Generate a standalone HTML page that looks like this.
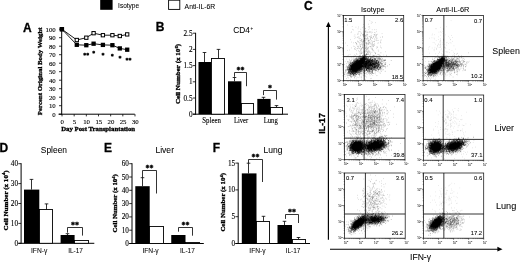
<!DOCTYPE html>
<html><head><meta charset="utf-8"><title>Figure</title>
<style>
html,body{margin:0;padding:0;background:#fff;}
svg{display:block;overflow:hidden}
#fig{filter:blur(0.4px)}
.s{font-family:'Liberation Sans', Arial, sans-serif;fill:#000;stroke:#000;stroke-width:.06px}
.t{font-family:'Liberation Serif', 'Times New Roman', serif;fill:#000;stroke:#000;stroke-width:.32px}
</style></head><body>
<svg width="520" height="262" viewBox="0 0 520 262">
<rect x="-10" y="-10" width="540" height="282" fill="#fff"/>
<g id="fig">
<rect x="100.20" y="-3.00" width="12.40" height="12.80" fill="#000"/>
<text class="s" x="118.1" y="8.3" font-size="6.7" text-anchor="start" textLength="21" lengthAdjust="spacingAndGlyphs">Isotype</text>
<rect x="168.60" y="0.20" width="11.20" height="9.20" fill="#fff" stroke="#000" stroke-width="0.9"/>
<text class="s" x="184.6" y="8.5" font-size="6.7" text-anchor="start" textLength="30.6" lengthAdjust="spacingAndGlyphs">Anti-IL-6R</text>
<text class="s" x="23.1" y="31.8" font-size="12" font-weight="bold" style="stroke-width:.3px" text-anchor="start">A</text>
<text class="s" x="155.7" y="31.4" font-size="12" font-weight="bold" style="stroke-width:.3px" text-anchor="start">B</text>
<text class="s" x="304" y="10.1" font-size="12" font-weight="bold" style="stroke-width:.3px" text-anchor="start">C</text>
<text class="s" x="-0.6" y="151.8" font-size="12" font-weight="bold" style="stroke-width:.3px" text-anchor="start">D</text>
<text class="s" x="103.9" y="152" font-size="12" font-weight="bold" style="stroke-width:.3px" text-anchor="start">E</text>
<text class="s" x="212.8" y="152" font-size="12" font-weight="bold" style="stroke-width:.3px" text-anchor="start">F</text>
<line x1="61.7" y1="28" x2="61.7" y2="114.7" stroke="#000" stroke-width="1"/>
<line x1="58.5" y1="114.2" x2="134.8" y2="114.2" stroke="#000" stroke-width="1"/>
<line x1="59.0" y1="114.2" x2="61.7" y2="114.2" stroke="#000" stroke-width="0.8"/>
<text class="t" x="55.7" y="116.8" font-size="6.8" style="stroke-width:.12px" text-anchor="end">0</text>
<line x1="59.0" y1="105.7" x2="61.7" y2="105.7" stroke="#000" stroke-width="0.8"/>
<text class="t" x="55.7" y="108.3" font-size="6.8" style="stroke-width:.12px" text-anchor="end">10</text>
<line x1="59.0" y1="97.2" x2="61.7" y2="97.2" stroke="#000" stroke-width="0.8"/>
<text class="t" x="55.7" y="99.8" font-size="6.8" style="stroke-width:.12px" text-anchor="end">20</text>
<line x1="59.0" y1="88.7" x2="61.7" y2="88.7" stroke="#000" stroke-width="0.8"/>
<text class="t" x="55.7" y="91.3" font-size="6.8" style="stroke-width:.12px" text-anchor="end">30</text>
<line x1="59.0" y1="80.2" x2="61.7" y2="80.2" stroke="#000" stroke-width="0.8"/>
<text class="t" x="55.7" y="82.8" font-size="6.8" style="stroke-width:.12px" text-anchor="end">40</text>
<line x1="59.0" y1="71.7" x2="61.7" y2="71.7" stroke="#000" stroke-width="0.8"/>
<text class="t" x="55.7" y="74.3" font-size="6.8" style="stroke-width:.12px" text-anchor="end">50</text>
<line x1="59.0" y1="63.2" x2="61.7" y2="63.2" stroke="#000" stroke-width="0.8"/>
<text class="t" x="55.7" y="65.8" font-size="6.8" style="stroke-width:.12px" text-anchor="end">60</text>
<line x1="59.0" y1="54.7" x2="61.7" y2="54.7" stroke="#000" stroke-width="0.8"/>
<text class="t" x="55.7" y="57.300000000000004" font-size="6.8" style="stroke-width:.12px" text-anchor="end">70</text>
<line x1="59.0" y1="46.2" x2="61.7" y2="46.2" stroke="#000" stroke-width="0.8"/>
<text class="t" x="55.7" y="48.800000000000004" font-size="6.8" style="stroke-width:.12px" text-anchor="end">80</text>
<line x1="59.0" y1="37.7" x2="61.7" y2="37.7" stroke="#000" stroke-width="0.8"/>
<text class="t" x="55.7" y="40.300000000000004" font-size="6.8" style="stroke-width:.12px" text-anchor="end">90</text>
<line x1="59.0" y1="29.200000000000003" x2="61.7" y2="29.200000000000003" stroke="#000" stroke-width="0.8"/>
<text class="t" x="55.7" y="31.800000000000004" font-size="6.8" style="stroke-width:.12px" text-anchor="end">100</text>
<line x1="62.0" y1="114.2" x2="62.0" y2="116.4" stroke="#000" stroke-width="0.8"/>
<text class="t" x="62.3" y="124.1" font-size="6.8" style="stroke-width:.12px" text-anchor="middle">0</text>
<line x1="74.16499999999999" y1="114.2" x2="74.16499999999999" y2="116.4" stroke="#000" stroke-width="0.8"/>
<text class="t" x="74.46499999999999" y="124.1" font-size="6.8" style="stroke-width:.12px" text-anchor="middle">5</text>
<line x1="86.33" y1="114.2" x2="86.33" y2="116.4" stroke="#000" stroke-width="0.8"/>
<text class="t" x="86.63" y="124.1" font-size="6.8" style="stroke-width:.12px" text-anchor="middle">10</text>
<line x1="98.495" y1="114.2" x2="98.495" y2="116.4" stroke="#000" stroke-width="0.8"/>
<text class="t" x="98.795" y="124.1" font-size="6.8" style="stroke-width:.12px" text-anchor="middle">15</text>
<line x1="110.66" y1="114.2" x2="110.66" y2="116.4" stroke="#000" stroke-width="0.8"/>
<text class="t" x="110.96" y="124.1" font-size="6.8" style="stroke-width:.12px" text-anchor="middle">20</text>
<line x1="122.82499999999999" y1="114.2" x2="122.82499999999999" y2="116.4" stroke="#000" stroke-width="0.8"/>
<text class="t" x="123.12499999999999" y="124.1" font-size="6.8" style="stroke-width:.12px" text-anchor="middle">25</text>
<line x1="134.99" y1="114.2" x2="134.99" y2="116.4" stroke="#000" stroke-width="0.8"/>
<text class="t" x="135.29000000000002" y="124.1" font-size="6.8" style="stroke-width:.12px" text-anchor="middle">30</text>
<text class="t" x="61.2" y="131.4" font-size="6.5" font-weight="bold" text-anchor="start" textLength="73.9" lengthAdjust="spacingAndGlyphs">Day Post Transplantation</text>
<text class="t" x="41.8" y="115.2" font-size="7" font-weight="bold" text-anchor="start" transform="rotate(-90 41.8 115.2)" textLength="87.7" lengthAdjust="spacingAndGlyphs">Percent Original Body Weight</text>
<polyline points="61.90,29.20 76.80,40.00 86.30,37.70 93.60,33.20 102.90,35.20 112.40,35.20 119.80,36.00 127.20,34.40" fill="none" stroke="#000" stroke-width="0.9"/>
<polyline points="61.90,29.20 76.80,44.80 86.30,45.20 93.60,43.70 102.90,44.90 112.40,45.20 119.80,48.40 127.20,49.70" fill="none" stroke="#000" stroke-width="0.9"/>
<rect x="60.25" y="27.55" width="3.30" height="3.30" fill="#fff" stroke="#000" stroke-width="1.0"/>
<rect x="75.15" y="38.35" width="3.30" height="3.30" fill="#fff" stroke="#000" stroke-width="1.0"/>
<rect x="84.65" y="36.05" width="3.30" height="3.30" fill="#fff" stroke="#000" stroke-width="1.0"/>
<rect x="91.95" y="31.55" width="3.30" height="3.30" fill="#fff" stroke="#000" stroke-width="1.0"/>
<rect x="101.25" y="33.55" width="3.30" height="3.30" fill="#fff" stroke="#000" stroke-width="1.0"/>
<rect x="110.75" y="33.55" width="3.30" height="3.30" fill="#fff" stroke="#000" stroke-width="1.0"/>
<rect x="118.15" y="34.35" width="3.30" height="3.30" fill="#fff" stroke="#000" stroke-width="1.0"/>
<rect x="125.55" y="32.75" width="3.30" height="3.30" fill="#fff" stroke="#000" stroke-width="1.0"/>
<rect x="59.75" y="27.05" width="4.30" height="4.30" fill="#000"/>
<rect x="74.65" y="42.65" width="4.30" height="4.30" fill="#000"/>
<rect x="84.15" y="43.05" width="4.30" height="4.30" fill="#000"/>
<rect x="91.45" y="41.55" width="4.30" height="4.30" fill="#000"/>
<rect x="100.75" y="42.75" width="4.30" height="4.30" fill="#000"/>
<rect x="110.25" y="43.05" width="4.30" height="4.30" fill="#000"/>
<rect x="117.65" y="46.25" width="4.30" height="4.30" fill="#000"/>
<rect x="125.05" y="47.55" width="4.30" height="4.30" fill="#000"/>
<text class="t" x="86.25" y="57.050000000000004" font-size="6" font-weight="bold" text-anchor="middle">**</text>
<text class="t" x="93.8" y="54.65" font-size="6" font-weight="bold" text-anchor="middle">*</text>
<text class="t" x="102.9" y="57.050000000000004" font-size="6" font-weight="bold" text-anchor="middle">*</text>
<text class="t" x="112.15" y="58.050000000000004" font-size="6" font-weight="bold" text-anchor="middle">*</text>
<text class="t" x="120" y="60.35" font-size="6" font-weight="bold" text-anchor="middle">*</text>
<text class="t" x="128.4" y="61.85" font-size="6" font-weight="bold" text-anchor="middle">**</text>
<line x1="195.6" y1="32.800000000000004" x2="195.6" y2="114.7" stroke="#000" stroke-width="1"/>
<line x1="192.79999999999998" y1="114.2" x2="288" y2="114.2" stroke="#000" stroke-width="1"/>
<line x1="192.79999999999998" y1="114.2" x2="195.6" y2="114.2" stroke="#000" stroke-width="0.8"/>
<text class="t" x="192.5" y="116.7" font-size="7.2" style="stroke-width:.12px" text-anchor="end">0</text>
<line x1="192.79999999999998" y1="98.0" x2="195.6" y2="98.0" stroke="#000" stroke-width="0.8"/>
<text class="t" x="192.5" y="100.5" font-size="7.2" style="stroke-width:.12px" text-anchor="end">0.5</text>
<line x1="192.79999999999998" y1="81.80000000000001" x2="195.6" y2="81.80000000000001" stroke="#000" stroke-width="0.8"/>
<text class="t" x="192.5" y="84.30000000000001" font-size="7.2" style="stroke-width:.12px" text-anchor="end">1</text>
<line x1="192.79999999999998" y1="65.6" x2="195.6" y2="65.6" stroke="#000" stroke-width="0.8"/>
<text class="t" x="192.5" y="68.1" font-size="7.2" style="stroke-width:.12px" text-anchor="end">1.5</text>
<line x1="192.79999999999998" y1="49.400000000000006" x2="195.6" y2="49.400000000000006" stroke="#000" stroke-width="0.8"/>
<text class="t" x="192.5" y="51.900000000000006" font-size="7.2" style="stroke-width:.12px" text-anchor="end">2</text>
<line x1="192.79999999999998" y1="33.2" x2="195.6" y2="33.2" stroke="#000" stroke-width="0.8"/>
<text class="t" x="192.5" y="35.7" font-size="7.2" style="stroke-width:.12px" text-anchor="end">2.5</text>
<line x1="204.5" y1="52.5" x2="204.5" y2="62" stroke="#000" stroke-width="0.8"/>
<line x1="202.7" y1="52.5" x2="206.3" y2="52.5" stroke="#000" stroke-width="0.8"/>
<rect x="198.50" y="62.00" width="12.50" height="52.20" fill="#000"/>
<line x1="218.5" y1="49.4" x2="218.5" y2="58.2" stroke="#000" stroke-width="0.8"/>
<line x1="216.7" y1="49.4" x2="220.3" y2="49.4" stroke="#000" stroke-width="0.8"/>
<rect x="211.50" y="58.50" width="13.00" height="55.70" fill="#fff" stroke="#000" stroke-width="0.9"/>
<line x1="234.5" y1="77.5" x2="234.5" y2="81.3" stroke="#000" stroke-width="0.8"/>
<line x1="232.7" y1="77.5" x2="236.3" y2="77.5" stroke="#000" stroke-width="0.8"/>
<rect x="228.00" y="81.30" width="13.40" height="32.90" fill="#000"/>
<rect x="241.50" y="103.50" width="12.00" height="10.70" fill="#fff" stroke="#000" stroke-width="0.9"/>
<line x1="263.5" y1="97.3" x2="263.5" y2="98.9" stroke="#000" stroke-width="0.8"/>
<line x1="261.7" y1="97.3" x2="265.3" y2="97.3" stroke="#000" stroke-width="0.8"/>
<rect x="257.30" y="98.90" width="13.30" height="15.30" fill="#000"/>
<line x1="276.5" y1="105.6" x2="276.5" y2="107.6" stroke="#000" stroke-width="0.8"/>
<line x1="274.7" y1="105.6" x2="278.3" y2="105.6" stroke="#000" stroke-width="0.8"/>
<rect x="270.50" y="107.50" width="12.00" height="6.70" fill="#fff" stroke="#000" stroke-width="0.9"/>
<text class="t" x="202.3" y="122.9" font-size="7.4" style="stroke-width:.12px" text-anchor="start" textLength="18.6" lengthAdjust="spacingAndGlyphs">Spleen</text>
<text class="t" x="234" y="122.9" font-size="7.4" style="stroke-width:.12px" text-anchor="start" textLength="14.2" lengthAdjust="spacingAndGlyphs">Liver</text>
<text class="t" x="263.8" y="122.9" font-size="7.4" style="stroke-width:.12px" text-anchor="start" textLength="13.9" lengthAdjust="spacingAndGlyphs">Lung</text>
<polyline points="234.5,76.8 234.5,72.5 246.5,72.5 246.5,86.2" fill="none" stroke="#000" stroke-width="0.8"/>
<text class="t" x="240.5" y="72.6" font-size="8" font-weight="bold" text-anchor="middle">**</text>
<polyline points="263.5,95.1 263.5,90.5 276.5,90.5 276.5,99.6" fill="none" stroke="#000" stroke-width="0.8"/>
<text class="t" x="270.0" y="90.6" font-size="8" font-weight="bold" text-anchor="middle">*</text>
<text class="t" x="180.3" y="104.1" font-size="7" font-weight="bold" text-anchor="start" transform="rotate(-90 180.3 104.1)" textLength="60.2" lengthAdjust="spacingAndGlyphs">Cell Number (x 10<tspan font-size="4.6" dy="-2.3">6</tspan><tspan dy="2.3">)</tspan></text>
<text class="s" x="233.2" y="33" font-size="8.3">CD4<tspan font-size="4.5" dy="-3.2" dx="0.6">+</tspan></text>
<line x1="21.1" y1="163.2" x2="21.1" y2="243.8" stroke="#000" stroke-width="1"/>
<line x1="18.3" y1="243.3" x2="94.3" y2="243.3" stroke="#000" stroke-width="1"/>
<line x1="18.3" y1="243.3" x2="21.1" y2="243.3" stroke="#000" stroke-width="0.8"/>
<text class="t" x="18.0" y="245.8" font-size="7.2" style="stroke-width:.12px" text-anchor="end">0</text>
<line x1="18.3" y1="223.4" x2="21.1" y2="223.4" stroke="#000" stroke-width="0.8"/>
<text class="t" x="18.0" y="225.9" font-size="7.2" style="stroke-width:.12px" text-anchor="end">10</text>
<line x1="18.3" y1="203.5" x2="21.1" y2="203.5" stroke="#000" stroke-width="0.8"/>
<text class="t" x="18.0" y="206.0" font-size="7.2" style="stroke-width:.12px" text-anchor="end">20</text>
<line x1="18.3" y1="183.6" x2="21.1" y2="183.6" stroke="#000" stroke-width="0.8"/>
<text class="t" x="18.0" y="186.1" font-size="7.2" style="stroke-width:.12px" text-anchor="end">30</text>
<line x1="18.3" y1="163.7" x2="21.1" y2="163.7" stroke="#000" stroke-width="0.8"/>
<text class="t" x="18.0" y="166.2" font-size="7.2" style="stroke-width:.12px" text-anchor="end">40</text>
<line x1="31.5" y1="179.4" x2="31.5" y2="189.6" stroke="#000" stroke-width="0.8"/>
<line x1="29.7" y1="179.4" x2="33.3" y2="179.4" stroke="#000" stroke-width="0.8"/>
<rect x="24.00" y="189.60" width="15.30" height="53.70" fill="#000"/>
<line x1="46.5" y1="203.9" x2="46.5" y2="209.6" stroke="#000" stroke-width="0.8"/>
<line x1="44.7" y1="203.9" x2="48.3" y2="203.9" stroke="#000" stroke-width="0.8"/>
<rect x="39.50" y="209.50" width="13.00" height="33.80" fill="#fff" stroke="#000" stroke-width="0.9"/>
<line x1="67.5" y1="233.7" x2="67.5" y2="235" stroke="#000" stroke-width="0.8"/>
<line x1="65.7" y1="233.7" x2="69.3" y2="233.7" stroke="#000" stroke-width="0.8"/>
<rect x="60.60" y="235.00" width="14.00" height="8.30" fill="#000"/>
<rect x="74.50" y="240.50" width="14.00" height="2.80" fill="#fff" stroke="#000" stroke-width="0.9"/>
<text class="s" x="31" y="252.5" font-size="6.4" text-anchor="start" textLength="16.3" lengthAdjust="spacingAndGlyphs">IFN-γ</text>
<text class="s" x="68.2" y="252.5" font-size="6.4" text-anchor="start" textLength="14.8" lengthAdjust="spacingAndGlyphs">IL-17</text>
<polyline points="67.5,232.7 67.5,227.5 82.5,227.5 82.5,235.6" fill="none" stroke="#000" stroke-width="0.8"/>
<text class="t" x="75.0" y="227.6" font-size="8" font-weight="bold" text-anchor="middle">**</text>
<text class="t" x="7.6" y="230.4" font-size="7" font-weight="bold" text-anchor="start" transform="rotate(-90 7.6 230.4)" textLength="60" lengthAdjust="spacingAndGlyphs">Cell Number (x 10<tspan font-size="4.6" dy="-2.3">4</tspan><tspan dy="2.3">)</tspan></text>
<text class="s" x="40.8" y="152.5" font-size="9" text-anchor="start" textLength="26.2" lengthAdjust="spacingAndGlyphs">Spleen</text>
<line x1="132" y1="163.2" x2="132" y2="244.0" stroke="#000" stroke-width="1"/>
<line x1="129.2" y1="243.5" x2="203.8" y2="243.5" stroke="#000" stroke-width="1"/>
<line x1="129.2" y1="243.5" x2="132" y2="243.5" stroke="#000" stroke-width="0.8"/>
<text class="t" x="128.9" y="246.0" font-size="7.2" style="stroke-width:.12px" text-anchor="end">0</text>
<line x1="129.2" y1="230.2" x2="132" y2="230.2" stroke="#000" stroke-width="0.8"/>
<text class="t" x="128.9" y="232.7" font-size="7.2" style="stroke-width:.12px" text-anchor="end">10</text>
<line x1="129.2" y1="216.9" x2="132" y2="216.9" stroke="#000" stroke-width="0.8"/>
<text class="t" x="128.9" y="219.4" font-size="7.2" style="stroke-width:.12px" text-anchor="end">20</text>
<line x1="129.2" y1="203.6" x2="132" y2="203.6" stroke="#000" stroke-width="0.8"/>
<text class="t" x="128.9" y="206.1" font-size="7.2" style="stroke-width:.12px" text-anchor="end">30</text>
<line x1="129.2" y1="190.29999999999998" x2="132" y2="190.29999999999998" stroke="#000" stroke-width="0.8"/>
<text class="t" x="128.9" y="192.79999999999998" font-size="7.2" style="stroke-width:.12px" text-anchor="end">40</text>
<line x1="129.2" y1="177.0" x2="132" y2="177.0" stroke="#000" stroke-width="0.8"/>
<text class="t" x="128.9" y="179.5" font-size="7.2" style="stroke-width:.12px" text-anchor="end">50</text>
<line x1="129.2" y1="163.7" x2="132" y2="163.7" stroke="#000" stroke-width="0.8"/>
<text class="t" x="128.9" y="166.2" font-size="7.2" style="stroke-width:.12px" text-anchor="end">60</text>
<line x1="142.5" y1="177.7" x2="142.5" y2="186.2" stroke="#000" stroke-width="0.8"/>
<line x1="140.7" y1="177.7" x2="144.3" y2="177.7" stroke="#000" stroke-width="0.8"/>
<rect x="135.30" y="186.20" width="14.40" height="57.30" fill="#000"/>
<rect x="149.50" y="226.50" width="14.00" height="17.00" fill="#fff" stroke="#000" stroke-width="0.9"/>
<rect x="171.25" y="235.00" width="14.25" height="8.50" fill="#000"/>
<rect x="185.50" y="242.50" width="14.00" height="1.00" fill="#fff" stroke="#000" stroke-width="0.9"/>
<text class="s" x="142.4" y="252.5" font-size="6.4" text-anchor="start" textLength="16.3" lengthAdjust="spacingAndGlyphs">IFN-γ</text>
<text class="s" x="180" y="252.5" font-size="6.4" text-anchor="start" textLength="14.8" lengthAdjust="spacingAndGlyphs">IL-17</text>
<polyline points="142.5,177.7 142.5,170.5 156.5,170.5 156.5,193.5" fill="none" stroke="#000" stroke-width="0.8"/>
<text class="t" x="149.5" y="170.6" font-size="8" font-weight="bold" text-anchor="middle">**</text>
<polyline points="178.5,231.7 178.5,227.5 192.5,227.5 192.5,235.7" fill="none" stroke="#000" stroke-width="0.8"/>
<text class="t" x="185.5" y="227.6" font-size="8" font-weight="bold" text-anchor="middle">**</text>
<text class="t" x="116.9" y="232.4" font-size="7" font-weight="bold" text-anchor="start" transform="rotate(-90 116.9 232.4)" textLength="58.2" lengthAdjust="spacingAndGlyphs">Cell Number (x 10<tspan font-size="4.6" dy="-2.3">4</tspan><tspan dy="2.3">)</tspan></text>
<text class="s" x="155.4" y="152.6" font-size="9" text-anchor="start" textLength="18.6" lengthAdjust="spacingAndGlyphs">Liver</text>
<line x1="238.2" y1="162.7" x2="238.2" y2="244.0" stroke="#000" stroke-width="1"/>
<line x1="235.39999999999998" y1="243.5" x2="310" y2="243.5" stroke="#000" stroke-width="1"/>
<line x1="235.39999999999998" y1="243.5" x2="238.2" y2="243.5" stroke="#000" stroke-width="0.8"/>
<text class="t" x="235.1" y="246.0" font-size="7.2" style="stroke-width:.12px" text-anchor="end">0</text>
<line x1="235.39999999999998" y1="216.7" x2="238.2" y2="216.7" stroke="#000" stroke-width="0.8"/>
<text class="t" x="235.1" y="219.2" font-size="7.2" style="stroke-width:.12px" text-anchor="end">5</text>
<line x1="235.39999999999998" y1="189.9" x2="238.2" y2="189.9" stroke="#000" stroke-width="0.8"/>
<text class="t" x="235.1" y="192.4" font-size="7.2" style="stroke-width:.12px" text-anchor="end">10</text>
<line x1="235.39999999999998" y1="163.1" x2="238.2" y2="163.1" stroke="#000" stroke-width="0.8"/>
<text class="t" x="235.1" y="165.6" font-size="7.2" style="stroke-width:.12px" text-anchor="end">15</text>
<line x1="248.5" y1="163.2" x2="248.5" y2="173.4" stroke="#000" stroke-width="0.8"/>
<line x1="246.7" y1="163.2" x2="250.3" y2="163.2" stroke="#000" stroke-width="0.8"/>
<rect x="241.80" y="173.40" width="14.70" height="70.10" fill="#000"/>
<line x1="263.5" y1="216.3" x2="263.5" y2="221.5" stroke="#000" stroke-width="0.8"/>
<line x1="261.7" y1="216.3" x2="265.3" y2="216.3" stroke="#000" stroke-width="0.8"/>
<rect x="256.50" y="221.50" width="13.00" height="22.00" fill="#fff" stroke="#000" stroke-width="0.9"/>
<line x1="284.5" y1="221.3" x2="284.5" y2="225" stroke="#000" stroke-width="0.8"/>
<line x1="282.7" y1="221.3" x2="286.3" y2="221.3" stroke="#000" stroke-width="0.8"/>
<rect x="277.50" y="225.00" width="14.50" height="18.50" fill="#000"/>
<line x1="298.5" y1="237.5" x2="298.5" y2="239" stroke="#000" stroke-width="0.8"/>
<line x1="296.7" y1="237.5" x2="300.3" y2="237.5" stroke="#000" stroke-width="0.8"/>
<rect x="292.50" y="239.50" width="13.00" height="4.00" fill="#fff" stroke="#000" stroke-width="0.9"/>
<text class="s" x="249.3" y="252.5" font-size="6.4" text-anchor="start" textLength="16.3" lengthAdjust="spacingAndGlyphs">IFN-γ</text>
<text class="s" x="285.6" y="252.5" font-size="6.4" text-anchor="start" textLength="14.8" lengthAdjust="spacingAndGlyphs">IL-17</text>
<polyline points="248.5,163 248.5,159.5 262.5,159.5 262.5,182" fill="none" stroke="#000" stroke-width="0.8"/>
<text class="t" x="255.5" y="159.6" font-size="8" font-weight="bold" text-anchor="middle">**</text>
<polyline points="285.5,218.9 285.5,214.5 298.5,214.5 298.5,223" fill="none" stroke="#000" stroke-width="0.8"/>
<text class="t" x="292.0" y="214.6" font-size="8" font-weight="bold" text-anchor="middle">**</text>
<text class="t" x="225.2" y="231.6" font-size="7" font-weight="bold" text-anchor="start" transform="rotate(-90 225.2 231.6)" textLength="58.6" lengthAdjust="spacingAndGlyphs">Cell Number (x 10<tspan font-size="4.6" dy="-2.3">4</tspan><tspan dy="2.3">)</tspan></text>
<text class="s" x="263.4" y="152.5" font-size="9" text-anchor="start" textLength="19" lengthAdjust="spacingAndGlyphs">Lung</text>
<text class="s" x="361" y="11.5" font-size="7.2" text-anchor="start" textLength="23.6" lengthAdjust="spacingAndGlyphs">Isotype</text>
<text class="s" x="436.3" y="11.5" font-size="7.2" text-anchor="start" textLength="33" lengthAdjust="spacingAndGlyphs">Anti-IL-6R</text>
<text class="s" x="492.3" y="54.2" font-size="8.8" text-anchor="start" textLength="27.6" lengthAdjust="spacingAndGlyphs">Spleen</text>
<text class="s" x="494.5" y="130.7" font-size="8.8" text-anchor="start" textLength="19.6" lengthAdjust="spacingAndGlyphs">Liver</text>
<text class="s" x="495.9" y="208.7" font-size="8.8" text-anchor="start" textLength="20.4" lengthAdjust="spacingAndGlyphs">Lung</text>
<text class="s" x="325.2" y="133.7" font-size="8.8" font-weight="bold" style="stroke-width:.3px" text-anchor="start" transform="rotate(-90 325.2 133.7)" textLength="20.6" lengthAdjust="spacingAndGlyphs">IL-17</text>
<text class="s" x="410.0" y="259.6" font-size="8.6" text-anchor="start">IFN-γ</text>
<line x1="328.4" y1="26" x2="328.4" y2="239.7" stroke="#000" stroke-width="1.15"/>
<polygon points="328.4,21.7 326,26.9 330.8,26.9" fill="#000"/>
<line x1="330" y1="249.2" x2="498" y2="249.2" stroke="#000" stroke-width="1.15"/>
<polygon points="502.5,249.2 497.4,246.8 497.4,251.6" fill="#000"/>
<rect x="343.5" y="15.4" width="60.20" height="65.30" fill="#fff" stroke="#111" stroke-width="0.75"/>
<path transform="scale(.1)" d="M3661 538h5m-26 6h5m15 0h5m1 1h5m-72 13h5m19-3h5m-1 0h5m5 1h5m-1-2h5m-3 1h5m3 3h5m-4 1h5m1-9h5m-77 18h5m2-7h5m-1 1h5m5 6h5m16 0h5m-2 0h5m0-2h5m-5 3h5m-4-3h5m-5 3h5m-2-2h5m-3-2h5m-2-2h5m-4 5h5m5-6h5m-95 17h5m7-9h5m10 9h5m3-1h5m2 1h5m-3-3h5m1-3h5m-2 4h5m-4-1h5m-5-3h5m0 0h5m-3-2h5m-5 2h5m-5 5h5m-3-6h5m-5 6h5m-4 1h5m-4-6h5m-3 5h5m-5-1h5m-4-3h5m-4-2h5m-5 2h5m-5 2h5m-4 1h5m-4 2h5m-5-6h5m-4-1h5m-2-2h5m-4 7h5m-4 0h5m-4-2h5m-3-2h5m-5 6h5m-1-2h5m-4-7h5m-3 0h5m-4 7h5m4 1h5m-113 7h5m0 1h5m18 1h5m5-2h5m-4-2h5m-1 1h5m-2-4h5m0 6h5m-4 0h5m-5-1h5m-5 2h5m-4 2h5m-4-4h5m-5-1h5m-4-1h5m-5 2h5m-3 2h5m-4-1h5m-1 2h5m-4 1h5m-4-1h5m-5-7h5m-4 7h5m-5-4h5m-4 2h5m-4 1h5m-4-3h5m-5 2h5m-5 3h5m-4-4h5m-5 3h5m0 0h5m-4-5h5m-3 4h5m-4 2h5m-3-2h5m-5-1h5m-4-4h5m-4-2h5m-4 2h5m-5 5h5m-5-1h5m-4-2h5m-4 4h5m-3-4h5m-4-3h5m-4 2h5m-5 4h5m-4-4h5m-4 1h5m-2 0h5m-2 2h5m0-6h5m-2 6h5m-4-6h5m-3 4h5m-5-4h5m0 8h5m-120 5h5m-1 3h5m3-3h5m-4-2h5m-2 6h5m-4-1h5m1-4h5m-5 6h5m-2-3h5m3 3h5m-4-5h5m1-3h5m-1 4h5m-5-3h5m-4 3h5m-5-2h5m-4 4h5m-4-2h5m-2-1h5m-5-1h5m-4 7h5m-3-1h5m-4-4h5m-3 0h5m-5 4h5m-4 1h5m-4-7h5m-5 6h5m-4-2h5m-3-1h5m-5 4h5m-4 0h5m-5-3h5m-4-6h5m-5 1h5m-4 1h5m-4 3h5m-4-5h5m-5 1h5m-5 3h5m-4 1h5m-5 3h5m-4-8h5m-4 3h5m-5 3h5m-4-1h5m-3-1h5m-4-3h5m-5 3h5m-4 0h5m-5 2h5m-5 2h5m-5-8h5m-5 1h5m-3 6h5m-5-1h5m-5-6h5m-5 1h5m-4 4h5m-5-3h5m-4 4h5m-4 0h5m-5-1h5m-3 3h5m-5-6h5m-5 3h5m-5-1h5m-4-4h5m-5 4h5m-3-2h5m-3 1h5m-5 2h5m-5 2h5m-4 1h5m-4-6h5m-5 3h5m-5 3h5m-3-1h5m-3-3h5m-5-2h5m-4 2h5m-4 0h5m-2 4h5m-5-6h5m-2 2h5m-4-1h5m4-3h5m1 4h5m-144 15h5m1-5h5m4 3h5m-4-7h5m-2 9h5m1-9h5m-4 9h5m-4-3h5m-2 3h5m-2-2h5m-5 2h5m-4-4h5m-5 3h5m-2 0h5m-4-5h5m-3 1h5m-1 1h5m-5-1h5m-4 1h5m-5 1h5m-4 3h5m-5-1h5m-4 0h5m-4 0h5m-5-6h5m0 5h5m-4 2h5m-5-1h5m-3-1h5m-3 1h5m-4 1h5m-4-4h5m-3-5h5m-4 9h5m-4-2h5m-5 2h5m-4-8h5m-4 6h5m-5-1h5m-4-1h5m-5 2h5m-4 0h5m-5 1h5m-4-2h5m-4 2h5m-3-6h5m-4 4h5m-5 3h5m-4-9h5m-3 5h5m-4-2h5m-4 3h5m-5 2h5m-5-8h5m-4 0h5m-4 4h5m-5 1h5m-4-1h5m-5 3h5m-4 2h5m-4-2h5m-5 2h5m-5-7h5m-3-1h5m-5 2h5m-5 2h5m-4 4h5m-5-6h5m-5 2h5m-4-2h5m-5 6h5m-5-7h5m-4 1h5m-5 4h5m-5-1h5m-4-4h5m-5 3h5m-4-3h5m-5 7h5m-5-1h5m-4 0h5m-5-6h5m-4 0h5m-3-2h5m-5 2h5m-5 2h5m-5 2h5m-2 0h5m-5-6h5m-4 0h5m-5 1h5m-4-1h5m-4 0h5m-5 2h5m-5-1h5m-4 4h5m-5-4h5m-2 7h5m-5-2h5m-4-5h5m-3 0h5m-5 5h5m-2-6h5m-3 5h5m-3-2h5m-4-2h5m-4-1h5m-4 4h5m-151 8h5m25 7h5m7-4h5m-4 3h5m-4-4h5m-2 3h5m-5-3h5m-3 4h5m-4 1h5m-5-1h5m-2-5h5m-4 5h5m-2-3h5m-5 3h5m-2-8h5m-5 2h5m-4-1h5m-3 7h5m-5-5h5m-3 1h5m-5 1h5m-4-1h5m-4 2h5m-4-5h5m-5 2h5m-4-2h5m-5 2h5m-4-2h5m-2 0h5m-4 6h5m-5-6h5m-1 2h5m-5 2h5m-5 3h5m-3-2h5m-4 2h5m-5-5h5m-4 0h5m-3 5h5m-4 0h5m-4-7h5m-5 2h5m-4 1h5m-5 1h5m-5 4h5m-4-8h5m-5 3h5m-5 4h5m-4 1h5m-3-8h5m-4 6h5m-5 2h5m-4-2h5m-5-7h5m-3 9h5m-4-2h5m-5-4h5m-4 5h5m-5-8h5m-4 2h5m-5 2h5m-5 5h5m-4-9h5m-4 5h5m-3-4h5m-5 5h5m-5 3h5m-4-8h5m-5 2h5m-4 3h5m-4-4h5m-5 4h5m-5 2h5m-4-3h5m-4 2h5m-5-7h5m-4 3h5m-4 0h5m-5 3h5m-4-2h5m-5-1h5m-4 1h5m-5 2h5m-5-1h5m-5 2h5m-3-1h5m-5-1h5m-5 3h5m-5-7h5m-5-1h5m-4 1h5m-4-1h5m-5 7h5m-4 1h5m-5-1h5m-5-7h5m-4 8h5m-5-8h5m-5 2h5m-4-2h5m-5 8h5m-4-7h5m-5 8h5m-5-1h5m-4-5h5m-5 3h5m-5-1h5m-5 2h5m-4-3h5m-5 1h5m-5 3h5m-4-5h5m-5-3h5m-4 0h5m-4 8h5m-4-7h5m-4 7h5m-5-6h5m-5-1h5m-5 2h5m-3 1h5m-4-4h5m-5 2h5m-2 2h5m-2 1h5m-3-5h5m-5 6h5m-3-6h5m-3 9h5m-4-7h5m0 4h5m7-3h5m2-2h5m-172 17h5m13-8h5m-5 5h5m-1 1h5m-2-3h5m-5 5h5m1-2h5m6-1h5m-5-1h5m-4 4h5m-3-1h5m-5-3h5m1 3h5m-4 0h5m-4-1h5m-2 0h5m-5-1h5m-5-3h5m-3-1h5m-4 3h5m-5 5h5m-3-3h5m-5-1h5m-4 3h5m-5 1h5m-3-9h5m-4 6h5m-4 1h5m-4 2h5m-4-1h5m-3-4h5m-5-1h5m-5 2h5m-5 2h5m-5 2h5m-4-8h5m-5 3h5m-3 3h5m-4-6h5m-4 3h5m-5 5h5m-5-8h5m-4 5h5m-5 1h5m-5 2h5m-4-6h5m-4 4h5m-4-3h5m-5-1h5m-4 4h5m-5-7h5m-4 4h5m-4-1h5m-5 4h5m-4 0h5m-5-4h5m-4 6h5m-4-4h5m-5 3h5m-4-2h5m-5-1h5m-4-5h5m-5 8h5m-4-1h5m-4 0h5m-4-1h5m-4-4h5m-5 2h5m-4-4h5m-5 2h5m-4 0h5m-5 3h5m-4 3h5m-5-4h5m-5-1h5m-5 2h5m-4 0h5m-5 2h5m-5-4h5m-4 3h5m-5 2h5m-4-1h5m-5-5h5m-4 3h5m-4-1h5m-4 5h5m-4-3h5m-5 1h5m-4-7h5m-5 4h5m-4 0h5m-5 2h5m-5-5h5m-4-1h5m-4 0h5m-5 6h5m-4-2h5m-5-4h5m-4 8h5m-5-1h5m-5-6h5m-4 5h5m-5-5h5m-4 8h5m-5-8h5m-4 5h5m-4 3h5m-4-3h5m-5-6h5m-4 3h5m-4-3h5m-3 0h5m-5 8h5m-5-1h5m-4-7h5m-4 8h5m-5-1h5m-4-1h5m-5 2h5m-4 0h5m-4-8h5m-3 2h5m-4-2h5m-5 3h5m-4 2h5m-5 3h5m-5-6h5m-1 1h5m-5-1h5m-4 5h5m-5-4h5m-5-1h5m-4 5h5m-2 1h5m-4-7h5m-5 7h5m-4-2h5m-3-4h5m-5-2h5m-4 2h5m-5 7h5m-2 0h5m1-5h5m-149 15h5m1-5h5m-5 4h5m5 1h5m-3-4h5m-4 2h5m0-2h5m-3 1h5m-4 0h5m-4-2h5m-5 3h5m-4 0h5m-4-4h5m-4-3h5m-5 1h5m-4 6h5m-4-7h5m-4 5h5m0 1h5m-5 2h5m-5-1h5m-4 0h5m-4-1h5m-2-1h5m-4-5h5m-5 6h5m-5 1h5m-3-2h5m-4 3h5m-1-8h5m-5 4h5m-4 2h5m-5 2h5m-5-5h5m-5-1h5m-3 1h5m-4 2h5m-5-3h5m-4 7h5m-5-8h5m-5 4h5m-4-1h5m-5 4h5m-5 1h5m-4-4h5m-5 3h5m-4-8h5m-5 4h5m-5 4h5m-4-8h5m-5 4h5m-5 4h5m-5-7h5m-4 3h5m-4 2h5m-4 2h5m-5-1h5m-4-4h5m-4 0h5m-5 2h5m-5 4h5m-4-3h5m-5 2h5m-4-4h5m-4 4h5m-4-1h5m-4-1h5m-5 3h5m-4-4h5m-4 2h5m-4 0h5m-4-1h5m-4-6h5m-5 8h5m-4-4h5m-4-3h5m-4 8h5m-5-6h5m-5 2h5m-3 0h5m-5-1h5m-5 5h5m-4 0h5m-5-8h5m-5 2h5m-5-1h5m-5 2h5m-5 3h5m-4-4h5m-5 2h5m-4 3h5m-4-4h5m-5 2h5m-5 1h5m-5-6h5m-5-1h5m-4 4h5m-4 5h5m-5-9h5m-4 1h5m-4 7h5m-5-8h5m-5 3h5m-4 5h5m-5-3h5m-4 2h5m-5 2h5m-4-2h5m-5-5h5m-4 6h5m-5 1h5m-4-9h5m-5 5h5m-4-5h5m-5 3h5m-5 4h5m-4 2h5m-4-4h5m-5-1h5m-5 5h5m-4-7h5m-5 4h5m-4-5h5m-3 1h5m-5 3h5m-5 1h5m-4 2h5m-5-1h5m-5-6h5m-4 6h5m-5 2h5m-5-8h5m-4 3h5m-5 1h5m-4 0h5m-4 4h5m-5-8h5m-5 7h5m-4 1h5m-5-8h5m-4 6h5m-4-3h5m-3 4h5m-4-7h5m-5-1h5m-4 9h5m-5-1h5m-5-5h5m-5 1h5m-4-1h5m-5-3h5m-4 3h5m-5 1h5m-2 2h5m-5-6h5m-5 5h5m-4-1h5m-5-4h5m-4 1h5m-4-1h5m-4 7h5m-3 1h5m-4-4h5m-2 1h5m-4-1h5m-3 1h5m-1 3h5m0-3h5m4-1h5m-4-3h5m-3 7h5m-3 1h5m10-9h5m-188 16h5m-4-1h5m1 1h5m13 0h5m-4 3h5m-5-2h5m-2-1h5m-4 0h5m-4 1h5m-5 2h5m-5-8h5m0 3h5m-4 1h5m-2 3h5m-5-1h5m-4 2h5m-4-9h5m-5 3h5m-2 3h5m-4-6h5m-5 5h5m-5-1h5m-5 5h5m-3 0h5m-4-3h5m-4 0h5m-4-2h5m-3-1h5m-5-1h5m-4 2h5m-5 4h5m-5-1h5m-4 0h5m-5 1h5m-4 1h5m-5-9h5m-5 5h5m-5-1h5m-4 5h5m-5-6h5m-5-1h5m-4-1h5m-5 6h5m-4-5h5m-5 3h5m-5-4h5m-4 8h5m-5-1h5m-4-3h5m-3 2h5m-5-7h5m-5 9h5m-4-2h5m-5-6h5m-4 0h5m-5 2h5m-5 1h5m-5-4h5m-4 9h5m-5-6h5m-5 1h5m-4 4h5m-5-1h5m-3 0h5m-5-6h5m-5 1h5m-4 3h5m-5-1h5m-5 5h5m-4-3h5m-4 2h5m-5-6h5m-4-2h5m-5 3h5m-5 3h5m-4 3h5m-5-6h5m-5-1h5m-5 4h5m-5 2h5m-4-8h5m-5 4h5m-5 2h5m-5 1h5m-5 2h5m-4-9h5m-5 3h5m-5 2h5m-5-1h5m-5 3h5m-5-1h5m-5 2h5m-4-1h5m-5-1h5m-5 3h5m-4-7h5m-5 6h5m-3-1h5m-5-4h5m-4 2h5m-5 2h5m-5-1h5m-5 3h5m-5-9h5m-5 2h5m-5-1h5m-4 3h5m-3 2h5m-5 3h5m-4-1h5m-5-6h5m-5 1h5m-5 1h5m-4 0h5m-5 2h5m-5 2h5m-4-1h5m-5-7h5m-4 8h5m-5-8h5m-5 1h5m-5 2h5m-5-1h5m-5 5h5m-5-1h5m-4 1h5m-5 1h5m-5-7h5m-4 4h5m-5 1h5m-4-6h5m-5 2h5m-5 3h5m-5 2h5m-4-4h5m-5-1h5m-5 6h5m-5-1h5m-4-5h5m-4 0h5m-5 3h5m-4 1h5m-4-5h5m-5 2h5m-5 2h5m-5 4h5m-5-1h5m-4-8h5m-4 4h5m-5 5h5m-4-7h5m-5 3h5m-4-1h5m-5 4h5m-5-5h5m-5-1h5m-3 2h5m-5 4h5m-5-8h5m-4 5h5m-5 1h5m-5 2h5m-4-8h5m-5 1h5m-5 3h5m-5 2h5m-4 2h5m-5-2h5m-4 0h5m-5 3h5m-4-9h5m-5 5h5m-5 2h5m-4-7h5m-4 5h5m-5-1h5m-5 2h5m-5 3h5m-3-6h5m-5 2h5m-4-2h5m-5 6h5m-4-2h5m-5 2h5m-4-9h5m-4 3h5m-5 6h5m-4-9h5m-5 1h5m-3 5h5m-5 3h5m-4-1h5m-5-6h5m-4 7h5m-5-3h5m-4-4h5m-3-1h5m-5 3h5m-5 5h5m-5-1h5m-4-3h5m-5 1h5m-3-4h5m-1 5h5m-5-7h5m-5 2h5m-1 4h5m-4 0h5m-5-1h5m-3-1h5m-4-1h5m-4-1h5m-4 0h5m-5 1h5m-3 2h5m2-1h5m-2-1h5m-4 0h5m-5-3h5m0 9h5m-4-5h5m-3 0h5m4-2h5m-182 17h5m1-6h5m-1 6h5m0 0h5m-3-4h5m-3-3h5m-4 6h5m-5 1h5m-2-8h5m-5 3h5m1 0h5m-4 4h5m-4-4h5m-2-3h5m-5 8h5m-2-1h5m-4-1h5m-5 2h5m-4-1h5m-4-3h5m-5-1h5m-4 0h5m-5 3h5m-5-7h5m-3 8h5m-5-4h5m-3-1h5m-3 1h5m-5 3h5m-5-1h5m-5 2h5m-4-5h5m-4-3h5m-3 5h5m-5 3h5m-4-3h5m-5 3h5m-4-5h5m-5 3h5m-4-1h5m-5 2h5m-5 2h5m-4 0h5m-5-1h5m-5-4h5m-4 2h5m-5 3h5m-5-8h5m-5 1h5m-4 0h5m-5 1h5m-3-1h5m-5 5h5m-3-5h5m-4 6h5m-4-3h5m-5-1h5m-5 3h5m-4-7h5m-5 2h5m-5 1h5m-5 2h5m-4-3h5m-5 2h5m-5 2h5m-5 2h5m-4-3h5m-5-1h5m-5 2h5m-5 3h5m-5-8h5m-4 4h5m-4-1h5m-5-3h5m-4 4h5m-5-1h5m-4-1h5m-5 6h5m-5-7h5m-4 1h5m-4 0h5m-5 2h5m-5-5h5m-4 9h5m-5-7h5m-5 2h5m-5 3h5m-4-3h5m-5 3h5m-5 2h5m-5-7h5m-4 4h5m-5 3h5m-5-7h5m-5 3h5m-5-1h5m-4 4h5m-5-7h5m-5 3h5m-4 3h5m-5 2h5m-5-1h5m-5-5h5m-4 2h5m-5-1h5m-5 3h5m-5 2h5m-3-5h5m-5 2h5m-4-4h5m-4 2h5m-5 2h5m-4-6h5m-5 7h5m-5-1h5m-4-2h5m-5 2h5m-5 2h5m-4-5h5m-5 2h5m-5 3h5m-5-8h5m-5 1h5m-4 7h5m-5-6h5m-4 5h5m-5-1h5m-5-6h5m-5 3h5m-5-1h5m-5 3h5m-4 3h5m-5-8h5m-5 1h5m-4 5h5m-5-1h5m-4-1h5m-5 1h5m-4 0h5m-5 2h5m-5-1h5m-5 3h5m-5-6h5m-4 3h5m-5 3h5m-5-1h5m-5-7h5m-4 7h5m-5-6h5m-5 3h5m-4 2h5m-5-1h5m-5 3h5m-3-1h5m-5-8h5m-5 3h5m-5 3h5m-5-1h5m-4-4h5m-5 4h5m-5 1h5m-5 2h5m-4-3h5m-4 2h5m-5 2h5m-5-9h5m-5 2h5m-4-2h5m-5 1h5m-5 2h5m-5 3h5m-5 1h5m-5 2h5m-4-2h5m-5 2h5m-5-9h5m-5 2h5m-5-1h5m-4 6h5m-5-1h5m-4-5h5m-5 2h5m-5 6h5m-5-1h5m-5-8h5m-4 6h5m-5 3h5m-4-8h5m-5 3h5m-5 2h5m-5 1h5m-5 1h5m-5-8h5m-4 7h5m-5 2h5m-5-1h5m-5-7h5m-4 8h5m-5-8h5m-4 4h5m-4-5h5m-5 2h5m-5 1h5m-5 3h5m-4-1h5m-5-2h5m-4 1h5m-5 5h5m-4-1h5m-4-5h5m-5 3h5m-4-4h5m-4 6h5m-5-6h5m-4 5h5m-5 2h5m-4-8h5m-5 4h5m-4 1h5m-4-2h5m-5 5h5m-5-9h5m-4 4h5m-5 5h5m-5-1h5m-4-4h5m-5-2h5m-4 0h5m-5 7h5m-4 0h5m-5-7h5m-4 4h5m-5 3h5m-4-9h5m-4 3h5m1 2h5m-5-3h5m-3-1h5m-5 2h5m-2 3h5m-5 2h5m-4-5h5m-5 5h5m-3 1h5m-4-3h5m-3-6h5m-3 8h5m0-2h5m-5 3h5m-2-8h5m-1 1h5m-150 15h5m0 0h5m0-5h5m-4 3h5m-3-5h5m-5 1h5m-4 4h5m-4-5h5m-5 2h5m-5 2h5m-4-1h5m-5 4h5m-2-6h5m-4 1h5m-5 7h5m-2 0h5m-4-1h5m0-5h5m-5 2h5m-4 1h5m-4-6h5m-5 2h5m-4 2h5m-4 3h5m-5 2h5m-4-2h5m-4-1h5m-5 3h5m-4 0h5m-4-4h5m-5 3h5m-5-7h5m-4 6h5m-5 2h5m-5-1h5m-4-5h5m-5 4h5m-5 1h5m-4-5h5m-4-2h5m-5 2h5m-5 6h5m-5-1h5m-5-6h5m-4 3h5m-5 2h5m-5-5h5m-4 1h5m-5 3h5m-5-1h5m-4 1h5m-5 3h5m-5-2h5m-4 0h5m-5-7h5m-4 3h5m-5 5h5m-5-7h5m-5-1h5m-5 2h5m-5 2h5m-4-4h5m-5 5h5m-4 2h5m-5-7h5m-5 4h5m-4-2h5m-5-1h5m-5 3h5m-5 1h5m-4-5h5m-5 2h5m-5 1h5m-5 5h5m-4-6h5m-5 4h5m-5-6h5m-4 0h5m-4 1h5m-5 2h5m-5 4h5m-5 1h5m-4 1h5m-5-9h5m-5 2h5m-4 3h5m-5 3h5m-5 1h5m-4-4h5m-5 2h5m-5-6h5m-5 3h5m-4-3h5m-5 3h5m-4-1h5m-5 5h5m-4-5h5m-5 4h5m-5-3h5m-4 0h5m-5-4h5m-5 2h5m-4 6h5m-4 1h5m-5-1h5m-5-7h5m-4 7h5m-5-4h5m-5-1h5m-5 3h5m-4 2h5m-5-8h5m-5 6h5m-5-1h5m-4-5h5m-5 2h5m-4-1h5m-5 4h5m-5 4h5m-4-2h5m-4-5h5m-5-1h5m-5 3h5m-5-1h5m-5 6h5m-5-1h5m-4-4h5m-5 1h5m-5 4h5m-4 0h5m-5-1h5m-5-8h5m-4 3h5m-5 6h5m-4-8h5m-5-1h5m-5 6h5m-5 1h5m-4 0h5m-5 1h5m-5-6h5m-5 2h5m-4-3h5m-5 2h5m-5 4h5m-5 1h5m-5-6h5m-4 5h5m-5-1h5m-5 3h5m-5-9h5m-5 2h5m-5-1h5m-5 2h5m-4 0h5m-5 5h5m-5-1h5m-5-6h5m-5 1h5m-5 2h5m-4 2h5m-5 3h5m-4 0h5m-5-7h5m-5-1h5m-5 5h5m-4-4h5m-5 4h5m-4-2h5m-5-1h5m-5 3h5m-4 1h5m-5-2h5m-5 3h5m-4-8h5m-5 3h5m-5 2h5m-5 2h5m-5 2h5m-4-7h5m-5 2h5m-4 4h5m-4-8h5m-5 2h5m-5 5h5m-4-5h5m-5 2h5m-5-1h5m-5 5h5m-5-1h5m-5 2h5m-4-6h5m-5 5h5m-4-6h5m-5 7h5m-4-3h5m-5-2h5m-4 3h5m-5 2h5m-5-1h5m-5-7h5m-5-1h5m-4 3h5m-5 2h5m-5 3h5m-4 0h5m-5-6h5m-5 2h5m-4-3h5m-5-1h5m-5 3h5m-5-1h5m-4 1h5m-5 2h5m-4-4h5m-5-1h5m-4 5h5m-4 4h5m-5-7h5m-4-2h5m-4 7h5m-4-6h5m-5 3h5m-5 2h5m-5 3h5m-4-3h5m-4-3h5m-5 2h5m-3-1h5m-4-2h5m-5 2h5m-5 1h5m-5 4h5m0-4h5m-5 4h5m-5-9h5m-4 6h5m-4 2h5m-3-4h5m-5 1h5m-4 3h5m-5-7h5m-4 1h5m-4 6h5m-5-6h5m-5 4h5m-3-5h5m-5 5h5m-5 1h5m-4-7h5m-4 4h5m-5 4h5m-4-6h5m-3 3h5m-2-3h5m-5 4h5m-3-4h5m-4 5h5m-3-6h5m0 8h5m-4-4h5m-172 5h5m1 4h5m-4-4h5m4 0h5m-3 2h5m-5 6h5m-2-1h5m-2-6h5m-3 4h5m-4 3h5m-4-7h5m-4 6h5m-2 2h5m-3-7h5m-3 7h5m-4-7h5m-2 0h5m-4-1h5m-4-1h5m-4 7h5m-3-5h5m-5-1h5m-5 6h5m-4-5h5m-5 3h5m-5 3h5m-4-4h5m-5-4h5m-4 4h5m-5-1h5m-5 5h5m-5-7h5m-5-1h5m-2 5h5m-4-5h5m-4 1h5m-4 7h5m-4 0h5m-3-8h5m-4 1h5m-5 3h5m-5 1h5m-4 1h5m-5 1h5m-5 2h5m-4-8h5m-5 2h5m-5 3h5m-5-1h5m-4 2h5m-4-7h5m-5 2h5m-5 5h5m-5 2h5m-4-4h5m-4-2h5m-5 4h5m-5-6h5m-4 6h5m-4-3h5m-4-2h5m-5 4h5m-5 2h5m-5-1h5m-5 2h5m-5-6h5m-4 0h5m-5 5h5m-5-1h5m-4 1h5m-5-6h5m-4 4h5m-5 2h5m-5-1h5m-5-7h5m-4 7h5m-5 2h5m-5-7h5m-5 2h5m-4 0h5m-3 4h5m-5-8h5m-5 2h5m-4 0h5m-4-1h5m-5 3h5m-5 1h5m-3-1h5m-5 2h5m-5 1h5m-4-5h5m-5 4h5m-5 2h5m-4-4h5m-4-4h5m-5 2h5m-5 3h5m-5-4h5m-4 0h5m-5 5h5m-5-1h5m-5 4h5m-3-1h5m-5-1h5m-5 2h5m-4-1h5m-5-8h5m-5 2h5m-4 7h5m-4-3h5m-5 2h5m-5-5h5m-5-1h5m-4-2h5m-5 3h5m-4 2h5m-5 3h5m-4-6h5m-5 3h5m-5 2h5m-4 0h5m-5-1h5m-5-1h5m-4 3h5m-4 1h5m-5-7h5m-4 7h5m-5-8h5m-4 1h5m-5 1h5m-5 3h5m-5 3h5m-4-9h5m-5 3h5m-5 3h5m-4-2h5m-5 2h5m-5 2h5m-5 1h5m-4-7h5m-5 6h5m-4-1h5m-5-5h5m-4 0h5m-5-2h5m-4 0h5m-4 1h5m-5 2h5m-5 1h5m-4 2h5m-5 3h5m-5-8h5m-4 0h5m-5 3h5m-5 2h5m-4 2h5m-5-7h5m-5 2h5m-4 1h5m-5 5h5m-4-2h5m-5-5h5m-5 4h5m-5 2h5m-4-7h5m-5 2h5m-4-3h5m-5 2h5m-5 4h5m-4 1h5m-5-4h5m-5 3h5m-5-1h5m-5 3h5m-4-4h5m-5 1h5m-4 3h5m-4-1h5m-5-4h5m-5-1h5m-4 7h5m-4-8h5m-5-1h5m-5 3h5m-5-1h5m-5 6h5m-4-7h5m-5 1h5m-4 6h5m-5-1h5m-5 2h5m-4-1h5m-5 1h5m-5-8h5m-5 2h5m-5 1h5m-4 2h5m-5-1h5m-4-5h5m-4 9h5m-4-5h5m-5 4h5m-5-8h5m-4 9h5m-5-8h5m-5 1h5m-3 6h5m-5-7h5m-4 2h5m-4 5h5m-5-1h5m-5-7h5m-3 4h5m-5 4h5m-4-7h5m-4-1h5m-5 4h5m-4 1h5m-5 2h5m-5 2h5m-4-5h5m-3 3h5m-5-6h5m-4 4h5m-4-5h5m-4 7h5m-5-3h5m-4 1h5m-5 1h5m-4-6h5m-5 4h5m-5 2h5m-1-5h5m-4 3h5m-4-4h5m-4 2h5m-5 2h5m-1 0h5m-4-3h5m3 5h5m-2-2h5m-3-3h5m-150 15h5m-1-1h5m-5 2h5m-4-5h5m-4 1h5m-3 6h5m-4-4h5m-2 4h5m-3-6h5m-4 2h5m-3 0h5m-4-5h5m-4 5h5m-1 4h5m-4 0h5m-5-8h5m-3 3h5m-4 3h5m-5-5h5m-4 6h5m-4-8h5m1 0h5m-5 2h5m-4 2h5m-4 1h5m-3-5h5m-5 6h5m-4-2h5m-4-4h5m-5 5h5m-4-1h5m-5 5h5m-5-8h5m-5-1h5m-4 9h5m-5-7h5m-5 4h5m-4-1h5m-5-5h5m-4 0h5m-5 4h5m-5 3h5m-4 2h5m-5-6h5m-5 3h5m-4 2h5m-4-2h5m-4 0h5m-5-6h5m-4 2h5m-5 2h5m-3-3h5m-5 3h5m-4-3h5m-5-1h5m-4 2h5m-5 6h5m-5-1h5m-4-1h5m-5-4h5m-5 3h5m-5-1h5m-4 5h5m-5-8h5m-5 1h5m-4-2h5m-5 8h5m-4-2h5m-5-5h5m-5-1h5m-4 4h5m-5-3h5m-4 0h5m-5 2h5m-4-1h5m-5-2h5m-4 0h5m-5 3h5m-5 1h5m-5 4h5m-5 1h5m-5-8h5m-4 5h5m-5 3h5m-5-8h5m-5 2h5m-5 1h5m-4 0h5m-5 3h5m-5 1h5m-5-8h5m-4 5h5m-5-5h5m-4 5h5m-4 1h5m-5 1h5m-5-6h5m-5 4h5m-4 2h5m-5-7h5m-5 3h5m-4 3h5m-5 3h5m-4-8h5m-5 5h5m-5 2h5m-4-4h5m-4-1h5m-5-1h5m-5 2h5m-5 3h5m-4-7h5m-5 6h5m-4-6h5m-5 1h5m-5 5h5m-4-6h5m-5 3h5m-5-1h5m-5 3h5m-4-2h5m-5 5h5m-4-4h5m-5-3h5m-4 4h5m-5 4h5m-4-3h5m-5-5h5m-5 2h5m-5-1h5m-4 0h5m-5 3h5m-5 3h5m-4-3h5m-5 3h5m-5-6h5m-4 7h5m-5-8h5m-5-1h5m-4 7h5m-5-6h5m-5 2h5m-4-3h5m-5 5h5m-5 3h5m-4-2h5m-5-3h5m-4 1h5m-5 2h5m-5-6h5m-4 6h5m-4-1h5m-4-3h5m-4 0h5m-5 2h5m-5 2h5m-5 2h5m-4-5h5m-5 1h5m-5-4h5m-4 0h5m-5 3h5m-4-2h5m-5 3h5m-4 3h5m-5 1h5m-5-7h5m-4 6h5m-3 1h5m-4-8h5m-4 6h5m-5-6h5m-5 5h5m-4-1h5m-3 2h5m-4-5h5m-5 3h5m-4-4h5m-5 1h5m-4 0h5m-1 0h5m-5 5h5m-5 3h5m-4-4h5m-5 4h5m-3-5h5m-2 1h5m-5-1h5m1-2h5m-3 5h5m-4-3h5m-2 1h5m-5 1h5m-3-3h5m-2 5h5m-3 0h5m2-7h5m3 2h5m-171 8h5m-1 3h5m-2-3h5m0 3h5m-5 4h5m2-3h5m-4 0h5m-4-1h5m-5 5h5m-4-4h5m-5-1h5m-5 2h5m2 3h5m-5-6h5m-3 5h5m-4 0h5m-4 0h5m-5-1h5m-4-2h5m-4-1h5m-4 4h5m-5-8h5m-2 2h5m-5 3h5m-4-3h5m-5 5h5m-3-6h5m-4 0h5m-4 8h5m-4-3h5m-5-6h5m-2 6h5m-4 2h5m-5-6h5m-4 3h5m-4-5h5m-5 7h5m-3-5h5m-5-1h5m-5 4h5m-4-2h5m-5 1h5m-5 4h5m-4 1h5m-5-8h5m-5 5h5m-4-5h5m-5 2h5m-5 4h5m-4-4h5m-4-3h5m-5 1h5m-5 4h5m-5 1h5m-4-6h5m-4 2h5m-5 5h5m-5 1h5m-5-8h5m-3 8h5m-3-1h5m-5-7h5m-3 1h5m-5 2h5m-5 4h5m-4-3h5m-4-4h5m-5 7h5m-4-3h5m-3-3h5m-5 2h5m-5 5h5m-4-8h5m-2 2h5m-4 5h5m-5 1h5m-4-3h5m-4-2h5m-4 2h5m-5 1h5m-4-5h5m-5 4h5m-4-2h5m-5-2h5m-4 0h5m-5 6h5m-5-1h5m-4 2h5m-5-6h5m-5 2h5m-4 4h5m-5 1h5m-5-7h5m-5-1h5m-4-1h5m-5 2h5m-5 4h5m-4 3h5m-5-7h5m-5 3h5m-5 2h5m-3-5h5m-4-2h5m-4 2h5m-5 1h5m-5 1h5m-5 4h5m-4-4h5m-5 3h5m-5 1h5m-3-1h5m-4-3h5m-5-3h5m-5 2h5m-4 1h5m-5-2h5m-4 7h5m-4-2h5m-3-7h5m-5 2h5m-5-1h5m-4-1h5m-4 0h5m-5 5h5m-5 1h5m-1 3h5m-4-2h5m-3 2h5m-1-7h5m-4 7h5m-5-4h5m-3-3h5m-5 2h5m-4 4h5m-5-3h5m-4 1h5m-4-2h5m-3-3h5m-4-1h5m-4 4h5m-5 3h5m-5-1h5m2-1h5m-2 2h5m-3-7h5m-5 4h5m-3 2h5m-4-6h5m-5 3h5m1-1h5m-4 5h5m-4 0h5m-4-4h5m0 0h5m-2 0h5m-177 12h5m4 3h5m10-8h5m-1 8h5m-1 0h5m3-3h5m-3-3h5m-3 5h5m1-7h5m-5 6h5m-5 2h5m-2-5h5m-4 1h5m-4-2h5m-4-1h5m-3-1h5m-1 0h5m-5 2h5m-2 2h5m-4-4h5m-5 1h5m-4 0h5m-4-1h5m-5 7h5m-4-3h5m-4 3h5m-5-1h5m-2-4h5m-4 5h5m-4 0h5m-4-5h5m-5-1h5m-4 3h5m-4-3h5m-4 6h5m-5-5h5m-4-1h5m-4 8h5m-4-8h5m-3 5h5m-4 3h5m-5-9h5m-5 1h5m-5 4h5m-4-5h5m-5 1h5m-5 3h5m-5 2h5m-4-4h5m-5 5h5m-4-4h5m-4-1h5m-5 3h5m-5-1h5m-3-2h5m-5 2h5m-4 0h5m-4 0h5m-5-4h5m-4 5h5m-5 3h5m-5-7h5m-1 4h5m-5-1h5m-4 4h5m-5-8h5m-5 4h5m-5-1h5m-4-1h5m-5 1h5m-4 1h5m-4 2h5m-5 2h5m-3-7h5m-4 6h5m-3-5h5m-3-2h5m-5 2h5m-2 4h5m-5-2h5m-3 2h5m-4-5h5m-4 5h5m-5-6h5m-4 0h5m-5 3h5m-4 3h5m-2-2h5m-4-3h5m-5 4h5m3-5h5m-4 1h5m-4 3h5m-2 3h5m-1 0h5m-2-3h5m-4 5h5m-2-8h5m-2-1h5m-2 0h5m-3 6h5m4 3h5m-137 6h5m-3 3h5m-4-6h5m-3 7h5m1-2h5m-4-5h5m-3 7h5m-3-2h5m-2-2h5m-4-4h5m-5 2h5m-3 2h5m-1-2h5m-4 0h5m-5 4h5m-4-3h5m-5 3h5m-4-2h5m-1 4h5m-3-9h5m-3 1h5m-3 0h5m-5 4h5m-3 3h5m-4-3h5m-5-5h5m-4 4h5m-5-2h5m-2-1h5m-4 6h5m-3-4h5m-4-3h5m-3 6h5m-4-6h5m-4 9h5m-4-9h5m-5 2h5m-5 5h5m-4-1h5m-4 3h5m-3-3h5m-4-6h5m-4 0h5m-3 1h5m-3-1h5m-4 3h5m-5 2h5m-5 2h5m-4-1h5m-3-5h5m-4 8h5m-5-7h5m-3-2h5m-5 9h5m-4-6h5m-4 1h5m-3 2h5m-5-1h5m-5 3h5m-5-7h5m-3 1h5m-4-2h5m-1 5h5m-5 4h5m-3-2h5m-4-6h5m-5 6h5m0-2h5m1-1h5m-3 3h5m9-3h5m0-4h5m-136 18h5m4-6h5m0-2h5m-5 5h5m3-2h5m-1 1h5m-1-1h5m-2 2h5m-4-5h5m1 0h5m-2 7h5m-3 2h5m-5-7h5m-4 4h5m-4 1h5m-5-4h5m-4 5h5m-3-1h5m-2 2h5m-4-6h5m-4-1h5m-4 1h5m-2-1h5m-4 0h5m-5 3h5m-5 2h5m-4-7h5m-3 8h5m-3-8h5m-2 9h5m-4-6h5m0-1h5m-2 5h5m-5-7h5m-4 8h5m-4-8h5m-4 2h5m-1 3h5m-4 4h5m-4-8h5m1 2h5m-2-1h5m-3-1h5m-1 6h5m2-4h5m-107 11h5m0 5h5m-3-6h5m-2 0h5m-4-3h5m0 7h5m-3-5h5m0 5h5m-3-3h5m-3 1h5m8-2h5m-3-3h5m-5 5h5m-5-1h5m-1 1h5m-4-1h5m-3-3h5m-3-1h5m-3 6h5m2 0h5m-3-2h5m0-2h5m-1 3h5m-4 1h5m-2-2h5m11 1h5m15-4h5m-151 11h5m1 0h5m16 7h5m26-3h5m-2-4h5m2 7h5m2-4h5m-3-4h5m-1 0h5m-1-1h5m0 5h5m-3-2h5m-3-1h5m-4 1h5m-3 5h5m14-7h5m-4 3h5m-2-2h5m-4 4h5m12-3h5m-108 11h5m4-1h5m8 0h5m31 5h5m-26 5h5m23-3h5m-37 12h5" stroke="#000" stroke-width="5" stroke-opacity="0.95" fill="none"/>
<path transform="scale(.1)" d="M3599 547h5m66-2h5m-130 19h5m88 2h5m-77 12h5m15-3h5m2-4h5m6 2h5m13 2h5m14 2h5m-85 7h5m8 2h5m-2-4h5m-1 2h5m-4 3h5m18 0h5m2-6h5m0 6h5m2 1h5m21 0h5m-166 5h5m33-3h5m-3 6h5m9-3h5m-2 4h5m7-1h5m-3 1h5m7-4h5m-2 0h5m-2 6h5m-4-3h5m-2 0h5m9-6h5m0 8h5m-2-7h5m-1 5h5m-3 1h5m2 0h5m3-4h5m13-2h5m7 4h5m-169 7h5m12 3h5m22-2h5m3 2h5m-3-4h5m-3 8h5m1 0h5m10-6h5m-4 5h5m2 1h5m2-2h5m-4-3h5m1 4h5m0-7h5m12 1h5m1 4h5m-2 2h5m2-3h5m1 4h5m2-9h5m-4 4h5m12 5h5m-189 10h5m4 0h5m26-9h5m12 2h5m-1 5h5m-5-5h5m-4 2h5m-1-2h5m-4 4h5m4 2h5m-4-8h5m-4 7h5m1-1h5m1-1h5m5-2h5m-4-3h5m4 9h5m2-2h5m-1 1h5m-4-6h5m-4-1h5m2 5h5m2-1h5m-5 4h5m-3-8h5m-4 8h5m2-1h5m-3-3h5m-3 4h5m2-3h5m-4 1h5m4-6h5m-4 5h5m0-6h5m-4 4h5m64-4h5m-236 10h5m-1 9h5m0-7h5m2 7h5m0 0h5m1-1h5m-3-3h5m1 2h5m-4-4h5m-1 0h5m0-3h5m-3 4h5m-4-1h5m-2 5h5m-5-2h5m-1-4h5m-3 4h5m-4-4h5m-3 6h5m-5-6h5m-5 7h5m2-9h5m-5 1h5m-3 5h5m-3 2h5m-3-8h5m-4 3h5m-1-1h5m3 4h5m-4-1h5m-2 3h5m-4-2h5m-2-4h5m2 4h5m-5-3h5m-4 0h5m-4 1h5m6-3h5m-4 4h5m10 0h5m-4 1h5m4 3h5m-4-2h5m-1 2h5m5-7h5m17 0h5m-209 15h5m19-1h5m1 2h5m6-4h5m-4 2h5m-3-5h5m-4 7h5m-2-2h5m-2-4h5m5-2h5m-1 4h5m10-2h5m-4 4h5m-4-5h5m-2 5h5m-5-5h5m-4 8h5m-3-1h5m-2-1h5m-4 1h5m-4-2h5m-2 3h5m-3-4h5m-4-5h5m-3 8h5m-4 0h5m-5-7h5m-1 0h5m-4 5h5m-1 0h5m-4 2h5m-4 0h5m-4-3h5m-5-5h5m-5 4h5m-3 5h5m-5-3h5m-3-5h5m-3 6h5m-1 2h5m-5-2h5m-4-4h5m-4-2h5m-3 5h5m-2-6h5m-5 4h5m-5 4h5m-3-5h5m-4 2h5m-5-1h5m-2 4h5m-3-3h5m-2 0h5m-5 4h5m-3-5h5m-5-1h5m-1 6h5m11-8h5m-1 3h5m-5 3h5m-4-7h5m-2 2h5m-3 0h5m5-2h5m18 6h5m-2 1h5m-195 10h5m7-5h5m0-2h5m8 0h5m-1 4h5m-3 4h5m-4-6h5m-1 2h5m-3 3h5m-3-5h5m-4 1h5m-4 2h5m0 2h5m-2 1h5m-3 1h5m-4-1h5m-2 1h5m-3 0h5m-5-8h5m-3-1h5m-2 5h5m-5-5h5m-1 8h5m-2-7h5m-4 0h5m-5 7h5m-4-3h5m0 3h5m-4-3h5m-5-2h5m-3 2h5m-4-5h5m-5 8h5m-3-4h5m-5-4h5m-2 1h5m-4 8h5m1 0h5m-3-4h5m-3 4h5m-5-2h5m-4-7h5m-5 3h5m-4 0h5m-5-2h5m-3 7h5m-5-1h5m-5-2h5m-4 3h5m-4-4h5m-3 4h5m-2 0h5m-4-6h5m-5-2h5m-3 5h5m-4 1h5m-5-1h5m-4-3h5m-4 6h5m-5-1h5m-3-3h5m-4-1h5m-3-1h5m-4-2h5m-4 2h5m-3 4h5m-4-1h5m-4-4h5m-4 4h5m0 4h5m0-8h5m-1 6h5m3-4h5m-2 4h5m1-4h5m3 3h5m7 3h5m24-8h5m-215 16h5m-1-1h5m-2 1h5m4 1h5m-4 1h5m-4-3h5m-3-5h5m-5 4h5m-5-2h5m-1-3h5m-4 7h5m-2-2h5m-3-4h5m-3-1h5m-3 6h5m-4-4h5m-2 7h5m-4-8h5m-5 2h5m0-3h5m-4 0h5m-3 1h5m-5 7h5m0-4h5m1 4h5m-4-8h5m-3 1h5m-5-1h5m-2 7h5m-4-1h5m-5-1h5m-3 2h5m-4-2h5m-1-5h5m-5 9h5m-3-7h5m-4-1h5m-5 1h5m-4 7h5m-3-7h5m-5-2h5m-4 6h5m-2 2h5m-5-3h5m-4-4h5m-5 3h5m-1 1h5m-4-1h5m-5 4h5m-5-5h5m-1 0h5m-5-3h5m-3 3h5m-5-1h5m-2 1h5m-5-1h5m-1 6h5m-5-1h5m-4 0h5m-4-4h5m-3 3h5m-5 2h5m-3-3h5m-3-3h5m0 5h5m-5-5h5m4-1h5m0 4h5m-4 4h5m-1-8h5m-2-1h5m-3 3h5m2 5h5m-4-2h5m-2 3h5m-3-4h5m-5 4h5m4-8h5m-1 6h5m2-2h5m6-5h5m3 6h5m-204 12h5m1-5h5m11 0h5m-3 2h5m-5-5h5m-3 6h5m-2 0h5m0-2h5m-2 4h5m-4-7h5m-5 3h5m3-3h5m-4-1h5m-4 4h5m-4-3h5m-2 6h5m-5-7h5m-4 0h5m0 2h5m-5 7h5m-4 0h5m-5-1h5m-3-1h5m-5-7h5m-4 1h5m-3 7h5m-4-3h5m-5 3h5m-3 1h5m-5-5h5m-4 0h5m-4 1h5m-4-5h5m-4 8h5m-1 1h5m-4-9h5m-2 9h5m0 0h5m-3 0h5m-4 0h5m-3 0h5m-1-6h5m-5 1h5m-2-3h5m-4 0h5m-3-1h5m-2 5h5m-4 1h5m-4-5h5m-4 1h5m-3 3h5m-2 4h5m-3-2h5m-5-2h5m0-3h5m-5 7h5m-5-5h5m-5 4h5m-5-5h5m-1-3h5m-5 7h5m-2-4h5m-5-1h5m-2 6h5m-4-5h5m-4-1h5m-5 2h5m-4 5h5m-2 0h5m-4-7h5m-3 7h5m-3-6h5m-3 3h5m2 0h5m-5-1h5m-3 3h5m-5-5h5m-2 2h5m2 0h5m-3 0h5m-3 3h5m-2 0h5m1 1h5m-4-4h5m-5-2h5m4 3h5m30-3h5m-212 8h5m15 0h5m-5 7h5m-2-4h5m-1 5h5m-3-2h5m-1-1h5m-2 3h5m-3-3h5m-4-2h5m-4-3h5m-5 8h5m-3-6h5m-3 4h5m-4-3h5m-5 4h5m-4 0h5m-4-8h5m-5 8h5m-3 0h5m-4-8h5m-2 3h5m-5 2h5m-5 3h5m-3-8h5m-4 1h5m-5 7h5m-4-8h5m4 6h5m-1-6h5m-5 8h5m-2 1h5m-4 0h5m-5-5h5m-5-3h5m-4 3h5m-4 0h5m-4 5h5m-4-5h5m-3 2h5m-5-5h5m-4 4h5m-5-2h5m-4 6h5m-4-6h5m-2 0h5m-3 5h5m-2 0h5m-4 1h5m-3-9h5m-4 1h5m-2 6h5m-4-2h5m-5 3h5m-2-3h5m-4-5h5m-4 9h5m-4-1h5m-4 0h5m-4-8h5m-4 5h5m-3 1h5m-3 3h5m-4-9h5m-4 1h5m0 6h5m2 2h5m-4-4h5m-5 3h5m2-3h5m22-1h5m0 0h5m-5 1h5m-185 6h5m1 3h5m-4-3h5m0-1h5m8 6h5m1-6h5m-2 9h5m-3-5h5m-4-4h5m-1 0h5m-4 5h5m-2 1h5m-4 1h5m-5-1h5m-4 1h5m-4-3h5m-5-1h5m-3-2h5m-4 3h5m-4 4h5m-3-1h5m-5 1h5m-4-2h5m-4-6h5m-5 9h5m-1-6h5m-3 6h5m-3-4h5m-5-3h5m-4 5h5m-4-5h5m-4 5h5m-5-4h5m-4 0h5m-5-1h5m-1 6h5m1 0h5m-5-5h5m-3 6h5m0 0h5m-5-1h5m-1-1h5m-5 2h5m-4-2h5m-5-7h5m-4 2h5m-3 6h5m-2-5h5m-5-3h5m-4 4h5m-3 3h5m-5-6h5m-4 1h5m-5-2h5m-1 5h5m-1-5h5m-4 9h5m-4-4h5m-5-4h5m13 1h5m-3 5h5m3-2h5m-5 3h5m2-2h5m2 3h5m-2-8h5m6 7h5m-4-5h5m0 2h5m-193 10h5m6-2h5m-5 3h5m7-5h5m-4 4h5m-2-5h5m-2 2h5m-4 6h5m-3-1h5m-4-1h5m5-4h5m-4 0h5m-3 7h5m-5-2h5m0-3h5m1 5h5m-4-8h5m-5 7h5m-3-2h5m-4-2h5m-3 3h5m-4-4h5m-4 6h5m-5-5h5m-4 4h5m-3 0h5m-4-7h5m-5 8h5m-4-4h5m-4-5h5m-5 7h5m-3 0h5m-2-6h5m-4 5h5m0-6h5m-5 9h5m-4-4h5m-3 0h5m-5 2h5m-2-4h5m0-2h5m-5 1h5m-2-1h5m-3 3h5m-3 2h5m-4-2h5m-1-3h5m-3-1h5m-5 4h5m-5 4h5m-1-1h5m-3 0h5m-2-1h5m-3-4h5m-2-2h5m-3 2h5m-4 0h5m-3-1h5m-2 4h5m-4-4h5m2 2h5m-4-1h5m2 2h5m-4-4h5m0 7h5m-3-5h5m0 6h5m-4-3h5m-3-1h5m-3-2h5m27 5h5m-177 4h5m-4 2h5m1 3h5m2-3h5m-2 1h5m-2-4h5m3 1h5m-1-1h5m-4 0h5m-2 3h5m5-2h5m-5 2h5m-4-2h5m-5 8h5m-4 0h5m-2-3h5m-5 1h5m-4-1h5m-3-1h5m-5 4h5m-3-4h5m-4 1h5m5-3h5m-2-3h5m-5 2h5m-5-1h5m-4 5h5m-4 3h5m-3-4h5m-4-2h5m-1 0h5m-3 5h5m-4-6h5m-4-2h5m-4 8h5m-3-3h5m-4 3h5m-5-5h5m-1 6h5m-3-5h5m-3-4h5m-5 7h5m-1 1h5m-4-8h5m-4 6h5m0 0h5m-4-2h5m-4 1h5m-4 3h5m-3-3h5m-5 1h5m-4-4h5m-4 1h5m-5 3h5m2-3h5m-3 6h5m-3-2h5m3-2h5m0 0h5m-3 4h5m-2-8h5m-1 5h5m17 2h5m6-5h5m-208 11h5m28 2h5m-1 0h5m-5-5h5m-2 7h5m-4-5h5m-1 6h5m-3-8h5m2 1h5m-2 7h5m-1-5h5m-3-1h5m-3 2h5m-5-4h5m0 6h5m2 2h5m-1 0h5m-4-7h5m-3 2h5m-5 2h5m-4-4h5m0 5h5m-3-6h5m-5 4h5m-4-3h5m-5-2h5m-3 3h5m-1-3h5m-1 0h5m-4 8h5m1-5h5m-2 6h5m-4-5h5m-4 3h5m-5-3h5m7 2h5m2-2h5m6-4h5m-3 7h5m-2-3h5m-4 0h5m-5 1h5m0 3h5m-1-3h5m-2 1h5m1-4h5m15 2h5m-199 8h5m-5 4h5m28-5h5m4 3h5m-2 5h5m7-6h5m-1 5h5m1-3h5m7-1h5m4 5h5m-3-9h5m-3 2h5m-1 0h5m1 1h5m0 6h5m-4-1h5m-1-7h5m-5 4h5m-5-5h5m-4 1h5m-3 6h5m-3-1h5m-3-6h5m-3 9h5m-4-2h5m-4 1h5m-4-1h5m3-2h5m-1 2h5m-4-5h5m-3 3h5m-2-5h5m-1 4h5m-4 1h5m-3 0h5m3-2h5m18-1h5m-167 16h5m25-3h5m-4-3h5m-3-1h5m-2 7h5m-4 1h5m-4-5h5m-5 3h5m-1-5h5m-4 1h5m7 2h5m2 1h5m4 2h5m-5-3h5m-1-2h5m-3 4h5m-4-6h5m-1 6h5m-4 2h5m-5-5h5m0-3h5m18 8h5m8-1h5m-3-2h5m11 0h5m-5-1h5m-104 7h5m-2 3h5m12 2h5m-5-5h5m-1 3h5m-2-4h5m4 2h5m-1-2h5m3 4h5m-4-1h5m25 2h5m-4-1h5m-4-1h5m-105 6h5m-3 6h5m-3-6h5m0 6h5m-5-6h5m29 0h5m-4 3h5m-3 4h5m-4-4h5m1-2h5m0 7h5m-2-2h5m38-1h5m18-5h5m-174 13h5m47 4h5m-4-3h5m-1-4h5m15 0h5m26 0h5m-5 3h5m36-1h5m-131 9h5m7 8h5m21-9h5m28 9h5m-2-6h5m18-1h5m-109 14h5" stroke="#000" stroke-width="5" stroke-opacity="0.6" fill="none"/>
<path transform="scale(.1)" d="M3673 529h5m129-1h5m-59 5h5m-100 11h5m121 3h5m-54 8h5m18 3h5m28-7h5m3 8h5m58-6h5m-206 16h5m31-4h5m18 2h5m8-6h5m21 4h5m49 3h5m-230 9h5m49 1h5m7-4h5m0-3h5m4 5h5m-2-5h5m2 3h5m-2 4h5m-1-4h5m-3-3h5m8 6h5m0 0h5m3-1h5m1 1h5m-2-3h5m8 2h5m-2 3h5m20-5h5m13 4h5m9-5h5m-183 8h5m27 7h5m-2-3h5m-3 2h5m-4 2h5m-3-1h5m-4-7h5m-4 1h5m2 7h5m-1-2h5m-5-2h5m3-1h5m-5 2h5m-2 0h5m3 0h5m2 2h5m0 1h5m-3-4h5m-4 2h5m-1-6h5m-3 0h5m2 3h5m14-1h5m-2 2h5m-5 4h5m-4-4h5m2-4h5m-3 4h5m-4 4h5m-3-2h5m3-3h5m7-4h5m-1 1h5m-5 8h5m1-8h5m-3 6h5m0-1h5m-4-5h5m-3 8h5m1-1h5m-3-4h5m18 2h5m-227 12h5m5-2h5m8 2h5m6-4h5m2-3h5m6 2h5m-3 5h5m-1-7h5m-4 8h5m-4-3h5m-4 2h5m-4 0h5m-1-1h5m-4 2h5m-3-1h5m-3-8h5m-1 1h5m-4 1h5m-5 1h5m-1 5h5m-4 1h5m-4-3h5m-5 3h5m0-4h5m-4 4h5m-5-4h5m-4 4h5m-3-3h5m1-3h5m-5 3h5m-5 2h5m-3-6h5m-4-2h5m-5 1h5m2 5h5m-5 3h5m6-4h5m-4 2h5m-4 0h5m-4-4h5m-4-1h5m-5 2h5m-4 0h5m3 0h5m-1 1h5m-2-5h5m-3 9h5m0-3h5m-5-1h5m-2 2h5m0-6h5m-5 5h5m-3 0h5m10 2h5m10-4h5m-2 4h5m-4-5h5m7-2h5m0 3h5m0-2h5m4 7h5m-215 2h5m5 3h5m-1-2h5m1 1h5m-4 5h5m5-2h5m-4-4h5m-4 1h5m-4 4h5m-3 2h5m0-8h5m2 0h5m-4 6h5m-3 1h5m-3-7h5m-4 5h5m-3-6h5m-4 5h5m-4-5h5m-5 3h5m-4 6h5m-5-7h5m-4-2h5m-5 1h5m-1 5h5m-5-4h5m-4 4h5m-5-6h5m-4 7h5m-4-1h5m-5-6h5m-5 2h5m-4 0h5m-4 6h5m-5-1h5m-5-7h5m-2 1h5m-3 7h5m-4-1h5m-5-1h5m-4 3h5m-1-7h5m-5 1h5m-2 5h5m-4-3h5m-4 1h5m-5-4h5m-4 7h5m-4-7h5m-2 2h5m-4 0h5m-4 5h5m-4-9h5m-5 1h5m-4 1h5m-3-2h5m-5 5h5m-3 2h5m-5-6h5m-4 4h5m-5 4h5m-4-1h5m-5 1h5m-4-5h5m-4 4h5m-5-8h5m-4 7h5m-4-5h5m-4 2h5m-5 1h5m-4-5h5m-5 4h5m-2 1h5m-4 1h5m-2-6h5m-5 3h5m-4-1h5m-3 1h5m-5 6h5m-4-1h5m-4-2h5m-4 1h5m-3 1h5m-3 1h5m1 0h5m-3-4h5m-2 3h5m-5-7h5m-4-1h5m-5 5h5m-2 2h5m-4-1h5m-1-6h5m-2 8h5m-4 0h5m-2-4h5m-5 1h5m-4 0h5m-5 3h5m-1-7h5m-3 4h5m-4-3h5m-3 3h5m-1 4h5m-3-4h5m2-3h5m2 6h5m8-8h5m6 6h5m-4-5h5m8 4h5m0-5h5m0 3h5m-4 6h5m-3-8h5m-1 4h5m-3-4h5m1-1h5m-4 3h5m49 2h5m-327 11h5m29-6h5m0 9h5m0-1h5m-4-5h5m0 2h5m-3 1h5m-3 2h5m-3-4h5m-2 2h5m-5-6h5m-4 9h5m-4-2h5m-3-5h5m-5 1h5m-2 3h5m-5-1h5m-3 1h5m-4-4h5m-5 4h5m-2-2h5m-5 1h5m-4 2h5m-5 2h5m-3-5h5m-4 2h5m-5 2h5m-4-7h5m-4 7h5m-5-7h5m-5 3h5m-4 2h5m-5 2h5m-5-1h5m-4-1h5m-4-4h5m-3 1h5m-5-1h5m-4 1h5m-5 6h5m-3-6h5m0 4h5m-4 1h5m-5-5h5m-4 4h5m-5-6h5m-5 3h5m-4 5h5m-5-7h5m-3 4h5m-4-2h5m-4-3h5m-3 5h5m-4 1h5m-4-5h5m-4-2h5m-5 8h5m-4 0h5m-4-6h5m-5 2h5m-4-2h5m-5 2h5m-5 2h5m-4-2h5m-4 0h5m-4 0h5m-5 5h5m-4-9h5m-5 5h5m-4-3h5m-3 0h5m-2 1h5m-4 2h5m-3 1h5m-5-5h5m-4 8h5m-4-7h5m-4 0h5m-3 1h5m-3 2h5m-3 1h5m-4-3h5m-2 0h5m-5 1h5m-5 4h5m-4-5h5m-4 6h5m-3-7h5m-4 4h5m-4 1h5m-4-1h5m-5-6h5m-3 6h5m-5-5h5m-2 1h5m-3 5h5m-3-7h5m-2 5h5m-3-2h5m-5 2h5m-2 0h5m-4-1h5m3 5h5m-2-3h5m-3-4h5m-4 3h5m-4 2h5m-5 2h5m-2-3h5m-5-3h5m-3-3h5m-4 2h5m-4 2h5m1-2h5m-4-1h5m-1 3h5m-2-1h5m-2 0h5m-5 2h5m2-2h5m2-2h5m8 7h5m2-2h5m0 1h5m-259 8h5m-4-2h5m5-3h5m2 9h5m34-9h5m-5 7h5m1-7h5m-3 6h5m-1 2h5m1-4h5m-3-1h5m-4 4h5m-4-5h5m-2 1h5m-4 4h5m-4-7h5m-5 9h5m-3 0h5m-5-9h5m-4 3h5m-4 3h5m-5 3h5m-4-3h5m-5-5h5m-4 1h5m-4 6h5m-3-1h5m-5-3h5m-4 5h5m-4-5h5m-5 2h5m-5-5h5m-4-1h5m-5 4h5m-4-2h5m-4 2h5m-4-3h5m-1 7h5m-4 1h5m-4-2h5m-5-6h5m-4-1h5m-5 1h5m-4 7h5m-5-1h5m-5-4h5m-4 1h5m-5-4h5m-5 1h5m-4 6h5m-4-4h5m-4 6h5m-4-1h5m-5-3h5m-3-5h5m-5 7h5m-4-6h5m-5-1h5m-5 2h5m-3 7h5m-5-6h5m-5 3h5m-3-4h5m-5 3h5m-5-2h5m-4-3h5m-4 3h5m-4 1h5m-5 3h5m-5 1h5m-4-5h5m-5 6h5m-3 0h5m-3-7h5m-3 5h5m-4-6h5m-4 1h5m-5-2h5m-3 0h5m-4 9h5m-5-4h5m-3 0h5m-5 1h5m-4-1h5m-3-4h5m-4 0h5m-5 7h5m-2-5h5m-5 1h5m-3 1h5m-5-1h5m-4-4h5m-5 5h5m-5 2h5m-4-1h5m-3 2h5m-1-3h5m-3-5h5m-3 0h5m0 7h5m-3-5h5m-4 5h5m-4-3h5m0 2h5m-2 2h5m-3-8h5m-4 4h5m-5 5h5m-5-8h5m-5 2h5m-2-1h5m-3-1h5m-5 3h5m-4-3h5m-4 1h5m-5-1h5m-5 8h5m-4-1h5m-4 0h5m-1 0h5m-4-2h5m-5 2h5m-2-1h5m-5 1h5m-5-6h5m-4 6h5m-3-3h5m-4 0h5m-4 0h5m-3-2h5m-1 4h5m-2-3h5m-1 0h5m-5 1h5m-4 0h5m-5-4h5m-5 2h5m-3-1h5m-4 2h5m-4-4h5m-1 4h5m2 2h5m-1-4h5m-4 0h5m1 2h5m23-4h5m16 8h5m-283 10h5m4 1h5m8-6h5m7 0h5m-3 5h5m-4-4h5m0 1h5m-4-4h5m3 0h5m-4 7h5m-1 1h5m0-4h5m-4 0h5m-5 3h5m-1-1h5m-1-7h5m-5 3h5m-5 3h5m-3 1h5m-2-3h5m-4-2h5m-4 0h5m-5 7h5m-4-2h5m-5-2h5m-4 3h5m-5-7h5m-4 3h5m-5 2h5m-5 2h5m-4-2h5m-4 3h5m-5-1h5m-5-8h5m-4 7h5m-2 1h5m-5-1h5m-3 2h5m-5-2h5m-4-6h5m-4 2h5m-5 3h5m-4-1h5m-5-5h5m-4 2h5m-5 6h5m-4-8h5m-4 1h5m-3 1h5m-3 2h5m-5-1h5m-4 6h5m-2-1h5m-5-6h5m-5-1h5m-4 2h5m-3-1h5m-5-2h5m-4 5h5m-4-1h5m-4 5h5m-4-7h5m-4 3h5m-3 0h5m0 4h5m-4-9h5m-4 3h5m-5 4h5m-4 2h5m-4-7h5m-5-1h5m-5 8h5m-4-8h5m-4 6h5m-5 2h5m-4-8h5m-5 4h5m-5 4h5m-4-5h5m-5-1h5m-4 1h5m-5 2h5m-4-5h5m-5 5h5m-3-5h5m-1 8h5m-3-4h5m-4 0h5m-5 2h5m-3-7h5m-5 7h5m-4-6h5m-3-1h5m-5 7h5m-3-5h5m-4-2h5m-5 4h5m-5 5h5m-5-8h5m-4 2h5m-5 5h5m-3 1h5m-4-6h5m-5 3h5m-5 2h5m-4-7h5m-4 5h5m-5-4h5m-5 3h5m-4 2h5m-5-6h5m-4 3h5m-4 3h5m-5 2h5m-5-6h5m-2 0h5m-3-1h5m-4 1h5m-5 4h5m-4-2h5m-2-4h5m-5 3h5m-4-2h5m-3 3h5m-4 4h5m-4-5h5m-4-3h5m-3 5h5m-5 2h5m-4-6h5m-5 5h5m-1-1h5m-4 0h5m-4-1h5m-5-3h5m-1 7h5m-4-2h5m-4-6h5m-4 3h5m-4-1h5m-4 5h5m-4-3h5m-4 1h5m-4 0h5m-5 2h5m-4-8h5m-5 5h5m-5 2h5m-4 2h5m-5-1h5m-1-5h5m-2 3h5m-2-4h5m-5 6h5m-2-3h5m-1-1h5m-4-1h5m-3 6h5m-2-8h5m2 1h5m-5 6h5m-4-6h5m7 5h5m-1-3h5m-5 3h5m-5 1h5m17-7h5m8 0h5m-292 17h5m12-5h5m1-1h5m-2 6h5m-5-8h5m2 2h5m-3 3h5m-2-1h5m6-3h5m11 0h5m1 5h5m-4 0h5m-2-5h5m-3 5h5m-3 3h5m-4-1h5m-5-4h5m-4-3h5m-2 8h5m-5-1h5m-3-7h5m-4 1h5m-4-2h5m-4 1h5m-3 0h5m-5 3h5m-4 5h5m-4-7h5m-4 0h5m-5 2h5m-4 5h5m-5-7h5m-5 4h5m-4-1h5m-5 2h5m-4-6h5m-4 0h5m-3 8h5m-4-2h5m-5 2h5m-5-1h5m-5-8h5m-2 5h5m-5-5h5m-4 4h5m-5 3h5m-3-5h5m-5-2h5m-4 7h5m-1-5h5m-4-2h5m-5 1h5m-4 1h5m-4 6h5m-5-4h5m-2-1h5m-5 4h5m-5 2h5m-4-4h5m-2 0h5m-5-5h5m-5 4h5m-2-4h5m-3 1h5m-5 3h5m-4 2h5m-5-6h5m-4 9h5m-4-8h5m-4 3h5m-5-1h5m-4-1h5m-4 6h5m-4-8h5m-4 4h5m-5 2h5m-5-1h5m-4-4h5m-4 6h5m-5 2h5m-3-1h5m-4-1h5m-4 2h5m-5-5h5m-4-1h5m-4 3h5m-5 2h5m-4 1h5m-4-3h5m-5 2h5m-4-8h5m-5 6h5m-4-2h5m-4-3h5m-4 8h5m-5-7h5m-5 2h5m1-4h5m-2 6h5m-5 2h5m-5-1h5m-5-7h5m-5 4h5m-1 5h5m-5-9h5m-5 6h5m-1-4h5m-5 4h5m-4-1h5m-4-1h5m-5 5h5m-4-5h5m-5-1h5m-4 0h5m-5 2h5m-4-4h5m-4 6h5m-5 2h5m-4-5h5m-4 2h5m-5-1h5m-5 3h5m-4-1h5m-4-6h5m-4 7h5m-5-7h5m-4 5h5m-5-1h5m-5-1h5m-4-4h5m-5 3h5m-2 2h5m-2-1h5m-3 4h5m-3-4h5m-5-2h5m-4 0h5m-5 4h5m-3-5h5m3-1h5m-5 4h5m2 3h5m-4-1h5m-5-6h5m-4 7h5m-4-6h5m-1 1h5m-4 2h5m-4-1h5m-4 3h5m-5 1h5m-4-6h5m-3 7h5m0 0h5m-4 1h5m-5-4h5m-2-3h5m11 2h5m2-4h5m-2 0h5m22 5h5m-3-1h5m-3 0h5m34 2h5m-288 12h5m-2-2h5m-2-6h5m-5 4h5m-2 2h5m-2 3h5m-3-1h5m-4-3h5m-4 3h5m4-7h5m-4 5h5m-5 3h5m-2-7h5m-4 4h5m2 2h5m-5-8h5m-4 0h5m-4 3h5m-4 5h5m-4-6h5m-5 3h5m-5 3h5m-3-1h5m-4 2h5m-5-9h5m-4 4h5m-4-1h5m-5-3h5m-4 3h5m-5 3h5m-4-4h5m-2 3h5m-5-3h5m-4 0h5m-2-1h5m-5-1h5m-4 3h5m-5 3h5m-3-3h5m-5 2h5m-5 3h5m-4-7h5m-5 6h5m-2-5h5m-4 7h5m-5-8h5m-4 6h5m-4-7h5m-4 6h5m-4-6h5m-5 4h5m-5-1h5m-3-1h5m-4 6h5m-5-7h5m-5-1h5m-4 3h5m-5 4h5m-4 1h5m-4 1h5m-4-8h5m-5 5h5m-3-5h5m-3 0h5m-4 5h5m-5-1h5m-4 2h5m-5 1h5m-4 0h5m-4 1h5m-4-8h5m-4 5h5m-5-1h5m-4-2h5m-4 0h5m-4 0h5m-4 0h5m-5 1h5m-4-3h5m-5 7h5m-3-7h5m-4 3h5m-5-1h5m-5-3h5m-4 1h5m-4 6h5m-5-6h5m-4 4h5m-4-5h5m-4 3h5m-4 1h5m-4-4h5m-4 6h5m-5-5h5m-4 5h5m-5-4h5m-4 2h5m-3-2h5m-5 3h5m-4-5h5m-5 3h5m-3-2h5m-5-1h5m-4 9h5m-5-8h5m-4 6h5m-5-7h5m-4 0h5m-5 3h5m-5-1h5m-5-1h5m-4 0h5m-4 5h5m-3 0h5m-4 1h5m-4-5h5m-4-2h5m-4 4h5m-4 5h5m-4-9h5m-1 2h5m-4 3h5m-2 1h5m-5 1h5m-2-6h5m-3 6h5m-5-4h5m0 6h5m-4 0h5m-4-8h5m-5 3h5m-3 1h5m-4-4h5m-5 8h5m-1-7h5m-3-2h5m-1 7h5m-4-5h5m-5 3h5m-5 3h5m-4-7h5m-4 8h5m-3-4h5m-5 4h5m-3-3h5m-4-3h5m-4 6h5m-4 0h5m-3-1h5m-3-5h5m-4 6h5m-2-1h5m-4-3h5m-4-3h5m-4 2h5m-5 4h5m-3-8h5m-2 3h5m-5 4h5m-3-3h5m0-4h5m-3 1h5m-2-1h5m-4 7h5m12-4h5m0-1h5m-3 5h5m3 2h5m0-2h5m5-7h5m-276 19h5m9-1h5m26-7h5m-4 6h5m-1 2h5m-4 0h5m-5-7h5m-2 0h5m-4 1h5m2 1h5m-4 3h5m-5-6h5m-5 1h5m0 2h5m-4-3h5m-5 5h5m-2-6h5m-4 2h5m-5 4h5m-4-3h5m-4-3h5m-3 5h5m-5 2h5m-5-4h5m-4-1h5m-5 3h5m-5 3h5m-5-1h5m-5-6h5m-4 6h5m-5-6h5m-4 5h5m-5-3h5m-4 4h5m-5-3h5m-5 1h5m-4-5h5m-5 2h5m-3-2h5m-5 6h5m-2 0h5m-4 0h5m-3-5h5m-5 4h5m-4-1h5m-4-1h5m-5 6h5m-5-9h5m-3 7h5m-4 0h5m-3-1h5m-5 2h5m-5 1h5m-3-6h5m-4 5h5m-4-3h5m-3 1h5m-3-2h5m-4 1h5m-4 2h5m-5-7h5m-4 8h5m-5-7h5m-4 2h5m-4 0h5m-4 4h5m-4-7h5m-4 7h5m-5 2h5m-5-7h5m-3-1h5m-4-1h5m-3 0h5m-5 6h5m-2 1h5m-4-7h5m-3 2h5m-2-2h5m-4 3h5m-5 3h5m-5 2h5m-5-7h5m-4 0h5m-1 5h5m-5-4h5m-4 3h5m-4-2h5m2 5h5m-2-1h5m-4-6h5m-3-1h5m-5 5h5m-4 3h5m-4-4h5m-4 5h5m-5-9h5m-5 1h5m-5 4h5m-4 0h5m-4-2h5m-4 4h5m-2-1h5m-1 2h5m-3-8h5m-4 8h5m-5-8h5m-5 6h5m-4 3h5m-1 0h5m-5-4h5m-2-4h5m-5 3h5m-4-3h5m-5 2h5m-5 2h5m0-4h5m-5 3h5m-5 4h5m-5-6h5m-4 1h5m-4 1h5m-3 5h5m-4 0h5m-4-8h5m-4 8h5m0-4h5m-5 4h5m-4-6h5m-2 4h5m-1 1h5m-3-6h5m-3 2h5m-3 0h5m-4 2h5m-2-1h5m-4 3h5m-3-7h5m-5 6h5m-4-6h5m6 5h5m-3-3h5m-4-2h5m2 0h5m-5 3h5m2 5h5m-4-6h5m1 1h5m5-4h5m0 7h5m4-2h5m5-1h5m10-4h5m-298 16h5m-2-5h5m15 6h5m3-4h5m1-1h5m5 4h5m-3-6h5m-1 4h5m-2 1h5m-5-3h5m-2-1h5m4 6h5m-2-5h5m-2 7h5m-5-8h5m-2 5h5m-5-5h5m-5 2h5m-4 3h5m-4-6h5m-4 5h5m-4-1h5m-4 4h5m-5-7h5m-1 1h5m-3 4h5m-5-3h5m-5-1h5m-4 5h5m-5-6h5m-4 5h5m-1 3h5m-2-7h5m-4 6h5m-5-2h5m-5 3h5m-3 0h5m-4 0h5m-3-5h5m-3 2h5m-5 2h5m-4 0h5m-4-7h5m-4 0h5m-4 6h5m-4-2h5m-4 2h5m-4-4h5m-4-2h5m-2 2h5m-5 3h5m-4-1h5m0 0h5m-4-2h5m-2 2h5m-1 1h5m-1-3h5m-4-3h5m-4 1h5m-5 6h5m-3-2h5m-4-2h5m-5 1h5m-2-4h5m-3 9h5m-3-8h5m-3 0h5m-4 1h5m-4 0h5m-5 4h5m-3-4h5m-5-2h5m-1 7h5m-4-2h5m-5 1h5m-4-5h5m-1 0h5m-4 2h5m-4-2h5m-5 6h5m-4-5h5m-5 1h5m-4 4h5m-5 2h5m-3-1h5m-4-7h5m-4 2h5m-5 3h5m-5 2h5m-4 0h5m-3-2h5m-5-5h5m-2 4h5m-3-1h5m-2 0h5m-2-2h5m1 3h5m-4-4h5m-4 3h5m-4 0h5m-4-1h5m-3 3h5m-4 1h5m-1-5h5m-2-2h5m0 2h5m-3 7h5m-3-8h5m-4 0h5m-3 4h5m-3 3h5m-3-6h5m-3 2h5m-4 4h5m-4-3h5m-4 0h5m-3-4h5m9 7h5m26 0h5m-249 6h5m8-1h5m1 1h5m4 1h5m2 4h5m-3-9h5m1 3h5m-4 2h5m-3-1h5m-4-4h5m-4 0h5m0 3h5m-2 0h5m-4 1h5m-3-1h5m-3-3h5m-5 1h5m-4 6h5m-4-6h5m-4 5h5m-5-2h5m-4-1h5m-5 4h5m-4-3h5m-4 2h5m-4-2h5m-5-1h5m-4-3h5m-4 7h5m-4-6h5m-5 2h5m-2 2h5m-5-3h5m-4 0h5m-5 2h5m-4 4h5m-4-6h5m-4 0h5m-4 5h5m-4-7h5m-2 9h5m-5-5h5m-3 0h5m-3-4h5m-5 2h5m-2 2h5m-4 4h5m-4-8h5m-3 5h5m-4 3h5m-5-7h5m-4 8h5m-3-5h5m-4-4h5m-2 3h5m-4 5h5m-4-3h5m-5 3h5m-4-7h5m-5 8h5m-4-4h5m-3 4h5m-1-7h5m-3 2h5m-4 5h5m-5-2h5m-1-1h5m1-3h5m-4 2h5m-5-5h5m-5 1h5m6 0h5m-4-1h5m-4 0h5m-4 9h5m-4 0h5m-4-6h5m-3 5h5m-3-5h5m3 1h5m-4-1h5m-5 5h5m0-1h5m-3 1h5m-3-8h5m-4 5h5m-4-5h5m-4 8h5m-2-1h5m2 0h5m5-2h5m3-2h5m-4 5h5m0-6h5m-237 17h5m9-7h5m-2-1h5m8 0h5m23 8h5m-2-7h5m4-1h5m-3 8h5m7-4h5m-4-5h5m-5 6h5m-4-6h5m-2 4h5m-5 3h5m-4-3h5m-5 3h5m-2-4h5m-2 5h5m2-7h5m-4 3h5m-3-4h5m-4 8h5m-5-4h5m0 5h5m-1-9h5m-4 9h5m-3-3h5m-4-4h5m-5-1h5m-4 1h5m0 5h5m-5-5h5m-4 0h5m-3 3h5m-2-2h5m-4 2h5m-2 2h5m-5-6h5m-2 3h5m-5-4h5m-4 3h5m-5 3h5m-5-5h5m-1 3h5m-4-4h5m1 2h5m-4 1h5m-1 0h5m-4 2h5m-5-5h5m0 5h5m-3 4h5m-4-1h5m-2-5h5m-1-3h5m-4 7h5m1 0h5m1-3h5m10 3h5m1-2h5m-5 3h5m-4-3h5m-3-2h5m-1-1h5m-3-1h5m1-1h5m-1 3h5m11-2h5m6 8h5m-202 6h5m4-1h5m-3-2h5m1 1h5m4-1h5m-1-2h5m-2 0h5m-4 5h5m-3-5h5m-5 6h5m3-3h5m-4 6h5m-3-1h5m2-3h5m-2 1h5m-4 1h5m-1-2h5m-5-4h5m2 3h5m12 5h5m-3 0h5m-2-4h5m-5 2h5m-1-6h5m-3-1h5m4 6h5m8-3h5m-1 2h5m-2-5h5m-2 7h5m-3-2h5m16 2h5m-215 7h5m8 1h5m7-1h5m31 5h5m4-5h5m-3 5h5m-2-8h5m0 7h5m13-4h5m-2-2h5m0 5h5m-5-5h5m5 3h5m-5 2h5m-4-2h5m-1-3h5m7 4h5m-4-4h5m-2 3h5m2-5h5m-3 9h5m-3-3h5m-2-5h5m-5 2h5m48 1h5m31-2h5m32 1h5m-258 9h5m15 7h5m15-5h5m-3 3h5m21 0h5m8 0h5m-3-6h5m6 2h5m-3-3h5m6 8h5m8-1h5m-2 0h5m-4-2h5m-1 4h5m20-9h5m-180 12h5m20-1h5m38 7h5m-5-5h5m38-1h5m6 3h5m4 1h5m-1-6h5m8 5h5m4 0h5m63-3h5m-92 11h5m-72 15h5m117-2h5m-123 5h5" stroke="#000" stroke-width="5" stroke-opacity="0.8" fill="none"/>
<path transform="scale(.1)" d="M3696 205h5m8 14h5m6 4h5m29 3h5m-50 8h5m-79 11h5m40-3h5m-215 8h5m44 15h5m110 4h5m44 0h5m6-3h5m-142 6h5m18-2h5m35 6h5m-47 12h5m71-4h5m-4 3h5m36-7h5m-180 14h5m9 5h5m66-6h5m75 3h5m28 1h5m19-1h5m11 1h5m-116 6h5m5 6h5m-149 9h5m66-1h5m3-2h5m7 3h5m24-6h5m2 5h5m4-2h5m-2 0h5m36 2h5m8-2h5m51 1h5m-260 10h5m121 3h5m13-3h5m8-4h5m0 5h5m-4-7h5m12 6h5m-5-5h5m12 2h5m4 6h5m6-6h5m10 2h5m4 4h5m-175 2h5m24 0h5m0 2h5m19-2h5m3 1h5m168 4h5m-276 12h5m20-6h5m1 0h5m39 4h5m3 2h5m-2-3h5m-4 4h5m-4-8h5m1 0h5m-4 8h5m12-1h5m2-6h5m-2 3h5m0 0h5m59 0h5m-3 3h5m3-3h5m8 0h5m5-2h5m-175 15h5m-1-8h5m15 0h5m0 2h5m-4 3h5m11-2h5m1 0h5m-4 2h5m0 0h5m5 0h5m39-1h5m22-2h5m7 6h5m4-2h5m-3-6h5m-229 12h5m41 7h5m43-1h5m-5-5h5m-1 4h5m-3-5h5m6 6h5m4-3h5m24 2h5m-2-1h5m7-5h5m6 6h5m16-2h5m-4-1h5m9-1h5m8 6h5m57-4h5m-280 7h5m14 3h5m2-4h5m8 0h5m44 0h5m9-1h5m13 1h5m-1 3h5m25 4h5m-4-7h5m-1 4h5m-3-1h5m15 1h5m18 0h5m45-2h5m12 1h5m-280 10h5m37 1h5m-4 3h5m10-3h5m33 0h5m-4 0h5m-2-2h5m-1 2h5m1-3h5m0 3h5m6 1h5m-4 0h5m7 1h5m12 2h5m11-8h5m-3 4h5m21 0h5m10-4h5m3 1h5m-271 14h5m101 2h5m1-1h5m-3 2h5m-4-7h5m15 2h5m3-4h5m-5 1h5m-1 8h5m3-8h5m-2 7h5m3 1h5m28-7h5m-4-1h5m38 4h5m11-4h5m-192 18h5m17-5h5m0 2h5m1 0h5m18 0h5m2 2h5m-1-4h5m2 1h5m25-2h5m-3 0h5m-3 3h5m1-5h5m-5 3h5m15 2h5m43-4h5m0 4h5m10-3h5m-4 2h5m19-3h5m8-2h5m-247 17h5m5-1h5m22 1h5m-4-7h5m7 3h5m2 1h5m-2-2h5m-2-1h5m2-1h5m4 2h5m21 2h5m0-3h5m28-1h5m0 3h5m5 2h5m2-1h5m-3 3h5m-2-6h5m54 8h5m-295 2h5m18 7h5m12-1h5m-5-2h5m25-3h5m8 5h5m-1-5h5m16-2h5m1 4h5m2 5h5m14-6h5m1 3h5m-1-1h5m1 4h5m9-4h5m0-5h5m1 2h5m-5 4h5m2-5h5m14 5h5m56 2h5m17-5h5m-353 7h5m104 1h5m-4 5h5m-4 2h5m21 1h5m23-3h5m24-5h5m4 4h5m-3-1h5m-3 4h5m0 1h5m3-4h5m2 3h5m-3-3h5m2-4h5m3 7h5m1 0h5m6 0h5m-1-8h5m0 2h5m13 4h5m29-4h5m26-2h5m-246 12h5m34 5h5m-3-4h5m1-2h5m5 6h5m-1-6h5m5 1h5m5 4h5m10-5h5m5 8h5m3-6h5m1-1h5m22 7h5m4-3h5m0-3h5m0 2h5m-264 11h5m90-5h5m24 1h5m22 0h5m10 0h5m-3 1h5m10 1h5m2-2h5m55 5h5m3-4h5m6-3h5m-4 2h5m-218 10h5m9 4h5m24-1h5m0 0h5m-1-3h5m14 5h5m-4-7h5m-4 5h5m13-5h5m0 8h5m13-8h5m0 2h5m9 7h5m-2-3h5m21-2h5m4 2h5m0 0h5m-4-3h5m6-1h5m4-1h5m0 1h5m-5 4h5m30 1h5m33-7h5m-295 19h5m32-5h5m24 2h5m12-6h5m18 6h5m-3 2h5m-3-1h5m5-3h5m14-2h5m-1 3h5m3 3h5m-2-4h5m10-2h5m-5 3h5m80-4h5m1 3h5m26 0h5m-269 14h5m-3 1h5m9-1h5m7-5h5m-3 4h5m10-1h5m3-1h5m10 2h5m-5-5h5m-4 6h5m17-5h5m16 1h5m-3 1h5m-5-5h5m-3 6h5m8 1h5m-3-2h5m5-2h5m19-3h5m-1 1h5m9 1h5m30 0h5m45-2h5m-260 14h5m41-4h5m-3 8h5m5-4h5m45-1h5m-3 4h5m-2-4h5m4-2h5m36-1h5m-5 4h5m1-2h5m-2 4h5m-257 8h5m14-4h5m63 7h5m16-1h5m17 3h5m-4 0h5m23-8h5m8 7h5m-4-7h5m-4-1h5m9 8h5m0-7h5m7 2h5m4 6h5m31-2h5m0-2h5m44-5h5m-196 13h5m3 4h5m14-6h5m14 5h5m5-1h5m-4-2h5m-1 2h5m4-3h5m2 2h5m2 4h5m-2-5h5m4-1h5m-2 3h5m45-3h5m43 0h5m65 5h5m-259 11h5m11-6h5m-4 5h5m11-4h5m3 5h5m-4-8h5m9 7h5m8 0h5m10-4h5m-2 3h5m-2-6h5m3 0h5m13 4h5m20 0h5m4 5h5m-191 7h5m21-5h5m10 3h5m-2-1h5m-4 2h5m-3-4h5m11 3h5m10-4h5m-3 8h5m31-3h5m15-3h5m44 6h5m-257 6h5m42 4h5m17-3h5m58 4h5m11-2h5m-2 0h5m11-7h5m7 2h5m-4 3h5m-1 0h5m4 4h5m9-9h5m-4 9h5m60-3h5m-294 5h5m67 5h5m29 3h5m59-8h5m3 6h5m25 1h5m32-7h5m8 8h5m-4-5h5m90-3h5m-370 10h5m59 1h5m60 4h5m23-3h5m10-2h5m3 2h5m13 2h5m32-3h5m14-1h5m15 4h5m4 0h5m10 1h5m33 3h5m-299 10h5m112-2h5m9 0h5m15-7h5m13 5h5m19-4h5m-179 9h5m10 5h5m30 0h5m13 1h5m2-2h5m74 5h5m-225 2h5m44 6h5m46-6h5m56 4h5m17-3h5m12 3h5m-3-2h5m-109 7h5m13 0h5m53 1h5m-4 5h5m-2 0h5m-4 1h5m3 0h5m31-7h5m-3 1h5m-1-1h5m69 0h5m-325 17h5m21-3h5m88 4h5m9-8h5m-1 6h5m42-1h5m-2 4h5m5-7h5m-1-2h5m3 6h5m5-2h5m2-1h5m6 6h5m3-3h5m27 1h5m3-3h5m-262 15h5m19-1h5m-3-7h5m49 1h5m14 5h5m20 2h5m25-3h5m10 3h5m6-1h5m-3-2h5m58 1h5m50-3h5m-222 10h5m26-3h5m32-1h5m29 2h5m25 3h5m4-5h5m20 2h5m0 3h5m-3-4h5m-295 13h5m49 0h5m4 4h5m26-2h5m28-3h5m-3 3h5m1-3h5m57-3h5m12 3h5m22 3h5m16-6h5m-3 9h5m11-5h5m39 0h5m6-1h5m-319 14h5m71 2h5m28-5h5m-1-4h5m17 3h5m0 5h5m37-6h5m33 5h5m-1-6h5m-1-1h5m14 9h5m30 0h5m-4-8h5m22 8h5m-312 5h5m47 0h5m18 5h5m2-5h5m0 3h5m-2-5h5m0 1h5m20 6h5m25-6h5m2-3h5m5 3h5m4-2h5m36 2h5m15 6h5m-3-8h5m33 8h5m-5-8h5m-293 11h5m50 5h5m0 0h5m43-1h5m0 0h5m10 2h5m-3-7h5m19-1h5m25 4h5m-2-3h5m4 1h5m-2 1h5m1 5h5m-1 0h5m4-8h5m9 7h5m3-2h5m69-2h5m-246 16h5m11-7h5m17 6h5m24-5h5m-4 6h5m20 0h5m0-2h5m43-5h5m14 0h5m10 0h5m101 5h5m-295 7h5m11-1h5m2-3h5m18 7h5m18 1h5m-2-8h5m-5 4h5m-4 0h5m6 0h5m8 3h5m-3-2h5m3-4h5m-4 0h5m8 5h5m8 3h5m-2-2h5m-4-6h5m18 3h5m38-3h5m58 2h5m34 1h5m-359 8h5m73 7h5m13-6h5m0 3h5m10-6h5m13 7h5m-3-5h5m2-1h5m3 1h5m4 5h5m9-5h5m6 0h5m-4 0h5m28 6h5m101 1h5m-269 6h5m-3 0h5m48-2h5m12 0h5m10 4h5m3-7h5m3 2h5m51 0h5m-219 13h5m7 0h5m75 1h5m5 1h5m-4 2h5m-4-2h5m124 0h5m67-5h5m-323 8h5m44 7h5m15-2h5m54-4h5m5 8h5m14-2h5m4-5h5m4 1h5m4 2h5m0 2h5m74-4h5m8 6h5m-208 3h5m33 2h5m6-2h5m38 0h5m23 3h5m21-2h5m-196 7h5m123 8h5m-5-7h5m62 7h5m23-3h5m-212 5h5m90 6h5m-32 10h5m16 1h5m0 1h5m42-8h5m-106 19h5m141-3h5m0-2h5m-212 9h5m102 4h5m36-3h5" stroke="#000" stroke-width="5" stroke-opacity="0.48" fill="none"/>
<line x1="364.2" y1="15.4" x2="364.2" y2="80.7" stroke="#000" stroke-width="0.8"/>
<line x1="343.5" y1="56.6" x2="403.7" y2="56.6" stroke="#000" stroke-width="0.8"/>
<line x1="343.50" y1="80.7" x2="343.50" y2="82.3" stroke="#000" stroke-width="0.5"/>
<line x1="341.9" y1="80.70" x2="343.5" y2="80.70" stroke="#000" stroke-width="0.5"/>
<text class="s" x="342.7" y="86.0" font-size="2.8" fill-opacity="0.75">10<tspan dy="-1.2" font-size="2.2">0</tspan></text>
<text class="s" x="337.2" y="81.9" font-size="2.8" fill-opacity="0.75">10<tspan dy="-1.2" font-size="2.2">0</tspan></text>
<line x1="348.03" y1="80.7" x2="348.03" y2="81.60000000000001" stroke="#000" stroke-width="0.35"/>
<line x1="342.6" y1="75.79" x2="343.5" y2="75.79" stroke="#000" stroke-width="0.35"/>
<line x1="350.68" y1="80.7" x2="350.68" y2="81.60000000000001" stroke="#000" stroke-width="0.35"/>
<line x1="342.6" y1="72.91" x2="343.5" y2="72.91" stroke="#000" stroke-width="0.35"/>
<line x1="352.56" y1="80.7" x2="352.56" y2="81.60000000000001" stroke="#000" stroke-width="0.35"/>
<line x1="342.6" y1="70.87" x2="343.5" y2="70.87" stroke="#000" stroke-width="0.35"/>
<line x1="354.02" y1="80.7" x2="354.02" y2="81.60000000000001" stroke="#000" stroke-width="0.35"/>
<line x1="342.6" y1="69.29" x2="343.5" y2="69.29" stroke="#000" stroke-width="0.35"/>
<line x1="355.21" y1="80.7" x2="355.21" y2="81.60000000000001" stroke="#000" stroke-width="0.35"/>
<line x1="342.6" y1="68.00" x2="343.5" y2="68.00" stroke="#000" stroke-width="0.35"/>
<line x1="356.22" y1="80.7" x2="356.22" y2="81.60000000000001" stroke="#000" stroke-width="0.35"/>
<line x1="342.6" y1="66.90" x2="343.5" y2="66.90" stroke="#000" stroke-width="0.35"/>
<line x1="357.09" y1="80.7" x2="357.09" y2="81.60000000000001" stroke="#000" stroke-width="0.35"/>
<line x1="342.6" y1="65.96" x2="343.5" y2="65.96" stroke="#000" stroke-width="0.35"/>
<line x1="357.86" y1="80.7" x2="357.86" y2="81.60000000000001" stroke="#000" stroke-width="0.35"/>
<line x1="342.6" y1="65.12" x2="343.5" y2="65.12" stroke="#000" stroke-width="0.35"/>
<line x1="358.55" y1="80.7" x2="358.55" y2="82.3" stroke="#000" stroke-width="0.5"/>
<line x1="341.9" y1="64.38" x2="343.5" y2="64.38" stroke="#000" stroke-width="0.5"/>
<text class="s" x="357.8" y="86.0" font-size="2.8" fill-opacity="0.75">10<tspan dy="-1.2" font-size="2.2">1</tspan></text>
<text class="s" x="337.2" y="65.6" font-size="2.8" fill-opacity="0.75">10<tspan dy="-1.2" font-size="2.2">1</tspan></text>
<line x1="363.08" y1="80.7" x2="363.08" y2="81.60000000000001" stroke="#000" stroke-width="0.35"/>
<line x1="342.6" y1="59.46" x2="343.5" y2="59.46" stroke="#000" stroke-width="0.35"/>
<line x1="365.73" y1="80.7" x2="365.73" y2="81.60000000000001" stroke="#000" stroke-width="0.35"/>
<line x1="342.6" y1="56.59" x2="343.5" y2="56.59" stroke="#000" stroke-width="0.35"/>
<line x1="367.61" y1="80.7" x2="367.61" y2="81.60000000000001" stroke="#000" stroke-width="0.35"/>
<line x1="342.6" y1="54.55" x2="343.5" y2="54.55" stroke="#000" stroke-width="0.35"/>
<line x1="369.07" y1="80.7" x2="369.07" y2="81.60000000000001" stroke="#000" stroke-width="0.35"/>
<line x1="342.6" y1="52.96" x2="343.5" y2="52.96" stroke="#000" stroke-width="0.35"/>
<line x1="370.26" y1="80.7" x2="370.26" y2="81.60000000000001" stroke="#000" stroke-width="0.35"/>
<line x1="342.6" y1="51.67" x2="343.5" y2="51.67" stroke="#000" stroke-width="0.35"/>
<line x1="371.27" y1="80.7" x2="371.27" y2="81.60000000000001" stroke="#000" stroke-width="0.35"/>
<line x1="342.6" y1="50.58" x2="343.5" y2="50.58" stroke="#000" stroke-width="0.35"/>
<line x1="372.14" y1="80.7" x2="372.14" y2="81.60000000000001" stroke="#000" stroke-width="0.35"/>
<line x1="342.6" y1="49.63" x2="343.5" y2="49.63" stroke="#000" stroke-width="0.35"/>
<line x1="372.91" y1="80.7" x2="372.91" y2="81.60000000000001" stroke="#000" stroke-width="0.35"/>
<line x1="342.6" y1="48.80" x2="343.5" y2="48.80" stroke="#000" stroke-width="0.35"/>
<line x1="373.60" y1="80.7" x2="373.60" y2="82.3" stroke="#000" stroke-width="0.5"/>
<line x1="341.9" y1="48.05" x2="343.5" y2="48.05" stroke="#000" stroke-width="0.5"/>
<text class="s" x="372.8" y="86.0" font-size="2.8" fill-opacity="0.75">10<tspan dy="-1.2" font-size="2.2">2</tspan></text>
<text class="s" x="337.2" y="49.3" font-size="2.8" fill-opacity="0.75">10<tspan dy="-1.2" font-size="2.2">2</tspan></text>
<line x1="378.13" y1="80.7" x2="378.13" y2="81.60000000000001" stroke="#000" stroke-width="0.35"/>
<line x1="342.6" y1="43.14" x2="343.5" y2="43.14" stroke="#000" stroke-width="0.35"/>
<line x1="380.78" y1="80.7" x2="380.78" y2="81.60000000000001" stroke="#000" stroke-width="0.35"/>
<line x1="342.6" y1="40.26" x2="343.5" y2="40.26" stroke="#000" stroke-width="0.35"/>
<line x1="382.66" y1="80.7" x2="382.66" y2="81.60000000000001" stroke="#000" stroke-width="0.35"/>
<line x1="342.6" y1="38.22" x2="343.5" y2="38.22" stroke="#000" stroke-width="0.35"/>
<line x1="384.12" y1="80.7" x2="384.12" y2="81.60000000000001" stroke="#000" stroke-width="0.35"/>
<line x1="342.6" y1="36.64" x2="343.5" y2="36.64" stroke="#000" stroke-width="0.35"/>
<line x1="385.31" y1="80.7" x2="385.31" y2="81.60000000000001" stroke="#000" stroke-width="0.35"/>
<line x1="342.6" y1="35.35" x2="343.5" y2="35.35" stroke="#000" stroke-width="0.35"/>
<line x1="386.32" y1="80.7" x2="386.32" y2="81.60000000000001" stroke="#000" stroke-width="0.35"/>
<line x1="342.6" y1="34.25" x2="343.5" y2="34.25" stroke="#000" stroke-width="0.35"/>
<line x1="387.19" y1="80.7" x2="387.19" y2="81.60000000000001" stroke="#000" stroke-width="0.35"/>
<line x1="342.6" y1="33.31" x2="343.5" y2="33.31" stroke="#000" stroke-width="0.35"/>
<line x1="387.96" y1="80.7" x2="387.96" y2="81.60000000000001" stroke="#000" stroke-width="0.35"/>
<line x1="342.6" y1="32.47" x2="343.5" y2="32.47" stroke="#000" stroke-width="0.35"/>
<line x1="388.65" y1="80.7" x2="388.65" y2="82.3" stroke="#000" stroke-width="0.5"/>
<line x1="341.9" y1="31.73" x2="343.5" y2="31.73" stroke="#000" stroke-width="0.5"/>
<text class="s" x="387.8" y="86.0" font-size="2.8" fill-opacity="0.75">10<tspan dy="-1.2" font-size="2.2">3</tspan></text>
<text class="s" x="337.2" y="32.9" font-size="2.8" fill-opacity="0.75">10<tspan dy="-1.2" font-size="2.2">3</tspan></text>
<line x1="393.18" y1="80.7" x2="393.18" y2="81.60000000000001" stroke="#000" stroke-width="0.35"/>
<line x1="342.6" y1="26.81" x2="343.5" y2="26.81" stroke="#000" stroke-width="0.35"/>
<line x1="395.83" y1="80.7" x2="395.83" y2="81.60000000000001" stroke="#000" stroke-width="0.35"/>
<line x1="342.6" y1="23.94" x2="343.5" y2="23.94" stroke="#000" stroke-width="0.35"/>
<line x1="397.71" y1="80.7" x2="397.71" y2="81.60000000000001" stroke="#000" stroke-width="0.35"/>
<line x1="342.6" y1="21.90" x2="343.5" y2="21.90" stroke="#000" stroke-width="0.35"/>
<line x1="399.17" y1="80.7" x2="399.17" y2="81.60000000000001" stroke="#000" stroke-width="0.35"/>
<line x1="342.6" y1="20.31" x2="343.5" y2="20.31" stroke="#000" stroke-width="0.35"/>
<line x1="400.36" y1="80.7" x2="400.36" y2="81.60000000000001" stroke="#000" stroke-width="0.35"/>
<line x1="342.6" y1="19.02" x2="343.5" y2="19.02" stroke="#000" stroke-width="0.35"/>
<line x1="401.37" y1="80.7" x2="401.37" y2="81.60000000000001" stroke="#000" stroke-width="0.35"/>
<line x1="342.6" y1="17.93" x2="343.5" y2="17.93" stroke="#000" stroke-width="0.35"/>
<line x1="402.24" y1="80.7" x2="402.24" y2="81.60000000000001" stroke="#000" stroke-width="0.35"/>
<line x1="342.6" y1="16.98" x2="343.5" y2="16.98" stroke="#000" stroke-width="0.35"/>
<line x1="403.01" y1="80.7" x2="403.01" y2="81.60000000000001" stroke="#000" stroke-width="0.35"/>
<line x1="342.6" y1="16.15" x2="343.5" y2="16.15" stroke="#000" stroke-width="0.35"/>
<line x1="403.70" y1="80.7" x2="403.70" y2="82.3" stroke="#000" stroke-width="0.5"/>
<line x1="341.9" y1="15.40" x2="343.5" y2="15.40" stroke="#000" stroke-width="0.5"/>
<text class="s" x="402.9" y="86.0" font-size="2.8" fill-opacity="0.75">10<tspan dy="-1.2" font-size="2.2">4</tspan></text>
<text class="s" x="337.2" y="16.6" font-size="2.8" fill-opacity="0.75">10<tspan dy="-1.2" font-size="2.2">4</tspan></text>
<text class="s" x="344.2" y="21.5" font-size="5.9" text-anchor="start">1.5</text>
<text class="s" x="403.2" y="21.7" font-size="5.9" text-anchor="end">2.6</text>
<text class="s" x="403.1" y="78.8" font-size="5.9" text-anchor="end">18.5</text>
<rect x="423.1" y="15.4" width="60.40" height="65.30" fill="#fff" stroke="#111" stroke-width="0.75"/>
<path transform="scale(.1)" d="M4434 551h5m18 6h5m-47 6h5m-1-3h5m1 3h5m-2 5h5m0-1h5m-4 2h5m-5-1h5m-1-2h5m-2-5h5m-5 4h5m4 4h5m-98 5h5m18-2h5m-4 6h5m4-2h5m-1 0h5m2-4h5m-5-1h5m2 3h5m-1 0h5m-3 2h5m-3-1h5m0 4h5m-5-1h5m-5-8h5m-3 4h5m-4-2h5m-5 6h5m-5-8h5m-4 8h5m-5-1h5m-1-2h5m-1-4h5m-3 1h5m2 7h5m-4 0h5m8-7h5m1 5h5m-2-5h5m-97 16h5m-4-8h5m13 2h5m-4-2h5m-3 1h5m1 6h5m-4-2h5m-2-3h5m-4 5h5m-5 2h5m-2-4h5m-4-5h5m-4 7h5m-5-7h5m-4 8h5m-5-1h5m-5-4h5m-4 0h5m-5 1h5m-2-3h5m-5 3h5m-4 0h5m-5 4h5m-5-1h5m-5 2h5m-4-3h5m-4 1h5m-3-3h5m-4 4h5m-5 1h5m-5-9h5m-4 2h5m-4 2h5m-5 2h5m-4 1h5m-4-6h5m-4 6h5m-4 2h5m-4-5h5m-3-2h5m-5 1h5m-4 5h5m-2-3h5m-3-2h5m-5 5h5m-4-4h5m-5 1h5m-4 1h5m-5 1h5m-1 0h5m-4 2h5m-3-7h5m-4 2h5m-82 13h5m-1-2h5m-5-2h5m-4 3h5m-1-2h5m-2 4h5m-5-3h5m-4 0h5m-4 4h5m0-3h5m-2-2h5m-5-1h5m-4 2h5m-5 1h5m-2 3h5m-4-1h5m-4-4h5m-3 2h5m-5-1h5m-4 4h5m-3-2h5m-3 2h5m-3-3h5m-5 2h5m-4-4h5m-5 2h5m-5 2h5m-5-1h5m-5-4h5m-4 1h5m-5 3h5m-4-2h5m-4 3h5m-4-1h5m-5-7h5m-3 5h5m-4-4h5m-5 4h5m-5 1h5m-4 2h5m-5-6h5m-5 5h5m-4-4h5m-5-1h5m-5 4h5m-3-6h5m-5 9h5m-4 0h5m-5-9h5m-4 4h5m-5-3h5m-5-1h5m-4 2h5m-4 0h5m-5 4h5m-4-1h5m-5-3h5m-4 3h5m-5-1h5m-5 2h5m-5-6h5m-4 2h5m-4 6h5m-5 1h5m-4-6h5m-5 1h5m-5 3h5m-4-5h5m-4 7h5m-5-8h5m-5 3h5m-5 3h5m-4 2h5m-5-4h5m-5 3h5m-5-1h5m-4-4h5m-4 1h5m-5 5h5m-1 0h5m-3-1h5m-5-1h5m-4-4h5m-5-1h5m-4 6h5m-5-5h5m-4 6h5m-1-3h5m-4 3h5m12-2h5m-127 8h5m-4 3h5m9-1h5m-3-3h5m2 0h5m-2-2h5m-1 2h5m-5 4h5m-2-4h5m-2 5h5m-3-4h5m-4-5h5m-5 9h5m-4 0h5m-3-8h5m-4 3h5m-4 2h5m-4-4h5m-2 2h5m-5-1h5m-4-3h5m-5 9h5m-3 0h5m-4-6h5m-5 5h5m-3-4h5m-4-3h5m-4 5h5m-4-4h5m-5 7h5m-3-6h5m-5 3h5m-5 2h5m-4 1h5m-5-9h5m-2 8h5m-5-7h5m-5 2h5m-4 1h5m-5-4h5m-4 2h5m-4-2h5m-4 9h5m-5-4h5m-5 2h5m-4 1h5m-5-7h5m-4 0h5m-4-1h5m-5 1h5m-4 0h5m-5 4h5m-5 1h5m-5 1h5m-4 1h5m-5-6h5m-5 1h5m-5 2h5m-4-3h5m-4 2h5m-5 2h5m-5-6h5m-4 1h5m-4 0h5m-5 2h5m-5 2h5m-5 1h5m-5 2h5m-5-8h5m-5 2h5m-4 2h5m-5 2h5m-5 2h5m-4-8h5m-5 3h5m-4 6h5m-5-8h5m-3 4h5m-5 4h5m-5-1h5m-5-6h5m-3-2h5m-5 1h5m-5 2h5m-4-3h5m-5 4h5m-2 2h5m-5 3h5m-5-5h5m-3 5h5m-5-1h5m-5-4h5m-3 0h5m-4 3h5m-2 2h5m-4-2h5m-5-6h5m-2 3h5m-3 0h5m-3-2h5m-5-1h5m-5 6h5m-1-5h5m-4 3h5m5-5h5m2 2h5m-160 12h5m11 5h5m-2-2h5m-3-2h5m-1-3h5m0 4h5m-3-3h5m-3-3h5m-5 9h5m1-8h5m-1 8h5m-3-3h5m-5-3h5m-4 6h5m1-2h5m-5 2h5m-4-7h5m-4 2h5m-4 0h5m-3-4h5m-1 3h5m-5 2h5m-4 3h5m-4-2h5m-3-1h5m-4 2h5m-4-3h5m-4 4h5m-4 0h5m-4-4h5m-5 3h5m-5-5h5m-4 2h5m-4-4h5m-4 6h5m-4 3h5m-3-8h5m-5 4h5m-5 4h5m-3-9h5m-5 1h5m-4-1h5m-5 9h5m-5-7h5m-4 1h5m-3-3h5m-5 4h5m-4-3h5m-4 0h5m-5 2h5m-5 6h5m-4-9h5m-5 2h5m-5 2h5m-4-1h5m-4 4h5m-4-1h5m-5 3h5m-3-7h5m-5-1h5m-5 6h5m-4 0h5m-5-5h5m-4 3h5m-5-1h5m-4 3h5m-5 2h5m-5-7h5m-4 4h5m-5 3h5m-5-9h5m-5 2h5m-5-1h5m-4 8h5m-5-7h5m-5 1h5m-4 1h5m-5 3h5m-4 0h5m-4-4h5m-3-2h5m-5 2h5m-5 3h5m-5 2h5m-3 0h5m-5-8h5m-5 3h5m-5 2h5m-5 2h5m-4-6h5m-4 4h5m-5 2h5m-5 1h5m-5-8h5m-3 2h5m-5 2h5m-4 5h5m-5-9h5m-4 5h5m-5-4h5m-5 2h5m-4 6h5m-4-3h5m-4 1h5m-4-7h5m-5 4h5m-5 2h5m-4-2h5m-4-1h5m-4 0h5m-4-2h5m-5 2h5m-4 0h5m-5 2h5m-5 1h5m-2-3h5m-5 6h5m1-4h5m-4 3h5m-2-7h5m6 5h5m4 2h5m-147 9h5m3 2h5m6 0h5m-2-2h5m-4-4h5m-1 4h5m0-4h5m-5 4h5m-4 0h5m-5-3h5m-3 5h5m-4-1h5m-5-7h5m-5 2h5m-4 0h5m-4 0h5m-4 1h5m-4-3h5m-4 0h5m-5 5h5m-4 0h5m-4-1h5m-5 3h5m-2-3h5m-5 1h5m-5 3h5m-4-3h5m-5 1h5m-4 2h5m-4-2h5m-5 1h5m-4 0h5m-5-6h5m-4 1h5m-5-3h5m-2 0h5m-5 2h5m-3 0h5m-4 2h5m-5-1h5m-5 5h5m-4 0h5m-5-5h5m-3 5h5m-4 0h5m-5-1h5m-4-2h5m-5 3h5m-3-8h5m-2 5h5m-5 2h5m-5-1h5m-4-6h5m-4 8h5m-5-5h5m-5 3h5m-4 3h5m-5-8h5m-5 1h5m-4 4h5m-5 2h5m-3-3h5m-4-4h5m-5 5h5m-4 2h5m-5-1h5m-4-2h5m-5 3h5m-5-8h5m-4 1h5m-5-1h5m-5 3h5m-4 0h5m-5 3h5m-5 1h5m-4-3h5m-5-1h5m-5 3h5m-4-1h5m-3-1h5m-5-4h5m-4 8h5m-4-1h5m-5-7h5m-5 2h5m-5-1h5m-4 8h5m-4-4h5m-5 1h5m-4 0h5m-5-4h5m-4 0h5m-5 1h5m-5 4h5m-4-2h5m-5 2h5m-5 2h5m-2-8h5m-5-1h5m-4 4h5m-5 1h5m-4 1h5m-5 1h5m-4-4h5m-5-1h5m-4-1h5m-2 3h5m-4-4h5m-1 7h5m-4-6h5m-3 4h5m-4-4h5m-5 5h5m-5 1h5m-4 0h5m-3-4h5m-4-2h5m17-1h5m-160 19h5m15-8h5m0 1h5m-5 2h5m0-1h5m-4 5h5m-4-3h5m-3-1h5m-5-2h5m-4 7h5m-4-2h5m-4 1h5m-5 1h5m-1-5h5m-4-3h5m-5 7h5m-4 1h5m-5-2h5m-4 2h5m-5-3h5m-4-6h5m-4 2h5m-5 2h5m-4-1h5m-5 6h5m-4-9h5m-5 2h5m-5 2h5m-5 1h5m-4 2h5m-5-6h5m-4 2h5m-5 2h5m-5 2h5m-4-1h5m-3-3h5m-3 6h5m-5-6h5m-5 3h5m-3-5h5m-5 3h5m-5-1h5m-4 6h5m-5-5h5m-3 3h5m-5-5h5m-4 2h5m-4 5h5m-4-9h5m-5 6h5m-5 3h5m-4-4h5m-5-4h5m-2 7h5m-4-6h5m-4-1h5m-5 1h5m-4 3h5m-5 4h5m-5-8h5m-4 8h5m-5-1h5m-5-3h5m-4 0h5m-4 4h5m-5-8h5m-5-1h5m-4 7h5m-5 2h5m-5-3h5m-5 2h5m-4-4h5m-4-1h5m-5 4h5m-4 1h5m-5-8h5m-5 5h5m-4-1h5m-5 1h5m-5 4h5m-5-8h5m-4-1h5m-5 3h5m-5 5h5m-5-1h5m-5 2h5m-4-6h5m-5 3h5m-5 1h5m-5 2h5m-4-6h5m-5-1h5m-5 4h5m-5 3h5m-4-8h5m-5 5h5m-5 3h5m-4 0h5m-5-7h5m-4 5h5m-5-7h5m-4 7h5m-5-7h5m-5 2h5m-4 4h5m-5 1h5m-5-6h5m-5-1h5m-4 7h5m-5 2h5m-5-8h5m-5 3h5m-5-1h5m-4 4h5m-4-3h5m-4 3h5m-4 1h5m-5-1h5m-5-4h5m-4 5h5m-4-1h5m-5 2h5m-4-9h5m-5 2h5m-5 2h5m-4 0h5m-5 3h5m-4-5h5m-5 2h5m-5 2h5m-4-4h5m-4 5h5m-4-3h5m-5-1h5m-5 4h5m-5-6h5m-4 1h5m-4 3h5m-4-1h5m-5 2h5m-5-6h5m-3 3h5m-3 4h5m-5-7h5m-4 7h5m-5-4h5m-4 1h5m-3-3h5m-5 1h5m-4-2h5m-5 2h5m-5 4h5m-5-1h5m-4-5h5m-5 7h5m-4-2h5m-5 4h5m-4-5h5m-5 4h5m-4-4h5m-5-4h5m-4 9h5m-4-8h5m-4 3h5m-5-3h5m-4 2h5m-5-1h5m-4 3h5m-3 1h5m-4-5h5m-4-1h5m-4 7h5m-4-4h5m-5 1h5m-3-1h5m-5-1h5m-3 1h5m-3 5h5m-3 1h5m47-4h5m-200 8h5m10 2h5m-5 3h5m-1-1h5m-4 1h5m-3-8h5m-5 2h5m-2 0h5m-4 6h5m-4-4h5m-4 0h5m-4 5h5m-3-1h5m-5-6h5m-3 3h5m-2 1h5m-5 2h5m-4-8h5m-4 3h5m-5 4h5m-5-6h5m-3 1h5m-4 0h5m-4 0h5m-4 2h5m-5 4h5m-3-7h5m-5 2h5m-4-2h5m-4 8h5m-5-5h5m-4 3h5m-5-4h5m-4 6h5m-5-5h5m-5 1h5m-4-2h5m-5-1h5m-4 2h5m-4-4h5m-5 3h5m-4 0h5m-4 1h5m-4-3h5m-5 4h5m-3-1h5m-4 1h5m-5 4h5m-4-3h5m-5-1h5m-5-5h5m-5 4h5m-4 2h5m-5-1h5m-5-2h5m-4-3h5m-4 7h5m-5 2h5m-5-9h5m-5 5h5m-4 1h5m-4-2h5m-4 0h5m-5 3h5m-5-1h5m-5-3h5m-5 2h5m-4 4h5m-5-8h5m-5 6h5m-4 2h5m-5-1h5m-4-8h5m-5 6h5m-5 1h5m-4-1h5m-4-3h5m-5 1h5m-5-3h5m-4 3h5m-5 2h5m-5 1h5m-4-6h5m-5 6h5m-4-7h5m-5 3h5m-4 2h5m-5 1h5m-4 2h5m-5-1h5m-5-6h5m-5 2h5m-4 6h5m-5-9h5m-5 3h5m-4-3h5m-4 9h5m-5-8h5m-5-1h5m-5 2h5m-4 4h5m-5-5h5m-4 6h5m-5 2h5m-4 0h5m-5-4h5m-4-2h5m-4 6h5m-5-4h5m-5-1h5m-5 4h5m-4-3h5m-5 2h5m-4-6h5m-5-1h5m-5 3h5m-5 2h5m-5 3h5m-4-8h5m-5 9h5m-5-1h5m-4-6h5m-5 3h5m-5 1h5m-5 1h5m-5-6h5m-4 7h5m-4-4h5m-5 2h5m-5-5h5m-5-1h5m-4 1h5m-3 3h5m-5 4h5m-5-8h5m-5 3h5m-5-1h5m-4 0h5m-5 3h5m-5 2h5m-5-7h5m-5 3h5m-4-2h5m-4 6h5m-5-5h5m-4 7h5m-5-8h5m-5-1h5m-4 3h5m-4 4h5m-5 2h5m-5-9h5m-5 2h5m-3-2h5m-5 4h5m-4-1h5m-5 3h5m-5-1h5m-5 4h5m-4 0h5m-5-4h5m-4 4h5m-4-7h5m-5 2h5m-5 3h5m-4-4h5m-5-3h5m-4 4h5m-5 3h5m-4-6h5m-5 7h5m-4-8h5m-2 9h5m-4-9h5m-4 0h5m-4 9h5m-4-9h5m-5 2h5m-4-2h5m-3 9h5m-4-7h5m-4 7h5m-3-9h5m-3 2h5m-2-1h5m-4 8h5m-4-9h5m-1 0h5m-4 1h5m-4 3h5m-5 2h5m-3 2h5m-1-3h5m-200 12h5m48-5h5m-4 5h5m-1-5h5m4 2h5m-4 4h5m-4-7h5m-3 6h5m-2 2h5m-4-6h5m-5 2h5m-5 1h5m-4 1h5m-1-7h5m-4 4h5m-4 5h5m-4-7h5m-3 7h5m-2-7h5m-5 4h5m-5 2h5m-4-8h5m-4 7h5m-4 0h5m-4-2h5m-3 1h5m-5-6h5m-5 9h5m-5-6h5m-4 1h5m-5-3h5m-4 5h5m-5 1h5m-5 2h5m-5-9h5m-5 5h5m-4-5h5m-4 3h5m-3 3h5m-4-3h5m-5 3h5m-4 0h5m-5 2h5m-5-6h5m-4 7h5m-4-9h5m-5 1h5m-5 3h5m-5 2h5m-4-2h5m-5 3h5m-4 1h5m-4-4h5m-4-1h5m-5-1h5m-5 6h5m-5-1h5m-5-6h5m-4 5h5m-5-6h5m-5 9h5m-4-1h5m-4-4h5m-5 3h5m-5-5h5m-5-1h5m-4 2h5m-5-1h5m-4 5h5m-4-3h5m-5 5h5m-4-9h5m-5 4h5m-4 3h5m-5-1h5m-5 2h5m-5-8h5m-5 9h5m-5-7h5m-4-1h5m-5 2h5m-4 6h5m-5-3h5m-5 2h5m-4 1h5m-5-1h5m-5-3h5m-4-5h5m-5 1h5m-5 1h5m-5 2h5m-4 5h5m-5-5h5m-4 0h5m-5 2h5m-5 2h5m-5-1h5m-4-7h5m-5 1h5m-5 4h5m-4-3h5m-5 7h5m-4-2h5m-4 0h5m-5-1h5m-5 2h5m-4-5h5m-5 2h5m-5 2h5m-4-3h5m-5 4h5m-4-8h5m-5 4h5m-4 4h5m-4-8h5m-5 9h5m-4-8h5m-5 2h5m-4 1h5m-5-4h5m-4 3h5m-5 4h5m-5-1h5m-3-5h5m-5-1h5m-4 0h5m-5 2h5m-5 2h5m-4 1h5m-5 1h5m-5 2h5m-5 1h5m-4-7h5m-5 2h5m-5 4h5m-4-8h5m-5 1h5m-5 3h5m-5 1h5m-5 4h5m-5-1h5m-4-5h5m-5 4h5m-5-6h5m-4 2h5m-5 1h5m-5 4h5m-4-7h5m-5-1h5m-5 5h5m-4 0h5m-5 1h5m-5 3h5m-5-9h5m-4 1h5m-5 4h5m-5 4h5m-5-1h5m-3-2h5m-5-6h5m-5 3h5m-4-3h5m-5 2h5m-5 2h5m-5 3h5m-4 2h5m-5-1h5m-4 1h5m-5-4h5m-5 1h5m-5 2h5m-4-5h5m-5-1h5m-4 7h5m-5-5h5m-4-4h5m-5 6h5m-4-5h5m-5 6h5m-4-5h5m-5 3h5m-5 3h5m-4-6h5m-5 3h5m-5 3h5m-4-1h5m-5-7h5m-3 7h5m-4-7h5m-4 4h5m-5 2h5m-4-4h5m-5 1h5m-4-1h5m-4 2h5m-5 4h5m-5-6h5m-3-2h5m-3 0h5m-5 1h5m-5 2h5m-5 2h5m-4 3h5m-4-8h5m-5 1h5m-4 8h5m-4-3h5m-4 3h5m-4-4h5m-5-1h5m-5 4h5m-4-2h5m0-2h5m-1 3h5m2-5h5m1 6h5m14-8h5m-3 1h5m-189 12h5m4 3h5m0-1h5m-4-4h5m-1 5h5m2-6h5m-3 6h5m-5 3h5m-1 0h5m-4-7h5m-2 2h5m-3 2h5m-4-2h5m-5 5h5m-4-5h5m-4 3h5m-5 2h5m-3-9h5m-5 2h5m-4 7h5m-4-4h5m-4 1h5m-5 3h5m-4-9h5m-4 5h5m-5-1h5m-4-3h5m-5 3h5m-2 2h5m-4 2h5m-4 1h5m-4-3h5m-4-1h5m-5 4h5m-5-1h5m-4-4h5m-4-1h5m-5-2h5m-4-1h5m-4 5h5m-5-1h5m-5 2h5m-5 2h5m-5-7h5m-4 3h5m-4 5h5m-5-5h5m-4 3h5m-5 1h5m-5-3h5m-4-3h5m-5 3h5m-4 1h5m-5 2h5m-4-1h5m-4 2h5m-5-6h5m-5-1h5m-5 3h5m-5 1h5m-4 0h5m-5 2h5m-5-3h5m-4 2h5m-5-1h5m-5 2h5m-4 1h5m-5-1h5m-4-4h5m-5 2h5m-5-3h5m-4-1h5m-5 3h5m-5 1h5m-4-4h5m-4 3h5m-5-1h5m-5 3h5m-5-1h5m-4-2h5m-5 5h5m-5-9h5m-4 0h5m-5 2h5m-3 6h5m-5-8h5m-5 9h5m-5-4h5m-5 1h5m-4-4h5m-5 1h5m-4 4h5m-5 2h5m-3-3h5m-5 2h5m-5-4h5m-5 1h5m-4-3h5m-5 5h5m-5 1h5m-5-8h5m-4 3h5m-4 4h5m-5-6h5m-5 2h5m-5 2h5m-4-1h5m-5 3h5m-5 2h5m-4-9h5m-5 4h5m-4 2h5m-5-4h5m-4 0h5m-5 4h5m-5-1h5m-5 2h5m-3 0h5m-5 2h5m-5-9h5m-5 2h5m-5-1h5m-4 4h5m-5-5h5m-4 6h5m-5-6h5m-4 4h5m-5-2h5m-4 4h5m-5 3h5m-5-8h5m-4 6h5m-5 1h5m-5-6h5m-5 2h5m-4-2h5m-5 4h5m-4-6h5m-5 2h5m-4-2h5m-5 4h5m-5-1h5m-4-3h5m-3 2h5m-5 2h5m-5 1h5m-4-4h5m-5 6h5m-5 2h5m-4-4h5m-5 1h5m-5 3h5m-5-9h5m-4 3h5m-5 2h5m-5-1h5m-4-2h5m-5-1h5m-5 4h5m-4-2h5m-5 3h5m-5 3h5m-5-1h5m-5-8h5m-5 1h5m-4 4h5m-5 3h5m-4-2h5m-5-4h5m-5 1h5m-3-2h5m-5 3h5m-5 2h5m-5 1h5m-5 2h5m-5-9h5m-4 9h5m-5-1h5m-5-6h5m-5-1h5m-4 1h5m-5-1h5m-4 7h5m-5-1h5m-4 2h5m-5-1h5m-5-8h5m-5 3h5m-5 3h5m-3-1h5m-5 2h5m-4-3h5m-4-2h5m-5-1h5m-4 5h5m-4 1h5m-1 0h5m-3 2h5m-5-9h5m-4 8h5m-3-2h5m-4-4h5m-5 4h5m-4-5h5m-3 8h5m-2-7h5m-3-2h5m-2 9h5m-5-6h5m6-2h5m-3-1h5m0 0h5m-3 0h5m-192 17h5m5-3h5m18-3h5m-4 7h5m10-2h5m-5-6h5m-4 5h5m-4-5h5m-2 2h5m-3 0h5m-5-1h5m-4 4h5m-1 3h5m-4-3h5m-5 1h5m-4-1h5m-3-1h5m-5 2h5m-4-1h5m-4 4h5m-5-9h5m-4 3h5m-4 5h5m-4 0h5m-5-1h5m-4 0h5m-4-2h5m-4-5h5m-5 1h5m-5 4h5m-4 4h5m-5-3h5m-4-1h5m-5 2h5m-5 1h5m-4-4h5m-5 1h5m-4 3h5m-5-6h5m-4 3h5m-5 4h5m-4-8h5m-4 3h5m-5 4h5m-5-8h5m-4 2h5m-5 1h5m-5 4h5m-5 2h5m-5-1h5m-4-3h5m-5 1h5m-5-5h5m-5 3h5m-4 5h5m-5-1h5m-5-6h5m-4 7h5m-5-4h5m-5-1h5m-5 2h5m-4-1h5m-5 3h5m-4-1h5m-4-1h5m-5-3h5m-4 4h5m-5-1h5m-5-2h5m-5-1h5m-4 4h5m-5 2h5m-3-7h5m-5 1h5m-5 3h5m-4-4h5m-5 2h5m-5 1h5m-4-5h5m-5 3h5m-5 2h5m-4-3h5m-5-1h5m-5-1h5m-4 2h5m-5 5h5m-4 2h5m-5-6h5m-4 2h5m-5 2h5m-5-6h5m-4 1h5m-5 2h5m-5 5h5m-4-2h5m-5 2h5m-5-1h5m-5-8h5m-5 3h5m-4 3h5m-4-6h5m-5 2h5m-5 1h5m-4 2h5m-5-3h5m-5 2h5m-4 4h5m-5-5h5m-5 3h5m-4 0h5m-5-2h5m-5-1h5m-5 4h5m-4-4h5m-4 6h5m-5-8h5m-5 2h5m-5 4h5m-4 1h5m-5-7h5m-5-1h5m-5 6h5m-5 1h5m-4-4h5m-5 2h5m-4 0h5m-5 2h5m-5-1h5m-5 3h5m-4-6h5m-5 3h5m-5-1h5m-5 3h5m-4-5h5m-5 3h5m-5 1h5m-4-7h5m-5 7h5m-5 2h5m-4-4h5m-5 1h5m-5 3h5m-5-9h5m-5 1h5m-4-1h5m-5 6h5m-5 3h5m-5-8h5m-4-1h5m-5 2h5m-5 4h5m-4 0h5m-5 1h5m-5 1h5m-5-4h5m-4-1h5m-5 5h5m-4-3h5m-5 4h5m-5-9h5m-4 5h5m-5 4h5m-4-6h5m-5 4h5m-4 2h5m-5-7h5m-5 2h5m-5 2h5m-4-3h5m-4-2h5m-5 1h5m-4 5h5m-5-7h5m-5 3h5m-5 3h5m-5-1h5m-5 3h5m-4 1h5m-4-8h5m-5-1h5m-5 2h5m-4 5h5m-5-6h5m-5-1h5m-4 5h5m-5 3h5m-5 1h5m-4-2h5m-5-3h5m-4-1h5m-5 4h5m-4-1h5m-5 1h5m-5 2h5m-4-3h5m-5-5h5m-5 3h5m-4-1h5m-5 5h5m-4-7h5m-5 4h5m-5 2h5m-4-4h5m-5 3h5m-5-1h5m-4 0h5m-5 3h5m-5-1h5m-5-6h5m-4 6h5m-5-5h5m-5 4h5m-4-4h5m-4-1h5m-4 1h5m-5 3h5m-3-2h5m-4 3h5m-4-2h5m-5 1h5m-4 2h5m-4-4h5m-5 2h5m-5-5h5m-4 5h5m-4-5h5m-5 3h5m-2 1h5m-4 1h5m-5-3h5m-3 1h5m-4 5h5m-5-6h5m-4 2h5m-4 4h5m7-8h5m-2 1h5m1-1h5m9 7h5m-192 8h5m30-5h5m-4 8h5m-3 0h5m-1-5h5m-4 5h5m-5-1h5m-4-3h5m-4-2h5m-5-1h5m-4 3h5m-2-1h5m-3-2h5m-4 1h5m-5 2h5m-3-2h5m-4 3h5m-1-3h5m-5 3h5m-4 3h5m-5-8h5m-4 0h5m-5 3h5m-4 6h5m-5-8h5m-4 6h5m-5-5h5m-3 2h5m-4 4h5m-4-2h5m-5-6h5m-4 6h5m-5-1h5m-5 2h5m-4-3h5m-5 1h5m-4-3h5m-5 1h5m-5 3h5m-5-6h5m-4 4h5m-5 4h5m-4-3h5m-5 2h5m-4-1h5m-5-1h5m-5 2h5m-5-7h5m-4 4h5m-5 4h5m-5 1h5m-4-1h5m-4-6h5m-5 4h5m-5 2h5m-5-1h5m-5 2h5m-5-8h5m-5-1h5m-5 3h5m-4 4h5m-5 2h5m-5-9h5m-5 2h5m-5 2h5m-4 1h5m-5-5h5m-5 4h5m-4 4h5m-5-4h5m-5 3h5m-3-2h5m-5-4h5m-5-1h5m-5 4h5m-4 4h5m-4-8h5m-5 2h5m-5 3h5m-5 2h5m-4-4h5m-5 3h5m-5-1h5m-5 2h5m-5 2h5m-4-6h5m-4 4h5m-5-6h5m-5-1h5m-5 2h5m-4 1h5m-5 3h5m-5 3h5m-5-1h5m-5-8h5m-4 1h5m-5-1h5m-5 2h5m-4 4h5m-5-1h5m-5 4h5m-5-8h5m-5-1h5m-4 4h5m-5 2h5m-5 2h5m-5-1h5m-5 2h5m-4-1h5m-5-8h5m-5 2h5m-5 4h5m-4-2h5m-5 2h5m-5-1h5m-4-3h5m-4 7h5m-5-6h5m-4 2h5m-5 4h5m-5-9h5m-5 2h5m-4 4h5m-4 2h5m-5-1h5m-5-6h5m-5 3h5m-4-3h5m-5 6h5m-4-5h5m-5 1h5m-4 0h5m-5 5h5m-4-8h5m-5 2h5m-4 7h5m-5-6h5m-5-1h5m-5 3h5m-4-3h5m-5 2h5m-5 2h5m-5-1h5m-5 3h5m-5 1h5m-5-8h5m-4-1h5m-5 4h5m-5-1h5m-5 3h5m-4-5h5m-5 1h5m-4 3h5m-5-4h5m-4 4h5m-5 3h5m-5-1h5m-4-1h5m-5-6h5m-5 2h5m-5 2h5m-4-1h5m-5-1h5m-4 6h5m-5-6h5m-5 2h5m-4 5h5m-4-1h5m-5-7h5m-4 8h5m-4-2h5m-4 0h5m-4 2h5m-5-7h5m-5 4h5m-5 2h5m-3 1h5m-5-1h5m-4-1h5m-5-6h5m-4 3h5m-5-3h5m-4-1h5m-5 1h5m-3-1h5m-5 5h5m-4-5h5m-5 2h5m-4-1h5m-4 4h5m-4-5h5m-4 1h5m-5 2h5m-4-3h5m-5 2h5m-5 2h5m-4 0h5m-4 3h5m-5-2h5m-4 4h5m-5-5h5m-4 5h5m-4-7h5m-5 3h5m-3-3h5m-4 4h5m-5-5h5m-3 3h5m-5 4h5m-3-6h5m-4 0h5m-5 4h5m-4-1h5m-3-1h5m-4 3h5m-4-7h5m-5 5h5m1-4h5m0 5h5m-5-5h5m13 2h5m-168 13h5m7 3h5m-2 0h5m-2 0h5m-3-3h5m-3-5h5m-2-1h5m-1 7h5m-4-5h5m-3 3h5m-5 2h5m-4 0h5m-5-4h5m-2 1h5m-4 3h5m-4-7h5m-3 7h5m-5 2h5m-3-9h5m-5 5h5m-5 3h5m-5-1h5m-4-2h5m-5 4h5m-4-5h5m-5 2h5m-5-5h5m-5 2h5m-4 4h5m-4-4h5m-4 2h5m-5 3h5m-4 0h5m-5-8h5m-4 2h5m-5 2h5m-4 3h5m-5-3h5m-4 5h5m-4-3h5m-4-5h5m-5 4h5m-5 2h5m-4 2h5m-5-5h5m-5 3h5m-4-7h5m-5 7h5m-5 2h5m-4-9h5m-5 5h5m-4-1h5m-5 1h5m-5 2h5m-4-2h5m-5 4h5m-4-5h5m-4-3h5m-5 2h5m-4 2h5m-5 1h5m-5 1h5m-4-7h5m-4 6h5m-5 2h5m-5-1h5m-5-7h5m-5 9h5m-4-1h5m-5-5h5m-4 6h5m-5-7h5m-2 1h5m-5-1h5m-4 0h5m-4 7h5m-5-9h5m-5 3h5m-5-1h5m-5 6h5m-4-7h5m-5 4h5m-4 0h5m-5 2h5m-4-7h5m-5 6h5m-4-4h5m-4 2h5m-5 3h5m-5-7h5m-4 4h5m-5-4h5m-4 5h5m-5 1h5m-5 3h5m-4-1h5m-5-8h5m-5 4h5m-4 1h5m-5-4h5m-5 2h5m-4-1h5m-5 3h5m-5-1h5m-5 2h5m-5 3h5m-2-1h5m-5-8h5m-5 6h5m-4-6h5m-5 4h5m-4 1h5m-4-3h5m-5 3h5m-4 2h5m-5-6h5m-5-1h5m-5 3h5m-4-2h5m-5 1h5m-4 7h5m-5-6h5m-5 3h5m-4 3h5m-5-8h5m-5-1h5m-4 4h5m-5-3h5m-4 1h5m-5-1h5m-5 7h5m-4-3h5m-5 3h5m-4-6h5m-5 5h5m-5-7h5m-4 6h5m-5 1h5m-5-4h5m-4 0h5m-5-1h5m-5 5h5m-4 2h5m-4-3h5m-5 2h5m-5-7h5m-5-1h5m-4 6h5m-5-4h5m-5 3h5m-4-2h5m-4 2h5m-5-1h5m-4-3h5m-4 8h5m-4-2h5m-4-4h5m-5-3h5m-4 5h5m-4-3h5m-4 5h5m-5-7h5m-4 0h5m-5 3h5m-4 4h5m-4 1h5m-5-7h5m-2-1h5m-3 7h5m-4 1h5m-5 1h5m-3-8h5m-4-1h5m-3 6h5m-2 0h5m-3 3h5m-4-9h5m-4 2h5m-3 4h5m-5-6h5m-1 0h5m-1 1h5m-138 18h5m-2-8h5m-2 2h5m2 0h5m-5 2h5m-4-1h5m-5 1h5m-4 4h5m-2-5h5m-3 0h5m-3 1h5m-4-4h5m-4 3h5m-4 4h5m-4 0h5m-4-6h5m-3 2h5m-4 1h5m-5 4h5m-3-6h5m-5-1h5m-5-2h5m-4 4h5m-5 5h5m-4-8h5m-5 2h5m-4 2h5m-5-1h5m-5 3h5m-5 2h5m-4-2h5m-4-1h5m-5-5h5m-4 3h5m-5 3h5m-5 2h5m-4 0h5m-4-4h5m-5-2h5m-4 2h5m-5 1h5m-4-6h5m-4 3h5m-4 5h5m-4 0h5m-4-8h5m-5 5h5m-5 2h5m-4 2h5m-5-9h5m-5 3h5m-5 4h5m-4 2h5m-5-1h5m-5-7h5m-5 3h5m-4-1h5m-5-1h5m-5 4h5m-4 3h5m-5-6h5m-5-1h5m-5 5h5m-4-3h5m-2 0h5m-5 5h5m-4-7h5m-5 2h5m-5-3h5m-3 3h5m-5 4h5m-5-7h5m-4 8h5m-5-6h5m-4 5h5m-5-8h5m-5 3h5m-5-1h5m-5 5h5m-4-6h5m-4-1h5m-5 4h5m-5 3h5m-4 1h5m-5-3h5m-5-1h5m-4 1h5m-5 3h5m-4-6h5m-4 0h5m-4-1h5m-5 8h5m-4-9h5m-5 6h5m-3-4h5m-5 6h5m-4-3h5m-5-3h5m-4 4h5m-5-4h5m-4-2h5m-5 2h5m-4 7h5m-5-9h5m-5 1h5m-4 7h5m-5-4h5m-4 0h5m-4-2h5m-5 5h5m-3-7h5m-4 3h5m-5-1h5m-5 3h5m-4 3h5m-3-6h5m-5-1h5m-5 3h5m-5 5h5m-5-1h5m-4-7h5m-5 2h5m-5 4h5m-5 2h5m-4-7h5m-5 4h5m-5-3h5m-4 1h5m-5 3h5m-5-6h5m-3 6h5m-2-1h5m-5-6h5m-2 2h5m-5 1h5m-4-2h5m-4-1h5m-1 3h5m-3 5h5m0-3h5m-2-5h5m-5 4h5m2-3h5m-3 3h5m-5-3h5m10 4h5m1-1h5m0-1h5m2 5h5m2-1h5m-165 5h5m-4 7h5m-2-3h5m1 1h5m-2 1h5m-4 0h5m1-7h5m-3 3h5m-3-3h5m-3 0h5m-1 2h5m-4-2h5m-5 4h5m-4-5h5m-5 9h5m-1-2h5m-4 0h5m-5-7h5m-4 4h5m-3 5h5m-4-1h5m-5-8h5m-5 4h5m-4 5h5m-5-6h5m-4-3h5m-4 4h5m-5 5h5m-4-1h5m-5-7h5m-5 2h5m-4-2h5m-4 5h5m-3-5h5m-4 6h5m-4-6h5m-4 0h5m-5 2h5m-5 2h5m-4 2h5m-5-4h5m-4 0h5m-5 3h5m-3 1h5m-5-7h5m-4 7h5m-5-6h5m-2 7h5m-5-8h5m-5 2h5m-5-1h5m-4 1h5m-5-1h5m-4 3h5m-3 2h5m-5 3h5m-2 0h5m-5-7h5m-3 0h5m-5 2h5m-3 3h5m-5-7h5m-4 9h5m-5-7h5m-4 5h5m-5-3h5m-2 1h5m-5-3h5m-4-1h5m-3 8h5m-4-1h5m-5-4h5m-4 4h5m-4-4h5m-5 4h5m-3-8h5m-3 7h5m-5-4h5m0-1h5m-5 4h5m-4 0h5m-3-2h5m-4 0h5m-5 2h5m-5-1h5m0-4h5m0 0h5m-3 6h5m0-4h5m-2-2h5m21 7h5m-171 7h5m16 2h5m12-7h5m-5 8h5m-4-2h5m-2 3h5m-2-9h5m-4 5h5m-3-1h5m-4 2h5m-5-3h5m-4-3h5m-5 6h5m-3 1h5m-3-2h5m-3 3h5m-5-6h5m-3 4h5m-4-1h5m-4-1h5m-3 1h5m-5 1h5m-4 3h5m-4 0h5m-5-8h5m-3 4h5m-3 2h5m-5-3h5m-2-2h5m-2-1h5m-4-1h5m-5 4h5m-5 2h5m-5 2h5m-1-5h5m-3-1h5m-5 2h5m-5 2h5m-2-3h5m-2-2h5m-5 4h5m-4-4h5m-5 5h5m2-5h5m-4 3h5m-5-4h5m-4 6h5m-4-6h5m-4 5h5m-4-4h5m-5 3h5m-4 2h5m-5-1h5m-1-5h5m-4 6h5m-4 1h5m-5-7h5m-4 9h5m2-3h5m-4 2h5m0-1h5m1-4h5m-4 3h5m27-4h5m-160 11h5m-1 2h5m24-1h5m-4-3h5m-4 2h5m-5-3h5m-1 1h5m-1 4h5m-3-2h5m-4 3h5m-2-6h5m-1 2h5m-2 7h5m-5-7h5m0 7h5m-1-5h5m2-3h5m-5 2h5m-1 1h5m-4 3h5m-4-6h5m-2 3h5m-4-4h5m-4 4h5m-2-4h5m-1 5h5m-5 3h5m-3 1h5m2-1h5m-2-8h5m-2 4h5m-3 3h5m-3-6h5m-123 17h5m25-5h5m5 1h5m-1 0h5m-3-3h5m-3 0h5m-4 3h5m-5 4h5m5-3h5m-3-2h5m4-1h5m-5 6h5m8-6h5m-4 0h5m-4-2h5m1 3h5m10-1h5m-96 13h5m15-5h5m13 0h5m0 8h5m-2 0h5m-3-7h5m3-1h5m0 1h5m6 2h5m12 5h5m2-4h5m-117 6h5m21 6h5m10 1h5m-4-4h5m46-1h5" stroke="#000" stroke-width="5" stroke-opacity="0.95" fill="none"/>
<path transform="scale(.1)" d="M4376 555h5m-35 16h5m101 4h5m-136 14h5m18-4h5m71 4h5m2-4h5m0 2h5m-112 8h5m47 0h5m-3-1h5m4 4h5m6-7h5m-3 0h5m46 8h5m-128 8h5m10-5h5m-2 1h5m54 5h5m4-5h5m-3-1h5m0-2h5m-147 14h5m45 3h5m6 2h5m-4-1h5m7-4h5m7 5h5m-1-4h5m3 4h5m-4 0h5m-3-3h5m-1-2h5m-5 3h5m-3 2h5m0 0h5m-1-1h5m40-4h5m-4 5h5m-131 1h5m1 0h5m20 7h5m-2-6h5m-3 0h5m-1 6h5m-3 0h5m-1 2h5m-3-7h5m-4 1h5m-5-1h5m12 6h5m5-8h5m-4 7h5m-3 1h5m-1-5h5m5 0h5m1 5h5m1 1h5m-4-2h5m-1 2h5m2-2h5m13-3h5m8 1h5m-184 8h5m29-1h5m2-1h5m-5 3h5m-1 2h5m-4-4h5m-4-2h5m-3 4h5m5 5h5m0-4h5m6-1h5m-2-2h5m0 0h5m-2-1h5m-4 7h5m-4-4h5m0 3h5m-2-6h5m-4 4h5m-5 3h5m-4-6h5m0-1h5m-5-1h5m4 4h5m-4-2h5m-2 6h5m-5-6h5m-2 6h5m2-2h5m-4 2h5m1 0h5m-1-2h5m8-5h5m22 6h5m-185 10h5m2-7h5m-3 0h5m-4 3h5m7 5h5m1-8h5m-2 4h5m-3 3h5m-5 2h5m-3-5h5m-1 3h5m1-4h5m0 2h5m-4 2h5m-3-4h5m2 1h5m-3 5h5m-3-8h5m-4 4h5m-3 3h5m-2 0h5m-4-2h5m-4-2h5m-2 0h5m-4 1h5m-1-5h5m-3 1h5m-5 7h5m-3-1h5m-3-5h5m-4-1h5m-5 2h5m-4 3h5m-4-2h5m-4 1h5m2 2h5m-5-5h5m-1 1h5m-3 4h5m-3-5h5m0 2h5m-5-1h5m-4-2h5m-3 2h5m-4 0h5m1 2h5m-4-1h5m-3 3h5m-2-5h5m-4 3h5m0-5h5m-4 8h5m-5-6h5m6-1h5m-3 7h5m-4-2h5m6-6h5m-3 9h5m-172 5h5m14 0h5m-3 4h5m1-1h5m-2 0h5m-4 2h5m0 0h5m-4-2h5m-3 2h5m-5-3h5m-2 3h5m-3-8h5m-3 6h5m-2 1h5m3-2h5m-5-2h5m-2 0h5m-5-1h5m-5-1h5m-4 1h5m-5-3h5m-4 7h5m-4-2h5m-4 2h5m-3-4h5m-5-1h5m-4 6h5m0-3h5m3 3h5m-5-2h5m-5-1h5m-3 2h5m-4-2h5m-2 2h5m-3-3h5m-4 4h5m-4 0h5m-5 1h5m-4-2h5m-3-1h5m-4 3h5m-3-1h5m-5-1h5m-4-7h5m-5 7h5m-4-1h5m-5-1h5m-5-5h5m-3 2h5m-4 5h5m-5-5h5m-4 3h5m-4-5h5m1 2h5m-2 4h5m-4 3h5m-5-6h5m-4-2h5m-3 3h5m-2 5h5m0-1h5m-3-6h5m-4 6h5m-3-3h5m-1-5h5m-3 9h5m0-9h5m-3 3h5m-5 6h5m23-1h5m-182 5h5m6-1h5m4-1h5m-5 7h5m-1-7h5m-5 4h5m4-1h5m-1-2h5m-3 6h5m-4-5h5m-5 6h5m-2-5h5m-4 1h5m-3 1h5m-3 1h5m0 2h5m-3-3h5m-2-1h5m0-1h5m-5-2h5m1 5h5m-4-3h5m-3 5h5m-3 0h5m-5-6h5m-4 2h5m-4-3h5m-5 4h5m-5-2h5m-3 3h5m-5 2h5m-1-8h5m-4 2h5m-1 4h5m-2-4h5m-4 6h5m-2-1h5m0-6h5m-4 1h5m-5-2h5m-4 5h5m-5-5h5m-4-1h5m-3 3h5m-4 0h5m5 5h5m-4-2h5m-5 2h5m-2-4h5m0-1h5m1-1h5m0 6h5m-2 0h5m2-2h5m-2-2h5m2 0h5m14 2h5m-195 5h5m10-1h5m4 8h5m8-6h5m-1-2h5m-5 9h5m5-1h5m-3-7h5m6 0h5m-2 6h5m-2 0h5m2-2h5m-3 3h5m-1-3h5m-5-1h5m-4-4h5m-4 5h5m-4 3h5m-5-1h5m-5-3h5m-4 5h5m-3-6h5m-4 4h5m0-2h5m-2-1h5m-5 1h5m-5-5h5m2 8h5m-3-5h5m-5-2h5m-2 0h5m-4 2h5m-5 3h5m-1 0h5m-3-6h5m-4 5h5m-4 2h5m-5-1h5m-4-2h5m1 1h5m-5-2h5m-4-3h5m-3 9h5m-4-3h5m-5-1h5m-3-1h5m-4-4h5m-2 9h5m-4 0h5m-3-4h5m-1 1h5m-3 2h5m-5-2h5m5-5h5m-3 6h5m6 2h5m-3-2h5m14-6h5m-1 6h5m-212 5h5m8-2h5m-4 0h5m1 7h5m12 1h5m5-3h5m-4 4h5m-2-2h5m3-5h5m-3 0h5m-2 5h5m2-1h5m-4-1h5m-4-3h5m-4-2h5m-4 4h5m0 0h5m-4 1h5m-2 0h5m-4 0h5m0-4h5m-4 8h5m-5-7h5m-4 3h5m-5-5h5m-5 8h5m-4-7h5m-5-1h5m-4 0h5m-4 8h5m-4-2h5m-4 1h5m-4-5h5m-2 2h5m-2 5h5m-3-9h5m-3 9h5m0-6h5m-3 5h5m-5-5h5m-4 1h5m-3 2h5m-3-6h5m-3 7h5m-5-5h5m-2-1h5m-5 2h5m-4 2h5m-5-1h5m-4-1h5m-4-3h5m-4 7h5m-3-1h5m-2-6h5m-5 5h5m-3-3h5m3 4h5m0 0h5m-4 2h5m-2-4h5m-3 3h5m-4-6h5m-4 1h5m-4-2h5m1 3h5m4 6h5m2-9h5m-2 9h5m39-2h5m-207 7h5m-4 3h5m1-6h5m-4 2h5m8 4h5m-4-5h5m-1-1h5m-2 6h5m-4 1h5m-5-1h5m-3-3h5m1 5h5m-4-3h5m-4-3h5m0 4h5m-4 2h5m-4-4h5m-5-2h5m-2 1h5m-5-1h5m-2 4h5m-5-6h5m-4 0h5m-5 7h5m-2-5h5m-4 1h5m-4 0h5m-4 1h5m-4-3h5m-3 5h5m-4-5h5m-4-2h5m-4 4h5m-4 0h5m-4-2h5m-4 7h5m-3-8h5m-4 4h5m-3-3h5m-4 0h5m-4 7h5m-5-6h5m-4 1h5m-5-2h5m-2-2h5m-5 6h5m-4-2h5m-4 5h5m-5-4h5m-4 3h5m-5-2h5m-3 1h5m-3-6h5m-4 1h5m-4-1h5m-4 7h5m0-2h5m1 0h5m-3 3h5m-3-4h5m-5-1h5m-5-1h5m-4 4h5m-4-3h5m-4-1h5m-1 1h5m0 5h5m-2-4h5m1-5h5m-4 7h5m1-7h5m1 0h5m-3 0h5m-5 9h5m2 0h5m0-1h5m-160 8h5m8-5h5m-3 0h5m-4 8h5m2-9h5m-3 2h5m-2 5h5m-2-1h5m-5-6h5m-3 5h5m0-4h5m-3 3h5m-4-4h5m-3 6h5m-3 0h5m-3-5h5m-2 5h5m-4-5h5m-4 6h5m-2-6h5m1 4h5m-1 4h5m-2-9h5m-4 8h5m-4-8h5m-5 3h5m-4 0h5m-3 0h5m-3 6h5m-3-9h5m-2 2h5m-4 2h5m-4 2h5m-5-5h5m-4 8h5m-3 0h5m-3-6h5m-5 3h5m-3-3h5m-4 3h5m1-6h5m-5 9h5m-1 0h5m-2-2h5m-3 0h5m-4-4h5m-2 4h5m-5-7h5m-1 1h5m-4 0h5m-3 0h5m-5 2h5m-1 2h5m-3-1h5m-3-2h5m-4 1h5m13 2h5m-154 8h5m19 4h5m3-1h5m-3 0h5m4-3h5m0 0h5m-5 3h5m-3 3h5m-4-3h5m3 3h5m-4-9h5m-3 6h5m-3-3h5m-5-3h5m6 3h5m-5-1h5m-2-2h5m0 9h5m-4-6h5m-3-1h5m-3 6h5m-5-1h5m5-6h5m-5 1h5m-3 5h5m-5-5h5m-2 5h5m-2 2h5m-5-5h5m-3 2h5m-5-4h5m-1 1h5m0 0h5m-4 6h5m-4 0h5m0-8h5m-4 5h5m2-2h5m0-4h5m2 5h5m22-4h5m-167 18h5m3-5h5m-3-2h5m15 4h5m-5-2h5m-2 1h5m3-2h5m-3 3h5m-5-1h5m-5 2h5m3-6h5m2 6h5m-4-1h5m-4-5h5m-4-1h5m-4 7h5m-2-7h5m-1 0h5m-4 2h5m-2-2h5m0 5h5m2 2h5m3-7h5m-4 8h5m-5-1h5m-5-6h5m19 3h5m-5-3h5m12 4h5m-150 5h5m-3 5h5m8-3h5m3 6h5m-2-6h5m5 0h5m3 1h5m-1-2h5m1 2h5m-4-2h5m5 1h5m5 3h5m-4 2h5m-1-7h5m-1 1h5m-5 4h5m1-1h5m-3-3h5m-3 8h5m-4-9h5m-2 7h5m3-3h5m-4 0h5m-4-3h5m-5 4h5m6-2h5m-4 6h5m-1-9h5m-4 9h5m15-2h5m-5-6h5m-136 11h5m0 5h5m7 1h5m7 0h5m12-1h5m-3-7h5m25 6h5m7 3h5m-5-1h5m61-8h5m-155 10h5m1 3h5m-4 4h5m2-5h5m6 1h5m6-1h5m-3-1h5m-2 3h5m11-4h5m-3 4h5m-4 5h5m-2-7h5m33 1h5m36-1h5m-121 10h5m22 1h5m5-2h5m17 2h5m-53 9h5m13 7h5m-59 1h5m17 4h5m-33 7h5m30 3h5m39-1h5" stroke="#000" stroke-width="5" stroke-opacity="0.6" fill="none"/>
<path transform="scale(.1)" d="M4685 528h5m-147 8h5m25-2h5m-15 8h5m-24 11h5m31 4h5m25 1h5m-206 7h5m60-1h5m-4 3h5m-4-6h5m42 8h5m14-2h5m0-2h5m34-3h5m-2 3h5m38 2h5m-213 7h5m10 4h5m-2-4h5m-3-1h5m12 2h5m13 3h5m0-6h5m20 2h5m30 1h5m-1 1h5m8-2h5m25-2h5m0 6h5m-4 1h5m8-2h5m-1 0h5m-1-6h5m-204 18h5m2-5h5m5 5h5m10-3h5m7-1h5m-1-4h5m-4 6h5m19-2h5m17-2h5m-2 2h5m-1 4h5m6-5h5m0 0h5m18 5h5m5-2h5m-4-1h5m-1-5h5m-3-1h5m1 7h5m45-1h5m-218 9h5m9 2h5m-3 1h5m11 1h5m-4-1h5m-2-8h5m2 2h5m0 6h5m-2 0h5m-4-3h5m-1-2h5m0-3h5m-2 0h5m3 2h5m7 0h5m-3 3h5m-5 4h5m3-6h5m1 4h5m-4-4h5m-5 4h5m2-7h5m-3 2h5m1 7h5m-5-7h5m5-1h5m3 5h5m5-4h5m-4 0h5m6 5h5m-2-7h5m10 9h5m25-9h5m14 3h5m-250 16h5m14-3h5m-1-2h5m17-1h5m-1-3h5m0 4h5m-4-2h5m-4 5h5m-2-2h5m-5-3h5m-3 1h5m-3 2h5m-4 2h5m-3 1h5m-5-5h5m-5 6h5m-4-9h5m-4 1h5m0 6h5m1-6h5m2 8h5m-2-4h5m-5-1h5m-1 0h5m-4 0h5m-5 2h5m-4 2h5m-3-3h5m-4 0h5m-1 1h5m2-2h5m0-1h5m-4-3h5m-4 7h5m-2 2h5m-4-9h5m-2 3h5m-4 1h5m-5 2h5m2-2h5m6-4h5m1 5h5m1 1h5m-3 1h5m-2-2h5m4 0h5m1 3h5m4-8h5m3 6h5m0-4h5m18 3h5m4 4h5m-264 5h5m26 0h5m7-1h5m6 6h5m-3-9h5m1 8h5m6 0h5m-3-3h5m-2-2h5m0 4h5m-3 2h5m-2-5h5m-2-2h5m-4 1h5m-5 2h5m-3 2h5m-2 2h5m-3-7h5m-3 5h5m4 2h5m-4-4h5m-4 3h5m-4-6h5m-4 6h5m-5-7h5m0 2h5m-3 1h5m-4-3h5m1 1h5m-2 7h5m-4-4h5m-4-3h5m-1 7h5m-4 0h5m-2-3h5m-4 2h5m-5-2h5m-4 1h5m-2 1h5m-2-3h5m5-3h5m-3 4h5m-1 2h5m-1-2h5m-2-1h5m-4-3h5m-3 6h5m-5-5h5m3-3h5m-4 9h5m-5-6h5m-4 3h5m-4-6h5m-3 8h5m-3-3h5m-4 4h5m-5-1h5m-4-6h5m-5 1h5m-3 1h5m1 3h5m-2-2h5m-5 2h5m-1-1h5m0 2h5m-5-2h5m3-1h5m-3 1h5m-5 3h5m-1-2h5m1-1h5m3-2h5m20-4h5m-2 1h5m-4 8h5m-5-9h5m-1 7h5m1-1h5m18 2h5m-313 7h5m26 0h5m7-2h5m-3 5h5m-4 0h5m7-1h5m-3-3h5m-3-4h5m11 6h5m0 2h5m-5-2h5m1-5h5m-4 0h5m-1 4h5m-4 4h5m-5-1h5m-4-3h5m-4-4h5m-4 6h5m-5-2h5m-5 3h5m-1-2h5m-4 0h5m-5-5h5m-5 7h5m-3-4h5m-4-4h5m-4 9h5m-4-2h5m-4-2h5m-5-2h5m-2 5h5m-5-5h5m-3-2h5m-5 4h5m-2 0h5m-4 0h5m-4 0h5m-5-5h5m-4 3h5m-3 5h5m-2-3h5m-3 0h5m-2-2h5m-3-3h5m-1 9h5m8 0h5m-5-5h5m-4 4h5m-4 0h5m-4-4h5m-5 3h5m-3 0h5m-2-7h5m-5 4h5m-1-3h5m-4-1h5m-3 4h5m-2-1h5m-4-3h5m-4 5h5m-5 4h5m-1-5h5m-3 4h5m-4-3h5m-4-3h5m-2 1h5m3 6h5m3-5h5m0-3h5m-4 6h5m-4-2h5m-5 3h5m-3-7h5m-4 4h5m-2-5h5m11 5h5m5-2h5m-2 1h5m1 0h5m15 3h5m4-1h5m25-3h5m13-2h5m-303 12h5m6 3h5m6 3h5m1-4h5m-4 4h5m4-7h5m-3 5h5m1-5h5m0 7h5m-3-3h5m0-1h5m-3 4h5m-4-2h5m-4 1h5m-3-8h5m-2 9h5m-2-6h5m-5-3h5m-4 8h5m-5-1h5m-5-2h5m-3-2h5m-4 5h5m-3-7h5m-3 1h5m-5 4h5m-3 2h5m-4-1h5m-5 2h5m-4 0h5m-3-9h5m-2 5h5m-2 1h5m-3 0h5m-2-5h5m-4 3h5m-5-2h5m-4 7h5m-4 0h5m-3-1h5m-4 1h5m-5-1h5m-4-2h5m-5 3h5m-4-8h5m-3 4h5m-5-1h5m-3 4h5m1-4h5m-5 4h5m-4-4h5m-5-3h5m-4 0h5m-1 4h5m-4 0h5m-4-2h5m-4 6h5m-4 0h5m-3-6h5m-4 1h5m-1-3h5m-4 2h5m-3 1h5m1-3h5m-4 2h5m-5-1h5m-4 1h5m-4-3h5m-5 8h5m-3 0h5m-5-6h5m-2-2h5m-4 8h5m-4-7h5m-1 7h5m-5-6h5m0 6h5m-3-5h5m-4 3h5m0 1h5m-2 0h5m-4-6h5m-4 6h5m-5-6h5m-3 3h5m-5 3h5m-5-5h5m5 2h5m-3 4h5m-3-3h5m-2 4h5m11-9h5m5 6h5m-2 3h5m2-1h5m1-2h5m-2 2h5m44-7h5m-327 11h5m62 6h5m-4-6h5m1 0h5m4 7h5m-1-2h5m-4-5h5m-4 3h5m-5-5h5m-3 2h5m1 0h5m-1 6h5m-4-8h5m1 4h5m-3 0h5m-5-1h5m-4 6h5m-5-1h5m-4-4h5m-4-3h5m-3-1h5m-4 3h5m-3 0h5m-4 5h5m-3-3h5m-5 3h5m-4-4h5m-5 2h5m-4-3h5m-4-1h5m-4 5h5m-5-5h5m-3 5h5m-5-2h5m-3 4h5m-3-5h5m-3 2h5m-3 3h5m-5-6h5m-4 0h5m-5 4h5m-5 2h5m-4-2h5m-1 1h5m-5-3h5m-3-5h5m-4 8h5m-5-5h5m-5-1h5m-3-2h5m-5 7h5m-2 1h5m-4-5h5m-5-2h5m-4 2h5m-4 0h5m-5 4h5m-4-2h5m-3 2h5m-4 0h5m-3 0h5m-4-7h5m-5 3h5m-4-3h5m-3 9h5m-4-1h5m-4-2h5m-3-2h5m-3-3h5m-3 5h5m-1-2h5m-4-3h5m-5 7h5m-3-4h5m-3 1h5m-4 3h5m-5-7h5m-5 4h5m-3 0h5m-5-1h5m-3-2h5m-4-1h5m-4-1h5m-5 3h5m-4 0h5m-4-3h5m-1 1h5m-5-1h5m-4 7h5m-5-5h5m-4-2h5m-4 3h5m-4 4h5m-5-3h5m-4 4h5m-5-6h5m-4 1h5m-2-3h5m-4 0h5m-3 7h5m-4-5h5m-4 3h5m-3 2h5m-4-6h5m-5 8h5m-2-9h5m-4 6h5m-1 3h5m-3-6h5m-4 4h5m-5-2h5m-2-4h5m-2 5h5m-4-5h5m-4 8h5m0-9h5m-3 3h5m-4 0h5m-3 3h5m-3 1h5m-4-2h5m-4 4h5m7-6h5m-3 3h5m-2-6h5m0 3h5m-2-2h5m6-1h5m-4 6h5m0 3h5m12-9h5m-4 8h5m2-4h5m0-4h5m-274 10h5m13 6h5m-3-5h5m-3 1h5m4 3h5m7 3h5m-5-5h5m0 5h5m-5-3h5m2 1h5m-5-3h5m-5 4h5m-3 2h5m0-5h5m-5-1h5m-3 1h5m-4-3h5m-1 6h5m-4-6h5m-2 4h5m-5-2h5m-5 3h5m-4-2h5m-3 0h5m-5-1h5m-4 4h5m-5-7h5m-4 9h5m-4-3h5m-4 1h5m-5-6h5m-4 6h5m-4 1h5m-4-7h5m-3 3h5m-3 4h5m-3 1h5m-5-4h5m-3 1h5m-5 2h5m-4-6h5m-4-2h5m-3 5h5m-5-2h5m-5 3h5m-4-4h5m-5 4h5m-3-6h5m-3 1h5m-4 5h5m-4 0h5m2 2h5m-3-3h5m-4 0h5m-5 2h5m-2-2h5m0 4h5m-5-7h5m-2 0h5m-4-2h5m-3 8h5m-4-1h5m-5-6h5m-1 5h5m-5-1h5m-3-2h5m-3-1h5m-4 0h5m0-1h5m-3 7h5m-1 1h5m-5-5h5m-4 1h5m-2-4h5m0 8h5m-2-5h5m2 5h5m-5-6h5m-3 4h5m-5-1h5m-3 0h5m-5-2h5m-2-4h5m-4 5h5m-5-4h5m-3-1h5m-2 0h5m-4 6h5m-4 3h5m-5-5h5m-4 1h5m-4 1h5m0 0h5m4 0h5m-5-2h5m1-2h5m-3 0h5m-4 0h5m7 6h5m-3-8h5m-5 3h5m2-2h5m6 6h5m-2-5h5m26 6h5m-338 4h5m50 7h5m-1-3h5m2-5h5m1 7h5m0-4h5m-4 2h5m-3-1h5m-3-2h5m2-3h5m-5 6h5m-3 3h5m0-6h5m-3-1h5m-1 4h5m-3-3h5m-3-3h5m-2 2h5m-4 4h5m-4-4h5m0 6h5m-3-1h5m-3-2h5m-3-5h5m-4 7h5m0-2h5m-4 1h5m-2-4h5m-4 2h5m-4-4h5m-5 9h5m-3-9h5m-5 9h5m-4-9h5m-5 7h5m-5-1h5m-3 1h5m-2 2h5m-4-5h5m-2 1h5m-5-5h5m-4 2h5m-4 7h5m-5-6h5m-4-3h5m-3 8h5m-5-5h5m-4 0h5m-2-3h5m-4 5h5m-3-3h5m-5-2h5m-4 5h5m-5-2h5m-5 3h5m-3-4h5m-3 7h5m1-7h5m-5 3h5m-5 3h5m0-4h5m-4-3h5m-3-1h5m-3 6h5m-5-2h5m-4 5h5m-4 0h5m-4-9h5m-2 6h5m-5-2h5m-4 0h5m-4 1h5m-3 3h5m-5-6h5m-1 0h5m-4 1h5m-2 4h5m-2-4h5m-5-2h5m-4 5h5m-5-6h5m2 2h5m-2-1h5m-1 1h5m-5 6h5m-2-6h5m-1 5h5m3-7h5m1 7h5m2-4h5m-4-3h5m-5 7h5m-4-6h5m-4 7h5m-4-1h5m0-7h5m-4 1h5m-4 7h5m-4-7h5m-2 1h5m-1 3h5m3 1h5m5-4h5m15 1h5m-4 6h5m15-4h5m-1 1h5m-287 11h5m15-3h5m2 5h5m11-4h5m-4-2h5m4 6h5m-2-8h5m2 2h5m-4-3h5m1 0h5m-1 3h5m-3 5h5m-4-7h5m-5 2h5m-1-1h5m-2 5h5m3-1h5m-3-3h5m0 3h5m-5 3h5m-4-5h5m0-3h5m-3 4h5m-3 1h5m-2-4h5m-1 1h5m2-2h5m-3 0h5m-2 7h5m-4-7h5m-1 1h5m-5 4h5m-4-5h5m0 1h5m-2 6h5m-5-6h5m-4 0h5m-4 3h5m3 4h5m-4-4h5m-1 3h5m-3-1h5m-5-1h5m-5-1h5m-1 2h5m-4-6h5m9 3h5m4-2h5m1 3h5m-5-3h5m-4 7h5m-2 0h5m0-1h5m2-6h5m-197 16h5m-5-5h5m24 2h5m-3 3h5m-3-5h5m-4-1h5m-4 7h5m-3-7h5m10 4h5m-5-3h5m2-3h5m-4 6h5m3-1h5m5-1h5m-5-1h5m-4-2h5m-5 2h5m-2 2h5m-2 0h5m-4 1h5m0-5h5m0 6h5m-2-6h5m-2 4h5m-5-1h5m-4-1h5m-4-3h5m-5 9h5m-4-5h5m-4-4h5m-4 3h5m-4-2h5m-4-1h5m-1 1h5m-5 4h5m-2-5h5m5 0h5m-3 5h5m1 2h5m-4-4h5m-5-3h5m-3 3h5m-4 5h5m-4-7h5m-3-1h5m-5 4h5m-1 5h5m-4-5h5m-5-2h5m-3 5h5m-4-4h5m-1 5h5m6-7h5m-5 3h5m-1 1h5m-3 3h5m-5-8h5m14 0h5m-3 5h5m31-4h5m9 1h5m-3 6h5m-220 11h5m2-5h5m1 2h5m-4 0h5m-2-1h5m5 2h5m-4-7h5m4 7h5m-4-1h5m-2-5h5m6 8h5m1-8h5m-3 2h5m-5 4h5m-2-5h5m-2 5h5m-1-1h5m-5-3h5m2 2h5m-1 4h5m-5-6h5m-3-3h5m0 2h5m-1-2h5m1 2h5m-1 0h5m1-2h5m-4 7h5m-1-2h5m-3-2h5m2 6h5m-3-2h5m-2 1h5m18 1h5m5-4h5m12 4h5m-2-8h5m34 5h5m9 0h5m-278 7h5m20-2h5m7 0h5m-4 0h5m4 2h5m-1 2h5m-4-5h5m8 0h5m11 5h5m3 2h5m-1-2h5m-1-1h5m-3-1h5m-2 4h5m-2-2h5m-5 2h5m1-7h5m-1 0h5m-3 6h5m-3-2h5m-3 2h5m2-4h5m-1-1h5m-4-1h5m-3 8h5m5 1h5m-3-6h5m-4 2h5m1-1h5m5-2h5m20-1h5m6-1h5m44 7h5m16-4h5m-5 2h5m-272 7h5m2-1h5m-2 4h5m28 4h5m11-5h5m20-3h5m-2 5h5m-5-6h5m-1 2h5m5-2h5m-4 0h5m10 9h5m2-9h5m33 1h5m16 8h5m5-5h5m-3 0h5m-169 8h5m20 2h5m-5 3h5m1 0h5m18-1h5m5 0h5m58-6h5m-3 7h5m-3 1h5m0-7h5m21 8h5m-209 9h5m30-3h5m29 3h5m9-5h5m54 1h5m-119 7h5m50 4h5m31-4h5m6 7h5m-5-7h5m58 4h5m5 3h5m-110 2h5m55 20h5" stroke="#000" stroke-width="5" stroke-opacity="0.6" fill="none"/>
<path transform="scale(.1)" d="M4508 206h5m-52 61h5m-62 7h5m-55 13h5m3 0h5m62 0h5m-3 7h5m-2-3h5m-34 25h5m16-2h5m-44 7h5m16 4h5m15 11h5m-108 4h5m10 7h5m106 2h5m-138 2h5m79 1h5m106 3h5m-133 13h5m40-7h5m45 3h5m-168 14h5m174 1h5m22-4h5m-235 7h5m40-1h5m59 5h5m22 2h5m-92 2h5m36 5h5m13 4h5m27-5h5m-2 4h5m63 0h5m-4-3h5m-151 11h5m37 1h5m28-5h5m-4-2h5m-41 10h5m0 8h5m112-4h5m-198 11h5m8 3h5m47-8h5m2 9h5m14-6h5m36 5h5m3-4h5m25 2h5m-123 12h5m17 1h5m78-4h5m18-4h5m-158 11h5m23 4h5m13 0h5m17-4h5m18 4h5m-78 9h5m-2-3h5m14-2h5m2 1h5m58 1h5m67 6h5m-246 8h5m71 0h5m28 1h5m-3-7h5m28 9h5m-158 4h5m55 0h5m26 0h5m9 1h5m8 1h5m34 0h5m3 1h5m-138 4h5m37 2h5m-5 6h5m48 1h5m37-4h5m-177 7h5m48 7h5m1-8h5m14 4h5m40 4h5m77-4h5m58-4h5m-218 17h5m173-3h5m-131 13h5m30-6h5m26 4h5m5 1h5m-81 7h5m71-1h5m5-3h5m12 6h5m34-4h5m-243 10h5m52 6h5m28-2h5m26-1h5m-2 12h5m4-2h5m89 9h5m3-4h5m-261 22h5m43-1h5m40 5h5m46-6h5m26 3h5m-2 0h5m-205 12h5m99-5h5m95 8h5m-131 10h5m45-4h5m10-2h5m51 2h5m12 3h5m-138 5h5m121-1h5m-1 5h5m6 0h5m79-2h5m-310 12h5m30 0h5m10-2h5m9 2h5m81 0h5m2-5h5m19 4h5m13-3h5m9 5h5m87 1h5m75-3h5m48-3h5m-381 12h5m44 3h5m5-4h5m84 6h5m25-4h5m8 3h5m19-1h5m36-3h5m-277 9h5m32 1h5m7 1h5m52 3h5m21-8h5m18 6h5m11 3h5m15-2h5m-214 9h5m35 1h5m35 0h5m-2 0h5m28-3h5m46-3h5m13 3h5m48 3h5m63-5h5m-306 9h5m3 2h5m17 4h5m2-4h5m8 0h5m64 2h5m19-1h5m22-4h5m13 0h5m32 5h5m49-2h5m-319 15h5m140-8h5m8 7h5m106-4h5m3 1h5m14-1h5m-3-3h5m59 4h5m-277 6h5m33 1h5m27 2h5m12 0h5m51-3h5m0 1h5m15 6h5m39 0h5m17-4h5m70-1h5m-387 17h5m44-5h5m22-2h5m33 4h5m70-6h5m29 8h5m34-3h5m65-5h5m-277 12h5m-1-1h5m49 3h5m6-4h5m71 2h5m66 4h5m39 3h5m-301 7h5m6 3h5m8-2h5m70-4h5m-2-3h5m-3 3h5m40-1h5m46 1h5m12 4h5m-3-6h5m43 6h5m-239 9h5m8-6h5m26 0h5m94 5h5m-4-4h5m-2 1h5m33 6h5m79-8h5m-258 17h5m9-7h5m11 2h5m0 3h5m9 2h5m22 1h5m34 0h5m29 0h5m-190 2h5m47 2h5m0 6h5m55-6h5m-68 12h5m1-1h5m21 3h5m4 2h5m-3-6h5m14 3h5m286-3h5m-422 13h5m52 1h5m91 1h5m58-3h5m-171 11h5m30-1h5m54-1h5m11-1h5m32-1h5m-207 13h5m53 5h5m-46 5h5m141-3h5" stroke="#000" stroke-width="5" stroke-opacity="0.3" fill="none"/>
<line x1="443.85" y1="15.4" x2="443.85" y2="80.7" stroke="#000" stroke-width="0.8"/>
<line x1="423.1" y1="56.6" x2="483.5" y2="56.6" stroke="#000" stroke-width="0.8"/>
<line x1="423.10" y1="80.7" x2="423.10" y2="82.3" stroke="#000" stroke-width="0.5"/>
<line x1="421.5" y1="80.70" x2="423.1" y2="80.70" stroke="#000" stroke-width="0.5"/>
<text class="s" x="422.3" y="86.0" font-size="2.8" fill-opacity="0.75">10<tspan dy="-1.2" font-size="2.2">0</tspan></text>
<text class="s" x="416.8" y="81.9" font-size="2.8" fill-opacity="0.75">10<tspan dy="-1.2" font-size="2.2">0</tspan></text>
<line x1="427.65" y1="80.7" x2="427.65" y2="81.60000000000001" stroke="#000" stroke-width="0.35"/>
<line x1="422.20000000000005" y1="75.79" x2="423.1" y2="75.79" stroke="#000" stroke-width="0.35"/>
<line x1="430.30" y1="80.7" x2="430.30" y2="81.60000000000001" stroke="#000" stroke-width="0.35"/>
<line x1="422.20000000000005" y1="72.91" x2="423.1" y2="72.91" stroke="#000" stroke-width="0.35"/>
<line x1="432.19" y1="80.7" x2="432.19" y2="81.60000000000001" stroke="#000" stroke-width="0.35"/>
<line x1="422.20000000000005" y1="70.87" x2="423.1" y2="70.87" stroke="#000" stroke-width="0.35"/>
<line x1="433.65" y1="80.7" x2="433.65" y2="81.60000000000001" stroke="#000" stroke-width="0.35"/>
<line x1="422.20000000000005" y1="69.29" x2="423.1" y2="69.29" stroke="#000" stroke-width="0.35"/>
<line x1="434.85" y1="80.7" x2="434.85" y2="81.60000000000001" stroke="#000" stroke-width="0.35"/>
<line x1="422.20000000000005" y1="68.00" x2="423.1" y2="68.00" stroke="#000" stroke-width="0.35"/>
<line x1="435.86" y1="80.7" x2="435.86" y2="81.60000000000001" stroke="#000" stroke-width="0.35"/>
<line x1="422.20000000000005" y1="66.90" x2="423.1" y2="66.90" stroke="#000" stroke-width="0.35"/>
<line x1="436.74" y1="80.7" x2="436.74" y2="81.60000000000001" stroke="#000" stroke-width="0.35"/>
<line x1="422.20000000000005" y1="65.96" x2="423.1" y2="65.96" stroke="#000" stroke-width="0.35"/>
<line x1="437.51" y1="80.7" x2="437.51" y2="81.60000000000001" stroke="#000" stroke-width="0.35"/>
<line x1="422.20000000000005" y1="65.12" x2="423.1" y2="65.12" stroke="#000" stroke-width="0.35"/>
<line x1="438.20" y1="80.7" x2="438.20" y2="82.3" stroke="#000" stroke-width="0.5"/>
<line x1="421.5" y1="64.38" x2="423.1" y2="64.38" stroke="#000" stroke-width="0.5"/>
<text class="s" x="437.4" y="86.0" font-size="2.8" fill-opacity="0.75">10<tspan dy="-1.2" font-size="2.2">1</tspan></text>
<text class="s" x="416.8" y="65.6" font-size="2.8" fill-opacity="0.75">10<tspan dy="-1.2" font-size="2.2">1</tspan></text>
<line x1="442.75" y1="80.7" x2="442.75" y2="81.60000000000001" stroke="#000" stroke-width="0.35"/>
<line x1="422.20000000000005" y1="59.46" x2="423.1" y2="59.46" stroke="#000" stroke-width="0.35"/>
<line x1="445.40" y1="80.7" x2="445.40" y2="81.60000000000001" stroke="#000" stroke-width="0.35"/>
<line x1="422.20000000000005" y1="56.59" x2="423.1" y2="56.59" stroke="#000" stroke-width="0.35"/>
<line x1="447.29" y1="80.7" x2="447.29" y2="81.60000000000001" stroke="#000" stroke-width="0.35"/>
<line x1="422.20000000000005" y1="54.55" x2="423.1" y2="54.55" stroke="#000" stroke-width="0.35"/>
<line x1="448.75" y1="80.7" x2="448.75" y2="81.60000000000001" stroke="#000" stroke-width="0.35"/>
<line x1="422.20000000000005" y1="52.96" x2="423.1" y2="52.96" stroke="#000" stroke-width="0.35"/>
<line x1="449.95" y1="80.7" x2="449.95" y2="81.60000000000001" stroke="#000" stroke-width="0.35"/>
<line x1="422.20000000000005" y1="51.67" x2="423.1" y2="51.67" stroke="#000" stroke-width="0.35"/>
<line x1="450.96" y1="80.7" x2="450.96" y2="81.60000000000001" stroke="#000" stroke-width="0.35"/>
<line x1="422.20000000000005" y1="50.58" x2="423.1" y2="50.58" stroke="#000" stroke-width="0.35"/>
<line x1="451.84" y1="80.7" x2="451.84" y2="81.60000000000001" stroke="#000" stroke-width="0.35"/>
<line x1="422.20000000000005" y1="49.63" x2="423.1" y2="49.63" stroke="#000" stroke-width="0.35"/>
<line x1="452.61" y1="80.7" x2="452.61" y2="81.60000000000001" stroke="#000" stroke-width="0.35"/>
<line x1="422.20000000000005" y1="48.80" x2="423.1" y2="48.80" stroke="#000" stroke-width="0.35"/>
<line x1="453.30" y1="80.7" x2="453.30" y2="82.3" stroke="#000" stroke-width="0.5"/>
<line x1="421.5" y1="48.05" x2="423.1" y2="48.05" stroke="#000" stroke-width="0.5"/>
<text class="s" x="452.5" y="86.0" font-size="2.8" fill-opacity="0.75">10<tspan dy="-1.2" font-size="2.2">2</tspan></text>
<text class="s" x="416.8" y="49.3" font-size="2.8" fill-opacity="0.75">10<tspan dy="-1.2" font-size="2.2">2</tspan></text>
<line x1="457.85" y1="80.7" x2="457.85" y2="81.60000000000001" stroke="#000" stroke-width="0.35"/>
<line x1="422.20000000000005" y1="43.14" x2="423.1" y2="43.14" stroke="#000" stroke-width="0.35"/>
<line x1="460.50" y1="80.7" x2="460.50" y2="81.60000000000001" stroke="#000" stroke-width="0.35"/>
<line x1="422.20000000000005" y1="40.26" x2="423.1" y2="40.26" stroke="#000" stroke-width="0.35"/>
<line x1="462.39" y1="80.7" x2="462.39" y2="81.60000000000001" stroke="#000" stroke-width="0.35"/>
<line x1="422.20000000000005" y1="38.22" x2="423.1" y2="38.22" stroke="#000" stroke-width="0.35"/>
<line x1="463.85" y1="80.7" x2="463.85" y2="81.60000000000001" stroke="#000" stroke-width="0.35"/>
<line x1="422.20000000000005" y1="36.64" x2="423.1" y2="36.64" stroke="#000" stroke-width="0.35"/>
<line x1="465.05" y1="80.7" x2="465.05" y2="81.60000000000001" stroke="#000" stroke-width="0.35"/>
<line x1="422.20000000000005" y1="35.35" x2="423.1" y2="35.35" stroke="#000" stroke-width="0.35"/>
<line x1="466.06" y1="80.7" x2="466.06" y2="81.60000000000001" stroke="#000" stroke-width="0.35"/>
<line x1="422.20000000000005" y1="34.25" x2="423.1" y2="34.25" stroke="#000" stroke-width="0.35"/>
<line x1="466.94" y1="80.7" x2="466.94" y2="81.60000000000001" stroke="#000" stroke-width="0.35"/>
<line x1="422.20000000000005" y1="33.31" x2="423.1" y2="33.31" stroke="#000" stroke-width="0.35"/>
<line x1="467.71" y1="80.7" x2="467.71" y2="81.60000000000001" stroke="#000" stroke-width="0.35"/>
<line x1="422.20000000000005" y1="32.47" x2="423.1" y2="32.47" stroke="#000" stroke-width="0.35"/>
<line x1="468.40" y1="80.7" x2="468.40" y2="82.3" stroke="#000" stroke-width="0.5"/>
<line x1="421.5" y1="31.73" x2="423.1" y2="31.73" stroke="#000" stroke-width="0.5"/>
<text class="s" x="467.6" y="86.0" font-size="2.8" fill-opacity="0.75">10<tspan dy="-1.2" font-size="2.2">3</tspan></text>
<text class="s" x="416.8" y="32.9" font-size="2.8" fill-opacity="0.75">10<tspan dy="-1.2" font-size="2.2">3</tspan></text>
<line x1="472.95" y1="80.7" x2="472.95" y2="81.60000000000001" stroke="#000" stroke-width="0.35"/>
<line x1="422.20000000000005" y1="26.81" x2="423.1" y2="26.81" stroke="#000" stroke-width="0.35"/>
<line x1="475.60" y1="80.7" x2="475.60" y2="81.60000000000001" stroke="#000" stroke-width="0.35"/>
<line x1="422.20000000000005" y1="23.94" x2="423.1" y2="23.94" stroke="#000" stroke-width="0.35"/>
<line x1="477.49" y1="80.7" x2="477.49" y2="81.60000000000001" stroke="#000" stroke-width="0.35"/>
<line x1="422.20000000000005" y1="21.90" x2="423.1" y2="21.90" stroke="#000" stroke-width="0.35"/>
<line x1="478.95" y1="80.7" x2="478.95" y2="81.60000000000001" stroke="#000" stroke-width="0.35"/>
<line x1="422.20000000000005" y1="20.31" x2="423.1" y2="20.31" stroke="#000" stroke-width="0.35"/>
<line x1="480.15" y1="80.7" x2="480.15" y2="81.60000000000001" stroke="#000" stroke-width="0.35"/>
<line x1="422.20000000000005" y1="19.02" x2="423.1" y2="19.02" stroke="#000" stroke-width="0.35"/>
<line x1="481.16" y1="80.7" x2="481.16" y2="81.60000000000001" stroke="#000" stroke-width="0.35"/>
<line x1="422.20000000000005" y1="17.93" x2="423.1" y2="17.93" stroke="#000" stroke-width="0.35"/>
<line x1="482.04" y1="80.7" x2="482.04" y2="81.60000000000001" stroke="#000" stroke-width="0.35"/>
<line x1="422.20000000000005" y1="16.98" x2="423.1" y2="16.98" stroke="#000" stroke-width="0.35"/>
<line x1="482.81" y1="80.7" x2="482.81" y2="81.60000000000001" stroke="#000" stroke-width="0.35"/>
<line x1="422.20000000000005" y1="16.15" x2="423.1" y2="16.15" stroke="#000" stroke-width="0.35"/>
<line x1="483.50" y1="80.7" x2="483.50" y2="82.3" stroke="#000" stroke-width="0.5"/>
<line x1="421.5" y1="15.40" x2="423.1" y2="15.40" stroke="#000" stroke-width="0.5"/>
<text class="s" x="482.7" y="86.0" font-size="2.8" fill-opacity="0.75">10<tspan dy="-1.2" font-size="2.2">4</tspan></text>
<text class="s" x="416.8" y="16.6" font-size="2.8" fill-opacity="0.75">10<tspan dy="-1.2" font-size="2.2">4</tspan></text>
<text class="s" x="424.7" y="22" font-size="5.9" text-anchor="start">0.7</text>
<text class="s" x="482.1" y="22.5" font-size="5.9" text-anchor="end">0.7</text>
<text class="s" x="482.5" y="77.8" font-size="5.9" text-anchor="end">10.2</text>
<rect x="344.6" y="94.6" width="60.40" height="65.10" fill="#fff" stroke="#111" stroke-width="0.75"/>
<path transform="scale(.1)" d="M3840 1354h5m21 1h5m-308 14h5m230-6h5m9 3h5m5-4h5m-3 7h5m20-8h5m-294 17h5m9-4h5m65 4h5m69-3h5m9 3h5m5-3h5m40 0h5m-3-4h5m-2 8h5m-1-7h5m-3 3h5m-2-2h5m6-2h5m9 1h5m-1 6h5m31 1h5m-370 10h5m45 0h5m17-4h5m-3 4h5m3-7h5m21 1h5m-3 2h5m63 2h5m37-3h5m0 3h5m6-4h5m11 0h5m-1 2h5m10-1h5m-3 2h5m-4-3h5m-3 6h5m0-2h5m-5 1h5m6-1h5m6-3h5m0 5h5m-1-2h5m-5 1h5m10-1h5m-1-5h5m2 7h5m-4-6h5m1 5h5m8 0h5m-4-4h5m-3 4h5m-331 6h5m16 4h5m3-4h5m22 4h5m15 1h5m9-8h5m3 5h5m34 3h5m31-2h5m0-2h5m10-4h5m1 3h5m-3 2h5m1-2h5m0-3h5m-4 0h5m-1 2h5m-5 6h5m-3-7h5m-2-1h5m-3 7h5m-1-7h5m-5 4h5m-3-4h5m-4 7h5m-1-6h5m-3 1h5m-2-2h5m-4 8h5m-3-6h5m1 5h5m-4-1h5m-3-7h5m-2 7h5m-4-7h5m-3 8h5m-4-8h5m-3 9h5m-2 0h5m-2-8h5m-3 5h5m-2 3h5m-3-5h5m0 2h5m-4-4h5m-4 1h5m-2-1h5m7-2h5m-5 8h5m-2-3h5m-5 4h5m11-6h5m-5 2h5m14 2h5m16 2h5m-402 10h5m0-1h5m13-4h5m-3-3h5m-3 8h5m-5-1h5m-3-2h5m-4 3h5m3-6h5m-2 2h5m-2-4h5m1 5h5m-4-3h5m1 6h5m-4 0h5m-4-6h5m-2 1h5m-4 3h5m-1-1h5m-5 2h5m-3-7h5m5 3h5m-3-3h5m-4 0h5m-4 7h5m0-6h5m-2 4h5m-3-6h5m3 8h5m-4-1h5m-4-6h5m-2 4h5m-5-4h5m-1-1h5m-4 3h5m2-3h5m2 8h5m-1-7h5m8 7h5m2-4h5m15 4h5m27 0h5m6 1h5m-2 0h5m-4-4h5m-3 1h5m-4 1h5m-4-5h5m-4-2h5m-2 6h5m-3-4h5m-5-1h5m-1 8h5m1-3h5m-4-1h5m-5 2h5m-3-5h5m-4 2h5m2 4h5m-2 1h5m-4-5h5m-4 4h5m-4-3h5m-5 3h5m-4 0h5m0-1h5m-4 0h5m-4-4h5m-4 0h5m-4 4h5m4-2h5m-3 2h5m-2-4h5m-4 2h5m-4 1h5m-5 2h5m-5-1h5m-5-7h5m-4 4h5m-5 3h5m-3-1h5m-5 3h5m-4-3h5m-5-1h5m-4-5h5m-5 5h5m-5 2h5m-4-2h5m-4 1h5m-3-4h5m-5-1h5m-4 5h5m-4-4h5m-5 2h5m-2 2h5m-4 0h5m-2 3h5m0-6h5m-4 1h5m-4-3h5m-3 3h5m-5 4h5m-3 0h5m-2-3h5m-3 4h5m-5-6h5m-4 3h5m-4-5h5m-5 7h5m-4-8h5m-4 9h5m-4-2h5m-2 0h5m-4 0h5m-1 2h5m3-3h5m-4 2h5m-5 1h5m-1-8h5m-3 7h5m-5-8h5m-4 6h5m-3-3h5m-4 4h5m-4 1h5m-3 1h5m0 0h5m-4-2h5m27-1h5m-3 1h5m-4-1h5m12 0h5m-408 7h5m0 6h5m2 0h5m1-8h5m-2 5h5m2 3h5m-4-4h5m-4-3h5m-3 3h5m-4 0h5m-3-4h5m-5 2h5m-5-3h5m-4 1h5m-3 5h5m-4-3h5m2 0h5m0 4h5m-3 2h5m-3-1h5m-3-3h5m-5 1h5m-5 2h5m-2 1h5m-3-8h5m-3 5h5m-5 3h5m-5-7h5m-5 1h5m-4-1h5m-5 5h5m-3 1h5m-2-8h5m-4 9h5m1-4h5m-5-1h5m-5 3h5m-3 2h5m-5-3h5m-1 0h5m-4-3h5m-3 1h5m-5 5h5m-4-5h5m-3-2h5m-4 3h5m-5 2h5m-4-6h5m-4-1h5m-4 2h5m-4 4h5m-4-4h5m-5 6h5m1-3h5m-4 2h5m-5 2h5m-4-6h5m-3 1h5m-4 4h5m-4 0h5m-3-8h5m-4 2h5m-4 7h5m-4-2h5m-4 2h5m-3-2h5m-2 2h5m-3-6h5m-4-3h5m-2 0h5m-3 6h5m-4-6h5m-4 8h5m2-6h5m2 4h5m-1-4h5m-3 5h5m-4-6h5m-4 8h5m7-7h5m7-1h5m-4 1h5m6 1h5m3 2h5m-3-4h5m3 3h5m-4-1h5m-2 2h5m-4 3h5m-3-8h5m-4 7h5m-5 2h5m-5-3h5m-3-2h5m-5-1h5m-1 6h5m-3-3h5m-3-3h5m-3 3h5m-5-6h5m2 3h5m-2 2h5m-1 4h5m-2-3h5m-4-6h5m-2 9h5m-5-6h5m-5 4h5m-4-5h5m-5 2h5m-3-3h5m-5 7h5m-3-3h5m-5-1h5m-4 3h5m-4-2h5m-5 4h5m-2-7h5m-5 2h5m-2 5h5m-4 0h5m-4-2h5m-3-3h5m-5 2h5m-1-3h5m-3-1h5m-5 6h5m-4-1h5m-4-5h5m-5 3h5m-5 3h5m-5-1h5m-4-5h5m-5 7h5m-1-6h5m-4-2h5m-4 5h5m-5-4h5m-2 6h5m-4 0h5m-5-1h5m-4 2h5m-4-5h5m-4 4h5m-4-3h5m-5 3h5m-5 1h5m-4-9h5m0 7h5m-4-6h5m-5 2h5m-3 0h5m-4 3h5m-4 3h5m-5-8h5m-3 1h5m-4 0h5m-5 7h5m-5-8h5m-3 6h5m-5 1h5m-3-4h5m-4-2h5m-5 1h5m-2 5h5m-5-4h5m-2 2h5m-5 2h5m-5 1h5m-5-6h5m-5-1h5m-4 2h5m-5 3h5m-3-6h5m-4 5h5m-4-1h5m-3-3h5m-4 6h5m-5-7h5m-3 2h5m-4 5h5m-4 1h5m0-1h5m-4 0h5m-4 0h5m-5-6h5m-4 3h5m-3-1h5m-5 4h5m-2-6h5m-5 3h5m-5 3h5m1-8h5m1 6h5m-2-4h5m-3 0h5m1 5h5m40-4h5m-453 13h5m11-3h5m2-3h5m15 4h5m7-4h5m-2 6h5m-2 0h5m-4 1h5m-4-4h5m4 1h5m-5 3h5m-4-6h5m-5 3h5m-4 3h5m-4 0h5m-2-3h5m-4 5h5m-4-7h5m-1 0h5m-3 5h5m-5-7h5m-4 5h5m-4-2h5m-5 4h5m-4 2h5m-4-8h5m-4 4h5m-4-5h5m-4 9h5m-4-4h5m-5-1h5m-5 3h5m-4 1h5m-3-6h5m-5 7h5m-5-1h5m-3-5h5m-4 1h5m-5-1h5m-4 6h5m-5-1h5m-4-5h5m-5 2h5m-5 2h5m-5-6h5m-4 1h5m-5 1h5m-3 5h5m-5-5h5m-4 0h5m-4 1h5m-4 5h5m-4-3h5m-4-1h5m-5-1h5m-5 5h5m-5-1h5m-3 1h5m-4-8h5m-5 2h5m-4 4h5m-2 0h5m-5 2h5m-5-8h5m-4 4h5m-4 4h5m-5-5h5m-4 1h5m-5 3h5m-4-2h5m-5-1h5m-3 2h5m-5-1h5m-4-5h5m-4 5h5m-5-1h5m-4-5h5m-4 1h5m-4 4h5m-4-3h5m-5 4h5m-4-6h5m-5 2h5m-4 6h5m-4-6h5m-5 7h5m-4-4h5m-4 1h5m-5 2h5m-4-5h5m-4-1h5m-4-2h5m-4 7h5m-4 1h5m-4-2h5m-5-6h5m-4 5h5m-4 2h5m-4-4h5m-4-1h5m-4 4h5m-4 0h5m-4-5h5m-4 6h5m-4 1h5m-5 1h5m-4-1h5m-5-7h5m-4 5h5m-2 0h5m-5 3h5m-4-4h5m-2-4h5m-4 4h5m0 4h5m-3-4h5m-4 1h5m-5-2h5m-3 5h5m-3-3h5m-4 0h5m-1-4h5m-4 6h5m3-4h5m0-2h5m-5 6h5m-1 0h5m10-1h5m-3-4h5m-2 5h5m-5-6h5m-3 7h5m-4-4h5m-3 4h5m1-1h5m0 0h5m-3-4h5m-5 3h5m-5-1h5m-2-5h5m-5 7h5m-4-8h5m-3 8h5m-5-3h5m-4 4h5m-5-6h5m-4 3h5m-5 1h5m-1-7h5m-3 8h5m-5-1h5m-3-4h5m-3-3h5m-3 6h5m-4-2h5m-4 1h5m-3-5h5m1 3h5m-4 6h5m-5-4h5m-5 3h5m-4-2h5m-5-5h5m-4 3h5m-5 4h5m-4-3h5m-3 2h5m0-1h5m-3 0h5m-2 0h5m-4-5h5m-4 6h5m-4-7h5m-4 8h5m-5-1h5m-5 2h5m-3-7h5m-5 6h5m-4 0h5m-5-8h5m-4 9h5m-4-5h5m-3-1h5m-4-3h5m-4 8h5m-4 0h5m-4 1h5m-4 0h5m-5-8h5m-4 2h5m-5-3h5m-5 9h5m-4 0h5m-5-7h5m-5 4h5m-5 2h5m-5-8h5m-4 3h5m-4-1h5m-5 2h5m-5-4h5m-4 0h5m-4 4h5m-5-4h5m-4 7h5m-5 1h5m-5 1h5m-5-7h5m-4 4h5m-5 2h5m-5-7h5m-4 5h5m-4 3h5m-5-4h5m-3 0h5m-4-5h5m-5 2h5m-4 1h5m-5 1h5m-5 3h5m-4-5h5m-4 3h5m-5-1h5m-4-2h5m-4 7h5m-4-4h5m-5 3h5m-5-7h5m-5 2h5m-4 5h5m-4-4h5m-4 2h5m-5 2h5m-4-4h5m-5 2h5m-5 3h5m-4-8h5m-5 4h5m-5-1h5m-4-4h5m-3 8h5m-5 1h5m-5-7h5m-5 3h5m-4-5h5m-5 1h5m-4 0h5m-5 4h5m-4 1h5m-5-3h5m-5 2h5m-4-2h5m-5 5h5m-4-7h5m-4 4h5m-5 3h5m-4-7h5m-5 2h5m-5-3h5m-4 2h5m-5 1h5m-4 2h5m-5 2h5m-4 2h5m-5-7h5m-4 6h5m-4-2h5m-5 3h5m-5-6h5m-4 3h5m-5 2h5m-4-3h5m-3 2h5m-4-6h5m-4 0h5m-4 4h5m-3 0h5m-5 4h5m-4-8h5m-5 4h5m-1-1h5m-5-4h5m-4 1h5m-4 6h5m-4-1h5m-3 3h5m-5-4h5m-4-1h5m-5 5h5m-4-9h5m-3 1h5m-3 2h5m-4 1h5m-1 0h5m-5 2h5m-5-5h5m-4 6h5m-3 1h5m-2 1h5m-4-7h5m-4-1h5m-4 2h5m-4-3h5m-5 1h5m-5 3h5m-5 3h5m-4 2h5m-4 0h5m-3-5h5m-1 3h5m-4 0h5m-3 2h5m-5-7h5m-3 6h5m-5-8h5m0 4h5m-5 1h5m-3-4h5m-2 5h5m-4-2h5m-4-2h5m-5 4h5m-4-5h5m-3 8h5m1-6h5m-1 0h5m11 1h5m-3-2h5m-1 1h5m17-3h5m6 0h5m-447 18h5m6 0h5m-5-4h5m3 2h5m3-3h5m-4 2h5m1 1h5m-4-5h5m-4 5h5m-4 1h5m-2-1h5m-5 3h5m-2-9h5m-2 9h5m-2 0h5m-5-8h5m-4 8h5m-3-4h5m-4-4h5m-5 6h5m-2-7h5m-4 4h5m-4 3h5m-4 1h5m-4-8h5m-4 6h5m-5 1h5m-4 1h5m-5-2h5m-4 3h5m-5-9h5m-4 6h5m-4-3h5m-4-2h5m-5 2h5m-4-1h5m-5 3h5m-4-2h5m-5 3h5m-5 1h5m-4-3h5m-4-3h5m-5 8h5m-4-5h5m-5-1h5m-5 6h5m-4-7h5m-5 2h5m-5 2h5m-5-6h5m-2 2h5m-4 6h5m-4-3h5m-5-5h5m-4 6h5m-5-1h5m-5 4h5m-5-1h5m-4 1h5m-5-9h5m-5 4h5m-4 2h5m-5-1h5m-5 2h5m-5 2h5m-5-7h5m-4 6h5m-4 0h5m-5-7h5m-4 3h5m-5 4h5m-4-7h5m-5 7h5m-4 0h5m-4 1h5m-5-9h5m-4 2h5m-5 2h5m-4 0h5m-5 3h5m-5 2h5m-5-1h5m-4-3h5m-5-4h5m-4 6h5m-5-5h5m-5 1h5m-4 6h5m-5-6h5m-4 0h5m-5-1h5m-5 6h5m-5-1h5m-4-2h5m-4 0h5m-5-5h5m-5 2h5m-3 7h5m-5-9h5m-5 4h5m-4 4h5m-5 1h5m-3-2h5m-5 1h5m-4-7h5m-5 7h5m-4-8h5m-5 2h5m-4 1h5m-4 4h5m-5 2h5m-4-4h5m-5 3h5m-4-6h5m-5 5h5m-5 2h5m-4-4h5m-4 4h5m-5-8h5m-3 4h5m-5-4h5m-4 4h5m-5 3h5m-5-4h5m-4 5h5m-4-1h5m-4-1h5m-5 2h5m-3-9h5m-5 2h5m-5 1h5m-4 5h5m-4-2h5m-4 3h5m-5-5h5m-4 2h5m-5-6h5m-4 0h5m-5 4h5m-5 2h5m-5 1h5m-4-3h5m-5-4h5m-4 0h5m-5 6h5m-4-6h5m-5 2h5m-5 5h5m-5 2h5m-4-3h5m-5-5h5m-4 2h5m-5 3h5m-5 1h5m-5 2h5m-5-8h5m-3 5h5m-5 2h5m-4 0h5m-4-8h5m-4 1h5m-4 0h5m-4 2h5m-4-2h5m-5 2h5m-4 4h5m-4-1h5m-5 1h5m-3 0h5m-4-3h5m-5-4h5m-4 6h5m-5 1h5m-4-4h5m-5 2h5m-4 4h5m-4-4h5m-5 4h5m-3-1h5m-5-8h5m-5 3h5m-2 6h5m-4-9h5m-4 1h5m-4 7h5m-4-8h5m2 1h5m-3 5h5m-3 1h5m-3-1h5m-5-1h5m0 2h5m-2-5h5m-3-2h5m0 1h5m-2 7h5m-2-6h5m-5-1h5m-3 1h5m1 6h5m-1-3h5m-1 0h5m0-1h5m-4-4h5m-4 3h5m-4 6h5m-4-9h5m-2 1h5m1 1h5m-5-2h5m-4 3h5m-3 1h5m-4 2h5m-5 1h5m-4-3h5m-4 0h5m-3 4h5m-5-6h5m-2 7h5m-4-5h5m-3 5h5m-3-2h5m-5-1h5m-4-1h5m-5 1h5m-3 1h5m-4-3h5m-5 2h5m-4 1h5m-5-1h5m-4 2h5m-4-4h5m-3 0h5m-3 3h5m-5 1h5m-5-5h5m-4 1h5m-5 2h5m-4-2h5m-4 2h5m-4-4h5m-5 2h5m-5-1h5m-4-2h5m-5-1h5m-1 2h5m-5 3h5m-4 1h5m-4-2h5m-5 3h5m-5-4h5m-4 0h5m-5 6h5m-5-1h5m-5-7h5m-4 3h5m-5 2h5m-5-5h5m-4 6h5m-5-7h5m-5 2h5m-4 6h5m-5-6h5m-4 6h5m-5-1h5m-4-7h5m-5 9h5m-4-9h5m-5 2h5m-4 6h5m-5-8h5m-4 2h5m-4 4h5m-4-2h5m-5 5h5m-4-8h5m-5 5h5m-5 2h5m-4-4h5m-5-2h5m-4 0h5m-4 2h5m-5 3h5m-5-1h5m-4 0h5m-5 3h5m-5-1h5m-4-5h5m-5 4h5m-5 2h5m-5-1h5m-5-6h5m-4 7h5m-5-5h5m-4-3h5m-3 8h5m-5-6h5m-5 1h5m-4 5h5m-5-1h5m-5-4h5m-4-2h5m-5-1h5m-5 4h5m-4 3h5m-5-7h5m-5 4h5m-5 2h5m-4-5h5m-4 1h5m-5 6h5m-5-1h5m-5-8h5m-4 8h5m-5-8h5m-5 6h5m-4-3h5m-5 1h5m-4 4h5m-4 1h5m-5-8h5m-5 2h5m-4 2h5m-3 2h5m-5-1h5m-5-5h5m-4 2h5m-5 2h5m-5 1h5m-5-2h5m-4-3h5m-4 7h5m-5-6h5m-4-2h5m-4 6h5m-5-6h5m-4 8h5m-5-3h5m-2-3h5m-5 2h5m-5 3h5m-5 1h5m-5-8h5m-4 2h5m-4-2h5m-4 2h5m-5 3h5m-4-5h5m-4 3h5m-5 6h5m-5-9h5m-4 3h5m-5 6h5m-5-1h5m-4-3h5m-5 1h5m-5-3h5m-4-2h5m-5 3h5m-4-1h5m-4 2h5m-4-3h5m-4 7h5m-5-5h5m-3-2h5m-4 7h5m-5-2h5m-4-3h5m-5 3h5m-5 2h5m-2-5h5m-4-2h5m-4 3h5m-3-1h5m-5 5h5m-4-3h5m-4 2h5m-4-4h5m-4 2h5m-5-2h5m-4-1h5m-3 4h5m-4-2h5m-3 0h5m-4-4h5m-5 5h5m-4 2h5m-3-6h5m-5 4h5m-3 0h5m-5 3h5m-4-7h5m-4 5h5m-4-1h5m-5 3h5m-5-5h5m-4 5h5m-4-5h5m-5-4h5m-4 1h5m-5 6h5m-4-1h5m-4-5h5m-1 3h5m-5 1h5m-5 3h5m-2-3h5m-5 3h5m-4-5h5m-5-2h5m-4 2h5m-5 1h5m-4 5h5m-4 0h5m-5-8h5m-3 1h5m1 0h5m-5 4h5m-2 0h5m-2-2h5m-4-4h5m-4 4h5m4-2h5m6 6h5m2-8h5m-2 7h5m-4-3h5m-5 5h5m-4-8h5m-412 16h5m-5 2h5m-3-8h5m19 7h5m-4-4h5m-4 4h5m-4-2h5m-1 3h5m-5-1h5m-2-4h5m-5 5h5m-4-5h5m-4 2h5m-5 2h5m-3-3h5m-1 4h5m-4-2h5m-5-6h5m-4 3h5m-4 2h5m-5 3h5m-3-2h5m-3-5h5m-5 5h5m-3-7h5m-5 3h5m-4-3h5m-5 2h5m-4 7h5m-4-9h5m-5 4h5m-2-4h5m-4 5h5m-5-3h5m-4 6h5m-5-7h5m-5 2h5m-4 2h5m-5-1h5m-5-1h5m-4 6h5m-5-6h5m-5-1h5m-5 2h5m-3 4h5m-5-1h5m-3 1h5m-3 1h5m-4 0h5m-4 0h5m-4-4h5m-5 4h5m-4-4h5m-5-5h5m-4 2h5m-5 4h5m-4 2h5m-5-1h5m-4-2h5m-5-4h5m-5 1h5m-5 4h5m-4-4h5m-5 3h5m-5-1h5m-5 4h5m-5-7h5m-4 6h5m-5-4h5m-5 2h5m-3-5h5m-4 8h5m-5-5h5m-5 3h5m-4-3h5m-4 1h5m-5 4h5m-5 1h5m-4-8h5m-5 3h5m-5 1h5m-4-5h5m-5 6h5m-5 1h5m-4-4h5m-5 6h5m-4-8h5m-5 2h5m-5 4h5m-4-7h5m-4 1h5m-5 2h5m-5 3h5m-5-6h5m-4 4h5m-5 1h5m-5 3h5m-4-6h5m-5 2h5m-5 5h5m-4-2h5m-5-1h5m-4 3h5m-4-4h5m-5 4h5m-4-2h5m-5-6h5m-5 1h5m-4 4h5m-5 2h5m-5-1h5m-5 2h5m-5-9h5m-5 3h5m-5-1h5m-5 2h5m-4 1h5m-5 2h5m-4 1h5m-4-5h5m-5 2h5m-4 4h5m-5-7h5m-5 5h5m-4 2h5m-5-8h5m-5 5h5m-5-1h5m-4 0h5m-4-2h5m-5 4h5m-4-3h5m-5 2h5m-5 1h5m-5 2h5m-4-3h5m-4 3h5m-5-1h5m-4-3h5m-5 2h5m-5-6h5m-5 2h5m-4-3h5m-5 8h5m-4-1h5m-5-7h5m-4 5h5m-5 1h5m-5-6h5m-4 5h5m-5 3h5m-5-8h5m-5 4h5m-4 5h5m-4-1h5m-5-8h5m-4 5h5m-5 1h5m-4-5h5m-5 2h5m-4-1h5m-5 3h5m-5 3h5m-5 1h5m-4-6h5m-4 1h5m-5-1h5m-4 3h5m-5 1h5m-4-4h5m-4 1h5m-5 2h5m-4-4h5m-4 1h5m-4 2h5m-5-1h5m-5 5h5m-4-6h5m-5 5h5m-4-3h5m-5 3h5m-5-8h5m-4 3h5m-5 1h5m-5 3h5m-5 2h5m-4-1h5m-4-1h5m-5-6h5m-5 4h5m-5-1h5m-3 5h5m-5-2h5m-4 0h5m-5 2h5m-4-2h5m-4-5h5m-3 0h5m-4 0h5m-5 6h5m-4-8h5m-5 5h5m-4 0h5m-5 3h5m-4-2h5m-5-3h5m-4 2h5m-5 1h5m-2-1h5m-3 4h5m-4-8h5m-5 2h5m-4 6h5m-4 0h5m-4-9h5m-3 7h5m-4-5h5m-5-1h5m-1 0h5m-2 5h5m-4 0h5m-5-2h5m-1 2h5m-4 3h5m-5-5h5m-3 5h5m-1-8h5m-4 6h5m-5 2h5m-4-1h5m0 0h5m-5-3h5m-3 1h5m-5-6h5m-3 1h5m-5 5h5m-5 2h5m-3-2h5m-5 3h5m-4-8h5m-4-1h5m0 7h5m-2 0h5m-5-1h5m-4 3h5m-4 0h5m-5-6h5m-2 4h5m-2-1h5m-2 1h5m-2-6h5m-5 4h5m-2-3h5m-4 1h5m-4 2h5m-5 2h5m-4-2h5m-3-3h5m-5 1h5m-3-1h5m-5 2h5m-5 5h5m-5-1h5m-3 0h5m-4-7h5m-3-1h5m-4 4h5m-4 1h5m-5-4h5m-4 2h5m-4 3h5m-3 1h5m-3-7h5m-5 7h5m-5-1h5m-3-6h5m-5 7h5m-4-5h5m-4-2h5m-5 2h5m-5-1h5m-5 6h5m-5 2h5m-4 0h5m-4-6h5m-5 2h5m-5 1h5m-3-1h5m-5 3h5m-5-6h5m-4 3h5m-4 2h5m-5 1h5m-3-7h5m-5 5h5m-5-2h5m-4 2h5m-5-5h5m-5 3h5m-5-1h5m-3 5h5m-5-6h5m-4 6h5m-5-5h5m-4 1h5m-5-1h5m-5 5h5m-4-4h5m-3-2h5m-5-1h5m-5 3h5m-5 3h5m-4 0h5m-4-1h5m-5 3h5m-4 0h5m-3-9h5m-4 2h5m-5-1h5m-4 4h5m-5-4h5m-4 4h5m-5-3h5m-5 2h5m-4 5h5m-5-5h5m-5 1h5m-4 4h5m-4-1h5m-5-4h5m-4-4h5m-5 7h5m-4-2h5m-4-5h5m-5 4h5m-4-2h5m-4 7h5m-4-7h5m-5 1h5m-5 5h5m-5 1h5m-4-4h5m-5 1h5m-4-1h5m-5 2h5m-5 2h5m-5-9h5m-4 6h5m-4-2h5m-5 3h5m-5 2h5m-5-1h5m-5-8h5m-5 2h5m-3 3h5m-5 1h5m-4-2h5m-4 4h5m-5-8h5m-4 1h5m-5 2h5m-4 5h5m-4-3h5m-4-5h5m-4 0h5m-5 7h5m-5 2h5m-4-8h5m-4 2h5m-5 4h5m-5-1h5m-5 3h5m-5-1h5m-5-8h5m-4 1h5m-5 3h5m-4 0h5m-5 2h5m-4-5h5m-5 4h5m-5-5h5m-4 3h5m-5 4h5m-5 2h5m-4-7h5m-4 1h5m-5 3h5m-5 1h5m-5 2h5m-4-1h5m-4-4h5m-4 3h5m-5-5h5m-5 2h5m-4 4h5m-5-8h5m-5 2h5m-5 4h5m-4 0h5m-5-4h5m-4 1h5m-5 2h5m-5 2h5m-4 2h5m-5-6h5m-4 5h5m-4-8h5m-5 4h5m-5 1h5m-4 4h5m-5-8h5m-5 2h5m-4 2h5m-4 3h5m-5-1h5m-4-3h5m-4-2h5m-5 2h5m-5 1h5m-5 2h5m-5 2h5m-5-8h5m-4 7h5m-4-5h5m-5 2h5m-4 3h5m-5-7h5m-4 6h5m-5-6h5m-4 8h5m-4-1h5m-5-8h5m-5 5h5m-4-4h5m-5 5h5m-4 2h5m-5-1h5m-4-1h5m-5-1h5m-4-3h5m-3 7h5m-4-1h5m-3 1h5m-5-8h5m-5 5h5m-5-1h5m-3-1h5m-5 2h5m-3-4h5m-5 5h5m-4-5h5m-5 5h5m-4-1h5m-5 1h5m-5-7h5m-5 3h5m-4 5h5m-5-7h5m-5 1h5m-3 4h5m-3 3h5m-5-2h5m-4 1h5m-3 1h5m-5-1h5m-4-5h5m-5 3h5m-5 3h5m-4-5h5m-4-3h5m-4 4h5m-5-4h5m-3 8h5m-4-7h5m-5-1h5m-4 2h5m-4 3h5m-4 3h5m-5-1h5m-5-8h5m-5 4h5m-4 2h5m-5-5h5m-3 8h5m-4-8h5m-4 8h5m-3-9h5m-5 5h5m-3 0h5m-4-3h5m-5 7h5m-4-4h5m-5 2h5m-4-2h5m-5-4h5m-4-1h5m-4 5h5m-4 0h5m-5-5h5m-2 9h5m-4-6h5m-4-2h5m-5 2h5m-4-1h5m-4 2h5m-4-2h5m-4-2h5m-2 7h5m-4 1h5m5-2h5m-5 2h5m-4-6h5m-1-2h5m-4 6h5m-5 2h5m-2-5h5m0-3h5m1 4h5m3-1h5m-423 16h5m-3 0h5m9-4h5m7 0h5m-4-3h5m-4-2h5m-2 9h5m-4-5h5m-4-1h5m-2 5h5m-5-3h5m-2-4h5m-5 2h5m-4-3h5m-5 1h5m-4-1h5m-4 9h5m-2-7h5m-4-1h5m-4 1h5m-4 5h5m-5 2h5m-5-7h5m-3 1h5m-4 4h5m-4-2h5m-4 3h5m-5-4h5m-5 2h5m-4 2h5m-4-1h5m-5-7h5m-3 2h5m-5 5h5m-4-7h5m-5 7h5m-4-5h5m-4 1h5m-5 1h5m-4-1h5m-5-3h5m-2 9h5m-5-8h5m-4 3h5m-5 2h5m-5 3h5m-4 0h5m-4-9h5m-5 9h5m-5-8h5m-5 1h5m-4 3h5m-4-5h5m-3 1h5m-5 5h5m-4-6h5m-4 3h5m-5 3h5m-4 2h5m-5 1h5m-4-7h5m-5 5h5m-3-4h5m-5-1h5m-5 3h5m-4 1h5m-5 1h5m-4 1h5m-5-1h5m-5-4h5m-4 0h5m-5-1h5m-4-2h5m-5 3h5m-4-1h5m-5-2h5m-5 1h5m-4 4h5m-5-4h5m-5 5h5m-4 1h5m-5 1h5m-5-6h5m-5 1h5m-4 5h5m-5-1h5m-5-6h5m-4 7h5m-5-1h5m-5-5h5m-4 4h5m-5 3h5m-5-4h5m-5 2h5m-4-2h5m-5 2h5m-3-6h5m-5-1h5m-5 3h5m-5 2h5m-5 4h5m-4-8h5m-5 2h5m-5 1h5m-4-3h5m-5 2h5m-5 1h5m-5 4h5m-5-8h5m-4 3h5m-5 2h5m-5-1h5m-4-1h5m-5 3h5m-5 2h5m-5-8h5m-4 5h5m-5 3h5m-5 1h5m-4-4h5m-4-4h5m-5 4h5m-4-5h5m-4 7h5m-5 2h5m-5-8h5m-5 1h5m-5 4h5m-4 1h5m-4-3h5m-5 2h5m-5 3h5m-5-9h5m-4 1h5m-5 1h5m-4 7h5m-5-8h5m-5 2h5m-5 2h5m-4-5h5m-5 2h5m-5 3h5m-5 1h5m-4-1h5m-5 2h5m-4 1h5m-5-7h5m-5 2h5m-5 2h5m-5 2h5m-4 2h5m-5-4h5m-5 3h5m-4-8h5m-4 8h5m-4-7h5m-5 2h5m-5 4h5m-4-5h5m-5 3h5m-5 1h5m-5 1h5m-5-6h5m-5 2h5m-4-1h5m-5 4h5m-5 3h5m-4-5h5m-5 5h5m-5-1h5m-4-2h5m-4-3h5m-5 1h5m-5 5h5m-4-9h5m-5 5h5m-3 4h5m-5-7h5m-5 3h5m-4-2h5m-5-1h5m-4 6h5m-5-6h5m-5 1h5m-4-1h5m-5-1h5m-5 8h5m-4 0h5m-5-7h5m-4 1h5m-5 3h5m-4-5h5m-5 1h5m-5 5h5m-5-7h5m-4 5h5m-5 2h5m-5 2h5m-5-9h5m-4 2h5m-5-1h5m-4 1h5m-5 5h5m-5-1h5m-4-6h5m-5 3h5m-4 6h5m-5-8h5m-4 3h5m-5 5h5m-5-8h5m-4 1h5m-5-1h5m-4 4h5m-4 4h5m-4-6h5m-5 4h5m-5-3h5m-4-3h5m-5 5h5m-4 2h5m-5-8h5m-5 5h5m-4 1h5m-4 2h5m-5-7h5m-5 3h5m-4 2h5m-5 1h5m-4-3h5m-5 4h5m-3-3h5m-5-1h5m-5 3h5m-4-3h5m-5 1h5m-3-1h5m-5-4h5m-5 2h5m-4-2h5m-5 1h5m-5 3h5m-5-1h5m-3-3h5m-4 5h5m-5-1h5m-4 2h5m0-4h5m-4 7h5m-4-9h5m-5 4h5m-4-1h5m-4 3h5m-5 3h5m-5-1h5m-4-4h5m-4 2h5m-4-2h5m-2 0h5m-4 2h5m-4 3h5m-3-8h5m-4 4h5m-5 1h5m-1-2h5m-4-4h5m-5 1h5m1 5h5m-4-2h5m-3-1h5m-3 4h5m-3 1h5m1-5h5m-5 5h5m-4-3h5m-5 3h5m-2-8h5m-4 8h5m-5-4h5m-4 0h5m-4 1h5m-2-2h5m-3 2h5m-5 2h5m-5 2h5m-2-3h5m-4 0h5m-4 2h5m-3-5h5m-5 3h5m-5 1h5m-5-3h5m-4-1h5m-4 3h5m-4 3h5m-5-5h5m-5 1h5m-3-3h5m-3 4h5m-4 0h5m-4-5h5m-4 2h5m-3 2h5m-5 1h5m-4-2h5m-4-1h5m-5 3h5m-5 2h5m-5-7h5m-4 3h5m-5 5h5m-4-7h5m-4 1h5m-4 6h5m-5-8h5m-5-1h5m-4 9h5m-5-4h5m-4 4h5m-5-1h5m-4-2h5m-4-5h5m-5 1h5m-5 2h5m-2 3h5m-3-6h5m-2 7h5m-4 1h5m-4-3h5m-5-1h5m-5 2h5m-5 1h5m-5-7h5m-5-1h5m-4 9h5m-5-1h5m-3 1h5m-4 0h5m-5-9h5m-5 4h5m-4 4h5m-5-7h5m-5-1h5m-5 3h5m-4-2h5m-5 3h5m-5-1h5m-4 5h5m-5 1h5m-3-6h5m-4-3h5m-5 2h5m-4-1h5m-5 2h5m-4-3h5m-5 2h5m-5 2h5m-5 1h5m-5 4h5m-3-1h5m-4-3h5m-5-3h5m-4-1h5m-5 1h5m-4 3h5m-4-1h5m-5-1h5m-5 4h5m-5-6h5m-4 3h5m-5 1h5m-5 3h5m-5 1h5m-4 0h5m-5-3h5m-4-5h5m-5-1h5m-4 5h5m-5-4h5m-5 3h5m-4 3h5m-5-3h5m-5 2h5m-5-1h5m-4 0h5m-5 2h5m-5-1h5m-3-6h5m-5 4h5m-5 1h5m-5 2h5m-5 2h5m-4-7h5m-5 6h5m-4-8h5m-4 3h5m-4 6h5m-4-9h5m-5 3h5m-5-1h5m-5 6h5m-5-1h5m-5 2h5m-4-7h5m-4 4h5m-5-1h5m-5-4h5m-5-1h5m-4 7h5m-5 2h5m-5-6h5m-5 3h5m-4 2h5m-4 0h5m-4 0h5m-5-5h5m-5 3h5m-4-5h5m-5 1h5m-5 2h5m-4-3h5m-5 4h5m-4-5h5m-4 8h5m-5-8h5m-5 4h5m-4-2h5m-5 1h5m-5 5h5m-4-7h5m-5 4h5m-4-4h5m-4 2h5m-5-1h5m-4 2h5m-5 4h5m-5-7h5m-5 1h5m-4 0h5m-5 4h5m-4-3h5m-5 2h5m-4-1h5m-5 1h5m-5 3h5m-5-1h5m-5-4h5m-4 3h5m-5-1h5m-5-4h5m-4 1h5m-5 1h5m-5 3h5m-4 1h5m-4-5h5m-5 1h5m-4-1h5m-5 2h5m-5 2h5m-4-6h5m-4 0h5m-5 6h5m-4-6h5m-5 6h5m-4-2h5m-5 2h5m-4 3h5m-5-7h5m-5 5h5m-4-3h5m-5 4h5m-5-1h5m-4-4h5m-5-1h5m-5 3h5m-3-3h5m-5 1h5m-5 3h5m-5 2h5m-4-3h5m-4 0h5m-5-5h5m-4 8h5m-4-8h5m-4 2h5m-4 2h5m-5 5h5m-4-8h5m-5-1h5m-5 6h5m-4-2h5m-4-3h5m-5 1h5m-5 1h5m-4 4h5m-5-7h5m-5 3h5m-5 1h5m-4 2h5m-4-6h5m-5 8h5m-4-5h5m-5 1h5m-4 3h5m-3-1h5m-5 2h5m-5-7h5m-5 2h5m-4-1h5m-5-1h5m-5-1h5m-4 9h5m-5-7h5m-5 4h5m-5 2h5m-4-2h5m-5 2h5m-5-1h5m-5-6h5m-4 2h5m-5-1h5m-4 6h5m-5 1h5m-4-7h5m-5 3h5m-5 1h5m-4 1h5m-5-1h5m-5-5h5m-3 6h5m-3-5h5m-3-1h5m-5 2h5m-5 3h5m-4-6h5m-5 3h5m-5 5h5m-4-8h5m-5 6h5m-4-1h5m-3-5h5m-5 9h5m-4-8h5m-4 5h5m-3-6h5m-3 8h5m-5-8h5m-5 3h5m-5 1h5m-3-2h5m-5 4h5m-5-1h5m-4-3h5m-4 4h5m-5 2h5m-4-8h5m-3 1h5m-5 7h5m-3-7h5m-4 2h5m-4 6h5m-5-5h5m-5 2h5m-2-4h5m-4 3h5m-4 2h5m-5 1h5m-1 0h5m-4-5h5m-5-1h5m-2 2h5m-5 4h5m-4-3h5m-3-3h5m0 4h5m-2-3h5m-1-2h5m-5 4h5m0 0h5m-3-3h5m-4 6h5m1-8h5m6 1h5m7 7h5m12-8h5m-3 7h5m-437 5h5m-3 1h5m-4 2h5m-4 3h5m1 1h5m-1 0h5m-5-1h5m-1-2h5m-3 1h5m2-6h5m-5 1h5m-2-1h5m-4 4h5m-5 2h5m-4 0h5m-4 1h5m-4-3h5m-3 1h5m-4-2h5m-3 3h5m-5-1h5m-4 3h5m-3-9h5m-4 6h5m-4-6h5m-5 5h5m-5 2h5m-5-1h5m-4-6h5m-5 1h5m-5 8h5m-4-7h5m-4 1h5m-5-3h5m-4 5h5m-4 4h5m-5-7h5m-3 3h5m-5 4h5m-4-2h5m-5 2h5m-4-2h5m-5-5h5m-5-1h5m-4 6h5m-5 2h5m-5-1h5m-5-8h5m-4 9h5m-5-5h5m-4 3h5m-5-7h5m-5 2h5m-5 1h5m-4 1h5m-5-1h5m-4-3h5m-5 1h5m-5 2h5m-5 2h5m-4 3h5m-5-8h5m-5 3h5m-5 4h5m-5-1h5m-4-4h5m-5 2h5m-5 3h5m-5-1h5m-4-6h5m-5 2h5m-5 5h5m-4-3h5m-5 4h5m-4-7h5m-5-1h5m-4 2h5m-5-1h5m-5 3h5m-5 3h5m-5-1h5m-4-5h5m-5 4h5m-5 1h5m-4-3h5m-5 1h5m-5 4h5m-5-8h5m-4 8h5m-4-6h5m-5 4h5m-4-2h5m-5 4h5m-4-2h5m-5 3h5m-4-2h5m-5-1h5m-5 3h5m-5-9h5m-5 2h5m-4 0h5m-5 2h5m-4 4h5m-5-6h5m-4 3h5m-5-1h5m-5 3h5m-4-6h5m-5 3h5m-5 3h5m-5-1h5m-5 3h5m-4-9h5m-5 5h5m-5-1h5m-4-4h5m-5 3h5m-5 2h5m-5 2h5m-4 2h5m-5-1h5m-5-8h5m-5 1h5m-4 0h5m-5 3h5m-5 4h5m-5-8h5m-5 2h5m-4 0h5m-5 1h5m-5 2h5m-5 1h5m-4 3h5m-5-9h5m-5 2h5m-5-1h5m-4 1h5m-5 1h5m-5 2h5m-5 2h5m-5-1h5m-4-4h5m-5 4h5m-4-1h5m-5 2h5m-5 1h5m-5-7h5m-4 2h5m-5 3h5m-5-1h5m-5 2h5m-5 2h5m-5-9h5m-4 6h5m-5 3h5m-5-6h5m-5 2h5m-4-5h5m-5 4h5m-4 4h5m-5-3h5m-5 2h5m-5-1h5m-4 0h5m-5 3h5m-5-1h5m-5-8h5m-5 3h5m-4-3h5m-5 3h5m-4 0h5m-5 2h5m-5-1h5m-4 2h5m-5-3h5m-4 4h5m-5-7h5m-4 1h5m-5 2h5m-4 6h5m-5-5h5m-4-3h5m-5 2h5m-5 2h5m-5 2h5m-5 2h5m-5-9h5m-4 0h5m-5 4h5m-5 1h5m-5 1h5m-5 2h5m-4-4h5m-5 1h5m-5 2h5m-5-1h5m-5-4h5m-4 0h5m-5 1h5m-5 2h5m-5 4h5m-4-2h5m-5-4h5m-4 2h5m-5-1h5m-5 5h5m-5-1h5m-4-4h5m-5 2h5m-4-1h5m-5 2h5m-5-7h5m-5 1h5m-4 3h5m-4 3h5m-4 0h5m-5-7h5m-4 2h5m-5-1h5m-5 3h5m-5 2h5m-5 3h5m-4-6h5m-4 6h5m-5-1h5m-5-6h5m-4 2h5m-5 2h5m-4-3h5m-4 4h5m-5-1h5m-4-2h5m-5 1h5m-5 1h5m-5 3h5m-5-9h5m-4 4h5m-5 4h5m-5 1h5m-4-8h5m-5 3h5m-4-4h5m-5 1h5m-5 6h5m-4-2h5m-5 4h5m-5-9h5m-5 2h5m-4 5h5m-5-5h5m-5-1h5m-4 6h5m-5 2h5m-5-9h5m-4 6h5m-5-2h5m-4 5h5m-4 0h5m-5-1h5m-5-6h5m-5-1h5m-5 6h5m-1-6h5m-5 8h5m-4 0h5m-5-4h5m-4-1h5m-4 3h5m-5-1h5m-5 3h5m-4-6h5m-5 4h5m-4-6h5m-5 5h5m-5 1h5m-5 2h5m-5-9h5m-4 2h5m-5 1h5m-4 4h5m-5 1h5m-5-8h5m-5 2h5m-4 4h5m-5-5h5m-4 3h5m-5-1h5m-5 5h5m-4 0h5m-4 0h5m-5-6h5m-5-1h5m-4 7h5m-5-8h5m-4 0h5m-5 7h5m-3 1h5m-5-7h5m-3 3h5m-5 1h5m-4 4h5m-5-3h5m-4-6h5m-3 1h5m-4 1h5m1 4h5m-4-6h5m-3 8h5m-5-6h5m-5 5h5m-3-4h5m-5 5h5m-2-2h5m-3-1h5m-2 2h5m-5-3h5m-4-1h5m-5 2h5m-4-3h5m-3 4h5m-4 0h5m-5-1h5m0-2h5m-4 0h5m-4-3h5m-5 7h5m-4-4h5m-3-3h5m-5 2h5m1 0h5m-4 7h5m-5-9h5m-4 9h5m-3-1h5m-4-5h5m-5 3h5m-4-1h5m-4-5h5m-5 1h5m-4-1h5m-4 7h5m-5 2h5m-2-3h5m-5-4h5m-4 1h5m-5 2h5m-5 2h5m-3 1h5m-5 1h5m-5-9h5m-4 9h5m-5-5h5m-4 3h5m-5-6h5m-4 6h5m-4-7h5m-5 2h5m-5 3h5m-4-3h5m-5 4h5m-4-6h5m-5 6h5m-5-5h5m-4-1h5m-5 5h5m-3-5h5m-5 7h5m-4-4h5m-3 5h5m-3-2h5m-5-1h5m-4-3h5m-5 2h5m-5 1h5m-4 0h5m-5 3h5m-5-8h5m-5 2h5m-4 7h5m-5-9h5m-4 1h5m-5-1h5m-4 6h5m-4 3h5m-4-9h5m-5 8h5m-4-3h5m-5 2h5m-5-7h5m-3 9h5m-5-6h5m-5 2h5m-5 1h5m-5 2h5m-3-7h5m-5 1h5m-4 1h5m-5 4h5m-4-4h5m-5-1h5m-5 5h5m-4-6h5m-5 4h5m-4 4h5m-5-8h5m-5-1h5m-5 2h5m-4 6h5m-5-7h5m-5 1h5m-3 4h5m-5-5h5m-3-1h5m-5 5h5m-5 3h5m-4-1h5m-4 0h5m-5-1h5m-4 1h5m-5-6h5m-5 4h5m-5-1h5m-4 1h5m-5-4h5m-4-1h5m-1 3h5m-5 6h5m-4-8h5m-5 2h5m-5-1h5m-5 6h5m-4-2h5m-5 3h5m-5-8h5m-5 2h5m-3 5h5m-4-4h5m-4 0h5m-5 4h5m-5-1h5m-5 2h5m-4-7h5m-4 5h5m-5 2h5m-5-7h5m-4 4h5m-5-6h5m-4 1h5m-5-1h5m-4 9h5m-5-8h5m-4 4h5m-4-5h5m-5 3h5m-5 6h5m-4-6h5m-5 2h5m-5 3h5m-4-1h5m-3 2h5m-5-9h5m-4 2h5m-5 5h5m-5-1h5m-5 2h5m-4-7h5m-5 4h5m-4-4h5m-3 2h5m-4-3h5m-4 7h5m-5-2h5m-4 2h5m-5-6h5m-4 6h5m-5-6h5m-5 4h5m-4-2h5m-5-1h5m-5 3h5m-4 1h5m-5 3h5m-5-8h5m-4 2h5m-5 2h5m-5 2h5m-4 2h5m-5-7h5m-5 1h5m-4-2h5m-5 4h5m-5 3h5m-4-7h5m-5 1h5m-4 4h5m-4 1h5m-5 2h5m-5-8h5m-5-1h5m-4 3h5m-5 2h5m-5 2h5m-5-1h5m-5 2h5m-5-8h5m-4 6h5m-5 2h5m-5 1h5m-5-6h5m-4 2h5m-5-1h5m-4 3h5m-5-6h5m-4 3h5m-5 4h5m-3-1h5m-5-4h5m-5 2h5m-4 3h5m-5-4h5m-1-1h5m-5-1h5m-4 1h5m-5-1h5m-5 6h5m-5 1h5m-4-8h5m-5 1h5m-3 5h5m-5-1h5m-4-4h5m-5 5h5m-5 1h5m-4-4h5m-5 2h5m-5 1h5m-5-6h5m-5 2h5m-4-2h5m-3 2h5m-4 1h5m-4-2h5m-5 2h5m-3 0h5m-5 3h5m-4-7h5m-5 2h5m-5 5h5m-4-5h5m-4 2h5m-4 3h5m-4-6h5m-5 2h5m-4 3h5m-3-5h5m-3 0h5m-4 2h5m-5 1h5m-5 3h5m-5 1h5m-4-3h5m-5-1h5m-4 1h5m-5-5h5m-4 7h5m-5-5h5m-4 2h5m-4-2h5m-5 2h5m-4-4h5m-4 0h5m-4 1h5m-5-1h5m-4 3h5m-4 0h5m-5-1h5m-5 2h5m-4-2h5m-3-1h5m-2 4h5m-5-5h5m-4 7h5m-4-7h5m-3 1h5m-5 3h5m-3 0h5m-4-2h5m-5 1h5m-5 1h5m-4 2h5m-5-4h5m-2 2h5m-4-2h5m7 0h5m-5 2h5m-5 1h5m-4 0h5m-3 3h5m-4-5h5m-4 1h5m-4 4h5m-4-7h5m0 3h5m-3-3h5m3 7h5m0 0h5m-3-1h5m3-3h5m3 4h5m-411 10h5m-1 1h5m14 0h5m-4-8h5m-4 4h5m-4-3h5m-4-1h5m-2 0h5m-5 6h5m-3-3h5m-4-1h5m-5 6h5m-4-6h5m-5 3h5m-4-5h5m-5 2h5m-4 6h5m0 0h5m-5-7h5m-5-1h5m-4 4h5m-5 1h5m-5-5h5m-4-1h5m-5 4h5m-5-1h5m-4 1h5m-5 1h5m-2 0h5m-4-5h5m-5 5h5m-5 1h5m-5 2h5m-4-6h5m-3 5h5m-4-4h5m-5 3h5m-4-5h5m-5 8h5m-4-7h5m-5 2h5m-4 3h5m-5-7h5m-4 3h5m-5 4h5m-5 1h5m-5-7h5m-4 1h5m-5 1h5m-5 2h5m-4-3h5m-5 2h5m-5-1h5m-4-3h5m-5 3h5m-5 1h5m-5 5h5m-4 0h5m-4-4h5m-5-1h5m-4-2h5m-5 2h5m-5 1h5m-5 4h5m-4-9h5m-5 2h5m-5 3h5m-5 2h5m-4-6h5m-4 1h5m-5-1h5m-5 5h5m-4-2h5m-5-1h5m-4-2h5m-5 4h5m-4-4h5m-5 1h5m-5 4h5m-5-1h5m-5 3h5m-4-5h5m-5 2h5m-5 2h5m-5-7h5m-4 1h5m-4 8h5m-5-5h5m-5-1h5m-4 4h5m-5 1h5m-4-8h5m-5 5h5m-4 3h5m-5-7h5m-5 5h5m-4 3h5m-5-9h5m-5 4h5m-4-3h5m-5 2h5m-5 2h5m-4 2h5m-5 2h5m-5-6h5m-4-1h5m-5 2h5m-5 3h5m-5-1h5m-4 2h5m-5-8h5m-5 4h5m-4 4h5m-5-6h5m-5 4h5m-4-2h5m-5-1h5m-4 4h5m-4-3h5m-5-2h5m-4 0h5m-4 2h5m-5 3h5m-5 1h5m-5-7h5m-4 7h5m-5-6h5m-4 3h5m-5 2h5m-5-6h5m-5-1h5m-4 8h5m-4 0h5m-5-7h5m-5-1h5m-4 9h5m-5-9h5m-5 2h5m-5 2h5m-4 3h5m-5 2h5m-5-5h5m-5 2h5m-4-4h5m-5-1h5m-5 2h5m-4 1h5m-5-1h5m-4 5h5m-5-7h5m-5 1h5m-4 2h5m-4 2h5m-5 1h5m-4-3h5m-5-4h5m-4 6h5m-5 2h5m-4-7h5m-5 1h5m-5 2h5m-4-3h5m-5 5h5m-5-1h5m-5 2h5m-5 2h5m-5-9h5m-4 5h5m-5 4h5m-5-9h5m-4 7h5m-5-7h5m-4 4h5m-4 4h5m-5-8h5m-5 2h5m-4 3h5m-5-2h5m-4 1h5m-5 3h5m-4 2h5m-5-7h5m-4 4h5m-5-5h5m-5 2h5m-4-3h5m-5 2h5m-5-1h5m-5 3h5m-5-1h5m-5 2h5m-5 1h5m-4 3h5m-4-7h5m-5 2h5m-5-1h5m-5 3h5m-5 3h5m-4-9h5m-5 4h5m-4-4h5m-5 5h5m-4-4h5m-5 1h5m-5 2h5m-5 5h5m-3-5h5m-5-1h5m-4 2h5m-5 2h5m-4 2h5m-5-5h5m-4-2h5m-5 7h5m-4-5h5m-5 1h5m-5-4h5m-4 2h5m-4-3h5m-4 8h5m-5-3h5m-4-2h5m-4 5h5m-5 1h5m-5-9h5m-5 4h5m-4 1h5m-4 3h5m-5-1h5m-5-4h5m-4-1h5m-5 2h5m-5 2h5m-4 2h5m-4-4h5m-5-1h5m-5 6h5m-4-2h5m-4 2h5m-5-1h5m-4-5h5m-5 3h5m-5-1h5m-5 2h5m-5-7h5m-4 0h5m-5 2h5m-5-1h5m-4 0h5m-4 2h5m-4 1h5m-5 2h5m-4 0h5m-5-2h5m-5-1h5m-4 0h5m-5-3h5m-3 3h5m-4 1h5m-4 3h5m-4-2h5m-4-5h5m-5 2h5m-4 1h5m-5 1h5m-5 4h5m-3 1h5m-5-8h5m-5 7h5m-3-1h5m-4-2h5m-3 1h5m-5-1h5m-3 1h5m-4-5h5m-5 3h5m-4 1h5m-5-5h5m-2 9h5m-5-5h5m-4-1h5m-3 0h5m-4-3h5m-3 0h5m-4 2h5m-2 2h5m-2 4h5m-5-7h5m-3 4h5m-1 4h5m-5-8h5m-4 7h5m-5-1h5m-4-6h5m-5 3h5m-4-1h5m-4 5h5m-4-3h5m0 3h5m-2-6h5m-5 4h5m-4 3h5m-2 0h5m-4-5h5m-5 2h5m-4-1h5m-3-2h5m-3 6h5m-4-4h5m-5 3h5m-4-8h5m-4 9h5m-4-7h5m-4 6h5m-4-2h5m-4-1h5m-5 3h5m-4-7h5m-5 1h5m-4 2h5m-4 3h5m-5-5h5m-5 6h5m-3-8h5m-5 3h5m-4 6h5m-4-3h5m-4-2h5m-5 3h5m-5 2h5m-4-3h5m-4-3h5m-5 5h5m-4-1h5m-4-3h5m-3 2h5m-5-3h5m-4-2h5m-4-1h5m-5 6h5m-4-3h5m-5-1h5m-4 3h5m-4 2h5m-4 2h5m-5-8h5m-5 6h5m-2-4h5m-5 4h5m-4-4h5m-5 6h5m-3-7h5m-5-2h5m-4 6h5m-5-4h5m-4 4h5m-5 3h5m-4 0h5m-5-6h5m-3-2h5m-5 1h5m-4 6h5m-4-8h5m-4 5h5m-4 1h5m-4-2h5m-4 0h5m-3-3h5m-5 5h5m-4 3h5m-5-8h5m-4 2h5m-4 3h5m-5 1h5m-5-7h5m-4 5h5m-5 1h5m-5-4h5m-4 1h5m-3-1h5m-5 2h5m-5 3h5m-5-4h5m-4 6h5m-4 0h5m-5-6h5m-4 5h5m-4-7h5m-5 4h5m-5 1h5m-3 3h5m-5-5h5m-3 2h5m-4-4h5m-5-2h5m-4 0h5m-5 1h5m-4 5h5m-5-4h5m-4 4h5m-5 3h5m-4-5h5m-5 3h5m-4-1h5m-3 3h5m-5-7h5m-4-1h5m-5-1h5m-4 7h5m-5-5h5m-4 5h5m-5 1h5m-5-5h5m-4 1h5m-3-3h5m-5 4h5m-5 3h5m-4-5h5m-5 1h5m-5 2h5m-3-1h5m-5 1h5m-5-6h5m-4 2h5m-4 1h5m-5 6h5m-4-1h5m-4 1h5m-4-5h5m-5-1h5m-4 5h5m-4-8h5m-4 8h5m-4 0h5m-5-8h5m-5 9h5m-5-4h5m-4 0h5m-4-5h5m-5 4h5m-4 5h5m-4-3h5m-5-3h5m-4 5h5m-3-7h5m-5 1h5m-5 5h5m-4-6h5m-5-1h5m-3 3h5m-4 3h5m-5-6h5m-4 7h5m-5 1h5m-3-8h5m-4 4h5m-5 5h5m-4-6h5m-5 2h5m-5-4h5m-4 3h5m-3 4h5m-5-7h5m-4 7h5m-4-4h5m-4-2h5m-5-1h5m-5 6h5m-4 1h5m-5-4h5m-5-1h5m-4-1h5m-5 5h5m-5-1h5m-4 1h5m-5 2h5m-5-1h5m-4 1h5m-5-7h5m-4 5h5m-4-3h5m-4 3h5m-5 1h5m-3-6h5m-5-1h5m-4 7h5m-5-6h5m-4 2h5m-4 1h5m-5 1h5m-4-4h5m-5 2h5m-3 2h5m-5-2h5m-4 2h5m-4-4h5m-2 4h5m-4 3h5m-2-7h5m1 0h5m-5-1h5m-5 4h5m-4-5h5m-4 3h5m-5 5h5m4-4h5m-4-4h5m-3 5h5m-5 1h5m-3 1h5m-3-2h5m-4-4h5m2 3h5m-4 3h5m-4 0h5m-4 1h5m3-4h5m-388 12h5m14-2h5m-4-4h5m-5 1h5m-3 6h5m-1-7h5m-2 0h5m-3 5h5m-4-5h5m-4 2h5m-5 7h5m-3-1h5m-5-7h5m-4 6h5m-2 2h5m-4-2h5m-3-7h5m-3 6h5m-5 3h5m-4-3h5m-4 3h5m-3-5h5m-5 3h5m-4-6h5m-5 1h5m-5 3h5m-4 1h5m-3-3h5m-4 3h5m-4-3h5m-4-1h5m-4-1h5m-5 5h5m-5-1h5m-4 0h5m-5-4h5m-4 8h5m-5-7h5m-4 0h5m-5 1h5m-4 4h5m-5-7h5m-5 2h5m-5 1h5m-4 4h5m-5-5h5m-3-2h5m-5 2h5m-5 1h5m-4 4h5m-5 2h5m-4 0h5m-5-8h5m-5 1h5m-5 2h5m-4 3h5m-4-5h5m-4-1h5m-5-1h5m-5 6h5m-5 1h5m-5 2h5m-4-6h5m-4 1h5m-5 2h5m-4 0h5m-5-1h5m-5 2h5m-5-7h5m-5 1h5m-4 1h5m-4 6h5m-4-8h5m-4 4h5m-5 2h5m-4 1h5m-5-7h5m-5 1h5m-5 3h5m-4 5h5m-5-8h5m-4 3h5m-5 1h5m-5 3h5m-4-4h5m-5 4h5m-4 0h5m-5-1h5m-5-5h5m-5 2h5m-4 4h5m-5-6h5m-5 1h5m-4 5h5m-5-6h5m-4-2h5m-5 2h5m-5 3h5m-4-2h5m-5 5h5m-4-6h5m-4 7h5m-4-8h5m-5 3h5m-5 1h5m-5 2h5m-4-4h5m-5 6h5m-4-4h5m-5 2h5m-4-2h5m-5 3h5m-5-5h5m-5 1h5m-4 0h5m-5-4h5m-4 2h5m-5 2h5m-5 3h5m-5-7h5m-4 0h5m-5 2h5m-5 2h5m-5 2h5m-4 0h5m-5 3h5m-5-6h5m-4 3h5m-5-1h5m-4 4h5m-5-6h5m-5 1h5m-4-3h5m-5-1h5m-5 4h5m-5 2h5m-5 1h5m-4-3h5m-5 1h5m-5 3h5m-4-4h5m-4-2h5m-5 1h5m-5 3h5m-5 3h5m-4-8h5m-5 1h5m-5 2h5m-5 1h5m-5 2h5m-4-3h5m-5-1h5m-5 5h5m-3-7h5m-5 1h5m-5 3h5m-4 0h5m-5-4h5m-4 2h5m-5 3h5m-5 3h5m-4-4h5m-5 2h5m-4-5h5m-5 2h5m-5 2h5m-5 3h5m-4-2h5m-5-4h5m-5 2h5m-4-1h5m-4-1h5m-4-3h5m-5 3h5m-4 6h5m-5-8h5m-4 0h5m-5 3h5m-4 4h5m-5-7h5m-5 1h5m-5 3h5m-4-4h5m-5 1h5m-5 4h5m-4-6h5m-4 9h5m-4-9h5m-5 5h5m-4-4h5m-4 6h5m-4-5h5m-5 2h5m-4 1h5m-5 2h5m-5 1h5m-5-4h5m-4 4h5m-4-3h5m-4 4h5m-5-8h5m-4 7h5m-5-8h5m-4 9h5m-5-5h5m-3 5h5m-4-6h5m-5-1h5m-4 6h5m-5-7h5m-5 1h5m-5 2h5m-5 3h5m-5-1h5m-4 3h5m-4-6h5m-3 4h5m-5 2h5m-4-4h5m-5-1h5m-5-4h5m-4 4h5m-4 3h5m-5 2h5m-4-4h5m-4-4h5m-4 4h5m-5 2h5m-4-7h5m-5 3h5m-1 4h5m-4 2h5m-4-1h5m-4-4h5m-4 1h5m-5 3h5m-4-4h5m-3 0h5m-5 4h5m-4-2h5m-3-4h5m-5 4h5m-4-6h5m-5 9h5m-4-1h5m-5-1h5m-4 1h5m-5-1h5m-1-7h5m-3 5h5m2 0h5m-5 2h5m-4-5h5m0-2h5m-3 9h5m-5-2h5m-2-7h5m-4 1h5m-3 1h5m-5 4h5m-5-3h5m-3 2h5m-4 4h5m-3-7h5m-2 6h5m-4-6h5m-1 2h5m-3 4h5m-4-8h5m-5 3h5m-4 2h5m-5 1h5m-3-1h5m-4 2h5m-5-6h5m-4 2h5m-5 3h5m-5-4h5m-4 4h5m-5 1h5m-3-7h5m-4 7h5m-4 2h5m-4-4h5m-4 1h5m-5-5h5m-4 4h5m-5 2h5m-4-3h5m-4 1h5m-4 1h5m-4-3h5m-4 0h5m-4-3h5m-2 6h5m-4-4h5m-4 3h5m-4-2h5m-4 5h5m-2-5h5m-5 6h5m-4-7h5m-4 6h5m-4-5h5m-4-3h5m-5 3h5m-5 2h5m-5 2h5m-4 0h5m-5-5h5m-4 1h5m-3 3h5m-4-6h5m-4 2h5m-4 2h5m-5 2h5m-3-4h5m-4 5h5m-4-3h5m-5 2h5m-5 2h5m-4-1h5m-5-1h5m-4 0h5m-4 1h5m-4 0h5m-5-7h5m-3 6h5m-3 3h5m-4-9h5m-5 1h5m-4 0h5m-4 6h5m-4 1h5m-4 1h5m-5-8h5m-4 3h5m-5 1h5m-4-2h5m-4-2h5m-3 7h5m-5-7h5m-3 2h5m-3 3h5m-5-6h5m-4 3h5m-5-2h5m-4 3h5m-5 3h5m-4-4h5m-4 4h5m-5 1h5m-5-3h5m-4-2h5m-5 6h5m-5-1h5m-4-3h5m-4 2h5m-5-1h5m-5-5h5m-5 2h5m-4-3h5m-5 5h5m-5 2h5m-4-6h5m-4 4h5m-4 3h5m-3-2h5m-3-2h5m-5 3h5m-3-6h5m-5 2h5m-4 0h5m-2 0h5m-4 4h5m-5 1h5m-5-7h5m-3 7h5m-4-7h5m-5 6h5m-4 1h5m-4-8h5m-3 9h5m-4-7h5m-5 7h5m-4-1h5m-5-7h5m-5 8h5m-4-5h5m-5-4h5m-4 7h5m-4-7h5m-3 9h5m-3-6h5m-3-1h5m-4 3h5m-4-3h5m-2 1h5m-4-2h5m-5 7h5m-5-6h5m-3-1h5m-5 5h5m-2-6h5m-4 0h5m-3 5h5m-3 3h5m-5-5h5m-3 5h5m-4-5h5m-5 3h5m-3-1h5m-3 3h5m-4 1h5m-5-8h5m-3 7h5m-3-8h5m-4 3h5m-3 3h5m-5-6h5m-2 2h5m-4 0h5m-4 2h5m4 5h5m-3-9h5m-3 7h5m-5-3h5m4 3h5m9 1h5m16-8h5m-407 16h5m0 3h5m17-3h5m-1-4h5m-3 7h5m-2-8h5m-4 2h5m-4-2h5m-4 3h5m-1 0h5m-4 3h5m0 2h5m-5-6h5m-5-1h5m-4 0h5m-5 7h5m-2-3h5m-5 3h5m-4-9h5m-5 6h5m-5 2h5m-4-7h5m-2-1h5m-4 9h5m-4-4h5m-4 2h5m-5-6h5m-3 3h5m-5 2h5m-4-3h5m-5 6h5m-4 0h5m-5-3h5m-4 1h5m-5-3h5m-4 3h5m-4-6h5m-5 4h5m-4 1h5m-4-4h5m-4-1h5m-3 2h5m-5 1h5m-5 3h5m-4-4h5m-4 2h5m-5 2h5m-4-1h5m-5-1h5m-3-5h5m-5 6h5m-5 2h5m-4 1h5m-5-9h5m-5 6h5m-4-5h5m-5-1h5m-5 4h5m-4-4h5m-5 2h5m-5 2h5m-5 1h5m-5 2h5m-3-5h5m-4-1h5m-5-1h5m-5 3h5m-5 3h5m-5 3h5m-4-8h5m-5 1h5m-4 1h5m-5 3h5m-4-5h5m-5 6h5m-5 1h5m-4 0h5m-5 1h5m-5-6h5m-4 1h5m-5 2h5m-5-3h5m-4 3h5m-5-1h5m-4-4h5m-4 4h5m-5-1h5m-5-3h5m-4 7h5m-5-7h5m-5 2h5m-5 2h5m-4-5h5m-5 5h5m-4 4h5m-5-9h5m-5 4h5m-4-2h5m-4 2h5m-4 4h5m-4-4h5m-4-3h5m-5 4h5m-5 3h5m-5-1h5m-4-5h5m-5 2h5m-4 2h5m-5-3h5m-5-1h5m-4 5h5m-5-7h5m-4 1h5m-5 4h5m-5-1h5m-4 2h5m-5-4h5m-4 0h5m-5 2h5m-4 2h5m-4 2h5m-5 1h5m-4-8h5m-5 3h5m-4 5h5m-5-7h5m-4 0h5m-4 5h5m-4-5h5m-5 3h5m-4-5h5m-5 3h5m-5-1h5m-5 5h5m-4-3h5m-4 2h5m-4 1h5m-4 0h5m-5 1h5m-4-7h5m-5 1h5m-5 2h5m-5 3h5m-4-5h5m-5-1h5m-4 2h5m-4-3h5m-4 7h5m-5-4h5m-3 2h5m-5-1h5m-4 5h5m-5-8h5m-5 2h5m-4-1h5m-3 6h5m-5-3h5m-3-5h5m-5 6h5m-5 2h5m-4-4h5m-4 5h5m-4-4h5m-4 2h5m-5 2h5m-4-9h5m-3 0h5m-5 1h5m-2 4h5m-4 0h5m-3 3h5m-4 0h5m-5 1h5m-4-4h5m-4 0h5m-5-1h5m-5-4h5m-5 9h5m-3-9h5m0 1h5m-1 6h5m-5-5h5m-5-1h5m-4 7h5m-5-1h5m0-6h5m-5-1h5m-2 3h5m-5 1h5m-3-4h5m0 3h5m1 6h5m1-8h5m-2 1h5m-2-1h5m-3 7h5m-5-7h5m-4 8h5m-4-3h5m-1-6h5m-1 2h5m-3 7h5m-2-9h5m-4 4h5m-3-3h5m-5 6h5m-1-6h5m-5 2h5m-4 1h5m-3 3h5m-4 1h5m-4-6h5m-2 1h5m-5 3h5m-5 1h5m-4-3h5m-4-4h5m-2 6h5m-2-3h5m-4-1h5m-5-1h5m-5 3h5m-4 4h5m-4 1h5m-4-9h5m-4 0h5m-4 3h5m-4 0h5m-5 5h5m-3-8h5m-4 8h5m-5-4h5m-4 5h5m-5-8h5m-5 4h5m-4 4h5m-3-3h5m-4-4h5m-3 4h5m0-6h5m-1 1h5m-4 6h5m-4-4h5m-3 2h5m-4 1h5m-5 1h5m-4-7h5m-5 5h5m-4 2h5m-3-4h5m-4 3h5m-4-3h5m-4 3h5m-5 2h5m-4-6h5m-4 2h5m-5 2h5m-2-3h5m-4-3h5m-5 2h5m-3-1h5m-4 4h5m-4 2h5m-4-4h5m-4 2h5m-5 2h5m-4 0h5m-3-6h5m-5 7h5m-4 1h5m-2-2h5m-3-7h5m-3 1h5m-5 1h5m-5 4h5m-4 2h5m-4-7h5m-1 6h5m-3-6h5m-3 6h5m-3 1h5m-4-6h5m-2 3h5m-5 3h5m-5-6h5m-3 2h5m-5 2h5m-4 2h5m-3 1h5m-3-7h5m-3 2h5m-3-2h5m0-2h5m-3 6h5m-5-1h5m3 4h5m3-3h5m-4-4h5m-5 3h5m-4-2h5m-3-1h5m-5 5h5m1-2h5m-4 3h5m-5-5h5m-4 0h5m5 1h5m41-2h5m-390 15h5m-2-2h5m-5 2h5m-3-3h5m-3-1h5m-1-2h5m-4 3h5m-2 0h5m-4-1h5m-3 5h5m-2-3h5m-3 1h5m0 3h5m-4-6h5m-3 1h5m-3 1h5m-5 2h5m-5-4h5m2 3h5m-4-3h5m-5 6h5m-3-7h5m-5-2h5m-5 1h5m-4 4h5m-5 2h5m-5 2h5m-4-3h5m-5-5h5m-4 6h5m-5-5h5m-4-1h5m-5 1h5m-4 0h5m-3 2h5m-5 4h5m-4-3h5m-4-5h5m-5 1h5m-5 4h5m-3-5h5m-4 7h5m-3-5h5m-5-2h5m-4 4h5m-4-3h5m-5 5h5m-4 1h5m-5-1h5m-4-3h5m-5 2h5m-4 3h5m-5-7h5m-4-1h5m-5 1h5m-4 5h5m-5-6h5m-5 2h5m-5-1h5m-4 8h5m-5-9h5m-5 2h5m-5 3h5m-4-2h5m-3 1h5m-4 5h5m-5-5h5m-4 4h5m-5-8h5m-4 3h5m-5-1h5m-5 2h5m-5-3h5m-4 2h5m-4-1h5m-5-1h5m-5 5h5m-3-4h5m-5-1h5m-4 3h5m-5 1h5m-4-2h5m-5 6h5m-5-9h5m-4 0h5m-4 4h5m-5 4h5m-5-3h5m-4 3h5m-5-6h5m-4 3h5m-4-3h5m-4 7h5m-5-5h5m-4-2h5m-4 5h5m-4-6h5m-5 2h5m-5 1h5m-4 3h5m-2-4h5m-5 2h5m-4-2h5m-5 1h5m-4-2h5m-5 2h5m-5-4h5m-3 3h5m-5-3h5m-3 0h5m-4 9h5m-5-4h5m-3 3h5m-5-7h5m-2-1h5m-5 4h5m-2-2h5m-4 1h5m-4 3h5m-4-3h5m-4 5h5m-4-7h5m-3-1h5m-2 0h5m-4 1h5m-5 3h5m-4 4h5m-3 0h5m-4 1h5m-5-4h5m-5 2h5m-4-7h5m-3 1h5m3 4h5m-3-4h5m8 5h5m-3-6h5m-2 2h5m-3 5h5m1-7h5m2 4h5m-2 5h5m-1-1h5m-4-6h5m4 6h5m-5-6h5m-4 7h5m-5-9h5m-2 8h5m0-2h5m-5-5h5m-4 0h5m-4-1h5m-5 5h5m-2 1h5m-2 2h5m-5-7h5m-5 1h5m-3 0h5m-1-2h5m0 4h5m-4-4h5m-4 6h5m-3 2h5m-5-5h5m-3-2h5m-5-1h5m-2 1h5m-4 4h5m-3 0h5m-4 2h5m-4-7h5m-3 5h5m-3-1h5m4 1h5m-5 4h5m-1-7h5m-3 5h5m-5-4h5m-5 1h5m-3 2h5m-5-1h5m-4-2h5m-4-1h5m1 1h5m-5 3h5m-4-3h5m-3-2h5m-5 4h5m-3-4h5m-2-1h5m-4 6h5m-4-4h5m-4 3h5m-2-5h5m7 3h5m-3 2h5m1 3h5m0-7h5m-2 0h5m-4 1h5m-3 5h5m-4 2h5m-1-2h5m-3-3h5m-5-4h5m-3 8h5m2-7h5m-327 10h5m21 1h5m-2 0h5m-4-2h5m-4 2h5m-4-1h5m-5-1h5m-4 6h5m-2-6h5m0 1h5m-5 5h5m-5 2h5m-4-3h5m-3-1h5m-3-2h5m-5 6h5m-4-7h5m6 8h5m-4-6h5m-4-1h5m-5 3h5m-3 4h5m-4-9h5m-5 8h5m-4-8h5m-5 1h5m-4 5h5m-2-5h5m-5 4h5m-5 4h5m-4 0h5m-5-1h5m1-2h5m-3-5h5m-3 1h5m-4-1h5m-3 0h5m-5 7h5m-4-4h5m-5 2h5m-5 2h5m-5-6h5m-5-1h5m-4 2h5m-3-2h5m-4 0h5m-4 5h5m-5-1h5m-4-5h5m-3 2h5m-3-1h5m-5 5h5m-2-6h5m-4 7h5m-3-6h5m-2 0h5m-5 4h5m-4-4h5m-4 2h5m-3-3h5m-5 2h5m-3-2h5m-4 0h5m-4 9h5m-3-4h5m-3-5h5m-3 7h5m-2-2h5m-5-5h5m-4 8h5m-3-6h5m-4 0h5m-2 1h5m-5 4h5m-1-3h5m-5 1h5m0-1h5m-3 0h5m0 0h5m-2 0h5m-5 4h5m-2-5h5m-2-3h5m3 5h5m4-5h5m3 0h5m3 4h5m-3 2h5m-4 1h5m0-2h5m-5 2h5m-3 1h5m-1-3h5m-2-5h5m-2 3h5m0 0h5m-5 2h5m2-5h5m-3 2h5m-4 3h5m-3-4h5m-5 4h5m-2 1h5m2 1h5m-3-2h5m-1-1h5m-4-4h5m-5 3h5m-3-2h5m2 2h5m-3 0h5m1 3h5m-3-1h5m10-2h5m10-3h5m6 4h5m19 2h5m-325 12h5m23-2h5m-5-5h5m-4 6h5m-1-4h5m-4 4h5m4-7h5m0 6h5m-1-6h5m-2 3h5m3-1h5m-4 4h5m-4-1h5m-3-2h5m-5 2h5m2-3h5m1 1h5m-5 6h5m-4-6h5m0 2h5m-4-4h5m-5 1h5m-1-2h5m-4 0h5m-5 3h5m-5 2h5m-3-5h5m-5 4h5m-5 4h5m-4 0h5m-5-7h5m-2-1h5m-5 3h5m-4 1h5m-3 1h5m-5-5h5m-3 6h5m-4 3h5m-2-6h5m-2-1h5m0 4h5m-4-2h5m-3-3h5m1 6h5m0-6h5m-4 0h5m4 5h5m-1-4h5m-4-2h5m18 8h5m22-1h5m-2-2h5m-2-4h5m6 6h5m3-5h5m-4 4h5m6-3h5m10 6h5m8-7h5m26 0h5m-1 2h5m-303 11h5m24-4h5m-1 3h5m-1-1h5m-4 0h5m-2-2h5m-3-1h5m-4 1h5m-1 2h5m-4 1h5m-3 1h5m-2-3h5m7-1h5m3 8h5m-3-4h5m-2 2h5m-2-3h5m-3 0h5m-3-4h5m-5 3h5m0 1h5m-1-3h5m0 0h5m-4 5h5m-5-3h5m-1-3h5m-5 4h5m9-3h5m-1 6h5m34-5h5m-3-2h5m11 7h5m9-6h5m3 1h5m1 6h5m16-8h5m4 8h5m-2-4h5m-277 12h5m36-4h5m-1 6h5m12-1h5m14 2h5m40-4h5m-2-4h5m24 2h5m-5 2h5m3 1h5m19-4h5m12-1h5m12 4h5m21 0h5m13 5h5m-155 12h5" stroke="#000" stroke-width="5" stroke-opacity="0.95" fill="none"/>
<path transform="scale(.1)" d="M3523 1317h5m103 14h5m-122 13h5m72 1h5m-138 34h5m124-4h5m10-2h5m192 5h5m33-8h5m69 5h5m-430 5h5m81 3h5m12 6h5m9 0h5m32-9h5m22 9h5m78 0h5m140-6h5m-382 7h5m45 3h5m28-2h5m7 1h5m23-1h5m33 1h5m16 5h5m127 0h5m-333 9h5m31-3h5m5-1h5m67 6h5m26-8h5m5 4h5m-2 1h5m5 3h5m16-1h5m56-7h5m6 3h5m-1-2h5m5 8h5m18-6h5m22-2h5m-377 13h5m25 3h5m38-6h5m17 6h5m36-1h5m3-1h5m-1-4h5m-5 8h5m21-7h5m11 5h5m6-3h5m-4 5h5m-3-9h5m0 4h5m-2 0h5m3-2h5m-1 1h5m10 6h5m11-7h5m10 5h5m64-2h5m86 1h5m-435 9h5m18-5h5m20 9h5m22-4h5m32-4h5m0 7h5m2-5h5m2 3h5m0-4h5m-5 4h5m30-1h5m-5 4h5m-3-8h5m17 5h5m0-4h5m-1 0h5m6-2h5m3 3h5m0-3h5m-1 9h5m10-1h5m2-3h5m9-3h5m2 0h5m0 7h5m3-2h5m8 0h5m2 1h5m13 1h5m3-8h5m3 5h5m2 1h5m82 0h5m-400 12h5m4-4h5m-3-4h5m-4 3h5m44-1h5m0-3h5m3 5h5m-4-2h5m8 1h5m-2-1h5m-2 4h5m2-3h5m-3-3h5m-4 2h5m0 0h5m-3 5h5m12 0h5m1-8h5m16 9h5m1-4h5m-3 3h5m-2-8h5m18 8h5m-4-6h5m-4 6h5m-4-7h5m0 0h5m-3 0h5m5 1h5m3 7h5m20 0h5m-3-7h5m-1 2h5m4 2h5m10 2h5m1-5h5m-1 0h5m27 2h5m2-4h5m61 5h5m-1-5h5m107 4h5m-498 14h5m-4-2h5m-3-3h5m2 1h5m16-1h5m2 3h5m-3 0h5m-2-6h5m0 8h5m17-7h5m4 0h5m7-2h5m0 8h5m7-5h5m-3 3h5m-4-3h5m0-2h5m-5-1h5m-2 7h5m-1 1h5m-4-8h5m4 9h5m0-2h5m-4-3h5m-1-1h5m1-3h5m0 0h5m-3 2h5m5 2h5m1 1h5m4-4h5m-3 0h5m-3 2h5m-4 5h5m18 1h5m15-3h5m-3-3h5m1-3h5m5 6h5m-3-1h5m-3 3h5m8 0h5m-2-7h5m15 3h5m17-4h5m-325 11h5m14 8h5m-2-4h5m33 4h5m0-5h5m7 3h5m-4 2h5m24-6h5m-3 5h5m-2-7h5m0 2h5m4 4h5m2 2h5m-2-9h5m-3 3h5m-2 4h5m-4-5h5m-1 6h5m-3-2h5m-4 0h5m-2-4h5m0 2h5m-4-2h5m-1 6h5m-2-3h5m-5-5h5m-4 6h5m0 2h5m-3-7h5m-3 4h5m7-2h5m-4 6h5m-2-1h5m-4 0h5m-4-7h5m-5 8h5m-4-5h5m0 1h5m-4 0h5m-5 4h5m-5-1h5m-1 1h5m-4-8h5m0-1h5m-3 4h5m-3 3h5m-5-1h5m-2-5h5m-1-1h5m-5 8h5m-2-8h5m-2 9h5m-5-3h5m6-6h5m6 4h5m1 1h5m13 4h5m-4-7h5m-5 6h5m1-4h5m5-4h5m4 9h5m4-5h5m16 1h5m15-3h5m-1 0h5m-1 7h5m-412 3h5m11 7h5m3-1h5m1-3h5m-3-1h5m13-3h5m-3 1h5m21 6h5m5-5h5m-3-1h5m-2 7h5m-4-9h5m-1 3h5m-3 2h5m-4 4h5m-4-6h5m-4-2h5m-1 5h5m2 0h5m-2-5h5m-3 6h5m-1 1h5m-3-5h5m-2 2h5m-4 0h5m0 2h5m0-2h5m-5-1h5m-4-1h5m36 2h5m6-3h5m-5 4h5m-4-5h5m-3 2h5m-1 5h5m3-8h5m-1 1h5m-1 5h5m1 1h5m-5-5h5m-3 2h5m-2-4h5m1 7h5m-3-6h5m-4 1h5m-2 6h5m6-8h5m1 4h5m-4-2h5m3 7h5m-3-4h5m-3-4h5m17 5h5m-2-6h5m-2 9h5m6-7h5m-3 1h5m0 6h5m-4-3h5m4-1h5m-2 1h5m-1 3h5m2-5h5m9 3h5m3-7h5m14 5h5m2-5h5m5 3h5m-2 6h5m25-9h5m-400 12h5m8 7h5m-2-8h5m14 2h5m4 2h5m-3 1h5m-3 1h5m-4-5h5m6 7h5m21 0h5m-2-1h5m-3-3h5m0 3h5m-3-4h5m1-4h5m-3 3h5m-4 6h5m8-1h5m2 0h5m-3-7h5m-3 6h5m7-6h5m4 3h5m-2 1h5m10 1h5m0-3h5m-2-3h5m2 1h5m-2 8h5m-3-2h5m-3-7h5m-2 3h5m2 5h5m-1-2h5m-2 3h5m-4-8h5m-1-1h5m4 8h5m-3-4h5m-4-3h5m7 2h5m1 1h5m1 1h5m-1 0h5m-5-5h5m8 9h5m-3-8h5m6-1h5m4 4h5m12 1h5m6-4h5m-3 5h5m-5-2h5m8 5h5m17-5h5m19-1h5m-402 7h5m44 1h5m2 4h5m14 0h5m-4-2h5m-2 0h5m12 3h5m0 1h5m-1 0h5m-2-5h5m3 7h5m-2-4h5m8-1h5m2 2h5m-5-1h5m-2-3h5m-1 0h5m-1 4h5m16-6h5m-5 9h5m-2-7h5m0 7h5m-3-1h5m1-5h5m-2-1h5m2 1h5m2-3h5m5 3h5m2 2h5m-4-3h5m-2 3h5m1 4h5m4-6h5m-5 3h5m3-2h5m5 1h5m-3-3h5m-4-2h5m1 7h5m1 0h5m-5-7h5m0 3h5m2 6h5m-4-5h5m-2-1h5m9 5h5m-5-6h5m8-2h5m0 3h5m54-1h5m1 1h5m24-2h5m-426 18h5m5-9h5m18 3h5m-5 5h5m7-7h5m19 8h5m-3-4h5m6 3h5m-4 0h5m6-2h5m4-5h5m4 1h5m5 2h5m4 0h5m0 0h5m-4 1h5m-4-1h5m3 4h5m5-1h5m-2 2h5m4-8h5m-3 3h5m3 5h5m0-1h5m-2-4h5m-4-1h5m-5 3h5m9-5h5m2 1h5m-4 0h5m2 5h5m-4-5h5m-2 5h5m-1-6h5m2 2h5m11 0h5m-4-2h5m-2 4h5m-5 4h5m-2-8h5m-5-1h5m-5 9h5m0-3h5m-1 3h5m0-9h5m1 1h5m-5 8h5m-3-6h5m-2 2h5m2-2h5m3 4h5m-3 2h5m7-4h5m-2 3h5m-2 0h5m12-1h5m0-5h5m-1 3h5m-4-2h5m10 0h5m47-1h5m8 7h5m24-2h5m-438 8h5m12-3h5m-5 3h5m-2-4h5m-4 1h5m0-1h5m0 4h5m9-2h5m13 1h5m12-1h5m3-3h5m1 2h5m2 4h5m-5-6h5m14 8h5m-1-6h5m-2 3h5m-5-1h5m2-3h5m4 7h5m8-1h5m-2-6h5m-2 6h5m-4-7h5m-1 6h5m-4 2h5m2-8h5m-2 9h5m-4-2h5m0-4h5m-2 6h5m0-9h5m1 3h5m-1 2h5m-4-5h5m3 6h5m-5 3h5m-4-4h5m-1 1h5m-3-6h5m-2 0h5m-4 4h5m-5 4h5m-1-7h5m-3 5h5m1 3h5m-5-7h5m-1 2h5m8-1h5m23 1h5m5 5h5m-4-5h5m4-4h5m13 0h5m-3 1h5m3 8h5m-2 0h5m78 0h5m-2-8h5m14 4h5m66 3h5m-536 6h5m47-4h5m0 4h5m9 2h5m-1 1h5m17-6h5m10 4h5m7-4h5m9 4h5m-1-4h5m-4 1h5m2 0h5m4 7h5m15-4h5m0 4h5m-4-2h5m-5-5h5m-1 5h5m7-7h5m0 0h5m-2 3h5m0 1h5m0 4h5m9 0h5m7-5h5m-3-3h5m16 4h5m4-4h5m3 8h5m6-4h5m3 5h5m-2-4h5m-4 1h5m44 0h5m18-2h5m-4 5h5m-4-8h5m5-1h5m5 9h5m7-6h5m-388 12h5m23-2h5m-4 5h5m-5-7h5m22 1h5m10 5h5m7-7h5m21 5h5m3 3h5m5 1h5m-3-9h5m1 8h5m-4-5h5m-4 5h5m-3-5h5m-4 2h5m0-2h5m5 1h5m-2 0h5m-1-1h5m-5 2h5m2-3h5m-3 1h5m1 0h5m2 1h5m1-4h5m4 5h5m-4-3h5m19 1h5m-4-3h5m0 6h5m20-1h5m3-2h5m-1 2h5m24 1h5m53-5h5m-2 6h5m5 2h5m93-7h5m-486 11h5m28-3h5m79 7h5m-4-7h5m-1 0h5m2 7h5m3-2h5m-1 3h5m4-4h5m-3 3h5m0-7h5m12 3h5m11 3h5m-4 3h5m2-1h5m2 1h5m-3 0h5m3-7h5m3 1h5m-3 4h5m5-6h5m10 0h5m-3 1h5m3 2h5m-4 1h5m15-3h5m14 4h5m-5 2h5m9 0h5m0-4h5m-4-2h5m5-2h5m36 3h5m16 4h5m-368 10h5m17-5h5m26 7h5m5-3h5m7-6h5m38 4h5m19-3h5m-3 7h5m2-8h5m-3 3h5m10-2h5m13 1h5m8 1h5m18-2h5m7 5h5m-4-1h5m20 3h5m-2-4h5m-5-2h5m12 3h5m8-5h5m7 5h5m-314 10h5m-3-3h5m80 6h5m37-7h5m10 1h5m34 7h5m-5-6h5m6-2h5m55 8h5m-1-4h5m23-1h5m18-1h5m57 4h5m47-3h5m-458 7h5m43-1h5m24 2h5m34 2h5m36-1h5m71 3h5m5-6h5m5 9h5m-165 7h5m3 3h5m146-2h5m71 0h5m19 2h5m-280 1h5m11 3h5m90-2h5m12 3h5m28 4h5m61-4h5" stroke="#000" stroke-width="5" stroke-opacity="0.5" fill="none"/>
<path transform="scale(.1)" d="M3660 962h5m86 13h5m-72 22h5m-3 1h5m3-7h5m125 7h5m-104 11h5m152-4h5m-200 20h5m14 0h5m-3-3h5m6 2h5m21-3h5m-88 14h5m28-3h5m50 1h5m3 6h5m7 0h5m-132 6h5m1-1h5m-4-3h5m-2 2h5m19 3h5m20-6h5m4 3h5m23 0h5m-1 3h5m3 1h5m63-7h5m39 0h5m-253 10h5m1 4h5m38 0h5m10 2h5m24 2h5m26-3h5m-1 2h5m0-5h5m1 0h5m0 5h5m17 1h5m-1-7h5m-234 13h5m95 4h5m23-8h5m2 8h5m2-8h5m2 9h5m3-2h5m4-1h5m5 2h5m-5-6h5m7 5h5m11-4h5m-4 6h5m20-4h5m42 3h5m1-4h5m97 5h5m-317 4h5m-3-2h5m5 2h5m9 6h5m22-8h5m4 5h5m-3-1h5m1-4h5m8 4h5m8-4h5m16 1h5m8 3h5m10 2h5m20 0h5m0-1h5m20 0h5m-5-1h5m21 2h5m-3-1h5m-304 7h5m66 3h5m7-5h5m34-1h5m11 9h5m7-4h5m1-3h5m4 3h5m9 2h5m-2 2h5m1-3h5m12-5h5m1 7h5m13-3h5m0 0h5m1 3h5m4-8h5m-194 16h5m-1 3h5m5-3h5m21-6h5m6 4h5m-3 0h5m1 4h5m12 1h5m12-3h5m14-5h5m5-1h5m-5 8h5m19-4h5m16 2h5m4 0h5m-5-1h5m-4 4h5m-3-5h5m17 0h5m16 2h5m16-6h5m-254 13h5m32 6h5m-2-2h5m-3 2h5m9-1h5m-2-7h5m2 8h5m6-9h5m7 7h5m-3 2h5m4-1h5m-2-7h5m1 2h5m6 0h5m-4-3h5m11 5h5m1 1h5m-5-2h5m8 3h5m-4-1h5m14-6h5m-4 8h5m0-2h5m-2 1h5m-4 2h5m-3 0h5m2-7h5m-2-2h5m0 5h5m8-4h5m35 3h5m-1 3h5m24-2h5m-257 8h5m25-2h5m9 7h5m1 0h5m3-8h5m3 1h5m6 0h5m-5 6h5m-4-7h5m1 3h5m-5-1h5m2 4h5m-4 3h5m-4-8h5m-4 7h5m0 0h5m-4-8h5m-3 8h5m-3-4h5m-3-4h5m-3 8h5m3 1h5m-3-4h5m-2-1h5m-4 5h5m20-5h5m-5 4h5m16-6h5m45-2h5m-290 11h5m41 3h5m1 1h5m-3 4h5m5-6h5m6 3h5m8-6h5m0 5h5m-1 0h5m-3-2h5m2-1h5m-2 5h5m-5-6h5m4 6h5m3-4h5m-2-2h5m0 4h5m0-4h5m1 7h5m-2-8h5m3 4h5m-3-2h5m-5 4h5m-4 2h5m-5-6h5m-4 3h5m5 3h5m-1-1h5m6-7h5m0 4h5m10-1h5m2-1h5m2 6h5m-3-2h5m16-3h5m-5 4h5m9-4h5m2 2h5m33-3h5m-293 10h5m22 2h5m9 1h5m-3 2h5m1 0h5m-2 0h5m0-4h5m-3-2h5m-1 4h5m-5-3h5m6-2h5m-5 7h5m2-2h5m-5-1h5m3 3h5m-5-1h5m3 1h5m0-7h5m-3 2h5m-4 5h5m3-6h5m-5 4h5m9-1h5m-1-3h5m-4 0h5m-5 4h5m0 3h5m7 0h5m-2-8h5m-4 9h5m5-9h5m1 9h5m3-1h5m4 0h5m3-5h5m-4-3h5m-1 0h5m-1 7h5m-5-7h5m-2 9h5m20-3h5m14 2h5m15 0h5m3-6h5m-273 15h5m-2-5h5m17 3h5m24 3h5m-1-1h5m13 0h5m0 2h5m0 0h5m-3-1h5m-2 1h5m7-3h5m5 1h5m-2 0h5m7 1h5m-4-4h5m14-2h5m-3-1h5m2 5h5m6 1h5m-2-1h5m2-6h5m-5 8h5m-2-5h5m0 2h5m-5-4h5m8-1h5m11 0h5m47 0h5m54 0h5m-294 17h5m8-6h5m20 6h5m-2-6h5m-5 5h5m-3 2h5m-3-3h5m1-1h5m2 4h5m-4-6h5m2 2h5m-4-4h5m-3 8h5m-4-3h5m0-2h5m-3 0h5m-1-1h5m-2 1h5m3 0h5m0 2h5m-2-5h5m-1 6h5m7-2h5m-2 5h5m3-3h5m-4 2h5m-1-5h5m11 3h5m-5 3h5m0-2h5m4-6h5m2 0h5m11 3h5m-266 11h5m18 0h5m28 3h5m6-2h5m-2-4h5m-4 7h5m8-1h5m-4-4h5m-4 0h5m-2 1h5m2-1h5m-4 1h5m-3 3h5m-4-8h5m-3 1h5m-5 4h5m6 2h5m2-5h5m4 4h5m-1 2h5m-4-7h5m-2 8h5m-3-1h5m-2-4h5m-2 5h5m8-8h5m-5 3h5m-3 4h5m-3 0h5m-4 0h5m0 1h5m-4-5h5m-4 1h5m-3 4h5m-5-6h5m1-2h5m-3 3h5m-3-2h5m-3 3h5m-4 2h5m-2-3h5m0-4h5m-3 3h5m0 6h5m2 0h5m-1-8h5m1 8h5m-2-7h5m-1 5h5m-4-4h5m-2 6h5m-3 0h5m1-8h5m-1 5h5m8-6h5m30 3h5m-308 11h5m24-4h5m18 3h5m10-2h5m-4-1h5m15 3h5m4 4h5m-1-3h5m-1-2h5m-5 4h5m3-5h5m-1 2h5m3 1h5m-3 3h5m-1-6h5m-3 8h5m-5-1h5m-3-8h5m-5 5h5m-4 2h5m0-3h5m-1 2h5m-3 1h5m-4-4h5m-5 2h5m-5-5h5m-1 7h5m1-3h5m-2 5h5m-4-2h5m-1-4h5m-3 1h5m-3-3h5m0 8h5m0 0h5m3-1h5m-4-1h5m-2 1h5m-5-1h5m-1-5h5m-5 4h5m6-5h5m-2 1h5m-4 3h5m1-1h5m-3 3h5m-1 0h5m-4 2h5m-1-1h5m-3-5h5m0 3h5m-4-1h5m3 1h5m-4-1h5m-4-5h5m83 9h5m42-6h5m-333 8h5m36-1h5m-2 9h5m1-9h5m6 5h5m5-1h5m-1 5h5m-1-8h5m3 8h5m1-2h5m-2-1h5m-2 3h5m-5-1h5m-3-3h5m0-3h5m0-2h5m0 6h5m-2 0h5m9 2h5m-3-4h5m1 2h5m-5-2h5m-3 5h5m4-9h5m-1 5h5m-4 2h5m-2-5h5m1 1h5m-5 2h5m-2-3h5m-4 4h5m13-1h5m-3 4h5m-2-8h5m-5 7h5m0-8h5m6 1h5m-3 2h5m16 6h5m-4-5h5m7 3h5m-287 6h5m7 1h5m56 2h5m5-3h5m-4 3h5m-5-6h5m5 6h5m-1-1h5m2 0h5m-3-5h5m-4 3h5m4-1h5m-4 5h5m-2-7h5m1 5h5m5-3h5m2-2h5m-5 9h5m-4 0h5m-5-7h5m-1 3h5m-2-2h5m-2 1h5m-3 4h5m-3-8h5m-3 7h5m5-4h5m1 6h5m-1-2h5m4 1h5m-3-1h5m-1-6h5m1 5h5m-3-3h5m8-3h5m-3 7h5m2-1h5m-5 3h5m0-3h5m3 2h5m-4-7h5m-1 7h5m8-5h5m1 4h5m-2 1h5m23-7h5m5 8h5m-315 7h5m58-2h5m8 5h5m-1-6h5m13 3h5m-4 3h5m-1-1h5m-3 0h5m1-8h5m4 1h5m-3 1h5m-3 3h5m-5-4h5m0 4h5m2 2h5m-3-2h5m9-3h5m-2-1h5m-2 7h5m0 1h5m3-1h5m-3-1h5m-4-3h5m-1-1h5m-1-1h5m-3 3h5m-3-4h5m4 3h5m1-1h5m-2 2h5m4-2h5m-4-1h5m0 7h5m-4-9h5m-5 2h5m2 6h5m-1-8h5m-4 4h5m-2-4h5m4 9h5m10-1h5m39-4h5m-308 9h5m53-1h5m-4 6h5m13-6h5m8 0h5m5 4h5m-5 1h5m-3-2h5m-1 1h5m-5 1h5m-2-7h5m-2 7h5m-3 2h5m-4-5h5m-3 1h5m-5 3h5m1-3h5m4 1h5m-2-1h5m-4-3h5m-3 4h5m-5-3h5m0 0h5m-2-3h5m-4 2h5m-4 1h5m-5 2h5m3-3h5m-3 0h5m-2-2h5m-3 1h5m8 2h5m0-3h5m-5 4h5m-4-2h5m-1 0h5m-5-2h5m-5 9h5m-1-8h5m-3 3h5m0 3h5m-2-3h5m-5-1h5m0-1h5m-5 7h5m1-7h5m7 4h5m1 3h5m3-4h5m0-4h5m-1 4h5m-2 3h5m-5-5h5m14 4h5m3-4h5m-286 16h5m68-6h5m-4 5h5m3-5h5m-4 6h5m19-4h5m-2 1h5m7 2h5m-4-6h5m-4 6h5m4-7h5m-1 7h5m5 1h5m-4-5h5m-2 5h5m-4-9h5m2 0h5m0 4h5m-2 5h5m-4 0h5m-1-8h5m-5 4h5m-3-3h5m-4 7h5m-4-2h5m-1 1h5m-3-8h5m-5 7h5m0-2h5m-5-4h5m-4 5h5m-4 3h5m7-1h5m-1-2h5m0-1h5m-5-1h5m0-2h5m-5 4h5m-4 3h5m1-2h5m-1-4h5m-1 3h5m-1 2h5m-3-3h5m-5 4h5m3-8h5m2 4h5m2-1h5m1 3h5m-5-6h5m8 8h5m23-9h5m9 4h5m1-2h5m-2 3h5m7-2h5m-372 10h5m94-2h5m10-1h5m7 7h5m-5 2h5m-1-3h5m-4-4h5m-5 4h5m4-3h5m2 0h5m-3 4h5m4-6h5m6 2h5m-4-1h5m2 3h5m2 0h5m3-2h5m-2 6h5m-2-1h5m-4-7h5m-1 7h5m-5-7h5m-1 6h5m-5-3h5m-3-4h5m-2 0h5m-3 9h5m-4-4h5m-3-3h5m-5 4h5m-4-1h5m-3-5h5m-3 2h5m13 3h5m18 2h5m42 2h5m-4-1h5m-3-5h5m-248 8h5m19 3h5m21-4h5m3 6h5m-3-4h5m2 4h5m14 0h5m2 3h5m-4-3h5m-3-6h5m-3 5h5m-2-2h5m-4-1h5m-4-2h5m-3 6h5m-3-2h5m-4 2h5m-1-4h5m-1-1h5m-4-1h5m-1 4h5m-1 5h5m-5-5h5m-4 2h5m1-5h5m-5 6h5m2-2h5m-1 2h5m-5-1h5m-2-3h5m-4-2h5m-1 3h5m2 2h5m-4 1h5m-2-2h5m-3 3h5m-3 0h5m6-6h5m-4 3h5m2-5h5m-5 1h5m7 3h5m3 5h5m-4-7h5m7 3h5m7-2h5m-2 6h5m-4-9h5m17 7h5m11 1h5m15-7h5m-5 4h5m68-2h5m-374 14h5m0 0h5m6-4h5m-3 0h5m12-3h5m3 0h5m6 9h5m-2 0h5m-4-4h5m-3-4h5m7 4h5m-1 4h5m-3 0h5m0-4h5m-2 0h5m-1 1h5m-5-1h5m-4 4h5m-4-3h5m6-4h5m0 4h5m-2-1h5m-2-5h5m-4 1h5m1 0h5m-2 3h5m1 3h5m2-2h5m-4 0h5m1 0h5m3-5h5m-5 4h5m-2-4h5m-1 4h5m1-4h5m-3 6h5m0-1h5m-2-4h5m-4 3h5m5-3h5m-3 2h5m-3 5h5m-4 1h5m-1-6h5m-3 2h5m-1 2h5m2-5h5m-1 4h5m-4 3h5m-1-7h5m-1 5h5m0-6h5m5 4h5m5 0h5m9 3h5m-5-1h5m25-4h5m-330 15h5m35-4h5m24-3h5m-3 2h5m-1 5h5m-2-2h5m6-2h5m8-1h5m2 3h5m-4-6h5m3 5h5m-2 1h5m-3-3h5m-4 6h5m0-1h5m-1-2h5m-2 3h5m-5-2h5m-4-6h5m-4 2h5m-3-2h5m-1 7h5m-2-2h5m-2-3h5m0 2h5m-5-5h5m2 3h5m-4 2h5m0 0h5m-4 1h5m0-4h5m4 4h5m-1-2h5m5-3h5m4-1h5m-2 3h5m2 2h5m-1 4h5m4 0h5m-5-6h5m21 6h5m17-5h5m1 3h5m-238 7h5m-3 1h5m17-4h5m5 8h5m1 0h5m4 0h5m0-7h5m-3-2h5m-3 8h5m-3-7h5m2 3h5m-2 0h5m-4 0h5m10-3h5m-1-1h5m3 6h5m-1 2h5m-4-3h5m-3 4h5m-4-9h5m-3 8h5m3-8h5m-5 6h5m-2 1h5m11-2h5m-3-2h5m-1-2h5m-1-1h5m6 9h5m-1 0h5m6-2h5m-5-2h5m5-5h5m-3 8h5m-4 0h5m17-6h5m-3 0h5m7 5h5m-313 9h5m51-5h5m32 7h5m17-4h5m2 3h5m7-2h5m-1-3h5m-4 4h5m1-4h5m8 3h5m-4-1h5m1-3h5m12 1h5m-4 2h5m19-1h5m-3-2h5m-5-1h5m22 8h5m-5-8h5m-4 2h5m-4 4h5m-2-5h5m5 8h5m2-6h5m-2 5h5m-3-4h5m4 2h5m10-3h5m61 2h5m-321 8h5m-1 2h5m76-5h5m-4 8h5m15-5h5m12 3h5m-2 0h5m24 2h5m-3-7h5m7 1h5m1-1h5m4 2h5m15 2h5m-4 2h5m12-1h5m2-4h5m3 0h5m5 0h5m0-2h5m1 3h5m5 2h5m28 4h5m-4-9h5m-257 18h5m4 1h5m7-8h5m20 3h5m-1 2h5m15 3h5m-1-7h5m-5-2h5m20 1h5m8 6h5m-2-3h5m-5-2h5m-1 3h5m-5-1h5m-5-1h5m-3 4h5m2-6h5m7-1h5m7 0h5m-3 6h5m11 2h5m-1-5h5m-5 2h5m-1-4h5m-4 4h5m3 0h5m29-3h5m0 5h5m-258 3h5m5 5h5m30-2h5m1 1h5m-1 3h5m-2-5h5m26-2h5m-5 2h5m-3 0h5m-2-2h5m-3 5h5m4-1h5m-4-1h5m-4 6h5m-2-9h5m2 8h5m-1-4h5m-2 3h5m-2-5h5m-2 4h5m2 0h5m-4-3h5m-1 3h5m-5-1h5m6-5h5m-3 3h5m3 4h5m5-7h5m4 9h5m-1-6h5m-4 6h5m5-5h5m-3 1h5m-2-3h5m11 5h5m-3-6h5m13 5h5m26-1h5m-254 6h5m40 2h5m-1 5h5m18-6h5m13 2h5m13-3h5m4 0h5m15 2h5m-3 1h5m-2 3h5m11-3h5m-4 3h5m1 1h5m5 0h5m2-6h5m7 2h5m-177 15h5m-3-6h5m5 6h5m-5-1h5m20-7h5m-2 3h5m18 0h5m-3-1h5m-3-1h5m-3 3h5m1-1h5m-2 3h5m28 2h5m1-1h5m1-5h5m-5 4h5m0-3h5m-5 4h5m8-7h5m31 7h5m-183 5h5m38 4h5m0 2h5m-1-9h5m-4 8h5m3-4h5m2 2h5m47-2h5m10-1h5m53-1h5m-186 10h5m13 4h5m1-6h5m9 1h5m31 5h5m8-6h5m3 6h5m9-5h5m-3 7h5m-3-1h5m7-4h5m-88 11h5m12 4h5m11 1h5m22-6h5m8 4h5m52-6h5m-3 0h5m37 2h5m0-1h5m-277 10h5m-5-2h5m1 6h5m53 1h5m22 0h5m-2-7h5m2 3h5m2 3h5m33 1h5m4-7h5m48 8h5m14-1h5m-217 8h5m8-3h5m15 0h5m32 0h5m26 7h5m36-5h5m-2 2h5m13 2h5m59-8h5m-159 18h5m46-8h5m74 2h5m22-1h5m-185 18h5m28-7h5m28 2h5m51-1h5m-159 7h5m81 5h5m109-4h5m-162 9h5m64 5h5m19-2h5m28-1h5m-194 15h5m39-3h5m56 11h5m79 22h5m10 10h5" stroke="#000" stroke-width="5" stroke-opacity="0.5" fill="none"/>
<path transform="scale(.1)" d="M3566 988h5m2-8h5m-7 14h5m-41 11h5m22 0h5m-9 24h5m10-1h5m-2-1h5m-21 11h5m21-3h5m15-4h5m-113 18h5m23-2h5m25-1h5m3 1h5m-105 5h5m77 4h5m11-2h5m31 2h5m24 2h5m-157 5h5m22 5h5m44-4h5m-4 2h5m-4-4h5m-1-1h5m49 5h5m-91 7h5m9-1h5m25 0h5m9 7h5m1-9h5m-91 10h5m16 2h5m6 7h5m-5-8h5m2 7h5m24-2h5m19-2h5m80 4h5m-195 4h5m0-2h5m6 8h5m31-7h5m17 3h5m5 1h5m23 3h5m9-2h5m6-3h5m26 6h5m-169 7h5m15-3h5m-4 6h5m12-5h5m24 0h5m-3 4h5m18-8h5m-3 0h5m-4 0h5m32 6h5m-128 12h5m10-7h5m6 1h5m28 5h5m3 2h5m11-4h5m22 4h5m5 0h5m-1-9h5m12 7h5m-192 3h5m55 4h5m-3 3h5m-3 2h5m35-1h5m16-3h5m-5 3h5m-4-6h5m1 2h5m-4-2h5m3 7h5m-5-5h5m10 2h5m-1-4h5m-164 15h5m59 1h5m7-6h5m9 0h5m-3 6h5m3 0h5m1 1h5m-1-4h5m0 2h5m0-5h5m4 6h5m9-1h5m12-3h5m-1 1h5m-112 14h5m20-2h5m-2-4h5m-5-2h5m4 4h5m3 2h5m21 2h5m9-4h5m-2-4h5m-3 6h5m2-7h5m-150 17h5m20-6h5m16 3h5m-3-3h5m12 3h5m-2 5h5m-3-5h5m-2 1h5m-4 2h5m-2-2h5m-5-1h5m1-3h5m1 5h5m-4 0h5m-3 2h5m-4-6h5m-2 4h5m0 0h5m-2 0h5m-5 2h5m-4-1h5m43 2h5m12-4h5m8 3h5m25-1h5m-223 7h5m24 3h5m10 1h5m-4-1h5m3-1h5m-4 0h5m-1-5h5m-3-1h5m0 1h5m-2 8h5m-2-3h5m-3 0h5m11 3h5m-3-8h5m6 5h5m-4-1h5m-4 3h5m6-6h5m2 4h5m-4-2h5m-4-4h5m0 2h5m12 4h5m2-2h5m10-4h5m-1 0h5m1 9h5m-146 3h5m4-1h5m3 6h5m-4-1h5m-4-5h5m4 3h5m25 0h5m1 2h5m2-3h5m8-1h5m-4 6h5m-4-2h5m-3-6h5m6 7h5m0-6h5m-1 8h5m14-4h5m1-1h5m3 2h5m0-6h5m2 1h5m-144 9h5m-1 4h5m-5 3h5m3-5h5m-1 7h5m-4-3h5m0 3h5m-2-2h5m7-4h5m9 4h5m-3-2h5m-1-2h5m0 1h5m4-1h5m6 1h5m-5 3h5m6-2h5m6 1h5m-153 10h5m7 1h5m3-2h5m25-1h5m9 2h5m20-2h5m-4 1h5m3-3h5m0 4h5m-5-2h5m-1 0h5m-3 2h5m-1-5h5m26 3h5m-1 3h5m-4 2h5m13-8h5m-160 12h5m-2 4h5m34-6h5m9-1h5m-4 3h5m1 2h5m-3-1h5m8 0h5m-2 2h5m0 1h5m-4-6h5m0 5h5m1 0h5m5-1h5m-1 1h5m5-2h5m-2 1h5m7-3h5m2-2h5m8 1h5m2 1h5m-153 11h5m-2 1h5m11-1h5m-3 6h5m8-6h5m2 4h5m-3-5h5m-3-1h5m-1 6h5m2-5h5m-2 5h5m1-4h5m3 6h5m-1-2h5m3-3h5m26 5h5m10 0h5m-5-1h5m-5-7h5m-3 0h5m-2 6h5m-4-4h5m4 4h5m-186 10h5m43-7h5m0 1h5m30-1h5m-4 8h5m-4 1h5m-4-7h5m3 7h5m9-9h5m-1 2h5m-1 6h5m5-5h5m6-3h5m2 2h5m0 3h5m1-5h5m1 9h5m-5-6h5m22-3h5m-4 5h5m-199 11h5m69 0h5m11 1h5m6-2h5m-3 4h5m-1-8h5m-2-1h5m-1 6h5m2 0h5m8 3h5m-5-5h5m8 4h5m0 0h5m-5-8h5m-3 3h5m5 3h5m23 1h5m-161 11h5m22-4h5m13 2h5m-5 2h5m1 0h5m-5-4h5m0-4h5m-4 6h5m-2 3h5m-4-9h5m-1 7h5m3 2h5m2-2h5m8-4h5m28 3h5m-2-5h5m41 7h5m-179 9h5m-3 0h5m3 2h5m6-4h5m-1 1h5m0-6h5m1 5h5m-3-2h5m5 3h5m-4-2h5m-4 2h5m-1-6h5m-4 0h5m5 0h5m-3 3h5m-4 6h5m-3-5h5m-2 1h5m-5 4h5m-2-9h5m4 0h5m-2 1h5m0 7h5m-4-2h5m-4-3h5m-3 1h5m-2 4h5m-1-4h5m20-4h5m1 7h5m10 0h5m-176 9h5m1 0h5m1-2h5m23-2h5m15 0h5m18-2h5m10 2h5m-1 6h5m16-7h5m-5 8h5m-4-3h5m1 0h5m-2-2h5m8-3h5m0 0h5m19 4h5m-146 8h5m20 4h5m0-1h5m-3 2h5m2-1h5m1-4h5m7 2h5m16-5h5m-5 7h5m1-4h5m-1 4h5m-2-4h5m-4 6h5m10-1h5m12-3h5m-3 3h5m37-4h5m-167 13h5m-5 2h5m4-7h5m16 0h5m0 6h5m-1 1h5m22-8h5m-3 5h5m-4-3h5m-1-3h5m0 9h5m-3-7h5m-1 4h5m-4 2h5m-5-1h5m8 2h5m-3-3h5m-4-3h5m-3 3h5m15 3h5m15-7h5m-144 16h5m21-2h5m4 3h5m0-1h5m-4-1h5m12 0h5m10-4h5m-105 13h5m20 0h5m7 1h5m25-4h5m-2 4h5m0-6h5m5 8h5m69-9h5m-163 10h5m9 3h5m18 0h5m-4 0h5m-4-3h5m7 4h5m-5 3h5m-2-7h5m5 4h5m12 2h5m1-5h5m-4 2h5m0 4h5m7-6h5m2 7h5m11-2h5m-155 5h5m77 7h5m4-2h5m-3-6h5m10 5h5m-3 1h5m19 3h5m-4-1h5m-3-8h5m24 7h5m-155 4h5m5 8h5m22-5h5m18 0h5m-4-2h5m4 0h5m20 2h5m-1-1h5m6 1h5m0-3h5m18 2h5m14-2h5m-150 12h5m30 1h5m15-4h5m2 4h5m-3-4h5m-3 7h5m7-5h5m13 3h5m-88 12h5m56-6h5m-4 0h5m20 0h5m37 8h5m-142 6h5m11 2h5m-5-4h5m15 5h5m6-4h5m16 4h5m7-8h5m8 4h5m-3 0h5m-108 11h5m4 3h5m13 0h5m37-4h5m54 5h5m-90 1h5m24 7h5m42 1h5m15-8h5m-127 10h5m19 12h5m92-2h5m-124 19h5m86-1h5m-124 42h5m-4 2h5m5 15h5" stroke="#000" stroke-width="5" stroke-opacity="0.45" fill="none"/>
<line x1="364.1" y1="94.6" x2="364.1" y2="159.7" stroke="#000" stroke-width="0.8"/>
<line x1="344.6" y1="138.15" x2="405" y2="138.15" stroke="#000" stroke-width="0.8"/>
<line x1="344.60" y1="159.7" x2="344.60" y2="161.29999999999998" stroke="#000" stroke-width="0.5"/>
<line x1="343.0" y1="159.70" x2="344.6" y2="159.70" stroke="#000" stroke-width="0.5"/>
<text class="s" x="343.8" y="165.0" font-size="2.8" fill-opacity="0.75">10<tspan dy="-1.2" font-size="2.2">0</tspan></text>
<text class="s" x="338.3" y="160.9" font-size="2.8" fill-opacity="0.75">10<tspan dy="-1.2" font-size="2.2">0</tspan></text>
<line x1="349.15" y1="159.7" x2="349.15" y2="160.6" stroke="#000" stroke-width="0.35"/>
<line x1="343.70000000000005" y1="154.80" x2="344.6" y2="154.80" stroke="#000" stroke-width="0.35"/>
<line x1="351.80" y1="159.7" x2="351.80" y2="160.6" stroke="#000" stroke-width="0.35"/>
<line x1="343.70000000000005" y1="151.93" x2="344.6" y2="151.93" stroke="#000" stroke-width="0.35"/>
<line x1="353.69" y1="159.7" x2="353.69" y2="160.6" stroke="#000" stroke-width="0.35"/>
<line x1="343.70000000000005" y1="149.90" x2="344.6" y2="149.90" stroke="#000" stroke-width="0.35"/>
<line x1="355.15" y1="159.7" x2="355.15" y2="160.6" stroke="#000" stroke-width="0.35"/>
<line x1="343.70000000000005" y1="148.32" x2="344.6" y2="148.32" stroke="#000" stroke-width="0.35"/>
<line x1="356.35" y1="159.7" x2="356.35" y2="160.6" stroke="#000" stroke-width="0.35"/>
<line x1="343.70000000000005" y1="147.04" x2="344.6" y2="147.04" stroke="#000" stroke-width="0.35"/>
<line x1="357.36" y1="159.7" x2="357.36" y2="160.6" stroke="#000" stroke-width="0.35"/>
<line x1="343.70000000000005" y1="145.95" x2="344.6" y2="145.95" stroke="#000" stroke-width="0.35"/>
<line x1="358.24" y1="159.7" x2="358.24" y2="160.6" stroke="#000" stroke-width="0.35"/>
<line x1="343.70000000000005" y1="145.00" x2="344.6" y2="145.00" stroke="#000" stroke-width="0.35"/>
<line x1="359.01" y1="159.7" x2="359.01" y2="160.6" stroke="#000" stroke-width="0.35"/>
<line x1="343.70000000000005" y1="144.17" x2="344.6" y2="144.17" stroke="#000" stroke-width="0.35"/>
<line x1="359.70" y1="159.7" x2="359.70" y2="161.29999999999998" stroke="#000" stroke-width="0.5"/>
<line x1="343.0" y1="143.42" x2="344.6" y2="143.42" stroke="#000" stroke-width="0.5"/>
<text class="s" x="358.9" y="165.0" font-size="2.8" fill-opacity="0.75">10<tspan dy="-1.2" font-size="2.2">1</tspan></text>
<text class="s" x="338.3" y="144.6" font-size="2.8" fill-opacity="0.75">10<tspan dy="-1.2" font-size="2.2">1</tspan></text>
<line x1="364.25" y1="159.7" x2="364.25" y2="160.6" stroke="#000" stroke-width="0.35"/>
<line x1="343.70000000000005" y1="138.53" x2="344.6" y2="138.53" stroke="#000" stroke-width="0.35"/>
<line x1="366.90" y1="159.7" x2="366.90" y2="160.6" stroke="#000" stroke-width="0.35"/>
<line x1="343.70000000000005" y1="135.66" x2="344.6" y2="135.66" stroke="#000" stroke-width="0.35"/>
<line x1="368.79" y1="159.7" x2="368.79" y2="160.6" stroke="#000" stroke-width="0.35"/>
<line x1="343.70000000000005" y1="133.63" x2="344.6" y2="133.63" stroke="#000" stroke-width="0.35"/>
<line x1="370.25" y1="159.7" x2="370.25" y2="160.6" stroke="#000" stroke-width="0.35"/>
<line x1="343.70000000000005" y1="132.05" x2="344.6" y2="132.05" stroke="#000" stroke-width="0.35"/>
<line x1="371.45" y1="159.7" x2="371.45" y2="160.6" stroke="#000" stroke-width="0.35"/>
<line x1="343.70000000000005" y1="130.76" x2="344.6" y2="130.76" stroke="#000" stroke-width="0.35"/>
<line x1="372.46" y1="159.7" x2="372.46" y2="160.6" stroke="#000" stroke-width="0.35"/>
<line x1="343.70000000000005" y1="129.67" x2="344.6" y2="129.67" stroke="#000" stroke-width="0.35"/>
<line x1="373.34" y1="159.7" x2="373.34" y2="160.6" stroke="#000" stroke-width="0.35"/>
<line x1="343.70000000000005" y1="128.73" x2="344.6" y2="128.73" stroke="#000" stroke-width="0.35"/>
<line x1="374.11" y1="159.7" x2="374.11" y2="160.6" stroke="#000" stroke-width="0.35"/>
<line x1="343.70000000000005" y1="127.89" x2="344.6" y2="127.89" stroke="#000" stroke-width="0.35"/>
<line x1="374.80" y1="159.7" x2="374.80" y2="161.29999999999998" stroke="#000" stroke-width="0.5"/>
<line x1="343.0" y1="127.15" x2="344.6" y2="127.15" stroke="#000" stroke-width="0.5"/>
<text class="s" x="374.0" y="165.0" font-size="2.8" fill-opacity="0.75">10<tspan dy="-1.2" font-size="2.2">2</tspan></text>
<text class="s" x="338.3" y="128.3" font-size="2.8" fill-opacity="0.75">10<tspan dy="-1.2" font-size="2.2">2</tspan></text>
<line x1="379.35" y1="159.7" x2="379.35" y2="160.6" stroke="#000" stroke-width="0.35"/>
<line x1="343.70000000000005" y1="122.25" x2="344.6" y2="122.25" stroke="#000" stroke-width="0.35"/>
<line x1="382.00" y1="159.7" x2="382.00" y2="160.6" stroke="#000" stroke-width="0.35"/>
<line x1="343.70000000000005" y1="119.38" x2="344.6" y2="119.38" stroke="#000" stroke-width="0.35"/>
<line x1="383.89" y1="159.7" x2="383.89" y2="160.6" stroke="#000" stroke-width="0.35"/>
<line x1="343.70000000000005" y1="117.35" x2="344.6" y2="117.35" stroke="#000" stroke-width="0.35"/>
<line x1="385.35" y1="159.7" x2="385.35" y2="160.6" stroke="#000" stroke-width="0.35"/>
<line x1="343.70000000000005" y1="115.77" x2="344.6" y2="115.77" stroke="#000" stroke-width="0.35"/>
<line x1="386.55" y1="159.7" x2="386.55" y2="160.6" stroke="#000" stroke-width="0.35"/>
<line x1="343.70000000000005" y1="114.49" x2="344.6" y2="114.49" stroke="#000" stroke-width="0.35"/>
<line x1="387.56" y1="159.7" x2="387.56" y2="160.6" stroke="#000" stroke-width="0.35"/>
<line x1="343.70000000000005" y1="113.40" x2="344.6" y2="113.40" stroke="#000" stroke-width="0.35"/>
<line x1="388.44" y1="159.7" x2="388.44" y2="160.6" stroke="#000" stroke-width="0.35"/>
<line x1="343.70000000000005" y1="112.45" x2="344.6" y2="112.45" stroke="#000" stroke-width="0.35"/>
<line x1="389.21" y1="159.7" x2="389.21" y2="160.6" stroke="#000" stroke-width="0.35"/>
<line x1="343.70000000000005" y1="111.62" x2="344.6" y2="111.62" stroke="#000" stroke-width="0.35"/>
<line x1="389.90" y1="159.7" x2="389.90" y2="161.29999999999998" stroke="#000" stroke-width="0.5"/>
<line x1="343.0" y1="110.88" x2="344.6" y2="110.88" stroke="#000" stroke-width="0.5"/>
<text class="s" x="389.1" y="165.0" font-size="2.8" fill-opacity="0.75">10<tspan dy="-1.2" font-size="2.2">3</tspan></text>
<text class="s" x="338.3" y="112.1" font-size="2.8" fill-opacity="0.75">10<tspan dy="-1.2" font-size="2.2">3</tspan></text>
<line x1="394.45" y1="159.7" x2="394.45" y2="160.6" stroke="#000" stroke-width="0.35"/>
<line x1="343.70000000000005" y1="105.98" x2="344.6" y2="105.98" stroke="#000" stroke-width="0.35"/>
<line x1="397.10" y1="159.7" x2="397.10" y2="160.6" stroke="#000" stroke-width="0.35"/>
<line x1="343.70000000000005" y1="103.11" x2="344.6" y2="103.11" stroke="#000" stroke-width="0.35"/>
<line x1="398.99" y1="159.7" x2="398.99" y2="160.6" stroke="#000" stroke-width="0.35"/>
<line x1="343.70000000000005" y1="101.08" x2="344.6" y2="101.08" stroke="#000" stroke-width="0.35"/>
<line x1="400.45" y1="159.7" x2="400.45" y2="160.6" stroke="#000" stroke-width="0.35"/>
<line x1="343.70000000000005" y1="99.50" x2="344.6" y2="99.50" stroke="#000" stroke-width="0.35"/>
<line x1="401.65" y1="159.7" x2="401.65" y2="160.6" stroke="#000" stroke-width="0.35"/>
<line x1="343.70000000000005" y1="98.21" x2="344.6" y2="98.21" stroke="#000" stroke-width="0.35"/>
<line x1="402.66" y1="159.7" x2="402.66" y2="160.6" stroke="#000" stroke-width="0.35"/>
<line x1="343.70000000000005" y1="97.12" x2="344.6" y2="97.12" stroke="#000" stroke-width="0.35"/>
<line x1="403.54" y1="159.7" x2="403.54" y2="160.6" stroke="#000" stroke-width="0.35"/>
<line x1="343.70000000000005" y1="96.18" x2="344.6" y2="96.18" stroke="#000" stroke-width="0.35"/>
<line x1="404.31" y1="159.7" x2="404.31" y2="160.6" stroke="#000" stroke-width="0.35"/>
<line x1="343.70000000000005" y1="95.34" x2="344.6" y2="95.34" stroke="#000" stroke-width="0.35"/>
<line x1="405.00" y1="159.7" x2="405.00" y2="161.29999999999998" stroke="#000" stroke-width="0.5"/>
<line x1="343.0" y1="94.60" x2="344.6" y2="94.60" stroke="#000" stroke-width="0.5"/>
<text class="s" x="404.2" y="165.0" font-size="2.8" fill-opacity="0.75">10<tspan dy="-1.2" font-size="2.2">4</tspan></text>
<text class="s" x="338.3" y="95.8" font-size="2.8" fill-opacity="0.75">10<tspan dy="-1.2" font-size="2.2">4</tspan></text>
<text class="s" x="346.6" y="101.5" font-size="5.9" text-anchor="start">3.1</text>
<text class="s" x="404" y="101.5" font-size="5.9" text-anchor="end">7.4</text>
<text class="s" x="404.6" y="157.4" font-size="5.9" text-anchor="end">39.8</text>
<rect x="423.5" y="95" width="60.20" height="65.20" fill="#fff" stroke="#111" stroke-width="0.75"/>
<path transform="scale(.1)" d="M4616 1374h5m14 4h5m38 1h5m51-5h5m-403 7h5m17 7h5m23 0h5m3-4h5m-2 4h5m137-2h5m14-3h5m17-1h5m-4 2h5m-3-3h5m0 0h5m26 7h5m7-2h5m-4 1h5m-3-1h5m11 3h5m-347 10h5m18 0h5m-3-7h5m3 6h5m0-1h5m-2 1h5m9-2h5m5 3h5m-1-8h5m-2 7h5m-4-6h5m7 3h5m9 4h5m82-2h5m4-2h5m-4 2h5m19 1h5m1-3h5m3 3h5m7 0h5m-2-7h5m5 0h5m-2 8h5m-4-3h5m1 2h5m-2-4h5m-5-1h5m-3 0h5m-4 5h5m-5-7h5m-1 3h5m-2-1h5m-3 5h5m-2-6h5m-4 3h5m2 1h5m20 2h5m36-6h5m-392 16h5m3-5h5m4-3h5m17 3h5m0 5h5m-4 0h5m-2-6h5m1 2h5m-4 5h5m1 0h5m-4-3h5m-1-6h5m-2 6h5m-3-5h5m-3 3h5m-5-1h5m-1-2h5m-4 2h5m1 1h5m-5 5h5m-1-9h5m-4 8h5m-3-4h5m6-2h5m-1 5h5m3-2h5m-3-3h5m-4 3h5m0 1h5m-2 2h5m15 1h5m-4 0h5m4 0h5m44-8h5m4 3h5m27 2h5m-2-2h5m-3-2h5m-5 6h5m-1 0h5m-3-6h5m-3 3h5m-5 3h5m-3-1h5m0 1h5m-1-4h5m-4-1h5m2-3h5m-4 5h5m-2 0h5m-4 2h5m-4-3h5m-5 4h5m-5-8h5m-1 2h5m-5 2h5m-4-3h5m-5 1h5m-2 5h5m-1-6h5m8 5h5m-4-2h5m-4 2h5m3 2h5m-2 1h5m-4-3h5m1 0h5m-3 2h5m-4-5h5m-1-3h5m-4 7h5m-2 2h5m-5-3h5m-5-1h5m2 1h5m9 1h5m-1 2h5m-4-3h5m6-2h5m20 5h5m7 0h5m-424 3h5m6 0h5m6 1h5m-1 2h5m0-3h5m2 1h5m-4 6h5m0-3h5m-1-6h5m-5 6h5m-1 3h5m-5-6h5m-3-1h5m-1 3h5m-3-2h5m-4 4h5m-4 0h5m-5-2h5m-4-1h5m-2 3h5m-3 1h5m-1-1h5m-5 2h5m-4-2h5m-4-6h5m-3 8h5m-5-4h5m-3 2h5m-5-3h5m-3-3h5m-5-1h5m-3 4h5m0-1h5m-4 2h5m-5-1h5m1-1h5m-1-1h5m-4 7h5m-5-8h5m-4 4h5m-4-5h5m-4 7h5m-4-1h5m-3 2h5m-4 1h5m-4-3h5m-1-6h5m-4 4h5m-4-1h5m-5 5h5m-3-3h5m-4 4h5m-4-7h5m-3 5h5m6-7h5m-4 5h5m-2-3h5m-4-2h5m51 8h5m14-1h5m-1-5h5m-2 6h5m5-1h5m2-3h5m-4-4h5m-2 3h5m-2-3h5m-3 7h5m-4-5h5m-2 2h5m-5-4h5m0 7h5m-5 2h5m-2-9h5m0 8h5m-5-4h5m-4 3h5m-4 0h5m-3 1h5m-3-4h5m-1 3h5m0 1h5m-3 1h5m-4-3h5m-4 2h5m-2-2h5m-5 1h5m-3 1h5m-2-7h5m-1 4h5m-2 2h5m-5-5h5m-4 4h5m-4 3h5m-5-6h5m-3 2h5m-4 4h5m-1-2h5m-4-3h5m-4-1h5m-5-1h5m-4 6h5m-4 1h5m-2-9h5m-4 3h5m-4 2h5m-3 0h5m-4-4h5m-3 3h5m-2-4h5m-4 6h5m-5-6h5m-3 4h5m-4-4h5m-4 2h5m-4 0h5m-3 0h5m-2 5h5m1-7h5m-4 3h5m-4 2h5m-5 4h5m-3-1h5m-4 1h5m-1 0h5m-4-9h5m-5 3h5m-4 3h5m-5 2h5m-4-3h5m-5 3h5m4-3h5m1-5h5m0 3h5m0 4h5m-2-1h5m-1 3h5m-5-8h5m5-1h5m-5 3h5m-4 4h5m-5-5h5m14 7h5m-405 6h5m-4 1h5m4-6h5m0 0h5m-4 6h5m-3 2h5m-5 1h5m-4-3h5m0-2h5m-4 0h5m3 5h5m-1-2h5m-4-4h5m-5 5h5m-3-3h5m-2-2h5m-2-3h5m-3 6h5m-2-2h5m-4 5h5m-5-1h5m-4-2h5m-4 3h5m-4-6h5m-5 5h5m-4-2h5m-5-4h5m-4 1h5m-5-3h5m-4 5h5m-5-5h5m-4 7h5m-5-1h5m-4 1h5m-5 1h5m-4 1h5m-4-6h5m-3 4h5m-4-6h5m-4 2h5m-5 2h5m-3-2h5m-5 3h5m-3-4h5m-5 2h5m-5-1h5m-3 2h5m-5 1h5m-4 3h5m-4-4h5m-5 2h5m-2 2h5m-4-1h5m-3-5h5m-5 3h5m-4-1h5m-5 2h5m-4-6h5m-3 4h5m-3-3h5m-5 2h5m-3-3h5m-4 8h5m-4-1h5m-5 1h5m-4 0h5m-5-1h5m-4-3h5m-4-5h5m-4 6h5m-4 3h5m-5-5h5m-4 4h5m-2-7h5m-1 4h5m-2-5h5m-1 7h5m-3-7h5m-5 2h5m-4-2h5m-5 6h5m-4 3h5m-5-9h5m-3 9h5m-3-3h5m-1-6h5m-2 3h5m12-1h5m20 6h5m20-6h5m-1 6h5m-5-6h5m-2 6h5m-3-4h5m-1-3h5m-5 7h5m-1-7h5m-5 2h5m-4 6h5m0-2h5m-2 1h5m-3 1h5m-3-4h5m-3 3h5m-4-7h5m-4 3h5m-4 1h5m-4 2h5m-4-5h5m-4 3h5m-4-5h5m-4 9h5m-4-2h5m-2-2h5m-3 4h5m-4 0h5m-4-8h5m-4 0h5m-4 2h5m-4 4h5m-4-2h5m-2 1h5m-3-3h5m-5-1h5m-1 2h5m-5-1h5m-3 1h5m-5 1h5m-5 2h5m-5-4h5m-4 6h5m-3-6h5m-4-2h5m-2 8h5m-5-9h5m-5 2h5m-5 6h5m-4 0h5m-5-8h5m-2 3h5m-5 1h5m-4-4h5m-5 2h5m-5 5h5m-4 1h5m-1-5h5m-4 3h5m-2-3h5m-4 2h5m-5 4h5m-3 0h5m-4-8h5m-4 7h5m-2-4h5m-5 2h5m-4-4h5m-5 5h5m-3 0h5m-5-1h5m-4-5h5m-4 8h5m-2-6h5m-4 5h5m-5-6h5m-5 4h5m-3-1h5m-5 4h5m-5-1h5m-4 0h5m-5-7h5m-3 3h5m-5 2h5m-4-1h5m-3 4h5m-4-8h5m-4 8h5m-4-9h5m-5 9h5m-4-7h5m-5 4h5m-3-5h5m-5-1h5m-4 7h5m-4 2h5m-4-1h5m-4 1h5m-5-6h5m-2 6h5m-3-1h5m-3-1h5m-4-3h5m-5-4h5m-3 4h5m-4 1h5m-4-5h5m-2 2h5m-5 4h5m-2 2h5m-2-3h5m-4-2h5m-2-3h5m-5 9h5m-4-2h5m-4-2h5m-4 0h5m-4-1h5m-1 1h5m-4 1h5m-1-6h5m-5 9h5m-4-1h5m-4-2h5m-4-6h5m-4 8h5m-2-5h5m-4-2h5m2 2h5m2 6h5m-1-3h5m34 1h5m-438 9h5m5 1h5m-4 2h5m0 0h5m-4 0h5m-5-8h5m5 6h5m-5 2h5m-5-1h5m-3-3h5m-5 3h5m-5-7h5m-3 8h5m-3-6h5m-1 5h5m-4-3h5m-5 1h5m-5-6h5m-3 1h5m-3 0h5m-4 7h5m-4-7h5m-5-1h5m-4 7h5m-5 1h5m-5-8h5m-4 6h5m-4-2h5m-4 5h5m-5-8h5m-4 1h5m-4-2h5m-5 4h5m-4 5h5m-5-1h5m-5-2h5m-3 0h5m-3-3h5m-1-1h5m-5 3h5m-5-5h5m-4 1h5m-5 3h5m-4 0h5m-5 5h5m-2-3h5m-5-2h5m-2 2h5m-3-3h5m-5 4h5m-3-4h5m-5 2h5m-4-4h5m-3 7h5m-3-4h5m-5 1h5m-5 4h5m-5-9h5m-4 2h5m-5 6h5m-5-8h5m-4 2h5m-5-1h5m-4 5h5m-5-3h5m-4 4h5m-4-6h5m-4 1h5m-5 4h5m-5 3h5m-2-9h5m-4 9h5m-4-2h5m-5 2h5m-4-9h5m-4 5h5m-4 0h5m-4 2h5m-5 2h5m-4-3h5m-4-2h5m-4 3h5m-5-5h5m-4 5h5m-5 2h5m-5-1h5m-3-8h5m-5 1h5m-5 5h5m-4 0h5m-5 2h5m-5-7h5m-5 3h5m-4-4h5m-5 4h5m-5 1h5m-5 1h5m-3-3h5m-5 3h5m-3-6h5m-5 4h5m-3-2h5m-4 2h5m-5-1h5m-4 0h5m-5 5h5m-4-1h5m-5-5h5m-5-1h5m-4-1h5m-4 4h5m-4-2h5m-5 2h5m-4 3h5m-5 1h5m-5-4h5m-4-1h5m-5 4h5m-4-1h5m-4-4h5m-5 2h5m-4-4h5m-3 0h5m-5 9h5m-4-7h5m-5 2h5m-3-4h5m-4 5h5m-3-1h5m-4 4h5m-5-7h5m-4 6h5m-4 2h5m-5-5h5m-2-3h5m-5 3h5m0-3h5m-4 1h5m-3-1h5m0 4h5m-1 4h5m1-7h5m-3 7h5m-2-1h5m6-2h5m8 1h5m-4-2h5m-3 3h5m10-3h5m-3 4h5m-4-6h5m-5 2h5m-5 2h5m-2-2h5m-3-5h5m-3 2h5m-3 2h5m-4 4h5m-4-7h5m-5 4h5m-1 0h5m-2-3h5m-4 5h5m-4 2h5m0-1h5m-5 1h5m-4-3h5m-3-6h5m-4 9h5m-4-7h5m-2 1h5m-4-1h5m-5 2h5m-4-2h5m-5 6h5m-4-6h5m-4-1h5m-4 7h5m-2-4h5m-5 1h5m-4 1h5m-4 2h5m-3 0h5m-3-8h5m-5 3h5m-3 3h5m-3 0h5m-4 0h5m-5-6h5m-4 2h5m-4 7h5m-4-2h5m-4-5h5m-5 3h5m-3 2h5m-3 0h5m-5 2h5m-5-5h5m-4 1h5m-5-1h5m-4 3h5m-5-6h5m-5 2h5m-5 1h5m-4 1h5m-4 4h5m-4-3h5m-4 1h5m-2 0h5m-5-4h5m-4 0h5m-5 6h5m-3-6h5m-4 1h5m-5-3h5m-4 7h5m-5-3h5m-3 1h5m-4 3h5m-4-8h5m-5 1h5m-5 5h5m-4-7h5m-5 5h5m-4-4h5m-5 3h5m-4 4h5m-4-7h5m-4 0h5m-3 3h5m-5 4h5m-4-4h5m-4 2h5m-2 2h5m-4-4h5m-5 3h5m-5-4h5m-4 1h5m-5-3h5m-4 8h5m-5-5h5m-4 5h5m-4-6h5m-5 3h5m-4 2h5m-5-7h5m-4 1h5m-5 4h5m-5 1h5m-4 2h5m-5-8h5m-5 2h5m-4-1h5m-5 2h5m-4-1h5m-5 3h5m-5 3h5m-4-7h5m-5 3h5m-4 3h5m-4-1h5m-4 2h5m-5-8h5m-4 3h5m-5 2h5m-5-3h5m-4-3h5m-4 4h5m-5 2h5m-5-4h5m-4 5h5m-5 1h5m-3-8h5m-5 9h5m-5-8h5m-4 4h5m-5 3h5m-5-6h5m-4 3h5m-5 1h5m-4-1h5m-3-4h5m-5 4h5m-5 2h5m-4 0h5m-4-5h5m-4 2h5m-4 0h5m-5-4h5m-4 4h5m-4 3h5m-5 2h5m-5-6h5m-4 3h5m-4-3h5m-4 3h5m-3 3h5m-5-8h5m-5 2h5m-4 4h5m-5-4h5m-4-3h5m-4 4h5m-3-4h5m-5 7h5m-4-4h5m-4-1h5m-5 6h5m-4 0h5m-4-2h5m-4 1h5m-4-3h5m-5 2h5m-3 3h5m-4-1h5m-5-7h5m-5 1h5m-5 2h5m-5 3h5m-2-3h5m-4 3h5m-5-1h5m-5-1h5m-4 3h5m-3-2h5m-4-6h5m-5 3h5m-5 3h5m-4-2h5m1-3h5m-4 1h5m-4 0h5m-3-1h5m-5 3h5m-2-4h5m-5 2h5m-3 1h5m-5 1h5m-5 3h5m2 0h5m5-7h5m15 6h5m-413 7h5m12 1h5m3-1h5m-3 5h5m-3-8h5m-1 6h5m-4-2h5m2 5h5m-4-2h5m-5 2h5m-4-3h5m-2 1h5m-5-2h5m-2 0h5m-4-1h5m-4 5h5m-4-8h5m-5 2h5m-4 2h5m-5 2h5m-4-1h5m-3-3h5m-5 3h5m-4 1h5m-5 2h5m-4-9h5m-4 1h5m-5 3h5m-5 4h5m-2-5h5m-5 6h5m-5-9h5m-3 3h5m-5 2h5m-4 4h5m-5-6h5m-5 3h5m-4-4h5m-4-1h5m-5 6h5m-4 2h5m-5-6h5m-4 5h5m-5-1h5m-4-3h5m-4 4h5m-5-3h5m-4-3h5m-4 6h5m-5-8h5m-5 4h5m-5 2h5m-4 3h5m-5-6h5m-5 5h5m-4-2h5m-4-4h5m-5 2h5m-4 4h5m-4-4h5m-5 2h5m-5 1h5m-4 0h5m-5-6h5m-5 4h5m-4-2h5m-5 4h5m-5-6h5m-5-1h5m-4 4h5m-4 5h5m-5-9h5m-5 4h5m-4 3h5m-5 1h5m-5-7h5m-5 3h5m-4-4h5m-5 5h5m-4 4h5m-3-7h5m-5 3h5m-4 4h5m-5-1h5m-5-6h5m-5 1h5m-5 3h5m-5 1h5m-4 1h5m-4 1h5m-5-6h5m-5 2h5m-5 2h5m-4-3h5m-5 3h5m-5 1h5m-4-4h5m-5 3h5m-4-6h5m-5 1h5m-4 0h5m-5 7h5m-4-5h5m-5 2h5m-4 1h5m-2-2h5m-5 2h5m-5-4h5m-4 2h5m-5-3h5m-4 2h5m-4 2h5m-5-6h5m-5 4h5m-4-4h5m-5 5h5m-4 3h5m-4-7h5m-5 5h5m-5 2h5m-4-8h5m-5 8h5m-4 1h5m-5-4h5m-5 2h5m-4-5h5m-5 1h5m-4-1h5m-5 3h5m-4 1h5m-5-1h5m-5 3h5m-5-6h5m-4 0h5m-5 7h5m-4-9h5m-5 4h5m-5 2h5m-4 2h5m-5-5h5m-4 0h5m-4 4h5m-5-7h5m-4 3h5m-5-2h5m-5-1h5m-5 2h5m-4 3h5m-4-3h5m-5 4h5m-4-1h5m-5 4h5m-4-8h5m-5 4h5m-4-3h5m-4-1h5m-4 7h5m-2-2h5m-4-5h5m-5-1h5m-4 2h5m-5 2h5m-5 3h5m-5 2h5m-4 0h5m-5-6h5m-4 4h5m-4-2h5m-5-5h5m-4 5h5m-5-3h5m-4 4h5m-5-4h5m-3-2h5m-4 2h5m-5 6h5m-4 0h5m-3-7h5m-5 5h5m-4 0h5m-4-5h5m-4 8h5m-4-9h5m-4 5h5m-3 2h5m-3 2h5m-4-8h5m-5 2h5m-4 0h5m-4 6h5m-1-9h5m-4 3h5m1-2h5m4-1h5m18 4h5m-5 3h5m-5 2h5m-4-4h5m2-4h5m-4 8h5m-3 0h5m-4-5h5m-1 5h5m-4-5h5m-4 5h5m-2-2h5m-4 2h5m-4-2h5m-5-7h5m-5 5h5m-3-2h5m-4 0h5m2 2h5m-4 0h5m-4-5h5m-4 8h5m-4-4h5m-3-1h5m-3 1h5m-5-1h5m-4-1h5m-5 3h5m-5 2h5m-2-2h5m-4-5h5m-5 9h5m-3-6h5m-5 6h5m-3-6h5m-5 6h5m-4-1h5m-3-2h5m-5 3h5m-5-2h5m-4-1h5m-5-6h5m-5 3h5m-2 2h5m-3-3h5m-5-1h5m-5 2h5m-5 2h5m-5 1h5m-4-2h5m-4 0h5m-5 4h5m-4-3h5m-5 1h5m-4 1h5m-4-6h5m-5 4h5m-4 1h5m-4-5h5m-5 6h5m-5-1h5m-4 3h5m-4-9h5m-4 5h5m-4-1h5m-5 3h5m-5-1h5m-5 3h5m-5-6h5m-4-2h5m-4 8h5m-5-4h5m-5 3h5m-4-6h5m-4 7h5m-5-8h5m-4 5h5m-5 3h5m-4-9h5m-5 3h5m-5 2h5m-5 4h5m-4-2h5m-4-5h5m-5-1h5m-4 2h5m-5 2h5m-4-4h5m-5 5h5m-5 3h5m-4-7h5m-5 1h5m-4 3h5m-4 0h5m-5 2h5m-5-6h5m-4-2h5m-5 2h5m-4 3h5m-5 3h5m-5-6h5m-3-1h5m-5 4h5m-4 1h5m-5-4h5m-3 0h5m-5 3h5m-5 2h5m-4 1h5m-4-5h5m-5 3h5m-4 0h5m-5-5h5m-4 3h5m-5-4h5m-4 8h5m-5-6h5m-5 4h5m-5-1h5m-5 2h5m-5 2h5m-4-8h5m-5 2h5m-5 1h5m-5 4h5m-4-2h5m-4 1h5m-5 2h5m-5-6h5m-4-3h5m-5 2h5m-4-1h5m-5 3h5m-5 1h5m-5 4h5m-4-3h5m-5 2h5m-5-7h5m-5 2h5m-4 4h5m-5-3h5m-3-3h5m-4 5h5m-5-6h5m-4 8h5m-5-8h5m-5 4h5m-4 5h5m-5-7h5m-5 2h5m-5 3h5m-4-1h5m-5 3h5m-4-1h5m-5-1h5m-4-6h5m-5 6h5m-5-1h5m-5-6h5m-4 0h5m-4 3h5m-5 2h5m-4-2h5m-4-2h5m-5 2h5m-4 1h5m-5 4h5m-5-7h5m-4 2h5m-4 6h5m-5-8h5m-4 3h5m-5-1h5m-3 2h5m-5-1h5m-4 0h5m-4-1h5m-4 2h5m-4 1h5m-5 2h5m-4-6h5m-4 0h5m-5 2h5m-4-2h5m-4 2h5m-4-2h5m-4-1h5m-5 6h5m-5-1h5m-4-5h5m-4 6h5m-5-4h5m-3 0h5m-4 3h5m-4 2h5m-5-6h5m-5-1h5m-5 2h5m-4-2h5m-4 6h5m-5-3h5m-2 5h5m-4-7h5m-5 3h5m-3 3h5m-4-7h5m-5 2h5m-4 0h5m-4-1h5m-5 1h5m-3 3h5m-5 3h5m-4-9h5m-5 5h5m-3-1h5m-4-4h5m-2 1h5m-4 8h5m-3 0h5m-5-8h5m-5 5h5m-5 2h5m-3-2h5m-4-3h5m-4 4h5m-2 0h5m-3-4h5m-5 2h5m-2-3h5m-4 1h5m-5 3h5m-4-4h5m-4 1h5m-5 2h5m-2-5h5m-1 8h5m-5-8h5m4 6h5m-4 2h5m-2-4h5m-2 4h5m4 1h5m15-1h5m-430 10h5m14-1h5m-5-7h5m-2 6h5m-3 2h5m4-6h5m-4 2h5m-5-1h5m-5 2h5m-4-2h5m-4 1h5m-4-3h5m-5 2h5m-2 2h5m-5 3h5m-4 1h5m-3-3h5m-5 2h5m-4-4h5m-5 2h5m-3-1h5m-4-4h5m-4 5h5m-4-3h5m-5 2h5m-5-3h5m-4 2h5m-5-1h5m-5 4h5m-4 1h5m-4-7h5m-4 1h5m-5 5h5m-5-7h5m-4 7h5m-4-2h5m-4 4h5m-5-4h5m-4 3h5m-5-3h5m-4-3h5m-5 2h5m-5-1h5m-5-2h5m-4 7h5m-4-5h5m-5 2h5m-4 1h5m-5 1h5m-4-4h5m-4 2h5m-4 2h5m-4-1h5m-4-1h5m-5-4h5m-5 2h5m-5-1h5m-4 4h5m-5-1h5m-5 4h5m-5-9h5m-3 5h5m-5-1h5m-4 3h5m-5-5h5m-4 6h5m-5-4h5m-4 2h5m-4 1h5m-4-2h5m-5-4h5m-5-1h5m-5 6h5m-4-5h5m-5 3h5m-5 4h5m-4-7h5m-5 2h5m-4 5h5m-4-5h5m-5 3h5m-4-5h5m-5 7h5m-4-4h5m-5 2h5m-5-1h5m-5 2h5m-5-6h5m-5 1h5m-4 0h5m-5 5h5m-5 2h5m-4 0h5m-5-8h5m-5 2h5m-4 2h5m-5 4h5m-4 0h5m-5-7h5m-5 1h5m-5 2h5m-4-1h5m-5 4h5m-5-6h5m-5 3h5m-4 0h5m-5 2h5m-4 1h5m-5 1h5m-5-6h5m-5 3h5m-4-3h5m-4 4h5m-5 1h5m-4 1h5m-5-7h5m-5 3h5m-5-1h5m-4-4h5m-5 9h5m-4-1h5m-5-1h5m-4-5h5m-5 2h5m-5 2h5m-5 2h5m-5-1h5m-4-4h5m-5-1h5m-5 2h5m-4-4h5m-5 3h5m-5 1h5m-5 4h5m-5-1h5m-4-5h5m-4 4h5m-5-6h5m-4 3h5m-5-1h5m-5 2h5m-4 0h5m-5-1h5m-4 2h5m-5-4h5m-4 6h5m-4-5h5m-5 2h5m-5 2h5m-5 1h5m-4 2h5m-5-7h5m-5 4h5m-5-1h5m-5 3h5m-4 0h5m-5 1h5m-5-8h5m-4 6h5m-5-6h5m-4 2h5m-4 5h5m-5-5h5m-4-3h5m-5 4h5m-5 1h5m-5 3h5m-5 1h5m-4-8h5m-5 3h5m-5 2h5m-5 2h5m-5-1h5m-4-3h5m-5 4h5m-5-1h5m-4-2h5m-5 1h5m-4-3h5m-5-1h5m-5 6h5m-5-8h5m-4 5h5m-5 3h5m-5-7h5m-4 4h5m-5 3h5m-5-8h5m-5 9h5m-4-1h5m-5-5h5m-4 2h5m-5 1h5m-5-3h5m-4 4h5m-5-5h5m-5 4h5m-4-3h5m-5-1h5m-5 2h5m-3 3h5m-5-7h5m-4 8h5m-5-1h5m-5-6h5m-4 0h5m-5 2h5m-5 2h5m-5 3h5m-4-3h5m-4 3h5m-5 1h5m-4-8h5m-4-1h5m-5 5h5m-5 1h5m-3-4h5m-5 5h5m-4-2h5m-5-2h5m-4 1h5m-5 5h5m-4-7h5m-5 3h5m-5 2h5m-5-1h5m-3-4h5m-4 1h5m-4 3h5m-5-6h5m-4 7h5m-3-7h5m-5 1h5m-4 0h5m-5 3h5m-4 5h5m-5-6h5m-5-1h5m-4 1h5m-5 5h5m-5 1h5m-2-9h5m-4 9h5m-5-8h5m-5 1h5m-2 2h5m-4-3h5m-4-1h5m-2 8h5m-5-3h5m-4 3h5m-5-6h5m-4 0h5m-4 3h5m-4 2h5m-3 2h5m-3-7h5m-5 4h5m-2 0h5m-4 3h5m-2-9h5m-1 6h5m1 2h5m4 0h5m-4-4h5m-1-1h5m-4-1h5m-1 1h5m-5 3h5m-4-1h5m-1 4h5m-3-6h5m-4 4h5m-2 0h5m-5-1h5m-4 1h5m-5 2h5m-5-1h5m-2-5h5m-5-3h5m-3 5h5m-4 2h5m-4-3h5m-5 4h5m-4 0h5m-5-6h5m-4-2h5m-1 5h5m-5 2h5m-2-1h5m-4-3h5m-3 0h5m-4-2h5m-3 2h5m-4 6h5m-5-9h5m-4 3h5m-5 6h5m-4-5h5m-4 4h5m-5-6h5m-3-1h5m-4-1h5m-5 3h5m-4-2h5m-5 2h5m-4 4h5m-5 1h5m-5-5h5m-5 3h5m-4-3h5m-5 4h5m-4-3h5m-5 2h5m-4-3h5m-5 6h5m-5-1h5m-4-4h5m-5-1h5m-5 4h5m-5 1h5m-4-1h5m-4-4h5m-5 2h5m-3 0h5m-5 1h5m-4-3h5m-5 3h5m-5 1h5m-4-6h5m-4-1h5m-3 2h5m-5 2h5m-5 1h5m-4 4h5m-5-1h5m-5-7h5m-3 1h5m-3-1h5m-5 8h5m-4-7h5m-5-1h5m-5 4h5m-4 0h5m-5 3h5m-4-6h5m-4 4h5m-5-4h5m-4 4h5m-3-1h5m-3 3h5m-3-7h5m-5 2h5m-4 6h5m-5-1h5m-5-8h5m-4 2h5m-5 2h5m-5 2h5m-4-4h5m-5-1h5m-4 4h5m-5-4h5m-4 1h5m-5 2h5m-4-4h5m-5 3h5m-2-2h5m-5 6h5m-4-3h5m-5-1h5m-5 2h5m-5 4h5m-5-1h5m-3-1h5m-5-7h5m-4 4h5m-5 4h5m-4-4h5m-4 3h5m-5-6h5m-4 7h5m-5-8h5m-5 2h5m-3 7h5m-5-8h5m-5 3h5m-5 2h5m-4-4h5m-5-1h5m-5 4h5m-5 1h5m-4-1h5m-5 1h5m-4-3h5m-4-3h5m-5 1h5m-4 2h5m-4-1h5m-4 5h5m-3-3h5m-5-1h5m-5-3h5m-4 0h5m-4 8h5m-5-1h5m-4-1h5m-5 3h5m-3-4h5m-5-3h5m-5-1h5m-5 3h5m-4 4h5m-5-7h5m-4 0h5m-5 2h5m-4 4h5m-4-4h5m-5 2h5m-4-5h5m-4 2h5m-4 0h5m-5 3h5m-5 4h5m-4-1h5m-4-7h5m-5 6h5m-4 2h5m-4-5h5m-5 3h5m-5-7h5m-4 4h5m-5-1h5m-5 3h5m-5 2h5m-5-1h5m-5 2h5m-4-7h5m-4 4h5m-4-6h5m-5 3h5m-4 6h5m-2-4h5m-5-4h5m-5 3h5m-4-2h5m-5 3h5m-4-5h5m-5 2h5m-5 2h5m-5 2h5m-4-6h5m-5 2h5m-5 2h5m-4-1h5m-5 3h5m-4-4h5m-4 1h5m-5-3h5m-4 4h5m-4-1h5m-5-2h5m-3 7h5m-5-1h5m-4-1h5m-4-2h5m-4 0h5m-4-1h5m-4 3h5m-4 3h5m-5-8h5m-5-1h5m-3 1h5m-5 3h5m-3-1h5m-5 5h5m-5-1h5m-3-4h5m-5 4h5m-3-4h5m-5 3h5m-4-4h5m-5 3h5m-2-1h5m-3-2h5m-5 4h5m-4-6h5m-4 8h5m-2-7h5m-5 4h5m-4-2h5m0-2h5m-4-1h5m4 4h5m0-4h5m-2 2h5m-4 0h5m-3 3h5m-5 1h5m1-1h5m-395 8h5m13 4h5m-1 2h5m1-3h5m-4 2h5m0-2h5m-3-2h5m-4 1h5m-2 1h5m-1 0h5m-4 1h5m-4 1h5m-3-7h5m-4 7h5m-5-7h5m-5 1h5m-4 0h5m-5 2h5m-4-2h5m-4-2h5m-5 3h5m-2 2h5m-4 2h5m-4 0h5m-5-5h5m-5 3h5m-4-4h5m-5 2h5m-4-3h5m-4 3h5m-5 3h5m-5-1h5m-4-5h5m-5 8h5m-4 0h5m-5-2h5m-4-3h5m-5 2h5m-5-4h5m-3 3h5m-5 2h5m-5 2h5m-5-8h5m-5 2h5m-4 2h5m-5 2h5m-4 2h5m-4-2h5m-5-4h5m-4 0h5m-5 2h5m-5 2h5m-4 1h5m-4-1h5m-5 2h5m-4-7h5m-5-1h5m-5 6h5m-4-4h5m-4 1h5m-5 1h5m-4 3h5m-4 0h5m-4-1h5m-5 1h5m-4-6h5m-5 1h5m-5 3h5m-4-2h5m-5 2h5m-5 3h5m-5-8h5m-4 1h5m-5 4h5m-5 3h5m-4 1h5m-5-5h5m-4 1h5m-5 1h5m-5 1h5m-5-4h5m-5-1h5m-4-1h5m-5 2h5m-5 4h5m-5-1h5m-5-6h5m-5 2h5m-4 2h5m-5 3h5m-5-4h5m-4 4h5m-5-7h5m-4 7h5m-5-7h5m-5 3h5m-5-1h5m-5 4h5m-5-1h5m-5 3h5m-4 0h5m-4-2h5m-5-6h5m-5 9h5m-5-7h5m-5 1h5m-4 4h5m-5-7h5m-5 9h5m-5-6h5m-5 2h5m-5 1h5m-4 2h5m-5 1h5m-5-6h5m-5-1h5m-5 3h5m-5 1h5m-4 3h5m-5-7h5m-5 2h5m-5 3h5m-5-1h5m-5 2h5m-4 1h5m-5-4h5m-4-1h5m-5 2h5m-4-4h5m-4 7h5m-5-8h5m-5 2h5m-5-1h5m-5 2h5m-5 3h5m-4-6h5m-5 6h5m-5-7h5m-4 1h5m-5 3h5m-5 3h5m-5 1h5m-5-8h5m-4 8h5m-5-7h5m-4 4h5m-4 0h5m-5-1h5m-5 2h5m-4 1h5m-5-1h5m-4-4h5m-5-2h5m-4 1h5m-5 1h5m-5 2h5m-4 4h5m-5-8h5m-4 7h5m-5-6h5m-5 7h5m-4-6h5m-5 3h5m-5-1h5m-5 3h5m-4 1h5m-5 1h5m-4-8h5m-5 3h5m-5 4h5m-4 0h5m-5-7h5m-5 4h5m-5 4h5m-4-6h5m-5 2h5m-5 1h5m-4 0h5m-4-1h5m-5-4h5m-4 0h5m-4 1h5m-5 4h5m-5-6h5m-3 1h5m-5 3h5m-5 5h5m-4-5h5m-5 4h5m-5-6h5m-4 3h5m-5 2h5m-4 0h5m-4 0h5m-5 2h5m-5-8h5m-5 2h5m-5-1h5m-4 5h5m-5-1h5m-5 3h5m-5-1h5m-5-8h5m-5 1h5m-4 2h5m-5 2h5m-4 4h5m-4-6h5m-5 5h5m-4 0h5m-5-6h5m-5-1h5m-5 6h5m-4-7h5m-5 1h5m-2 0h5m-5 7h5m-4-5h5m-5 4h5m-5 2h5m-4-9h5m-4 6h5m-5 2h5m-5-5h5m-4 2h5m-4-5h5m-4 5h5m-5 2h5m-5-1h5m-4 2h5m-5-8h5m-5 6h5m-4 2h5m-4-2h5m-3 1h5m-4 2h5m-5-7h5m-4 1h5m-5 4h5m-4 2h5m-4-8h5m-5 8h5m-4-6h5m-5 2h5m-5-1h5m-2-2h5m-4-2h5m-4 8h5m-5-6h5m-4 0h5m-2 4h5m-5-3h5m-4 1h5m-3-1h5m-4 4h5m-4-7h5m-4 8h5m-3-4h5m-5 2h5m0 0h5m-4 1h5m4-6h5m-5 2h5m-1-2h5m-1 0h5m-3 4h5m-4 3h5m-5-3h5m-2-4h5m0 5h5m-4-5h5m-4 8h5m-4-1h5m-3-4h5m-3 3h5m-5-7h5m-5 4h5m-4 3h5m-3-2h5m-4-1h5m-1-4h5m-4 7h5m-5 2h5m-5-7h5m-4 5h5m-4-4h5m-4 1h5m-3 5h5m-4-2h5m-4-5h5m-5 1h5m-1 6h5m-5-7h5m-4 4h5m-5 2h5m-4-1h5m-4-4h5m-5 3h5m-4-3h5m-5 4h5m-4-5h5m-4-1h5m-4 2h5m-3 5h5m-5-8h5m-4 6h5m-5 2h5m-4-5h5m-5 1h5m-3 4h5m-5-7h5m-4 1h5m-3 4h5m-4-3h5m-4-2h5m-5 5h5m-5 1h5m-3-4h5m-4-3h5m-4 6h5m-5-6h5m-4 0h5m-5 3h5m-5-2h5m-4 5h5m-5-2h5m-4-3h5m-5-1h5m-4 4h5m-5 5h5m-5-8h5m-4 2h5m-5 2h5m-5 4h5m-4-1h5m-5-7h5m-4 3h5m-4 5h5m-5-1h5m-5-8h5m-5 5h5m-4 4h5m-5-9h5m-5 2h5m-3 4h5m-4-5h5m-4 1h5m-5 2h5m-5 1h5m-4 2h5m-4-3h5m-5 2h5m-4-1h5m-4 4h5m-4-8h5m-4 2h5m-5 5h5m-5-8h5m-4 6h5m-4-6h5m-5 4h5m-4-1h5m-3 0h5m-4 2h5m-5-4h5m-4 0h5m-5-1h5m-5 8h5m-4 1h5m-5-8h5m-5-1h5m-5 2h5m-5 4h5m-4-4h5m-5-1h5m-5 3h5m-4-2h5m-5 1h5m-5 4h5m-5 2h5m-4-6h5m-5 1h5m-4-2h5m-5 3h5m-5 2h5m-5 2h5m-4-7h5m-5 2h5m-4 3h5m-5 2h5m-4-8h5m-5 4h5m-5 3h5m-4-3h5m-4-2h5m-4 3h5m-4-6h5m-4 6h5m-5 2h5m-4-2h5m-4 2h5m-5-5h5m-4 3h5m-5-1h5m-5-4h5m-5 2h5m-2 3h5m-5 1h5m-4-7h5m-5 8h5m-5 1h5m-4-4h5m-5 4h5m-4-9h5m-5 7h5m-5 2h5m-4 0h5m-5-1h5m-4-7h5m-5 1h5m-3 2h5m-5-3h5m-4 4h5m-5 4h5m-4 0h5m-5-8h5m-5-1h5m-4 7h5m-5-6h5m-5 2h5m-5-1h5m-4 3h5m-5-1h5m-5 4h5m-4 1h5m-5-8h5m-5 3h5m-4 1h5m-5-5h5m-4 1h5m-5-1h5m-5 6h5m-4-6h5m-5 2h5m-5 3h5m-4 1h5m-5-5h5m-5 1h5m-5 2h5m-4-4h5m-5 2h5m-5 4h5m-3-1h5m-5 2h5m-4-5h5m-5 3h5m-5 2h5m-4 0h5m-5-6h5m-5-1h5m-4 4h5m-5-1h5m-5 5h5m-5 1h5m-3-5h5m-4 1h5m-5-5h5m-4 5h5m-4 2h5m-5-7h5m-4 9h5m-5-6h5m-5 1h5m-5 2h5m-4-1h5m-4 1h5m-4 3h5m-4-2h5m-5 2h5m-5-9h5m-5 1h5m-4 2h5m-3 0h5m-5 1h5m-3-4h5m-5 4h5m-5 2h5m-4 3h5m-4-7h5m-3 2h5m-5-4h5m-4 0h5m-5 3h5m-2 4h5m-5-4h5m-3 4h5m-4-4h5m-5 1h5m-1 2h5m-5 1h5m0-5h5m-4 7h5m-4 0h5m-4-8h5m-2 6h5m-3-6h5m-3 0h5m-5 6h5m-4-6h5m-4 3h5m-3 3h5m-2-4h5m0 5h5m44-8h5m-429 13h5m-5 5h5m0-1h5m14-2h5m-4-3h5m-1 1h5m-3-1h5m-2 6h5m-2 0h5m0-3h5m-5-5h5m-5 3h5m-4-3h5m-5 5h5m-4-1h5m-5-2h5m-4 3h5m-3 1h5m-2 0h5m-4-3h5m-5 6h5m-4-3h5m-3 2h5m-5-5h5m-4 4h5m-4 0h5m-4-1h5m-4-1h5m-4 4h5m-4-3h5m-5-3h5m-4-3h5m-4 3h5m-4 4h5m-5-1h5m-4-5h5m-5 3h5m-5 3h5m-5 1h5m-4-8h5m-4 5h5m-5-1h5m-5 2h5m-2-3h5m-5 4h5m-4-7h5m-3 6h5m-5-6h5m-4 3h5m-5 2h5m-4 3h5m-5-8h5m-5 9h5m-4 0h5m-5-9h5m-4 4h5m-3-1h5m-5-1h5m-4-1h5m-5 5h5m-4-1h5m-4-5h5m-5 2h5m-5 7h5m-4-1h5m-5-8h5m-5 2h5m-5-1h5m-5 4h5m-5 1h5m-5 3h5m-4-2h5m-4-5h5m-5-1h5m-5 2h5m-4 0h5m-5 2h5m-5 1h5m-5 3h5m-5-1h5m-4-1h5m-5-7h5m-5 2h5m-4-1h5m-5 3h5m-4-4h5m-4 5h5m-5 2h5m-5 1h5m-4-1h5m-5-7h5m-4 9h5m-5-9h5m-5 3h5m-4-1h5m-5 2h5m-4 3h5m-5-1h5m-5 2h5m-4 1h5m-5-7h5m-4-2h5m-5 3h5m-4 5h5m-5-8h5m-5 3h5m-5 3h5m-4-2h5m-5 1h5m-5 4h5m-4-5h5m-5-1h5m-5 6h5m-4-4h5m-5 2h5m-5 1h5m-4-8h5m-4 3h5m-5 1h5m-5 3h5m-5 2h5m-5-1h5m-4-1h5m-5-1h5m-5 2h5m-4-4h5m-5 4h5m-5-6h5m-4 5h5m-5-1h5m-5 3h5m-4-3h5m-4-4h5m-5 5h5m-4 1h5m-5-7h5m-5 2h5m-5 2h5m-4 1h5m-5-5h5m-4 1h5m-5-1h5m-5 2h5m-5 2h5m-5-1h5m-4 3h5m-5-1h5m-5 2h5m-5-8h5m-5 2h5m-4-2h5m-5 4h5m-5 3h5m-4 1h5m-5-6h5m-5 3h5m-5-1h5m-5 5h5m-4-9h5m-5 3h5m-4-3h5m-5 2h5m-4 0h5m-5-1h5m-5 6h5m-4-2h5m-5 2h5m-5-1h5m-4-1h5m-5 4h5m-4-4h5m-5 2h5m-5-5h5m-5-1h5m-4 3h5m-5 1h5m-5-3h5m-4 1h5m-5 6h5m-4-3h5m-5-6h5m-4 1h5m-5-1h5m-4 4h5m-4 3h5m-5-5h5m-5-1h5m-5 3h5m-4-2h5m-5-1h5m-5 8h5m-4-8h5m-5 2h5m-5 4h5m-4 2h5m-5-6h5m-5 3h5m-4 2h5m-5-6h5m-5 7h5m-4-1h5m-5-6h5m-5 2h5m-5 3h5m-5-1h5m-4-6h5m-4 0h5m-5 1h5m-4-1h5m-5 2h5m-4-1h5m-5 3h5m-5 1h5m-5 3h5m-4-5h5m-4 5h5m-5-6h5m-4-1h5m-4 7h5m-4 1h5m-4-4h5m-3-3h5m-5-1h5m-4 2h5m-5 6h5m-4-4h5m-5-1h5m-3 1h5m-5 2h5m-4 2h5m-5-3h5m-3-5h5m-5-1h5m-5 2h5m-5 2h5m-5-1h5m-5 2h5m-4-2h5m-3-2h5m-5 2h5m-5 3h5m-5 1h5m-3 0h5m-3-2h5m-5-4h5m-1 6h5m-4-6h5m1 4h5m-4 4h5m-3-4h5m0-4h5m-2 5h5m-4-3h5m-4 6h5m-4-1h5m-4-6h5m-5 1h5m-2 4h5m-4-3h5m-5 1h5m6-5h5m-3 6h5m-4 2h5m-4-6h5m3 5h5m-3-6h5m-5-1h5m-4 6h5m-4-6h5m-4 5h5m-4-3h5m-4 6h5m-3-7h5m-4 6h5m-3-7h5m-4 8h5m-5-1h5m-4 2h5m-4 0h5m-5-7h5m-5 2h5m-4 0h5m-2 4h5m-3-6h5m-3 7h5m-3-7h5m-5 4h5m-4-3h5m-3-3h5m-5 9h5m-4-9h5m-4 6h5m-5-6h5m-4 1h5m-5-1h5m-5 4h5m-3 0h5m-5 4h5m-4-5h5m-5 2h5m-2-2h5m-3-2h5m-5 4h5m-4 2h5m-5-6h5m-5 2h5m-4 1h5m-5 1h5m-4-4h5m-5 2h5m-5 2h5m-5 3h5m-4 0h5m-5-6h5m-5 2h5m-4 3h5m-3-3h5m-5 3h5m-3-1h5m-5 3h5m-4-5h5m-5-3h5m-5 2h5m-3 6h5m-5-6h5m-5 3h5m-3-1h5m-5 1h5m-4 1h5m-5-1h5m-4-4h5m-5 6h5m-4-6h5m-5 3h5m-2-2h5m-4 5h5m-5-5h5m-4-2h5m-5 2h5m-5 5h5m-4 0h5m-5-7h5m-5 2h5m-5-1h5m-4 6h5m-5-5h5m-5-2h5m-5-1h5m-4 7h5m-4-1h5m-5-5h5m-4 2h5m-3 6h5m-5-9h5m-5 6h5m-4 0h5m-4 3h5m-5-5h5m-4-4h5m-5 5h5m-4 1h5m-5-1h5m-3-2h5m-5 5h5m-4-4h5m-5 2h5m-4 1h5m-5-7h5m-4 2h5m-5 2h5m-5 5h5m-5-8h5m-4 0h5m-5 3h5m-5 4h5m-4-2h5m-5 1h5m-5-5h5m-4 3h5m-4-5h5m-5 5h5m-4-1h5m-5 4h5m-5-6h5m-4 7h5m-5-3h5m-4 3h5m-5-9h5m-4 1h5m-5 2h5m-4 4h5m-5-7h5m-5 4h5m-4 5h5m-5-3h5m-4-5h5m-5 2h5m-5-1h5m-5 7h5m-4-8h5m-5 4h5m-4 0h5m-5 3h5m-5-1h5m-5 2h5m-4-8h5m-4 6h5m-3-5h5m-5 7h5m-4-9h5m-5 3h5m-4 1h5m-4-3h5m-4 0h5m-4 0h5m-5 2h5m-4 4h5m-5-6h5m-5-1h5m-5 4h5m-4 0h5m-4-1h5m-5-1h5m-5 5h5m-5-1h5m-4-5h5m-5 5h5m-4 3h5m-5-7h5m-5 2h5m-4 5h5m-4-6h5m-4-2h5m-4 6h5m-5 1h5m-5 1h5m-3-1h5m-5-1h5m-4-3h5m-5 3h5m-4-5h5m-4 4h5m0-1h5m-5-1h5m-4-4h5m-4 2h5m-3-1h5m-5 3h5m-4-1h5m-5 2h5m-4-2h5m-3 1h5m-2-4h5m-4 8h5m-5-6h5m-2 2h5m-4-4h5m-5 4h5m-4-3h5m-5 3h5m-5 2h5m-3-1h5m-4-5h5m-1 6h5m-3-3h5m-4 1h5m-2 3h5m-4 0h5m-1-7h5m-5 7h5m6 2h5m34-9h5m-411 15h5m1 0h5m-4-2h5m-1 3h5m-4 2h5m1-2h5m-4-3h5m7 2h5m-5 4h5m-4-3h5m-1 3h5m-4-7h5m-4-2h5m-3 8h5m-3-6h5m-5 4h5m-5 2h5m-4-8h5m-5 7h5m-4-4h5m-5 6h5m-4-4h5m-4-4h5m-4 2h5m-4 5h5m-4 1h5m-4-3h5m-5-4h5m-4 2h5m-3 3h5m-5-2h5m-4 4h5m-4-2h5m-5-6h5m-4 8h5m-5-8h5m-4 0h5m-4 2h5m-4-1h5m-4 1h5m-4 4h5m-5-5h5m-4 2h5m-4 5h5m-5-1h5m-4-5h5m-5 6h5m-5-9h5m-4 1h5m-5 3h5m-5-1h5m-5 6h5m-3-5h5m-5 5h5m-5-1h5m-5-7h5m-4 5h5m-5 2h5m-5-3h5m-4 4h5m-5-7h5m-5 1h5m-4 2h5m-5-2h5m-4-2h5m-5 7h5m-4 0h5m-5-5h5m-4 1h5m-5 1h5m-5 3h5m-4-2h5m-5 3h5m-4 0h5m-4-9h5m-5 8h5m-4 0h5m-5-6h5m-4 4h5m-5 3h5m-5-1h5m-5-6h5m-4 7h5m-4-9h5m-4 3h5m-5 5h5m-3-2h5m-5-6h5m-5 2h5m-5 2h5m-4-4h5m-4 8h5m-5-8h5m-5 1h5m-5 4h5m-4-2h5m-4-2h5m-4 7h5m-5-8h5m-5 2h5m-4 3h5m-5-4h5m-5-1h5m-5 6h5m-4-6h5m-5 1h5m-5 2h5m-5 3h5m-5 2h5m-4-8h5m-5 7h5m-4-7h5m-4 0h5m-5 6h5m-5 2h5m-4-5h5m-5 2h5m-4-1h5m-5 3h5m-5 1h5m-5-8h5m-4 3h5m-5 2h5m-5 2h5m-5 1h5m-4-2h5m-5-6h5m-5 2h5m-4 2h5m-5 5h5m-5-7h5m-4 0h5m-5-1h5m-4 8h5m-5-9h5m-5 2h5m-4 1h5m-5 5h5m-5-7h5m-4 8h5m-4-1h5m-4-6h5m-5 1h5m-4-2h5m-4-1h5m-5 1h5m-5 2h5m-5 3h5m-5 3h5m-5-1h5m-4 0h5m-5-6h5m-5-1h5m-4 5h5m-5 1h5m-4-7h5m-5 6h5m-5 1h5m-5 2h5m-4-5h5m-5 2h5m-4-2h5m-5 2h5m-5 1h5m-5 2h5m-5-1h5m-5-6h5m-3 4h5m-5 1h5m-5 2h5m-5-1h5m-5-7h5m-5 1h5m-4-2h5m-5 2h5m-4 3h5m-5 3h5m-5 1h5m-4-2h5m-5 1h5m-5-6h5m-5-1h5m-4 4h5m-5-2h5m-4 6h5m-5-9h5m-5 3h5m-4 4h5m-5-4h5m-5 3h5m-4-5h5m-5 6h5m-5-1h5m-4 2h5m-5-6h5m-5 3h5m-5 4h5m-4-5h5m-3-3h5m-5 3h5m-5 5h5m-4-6h5m-4 1h5m-5 4h5m-4-8h5m-5 4h5m-4-1h5m-5-1h5m-3 2h5m-4 0h5m-4 4h5m-5-4h5m-4-4h5m-4 2h5m-5 4h5m-4 2h5m-4 1h5m-5-9h5m-5 3h5m-5 3h5m-4 0h5m-4 3h5m-5-8h5m-4-1h5m-4 2h5m-5 2h5m-5 3h5m-5 2h5m-3-8h5m-4 2h5m-5-1h5m-5 2h5m-4-2h5m-3 1h5m-5 4h5m-2-2h5m-4 0h5m-5-4h5m-5 1h5m-4 0h5m-5 1h5m-5 2h5m-4-4h5m-3 1h5m-3 1h5m-5 4h5m-4-2h5m-4 4h5m-2-6h5m-3-3h5m-5 3h5m-3-2h5m-4-1h5m-4 3h5m-5-2h5m-4-1h5m-4 7h5m-3-4h5m5 1h5m-4 1h5m-4 1h5m-4 2h5m-4 0h5m-5-6h5m-5 4h5m0-3h5m-4 3h5m-3 0h5m-4-5h5m-1 7h5m-2 1h5m-5-8h5m-5 2h5m1 1h5m-5 4h5m0 0h5m-3-7h5m-3 7h5m-1-6h5m-5 6h5m-3-4h5m-1-2h5m-5 3h5m-5 3h5m-2-5h5m-5-1h5m-4-2h5m-4 2h5m-4 1h5m-5 1h5m-4 4h5m-4-5h5m-4 5h5m-5-8h5m-5 2h5m-4 4h5m-4 3h5m-5-6h5m-4 6h5m-5-7h5m-5 3h5m-4 0h5m-4-2h5m-5 5h5m-4-7h5m-5-1h5m-4 3h5m-5 2h5m-5 2h5m-4-7h5m-5 7h5m-4-1h5m-5-5h5m-2 4h5m-3 4h5m-5-4h5m-5-1h5m-4 3h5m-5 1h5m-4-5h5m-4-3h5m-5 1h5m-4 1h5m-5 2h5m-4 2h5m-4-5h5m-5 1h5m-5 6h5m-3-4h5m-4 0h5m-5 4h5m-2-5h5m-5 1h5m-4-3h5m-5-1h5m-3 2h5m-4 5h5m-4-7h5m-5 2h5m-4 3h5m-5 3h5m-4-2h5m-5 2h5m-5-5h5m-3-1h5m-5 4h5m-4-4h5m-5 3h5m-5 2h5m-4 2h5m-5-7h5m-4-1h5m-5 5h5m-4 3h5m-4-5h5m-2 1h5m-5 2h5m-5-1h5m-4-4h5m-3 2h5m-4-1h5m-5 2h5m-3 0h5m-3-5h5m-4 4h5m-4 4h5m-5 1h5m-4-6h5m-5 1h5m-5 2h5m-4 2h5m-5-2h5m-4-4h5m-5 3h5m-5 1h5m-4-5h5m-4 7h5m-4-7h5m-5 8h5m-3-3h5m-5-5h5m-4-1h5m-4 7h5m-5-1h5m-4-1h5m-4-1h5m-4 2h5m-5 3h5m-4-5h5m-4 1h5m-5-1h5m-4 5h5m-4 0h5m-2-2h5m-4-7h5m-2 9h5m-4-3h5m-4 2h5m-3-2h5m-5-5h5m-4 0h5m-5 1h5m-4 0h5m-5 2h5m-4-4h5m-5 2h5m-5-1h5m-2 5h5m-4-4h5m-4 0h5m-4 3h5m-1 4h5m-4-6h5m-3 4h5m-4-2h5m-5 2h5m-5-1h5m-4-1h5m-4 1h5m0-3h5m-3-1h5m-5-1h5m-5 2h5m-4 2h5m-4-4h5m-3 5h5m-3-4h5m7 0h5m12 1h5m-389 10h5m-4 4h5m12-6h5m11 6h5m-1-2h5m-4 0h5m1-2h5m-4-2h5m-4 8h5m1-7h5m-4 1h5m-3 1h5m-4-1h5m-4 4h5m-2-3h5m-5 2h5m-4-6h5m-4 3h5m-3 2h5m-5 2h5m-5 2h5m-3-8h5m-1 5h5m-5-6h5m-5 2h5m-4 6h5m-4-8h5m-4 5h5m-5-4h5m-5-1h5m-4 8h5m-5-6h5m-4 1h5m-3-3h5m-5 2h5m-5 4h5m-4 1h5m-5-7h5m-5 4h5m-4 2h5m-5-1h5m-5 2h5m-5 1h5m-3-3h5m-5 2h5m-4-7h5m-4 1h5m-5-1h5m-4 3h5m-4 6h5m-4-2h5m-5-7h5m-4 4h5m-5 4h5m-5-1h5m-5-6h5m-5-1h5m-4 4h5m-5 2h5m-5 2h5m-5-1h5m-5-6h5m-4-1h5m-4 7h5m-4-6h5m-5 7h5m-4-7h5m-5 1h5m-5 1h5m-5 2h5m-4-4h5m-5 5h5m-5 2h5m-4-1h5m-5-5h5m-5 2h5m-5 2h5m-4 3h5m-5-4h5m-4 2h5m-4-7h5m-4 0h5m-5 3h5m-5 2h5m-5 3h5m-5 1h5m-4-7h5m-5 3h5m-4-2h5m-5 2h5m-5 4h5m-5-7h5m-4 2h5m-5-4h5m-4 1h5m-5-1h5m-4 0h5m-4 8h5m-4 1h5m-5-9h5m-5 4h5m-4 1h5m-5-1h5m-4 0h5m-5 3h5m-5-5h5m-4-1h5m-5 2h5m-5 2h5m-4 0h5m-4-5h5m-5 3h5m-5 4h5m-4-3h5m-4-1h5m-5 3h5m-4-2h5m-4-1h5m-5-1h5m-4 6h5m-5-1h5m-5 2h5m-4-4h5m-5 4h5m-4-5h5m-5-4h5m-5 2h5m-4 6h5m-5-1h5m-4-1h5m-5-1h5m-5 3h5m-5-5h5m-5-1h5m-4 4h5m-3 1h5m-5-1h5m-5-1h5m-4 1h5m-5 3h5m-5-6h5m-4 2h5m-5 3h5m-4-6h5m-4-2h5m-5 6h5m-5 2h5m-4-5h5m-4 5h5m-5-1h5m-5-2h5m-5 1h5m-4-5h5m-5 5h5m-4-5h5m-4 7h5m-4-8h5m-4 0h5m-5 2h5m-4-2h5m-4 2h5m-5 1h5m-4-2h5m-4 6h5m-4-3h5m-5 2h5m-4 0h5m-4 0h5m-5 3h5m-5-6h5m-4 6h5m-5-8h5m-5-1h5m-4 7h5m-3-6h5m-5 3h5m-4-2h5m-5 7h5m-4-3h5m-5-1h5m-3-1h5m-5-3h5m-4 4h5m-3-1h5m-5-3h5m-4-1h5m-5 8h5m-4-2h5m-5-3h5m-4-3h5m-1 6h5m-1 1h5m-4-7h5m-1 3h5m-4 3h5m-5-5h5m-4 1h5m-1-1h5m-4 3h5m-2-2h5m-3 3h5m3-1h5m-1 3h5m-3-6h5m-4 3h5m-2-1h5m-4 4h5m-1-3h5m-1-4h5m-5 5h5m3-3h5m-5-2h5m-3 0h5m-4 9h5m-4-9h5m1 1h5m-4 1h5m-5 1h5m-3-1h5m-4-1h5m-2 4h5m-5 1h5m-4-4h5m-3 3h5m-4-4h5m-4 3h5m-5-2h5m-5-1h5m-2 6h5m-5-6h5m-4 8h5m-3-8h5m-5 2h5m-4 3h5m2 2h5m-4-6h5m-4 0h5m-2 5h5m-4 0h5m-5 1h5m-5-8h5m-5 3h5m-4 1h5m-4-2h5m-5-1h5m-5 2h5m-3 4h5m-4-6h5m-4 6h5m-2-6h5m-5 7h5m-4-1h5m-4-1h5m-5-6h5m-5 2h5m-1 3h5m-4-3h5m-2-2h5m-5 6h5m-4-4h5m-5 5h5m-4-6h5m-5 8h5m-4-8h5m-5 2h5m-4-1h5m-5 2h5m-4 0h5m-5 5h5m-4-9h5m-2 1h5m-5 2h5m-3 0h5m-2-3h5m-5 1h5m-4 1h5m-5 6h5m-4-5h5m-4 1h5m-3-4h5m-4 4h5m-5 5h5m-3-6h5m-4 2h5m-4-2h5m-5-2h5m-2 5h5m-3 0h5m-5-5h5m-4 1h5m-1 3h5m-4 1h5m-4-3h5m-2 5h5m-4-7h5m-3 0h5m-5 3h5m-5-4h5m-3 3h5m-1 2h5m-4-4h5m-3 7h5m-3-2h5m-1-6h5m9 3h5m-1-3h5m1 7h5m-3-3h5m-4 5h5m8-4h5m-339 10h5m1 0h5m-1-4h5m-4 0h5m-4 2h5m-5 6h5m-4-4h5m-5-3h5m-5 2h5m-2-3h5m-3-1h5m-3 6h5m-4 3h5m-5-6h5m-2 0h5m-2 5h5m-4-6h5m2-2h5m-4 2h5m-5 3h5m-4-4h5m-5 4h5m-4 4h5m-4-5h5m-4-4h5m-3 1h5m-4 5h5m-5 1h5m-5-7h5m-4 0h5m-5 6h5m-4-4h5m-4 6h5m-5-5h5m-4-3h5m-4 0h5m-5 4h5m-4 0h5m-5-1h5m-3-1h5m-4 4h5m-5-6h5m-5 9h5m-5-4h5m-2-5h5m-5 4h5m-4 0h5m-4 4h5m-5 1h5m-5-8h5m-5 4h5m-5-1h5m-3 4h5m-4-5h5m-5 3h5m-4-3h5m-5-1h5m-5 5h5m-5-6h5m-4 4h5m-5 2h5m-4-7h5m-4 7h5m-5-7h5m-4 9h5m-4-5h5m-5 2h5m-5-4h5m-4-1h5m-4 8h5m-5-3h5m-4-2h5m-5 3h5m-4-7h5m-5 4h5m-3-2h5m-4-2h5m-5 2h5m-4 1h5m-5-1h5m-5-1h5m-4 6h5m-4 2h5m-3-7h5m-5 7h5m-4-5h5m-5-3h5m-3 8h5m-3-4h5m-5-2h5m-3 1h5m-5 3h5m-4 0h5m-5 1h5m-4-1h5m-4-5h5m-5 4h5m-4 3h5m-4-5h5m-4 4h5m-5-1h5m-4-5h5m-5-2h5m-4 4h5m-5 4h5m-4-7h5m-4-1h5m-4 4h5m-5-2h5m-4 1h5m-4 6h5m-4-2h5m-3-5h5m-4 0h5m-4-2h5m-4 2h5m-3 6h5m-4-3h5m-3-4h5m-3 3h5m-5-4h5m0 2h5m-3-2h5m-4 2h5m-4 5h5m-4 1h5m-3 1h5m-2-2h5m-3-5h5m4 0h5m-4 1h5m-1-1h5m4 5h5m-1-1h5m4-3h5m3-3h5m-3 9h5m-2-6h5m-4 4h5m-5-6h5m8 1h5m0 0h5m-2 4h5m-5-4h5m-2-2h5m-2 4h5m-1-2h5m-2 0h5m-2-1h5m-2 7h5m-3-5h5m0 1h5m-5 3h5m-5 2h5m-3-3h5m-5 1h5m-4 1h5m-5-8h5m-4 5h5m-4-1h5m-4-2h5m-5 1h5m-4 5h5m-4 1h5m-3-2h5m-5-1h5m-3 0h5m-1 2h5m-4-2h5m-3-4h5m-4 3h5m-4-2h5m-5 3h5m-3 0h5m-5-1h5m-4-5h5m-3 2h5m-4 2h5m2-4h5m2 0h5m-4 3h5m-1 2h5m-3-1h5m-4 3h5m-5-6h5m-4 2h5m2 0h5m-3 0h5m-4-2h5m3-1h5m9 5h5m-313 6h5m-5-1h5m-3 0h5m-1 9h5m-3-8h5m-5 2h5m-5 1h5m-5 2h5m-4 2h5m1-5h5m-5 4h5m-5-7h5m-5 1h5m-3 2h5m-4 3h5m-4 1h5m-5-6h5m-5 2h5m-3-2h5m-5 5h5m-1-6h5m-5 1h5m-4-1h5m-4 5h5m-5 2h5m-4-4h5m-4-1h5m-4 6h5m-4-5h5m-1 6h5m-5-3h5m-5 2h5m-4-3h5m-3-5h5m0 5h5m-5-1h5m-4 2h5m-1-6h5m-4 3h5m-5 4h5m-3-1h5m-5-6h5m-4 3h5m-3-3h5m-4 7h5m-4-2h5m-5 1h5m-4-4h5m-4 0h5m-3-1h5m-4 0h5m-4 6h5m-5-7h5m-4 4h5m-3 2h5m-4-4h5m-5 3h5m-4-4h5m-4-1h5m-5 5h5m-4-5h5m-3 3h5m-4-3h5m-5 9h5m-3-4h5m-4 1h5m-4-5h5m-5 2h5m-4 1h5m-4-1h5m-4 3h5m-5-6h5m-4 0h5m-4 2h5m-4 5h5m-4-1h5m-4 3h5m-4-8h5m-1 0h5m-4 3h5m-3 3h5m-5 2h5m-4-4h5m-4-2h5m-5-1h5m-3 3h5m-1 2h5m-1-6h5m-3-1h5m0 8h5m-1-3h5m-5-3h5m-4 2h5m2 3h5m-1 1h5m-2-7h5m-2 1h5m-4 0h5m-5 3h5m6 1h5m1-4h5m-1 1h5m-2-3h5m2 1h5m2 4h5m1-2h5m-3 5h5m-5-8h5m-4 5h5m-4 1h5m4-6h5m-4 5h5m-4-3h5m-5 1h5m-2 1h5m2-2h5m-5 4h5m-5 2h5m-2-2h5m-4 2h5m-4-8h5m-3 3h5m-3-1h5m-4 3h5m13-5h5m-3 8h5m-4-2h5m0-3h5m0 5h5m-5-8h5m0 1h5m-1 2h5m-5-2h5m7 2h5m-4 0h5m-5-1h5m-2 0h5m-4 0h5m-2 2h5m9 4h5m7-8h5m7 0h5m1 4h5m-2 4h5m-368 3h5m46 2h5m1-3h5m-1 6h5m-2 3h5m-4-9h5m-3 8h5m-4 0h5m-3-7h5m1 0h5m-5 6h5m-3-7h5m-1 0h5m-4 9h5m-3-4h5m-3 4h5m-5-7h5m-4 5h5m-4-3h5m-4-4h5m-5 2h5m-5-1h5m-4-1h5m-3 0h5m-5 2h5m-4 7h5m-5-7h5m-5 3h5m-4 3h5m-1-1h5m-4-6h5m-5 2h5m-3-2h5m-4 5h5m-5-6h5m-4 7h5m-4-3h5m-3 0h5m-4 1h5m-5-5h5m-3 9h5m-4-9h5m-1 2h5m-4-1h5m-4 8h5m-3-3h5m-4 0h5m-2-1h5m-3-5h5m-4 7h5m-3-4h5m0 2h5m-3-3h5m-2 2h5m-3-4h5m-4 2h5m-1 5h5m-2-2h5m-4 2h5m2-5h5m-3-2h5m-2 4h5m-4 4h5m3-6h5m-5 2h5m-4-4h5m18 6h5m9-6h5m9 0h5m19 6h5m1 1h5m5 2h5m1-7h5m-1 0h5m-3 6h5m6-6h5m-1 3h5m10-5h5m4 2h5m14 6h5m-312 2h5m15 4h5m-4-4h5m9 0h5m-3 6h5m-2-1h5m-1-4h5m-4 3h5m-4-2h5m-1 6h5m-5-8h5m-4 5h5m-4 0h5m0 4h5m5-5h5m-4 4h5m-3-1h5m-3-2h5m2 4h5m0-6h5m1 1h5m4 0h5m1 2h5m-1-2h5m1 0h5m3-3h5m-5 6h5m0 0h5m19-7h5m21 4h5m9-3h5m5 3h5m0 0h5m-2-2h5m19 4h5m10-3h5m11-2h5m-250 13h5m1-2h5m23 0h5m-1 1h5m-1-1h5m0-1h5m0 4h5m-4 0h5m12 3h5m3-4h5m-1-3h5m84 0h5m17 4h5m29 1h5m-251 12h5m61-8h5m7 0h5m-1 0h5m23 2h5m-46 9h5m10 0h5m-1 8h5m0-1h5" stroke="#000" stroke-width="5" stroke-opacity="0.95" fill="none"/>
<path transform="scale(.1)" d="M4546 1367h5m-91 12h5m-213 1h5m56 7h5m179-7h5m-163 12h5m0 3h5m85-1h5m51 0h5m-227 12h5m268-6h5m191 5h5m-454 14h5m182-4h5m68-1h5m117 4h5m-377 10h5m22-8h5m23 3h5m1-3h5m21 9h5m4-5h5m-2 4h5m1-2h5m3-3h5m2-2h5m12 2h5m-4-1h5m9-2h5m11 7h5m29-5h5m3 4h5m8 3h5m-4-6h5m14 3h5m61 2h5m1 0h5m5-4h5m101 0h5m-435 6h5m8 8h5m42 0h5m16-6h5m18 5h5m21 0h5m3-4h5m44-1h5m0 2h5m12 2h5m6-5h5m-3 8h5m5-9h5m-5 4h5m-4 3h5m28 2h5m-2-8h5m59-1h5m30 1h5m21 4h5m-412 12h5m54-4h5m0 4h5m-1-1h5m9 3h5m13-4h5m-2-4h5m4 2h5m-3 1h5m20 3h5m7-1h5m-3-2h5m-2 4h5m-1-5h5m3-2h5m-3 7h5m6-6h5m-5 2h5m-2 0h5m-2-2h5m-2 0h5m16 1h5m8 3h5m-2-2h5m17 0h5m56 3h5m41-6h5m37 0h5m-446 18h5m9-3h5m-2-3h5m16 0h5m35 5h5m5-5h5m8 6h5m-5-8h5m6 3h5m-2 5h5m-1-1h5m10 1h5m-2-2h5m2-3h5m-1 3h5m12-4h5m-4 2h5m7 2h5m-4-2h5m8 4h5m-3-3h5m12-5h5m5 8h5m3-8h5m4 8h5m12-7h5m-4 0h5m18 3h5m19 4h5m25-1h5m52-2h5m11 0h5m-326 12h5m-5-8h5m2 6h5m-4-2h5m-4 5h5m16-5h5m7-2h5m-2 7h5m-4-6h5m8 4h5m-3-1h5m35-2h5m-1 0h5m-3-2h5m-4 0h5m-3 0h5m-3-2h5m-1 5h5m12 1h5m-5 3h5m-5-1h5m15-7h5m26 3h5m48 2h5m-2-2h5m-5 4h5m9-2h5m-3 1h5m-4-1h5m3-3h5m-326 7h5m0 2h5m14 4h5m11-2h5m12 5h5m-1-9h5m1 5h5m8 4h5m3-7h5m16 1h5m-1 3h5m-5-5h5m14 3h5m-3 1h5m-3-4h5m0 8h5m2 0h5m-1-2h5m2-1h5m1-4h5m-3 4h5m-4 3h5m0 0h5m-3-2h5m3-3h5m-2-1h5m3 0h5m6 6h5m43-8h5m4 0h5m15 5h5m0 3h5m2-2h5m42-3h5m2 0h5m100 4h5m24-7h5m-503 15h5m78-1h5m-5-5h5m-4 9h5m-4 0h5m15-4h5m4-1h5m-1 4h5m0-5h5m1 6h5m13-4h5m1-2h5m4 1h5m26 0h5m-1-3h5m-3 1h5m4 2h5m2 1h5m-3 0h5m7-1h5m6-1h5m-1 6h5m2-4h5m3 2h5m-3 0h5m10-6h5m7 3h5m31-3h5m3 3h5m3 5h5m12-9h5m30 3h5m-386 7h5m13 9h5m11-6h5m9 1h5m16-4h5m19 8h5m4-3h5m-3 1h5m38 0h5m8 2h5m22-8h5m-1 6h5m12-1h5m2-3h5m9 2h5m8 2h5m17-1h5m-4-3h5m21 7h5m28-2h5m-326 3h5m13 8h5m17-8h5m10 1h5m-3 3h5m19 3h5m9-4h5m-2-3h5m28 5h5m16 2h5m18-2h5m14-4h5m-5 8h5m15-9h5m-1 5h5m-3 1h5m24 2h5m-5-4h5m-4-2h5m9-1h5m41 3h5m2-2h5m3 4h5m4-5h5m-284 13h5m32 2h5m20-4h5m26 6h5m0 0h5m0-5h5m-3-2h5m-4 0h5m-1 1h5m18 3h5m10-5h5m-4 5h5m12 3h5m-1-1h5m-1-3h5m14 3h5m4 1h5m4-7h5m13 4h5m7 3h5m0-1h5m4-3h5m1 0h5m10-3h5m31 2h5m-398 14h5m48-1h5m1-1h5m34 2h5m54-5h5m0 0h5m1-1h5m10 2h5m15 1h5m-5 4h5m-1-8h5m19 4h5m11-1h5m6 2h5m-1-2h5m16 2h5m6-4h5m4 0h5m5 2h5m30 5h5m54-4h5m15-4h5m50 7h5m-428 6h5m-3-1h5m66 3h5m-1 3h5m41-2h5m63 1h5m36-4h5m90 6h5m-288 6h5m39-4h5m123 5h5m26-6h5m4 4h5m48-2h5m44 1h5m-425 16h5m34-8h5m16 1h5m74 1h5m29 6h5m22-8h5m63 6h5m-105 7h5m-4 3h5m205 2h5m-314 10h5m129 9h5m94-3h5m92 3h5" stroke="#000" stroke-width="5" stroke-opacity="0.4" fill="none"/>
<path transform="scale(.1)" d="M4547 1085h5m28 0h5m-61 14h5m-164 9h5m104-6h5m98 1h5m-1 6h5m-192 3h5m49 0h5m29 0h5m6 6h5m32-2h5m0 2h5m-103 8h5m48 3h5m3-1h5m28 0h5m128-6h5m-267 9h5m76 7h5m20-1h5m-134 12h5m71 0h5m-3-4h5m33-5h5m12 4h5m12 3h5m24 2h5m-90 3h5m25 0h5m105 5h5m-199 11h5m38 1h5m2-2h5m1 0h5m2-5h5m42 0h5m-113 11h5m0 3h5m40 1h5m-4 1h5m8-5h5m-5-3h5m18 2h5m-3-2h5m21 8h5m5-2h5m-2 1h5m-106 11h5m47-6h5m30 2h5m17-2h5m-138 11h5m22-1h5m26-2h5m24 3h5m0 6h5m45-8h5m7 2h5m21 2h5m2 2h5m2-4h5m-180 12h5m5-4h5m7-1h5m20 4h5m6-4h5m-2 8h5m-4-4h5m-127 12h5m45-6h5m5 7h5m-3-3h5m76 5h5m12-9h5m2 9h5m38-4h5m-246 11h5m94 1h5m7-7h5m-2 8h5m58-1h5m-155 12h5m68-8h5m3 1h5m41-1h5m6 6h5m24 0h5m15-6h5m86 8h5m-206 3h5m24-2h5m12 2h5m-2-1h5m56 1h5m18-2h5m109 7h5m-233 7h5m2 2h5m18 2h5m3-1h5m61 0h5m5-2h5m25-4h5m7 4h5m2 0h5m-289 10h5m16 4h5m81-6h5m36 6h5m10-8h5m17 3h5m-142 11h5m93-4h5m73 0h5m-133 12h5m75-2h5m-205 10h5m68 5h5m19-1h5m15-5h5m-1 2h5m2-2h5m1 1h5m1 3h5m2-2h5m25 1h5m108-3h5m-291 12h5m45 6h5m50-7h5m29 8h5m90-2h5m2-3h5m3 2h5m14-1h5m-5 4h5m1-6h5m-155 12h5m55-4h5m24 8h5m72-9h5m23 9h5m-270 10h5m127-5h5m1-2h5m103 5h5m-259 4h5m71-1h5m29 4h5m-37 7h5m10 4h5m8-2h5m8 3h5m20 0h5m102-4h5m-321 8h5m74 1h5m96 5h5m143 3h5m83 4h5m-320 26h5m49-8h5m59 28h5m-130 3h5m33-2h5m102 9h5m17-4h5m-49 37h5m-42 12h5" stroke="#000" stroke-width="5" stroke-opacity="0.3" fill="none"/>
<line x1="443.2" y1="95" x2="443.2" y2="160.2" stroke="#000" stroke-width="0.8"/>
<line x1="423.5" y1="139.4" x2="483.7" y2="139.4" stroke="#000" stroke-width="0.8"/>
<line x1="423.50" y1="160.2" x2="423.50" y2="161.79999999999998" stroke="#000" stroke-width="0.5"/>
<line x1="421.9" y1="160.20" x2="423.5" y2="160.20" stroke="#000" stroke-width="0.5"/>
<text class="s" x="422.7" y="165.5" font-size="2.8" fill-opacity="0.75">10<tspan dy="-1.2" font-size="2.2">0</tspan></text>
<text class="s" x="417.2" y="161.4" font-size="2.8" fill-opacity="0.75">10<tspan dy="-1.2" font-size="2.2">0</tspan></text>
<line x1="428.03" y1="160.2" x2="428.03" y2="161.1" stroke="#000" stroke-width="0.35"/>
<line x1="422.6" y1="155.29" x2="423.5" y2="155.29" stroke="#000" stroke-width="0.35"/>
<line x1="430.68" y1="160.2" x2="430.68" y2="161.1" stroke="#000" stroke-width="0.35"/>
<line x1="422.6" y1="152.42" x2="423.5" y2="152.42" stroke="#000" stroke-width="0.35"/>
<line x1="432.56" y1="160.2" x2="432.56" y2="161.1" stroke="#000" stroke-width="0.35"/>
<line x1="422.6" y1="150.39" x2="423.5" y2="150.39" stroke="#000" stroke-width="0.35"/>
<line x1="434.02" y1="160.2" x2="434.02" y2="161.1" stroke="#000" stroke-width="0.35"/>
<line x1="422.6" y1="148.81" x2="423.5" y2="148.81" stroke="#000" stroke-width="0.35"/>
<line x1="435.21" y1="160.2" x2="435.21" y2="161.1" stroke="#000" stroke-width="0.35"/>
<line x1="422.6" y1="147.52" x2="423.5" y2="147.52" stroke="#000" stroke-width="0.35"/>
<line x1="436.22" y1="160.2" x2="436.22" y2="161.1" stroke="#000" stroke-width="0.35"/>
<line x1="422.6" y1="146.42" x2="423.5" y2="146.42" stroke="#000" stroke-width="0.35"/>
<line x1="437.09" y1="160.2" x2="437.09" y2="161.1" stroke="#000" stroke-width="0.35"/>
<line x1="422.6" y1="145.48" x2="423.5" y2="145.48" stroke="#000" stroke-width="0.35"/>
<line x1="437.86" y1="160.2" x2="437.86" y2="161.1" stroke="#000" stroke-width="0.35"/>
<line x1="422.6" y1="144.65" x2="423.5" y2="144.65" stroke="#000" stroke-width="0.35"/>
<line x1="438.55" y1="160.2" x2="438.55" y2="161.79999999999998" stroke="#000" stroke-width="0.5"/>
<line x1="421.9" y1="143.90" x2="423.5" y2="143.90" stroke="#000" stroke-width="0.5"/>
<text class="s" x="437.8" y="165.5" font-size="2.8" fill-opacity="0.75">10<tspan dy="-1.2" font-size="2.2">1</tspan></text>
<text class="s" x="417.2" y="145.1" font-size="2.8" fill-opacity="0.75">10<tspan dy="-1.2" font-size="2.2">1</tspan></text>
<line x1="443.08" y1="160.2" x2="443.08" y2="161.1" stroke="#000" stroke-width="0.35"/>
<line x1="422.6" y1="138.99" x2="423.5" y2="138.99" stroke="#000" stroke-width="0.35"/>
<line x1="445.73" y1="160.2" x2="445.73" y2="161.1" stroke="#000" stroke-width="0.35"/>
<line x1="422.6" y1="136.12" x2="423.5" y2="136.12" stroke="#000" stroke-width="0.35"/>
<line x1="447.61" y1="160.2" x2="447.61" y2="161.1" stroke="#000" stroke-width="0.35"/>
<line x1="422.6" y1="134.09" x2="423.5" y2="134.09" stroke="#000" stroke-width="0.35"/>
<line x1="449.07" y1="160.2" x2="449.07" y2="161.1" stroke="#000" stroke-width="0.35"/>
<line x1="422.6" y1="132.51" x2="423.5" y2="132.51" stroke="#000" stroke-width="0.35"/>
<line x1="450.26" y1="160.2" x2="450.26" y2="161.1" stroke="#000" stroke-width="0.35"/>
<line x1="422.6" y1="131.22" x2="423.5" y2="131.22" stroke="#000" stroke-width="0.35"/>
<line x1="451.27" y1="160.2" x2="451.27" y2="161.1" stroke="#000" stroke-width="0.35"/>
<line x1="422.6" y1="130.12" x2="423.5" y2="130.12" stroke="#000" stroke-width="0.35"/>
<line x1="452.14" y1="160.2" x2="452.14" y2="161.1" stroke="#000" stroke-width="0.35"/>
<line x1="422.6" y1="129.18" x2="423.5" y2="129.18" stroke="#000" stroke-width="0.35"/>
<line x1="452.91" y1="160.2" x2="452.91" y2="161.1" stroke="#000" stroke-width="0.35"/>
<line x1="422.6" y1="128.35" x2="423.5" y2="128.35" stroke="#000" stroke-width="0.35"/>
<line x1="453.60" y1="160.2" x2="453.60" y2="161.79999999999998" stroke="#000" stroke-width="0.5"/>
<line x1="421.9" y1="127.60" x2="423.5" y2="127.60" stroke="#000" stroke-width="0.5"/>
<text class="s" x="452.8" y="165.5" font-size="2.8" fill-opacity="0.75">10<tspan dy="-1.2" font-size="2.2">2</tspan></text>
<text class="s" x="417.2" y="128.8" font-size="2.8" fill-opacity="0.75">10<tspan dy="-1.2" font-size="2.2">2</tspan></text>
<line x1="458.13" y1="160.2" x2="458.13" y2="161.1" stroke="#000" stroke-width="0.35"/>
<line x1="422.6" y1="122.69" x2="423.5" y2="122.69" stroke="#000" stroke-width="0.35"/>
<line x1="460.78" y1="160.2" x2="460.78" y2="161.1" stroke="#000" stroke-width="0.35"/>
<line x1="422.6" y1="119.82" x2="423.5" y2="119.82" stroke="#000" stroke-width="0.35"/>
<line x1="462.66" y1="160.2" x2="462.66" y2="161.1" stroke="#000" stroke-width="0.35"/>
<line x1="422.6" y1="117.79" x2="423.5" y2="117.79" stroke="#000" stroke-width="0.35"/>
<line x1="464.12" y1="160.2" x2="464.12" y2="161.1" stroke="#000" stroke-width="0.35"/>
<line x1="422.6" y1="116.21" x2="423.5" y2="116.21" stroke="#000" stroke-width="0.35"/>
<line x1="465.31" y1="160.2" x2="465.31" y2="161.1" stroke="#000" stroke-width="0.35"/>
<line x1="422.6" y1="114.92" x2="423.5" y2="114.92" stroke="#000" stroke-width="0.35"/>
<line x1="466.32" y1="160.2" x2="466.32" y2="161.1" stroke="#000" stroke-width="0.35"/>
<line x1="422.6" y1="113.82" x2="423.5" y2="113.82" stroke="#000" stroke-width="0.35"/>
<line x1="467.19" y1="160.2" x2="467.19" y2="161.1" stroke="#000" stroke-width="0.35"/>
<line x1="422.6" y1="112.88" x2="423.5" y2="112.88" stroke="#000" stroke-width="0.35"/>
<line x1="467.96" y1="160.2" x2="467.96" y2="161.1" stroke="#000" stroke-width="0.35"/>
<line x1="422.6" y1="112.05" x2="423.5" y2="112.05" stroke="#000" stroke-width="0.35"/>
<line x1="468.65" y1="160.2" x2="468.65" y2="161.79999999999998" stroke="#000" stroke-width="0.5"/>
<line x1="421.9" y1="111.30" x2="423.5" y2="111.30" stroke="#000" stroke-width="0.5"/>
<text class="s" x="467.8" y="165.5" font-size="2.8" fill-opacity="0.75">10<tspan dy="-1.2" font-size="2.2">3</tspan></text>
<text class="s" x="417.2" y="112.5" font-size="2.8" fill-opacity="0.75">10<tspan dy="-1.2" font-size="2.2">3</tspan></text>
<line x1="473.18" y1="160.2" x2="473.18" y2="161.1" stroke="#000" stroke-width="0.35"/>
<line x1="422.6" y1="106.39" x2="423.5" y2="106.39" stroke="#000" stroke-width="0.35"/>
<line x1="475.83" y1="160.2" x2="475.83" y2="161.1" stroke="#000" stroke-width="0.35"/>
<line x1="422.6" y1="103.52" x2="423.5" y2="103.52" stroke="#000" stroke-width="0.35"/>
<line x1="477.71" y1="160.2" x2="477.71" y2="161.1" stroke="#000" stroke-width="0.35"/>
<line x1="422.6" y1="101.49" x2="423.5" y2="101.49" stroke="#000" stroke-width="0.35"/>
<line x1="479.17" y1="160.2" x2="479.17" y2="161.1" stroke="#000" stroke-width="0.35"/>
<line x1="422.6" y1="99.91" x2="423.5" y2="99.91" stroke="#000" stroke-width="0.35"/>
<line x1="480.36" y1="160.2" x2="480.36" y2="161.1" stroke="#000" stroke-width="0.35"/>
<line x1="422.6" y1="98.62" x2="423.5" y2="98.62" stroke="#000" stroke-width="0.35"/>
<line x1="481.37" y1="160.2" x2="481.37" y2="161.1" stroke="#000" stroke-width="0.35"/>
<line x1="422.6" y1="97.52" x2="423.5" y2="97.52" stroke="#000" stroke-width="0.35"/>
<line x1="482.24" y1="160.2" x2="482.24" y2="161.1" stroke="#000" stroke-width="0.35"/>
<line x1="422.6" y1="96.58" x2="423.5" y2="96.58" stroke="#000" stroke-width="0.35"/>
<line x1="483.01" y1="160.2" x2="483.01" y2="161.1" stroke="#000" stroke-width="0.35"/>
<line x1="422.6" y1="95.75" x2="423.5" y2="95.75" stroke="#000" stroke-width="0.35"/>
<line x1="483.70" y1="160.2" x2="483.70" y2="161.79999999999998" stroke="#000" stroke-width="0.5"/>
<line x1="421.9" y1="95.00" x2="423.5" y2="95.00" stroke="#000" stroke-width="0.5"/>
<text class="s" x="482.9" y="165.5" font-size="2.8" fill-opacity="0.75">10<tspan dy="-1.2" font-size="2.2">4</tspan></text>
<text class="s" x="417.2" y="96.2" font-size="2.8" fill-opacity="0.75">10<tspan dy="-1.2" font-size="2.2">4</tspan></text>
<text class="s" x="424.3" y="101.8" font-size="5.9" text-anchor="start">0.4</text>
<text class="s" x="482.3" y="101.8" font-size="5.9" text-anchor="end">1.0</text>
<text class="s" x="482.5" y="157.4" font-size="5.9" text-anchor="end">37.1</text>
<rect x="344.6" y="173" width="60.60" height="65.20" fill="#fff" stroke="#111" stroke-width="0.75"/>
<path transform="scale(.1)" d="M3669 2124h5m5 12h5m-75 12h5m8 1h5m-4-4h5m0-1h5m0 0h5m27 4h5m12-8h5m6 5h5m-1 2h5m11 0h5m0-5h5m-140 11h5m8 4h5m15-1h5m-3 3h5m4-2h5m-5-7h5m2 9h5m-5-2h5m1-1h5m-5 2h5m-4 0h5m-3-7h5m-2 5h5m-4-5h5m-4 6h5m10 0h5m-5-6h5m-3-1h5m1 8h5m-4-6h5m-4-2h5m-2 6h5m-5-2h5m-2 5h5m-3-7h5m0 7h5m4-5h5m-124 11h5m6 3h5m0 0h5m-4-8h5m0 9h5m4-4h5m-2 1h5m-3 1h5m0-5h5m-1 7h5m-4-1h5m-5 1h5m-2-7h5m-4 0h5m-4 1h5m-5 2h5m-3 0h5m-4 1h5m-4 0h5m-4 1h5m-4-2h5m-5 3h5m-4-2h5m-1-3h5m-4 2h5m-5-3h5m-2-1h5m-2 4h5m-3 1h5m-4-4h5m-1 5h5m-1 2h5m0-3h5m-2 1h5m-3 1h5m-2-5h5m-2-1h5m-1-1h5m-4 0h5m-2 3h5m2 1h5m-1-4h5m-2 5h5m0 3h5m3-9h5m-167 17h5m23-6h5m-1 1h5m-3 6h5m-3 0h5m-3-3h5m-4-5h5m-1 6h5m-3 1h5m7 0h5m-4 2h5m-5-8h5m-3 6h5m-5-5h5m-4 7h5m-4-9h5m-3 8h5m-3-6h5m-3 5h5m-2-5h5m-4 3h5m-3-4h5m-3 2h5m-5 2h5m-5-1h5m-4 4h5m-5-6h5m-2-1h5m-4 8h5m-5-2h5m-4-3h5m-3 3h5m-4 0h5m-4-1h5m-3 1h5m-2-4h5m-5 2h5m-5 2h5m-5 1h5m-4-7h5m-4 7h5m-4-1h5m-5 2h5m-5-7h5m-4 4h5m-5 3h5m-5-1h5m-2-3h5m-3 3h5m-4 0h5m-2 0h5m2-3h5m-5 1h5m-1-5h5m-3-1h5m-4 1h5m-3 7h5m-2-3h5m-3-3h5m-4 5h5m-3 1h5m7-4h5m9-2h5m-139 9h5m2 1h5m-4 7h5m-1-8h5m-3 6h5m-5-1h5m-4-5h5m-4 4h5m-3-1h5m2 2h5m-4 1h5m-3 0h5m-4-1h5m-4-1h5m-5 2h5m-4-2h5m-4 3h5m-4-2h5m-5 3h5m-3-1h5m-4 0h5m-4-8h5m-5 3h5m-2-2h5m-3 2h5m-3-3h5m-5 2h5m-4 2h5m-4 0h5m-5 2h5m-3 0h5m-5 1h5m-4 0h5m-4-3h5m-4 2h5m-3-3h5m-5-2h5m-3 1h5m-4 1h5m-4 3h5m-5 2h5m-2 0h5m-5-5h5m-2-2h5m-5 6h5m-4-2h5m-3 1h5m-4 1h5m-3-3h5m-4 4h5m-5-5h5m-3 5h5m-5-3h5m-4 4h5m-5-3h5m-4-3h5m-5 1h5m-4-1h5m-3 6h5m0-3h5m-1 3h5m-2-8h5m-4 3h5m-3 4h5m-4 0h5m-3-4h5m-5 2h5m0-3h5m-4 6h5m-4-9h5m1 4h5m1 1h5m-143 5h5m-3 4h5m0 3h5m1-5h5m0-1h5m-2-1h5m1 7h5m5 0h5m-4-1h5m-5 3h5m-4-4h5m-4 1h5m-3-1h5m-5 4h5m-5-9h5m-4 6h5m-4 1h5m-4 0h5m-4-2h5m-5 4h5m-5-9h5m-2 1h5m-5 3h5m-4 4h5m-4-4h5m-3 5h5m-1-5h5m-5 1h5m-2-1h5m-5 1h5m-5 4h5m-4-4h5m-5 4h5m-5-1h5m-5-8h5m-5 4h5m-4 3h5m-5-7h5m-5 4h5m-5-1h5m-4 0h5m-5 6h5m-4-2h5m-5 2h5m-5-7h5m-5 2h5m-4 4h5m-5-6h5m-5 2h5m-4 4h5m-5-6h5m-4-1h5m-5-1h5m-5 2h5m-4-1h5m-5 1h5m-5 2h5m-5 4h5m-5 1h5m-3-9h5m-4 9h5m-4-6h5m-5-1h5m-5 2h5m-4-2h5m-5 4h5m-5 1h5m-4 0h5m-5 2h5m-5-9h5m-4 7h5m-5 1h5m-5-8h5m-5 3h5m-4 5h5m-4-6h5m-5-2h5m-4 2h5m-4 4h5m-4-6h5m-5 4h5m-4 4h5m-3-8h5m-4 7h5m-4-1h5m-5 3h5m-4-3h5m-4-3h5m-5 4h5m-4-4h5m-4 4h5m-5-4h5m-4-1h5m-5 2h5m-5 5h5m-5-9h5m-4 3h5m-5 1h5m-5 3h5m-5 2h5m-3-6h5m-3-2h5m-5-1h5m-4 8h5m-5 1h5m-4-2h5m-5-6h5m-5-1h5m-3 5h5m-4 3h5m-5-1h5m-3-3h5m-5 1h5m-2 2h5m-4 2h5m-4 0h5m-4-3h5m-3 1h5m-4-5h5m-5 2h5m-2-3h5m-3 3h5m-4 3h5m-3-3h5m-5 4h5m-4-5h5m-1 3h5m-3 2h5m2-7h5m-2 6h5m-4-6h5m2 7h5m-162 10h5m3-3h5m-1-5h5m2 2h5m-2 0h5m-4 3h5m-1-4h5m-3 7h5m-4 1h5m-4-4h5m-4 3h5m-3 0h5m-5-7h5m-3 5h5m-4 0h5m-4 0h5m-4 0h5m-3 2h5m-4-7h5m-4 7h5m-5 1h5m-4-1h5m-5-6h5m-4 6h5m-5-8h5m-5 3h5m-5-1h5m-4 1h5m-5 6h5m-4-7h5m-5 2h5m-5 2h5m-4 2h5m-4-6h5m-4 7h5m-5-8h5m-4 2h5m-5 3h5m-4-3h5m-5 4h5m-4-3h5m-5 5h5m-4-7h5m-5 2h5m-5 4h5m-5 1h5m-3-3h5m-5 2h5m-5-5h5m-5-1h5m-4 1h5m-2 6h5m-5-7h5m-4 7h5m-5-8h5m-5 1h5m-5 3h5m-4-1h5m-5 4h5m-3-5h5m-4-2h5m-5 5h5m-5 2h5m-4-7h5m-4 6h5m-5-7h5m-5 3h5m-4 1h5m-5-3h5m-5 2h5m-4 4h5m-5-7h5m-4 2h5m-5 2h5m-5 2h5m-5-1h5m-5 4h5m-5-6h5m-4-1h5m-5 4h5m-5 3h5m-4-9h5m-4 4h5m-5 4h5m-5-8h5m-5 9h5m-5-8h5m-4 7h5m-5 1h5m-5-6h5m-5 2h5m-4-4h5m-4-1h5m-5 4h5m-4 3h5m-4 1h5m-5-7h5m-5 3h5m-3 0h5m-4-1h5m-5 1h5m-5 3h5m-4-2h5m-5 1h5m-4-2h5m-5 4h5m-5-7h5m-5 2h5m-4 1h5m-5 4h5m-5-1h5m-4-5h5m-5 2h5m-5 4h5m-5-8h5m-4 5h5m-5 1h5m-5 2h5m-5-1h5m-4-3h5m-4 1h5m-5 3h5m-5-2h5m-4 2h5m-5-6h5m-4 3h5m-5 1h5m-4 1h5m-5 2h5m-5-5h5m-4 4h5m-5-1h5m-5-2h5m-4-2h5m-5 3h5m-4-6h5m-4 1h5m-5 1h5m-4 3h5m-5 1h5m-4 3h5m-5-8h5m-5 2h5m-5 3h5m-4 2h5m-5-8h5m-4 3h5m-5-1h5m-5 5h5m-5 1h5m-3-6h5m-5 4h5m-5-6h5m-4 4h5m-5-2h5m-5 3h5m-4 2h5m-4-4h5m-5-1h5m-5 5h5m-5-1h5m-5 2h5m-5-8h5m-4 8h5m-5-7h5m-4 3h5m-5 3h5m-4-5h5m-5 4h5m-2-3h5m-5 3h5m-4 1h5m-4-2h5m-5 4h5m-4-6h5m-4 4h5m-4 2h5m0-3h5m-4 3h5m-3-7h5m-4 6h5m-5-5h5m-5-1h5m-4 2h5m-3 2h5m-5 1h5m-4-4h5m-4 2h5m-4-5h5m-5 6h5m-3 0h5m0 0h5m0 0h5m-167 11h5m5-6h5m5 5h5m3 3h5m-4 0h5m-3-2h5m-4 0h5m-2-3h5m-1 4h5m-4 1h5m-4-3h5m-4 3h5m-5-4h5m-4 2h5m-5 2h5m-5-4h5m-4-4h5m-4 8h5m-5-8h5m-4 2h5m1-2h5m-5 3h5m-5 3h5m-4-2h5m-4-1h5m-5 5h5m-5-7h5m-4 3h5m-5 1h5m-5 2h5m-4 1h5m-4-2h5m-4-3h5m-4 3h5m-5-7h5m-4 7h5m-4 0h5m-5-7h5m-5 2h5m-5 3h5m-4 3h5m-4-7h5m-4 8h5m-4-6h5m-4 3h5m-5 2h5m-5 1h5m-4-4h5m-5 3h5m-5-1h5m-4-3h5m-5 3h5m-3-3h5m-5 2h5m-5-1h5m-5 2h5m-4-3h5m-5 5h5m-5-9h5m-4 1h5m-5 3h5m-4-4h5m-5 9h5m-5-4h5m-4 2h5m-5-7h5m-5 1h5m-4 8h5m-5-9h5m-5 3h5m-4 5h5m-5-5h5m-5 2h5m-4-5h5m-4 9h5m-4-3h5m-5-5h5m-5 3h5m-5 3h5m-4-5h5m-5 5h5m-4 1h5m-5-5h5m-4 0h5m-5-1h5m-5 3h5m-5 1h5m-5 1h5m-4-6h5m-5 1h5m-5 3h5m-5-1h5m-4 4h5m-5-1h5m-5-6h5m-5-1h5m-4 6h5m-5-6h5m-4 1h5m-5 5h5m-4-1h5m-5 4h5m-4-6h5m-4 4h5m-5-1h5m-5 2h5m-5-6h5m-5 3h5m-4 1h5m-5-6h5m-4 4h5m-5 5h5m-5-8h5m-4 0h5m-4 6h5m-5-7h5m-5 2h5m-5-1h5m-5 2h5m-4-2h5m-5 2h5m-5 4h5m-4 1h5m-5 1h5m-4 0h5m-4-4h5m-5 1h5m-5 3h5m-4 0h5m-5-9h5m-4 3h5m-5 4h5m-5 2h5m-4-8h5m-5 6h5m-5-7h5m-4 2h5m-5 3h5m-5 2h5m-5-7h5m-5 9h5m-4-6h5m-5-3h5m-5 9h5m-2-7h5m-5 1h5m-5 4h5m-4-6h5m-4 8h5m-4-6h5m-4 3h5m-5 2h5m-5-8h5m-5 1h5m-4-1h5m-5 1h5m-4 1h5m-5 3h5m-5-1h5m-4-2h5m-5 1h5m-4 3h5m-5 2h5m-4-5h5m-5 1h5m-5 3h5m-5 2h5m-4-3h5m-5-6h5m-4 1h5m-5 1h5m-5 2h5m-5 3h5m-4-1h5m-4-3h5m-4 1h5m-5 3h5m-4 0h5m-4-7h5m-4 4h5m-5 5h5m-4-3h5m-5-4h5m-4 7h5m-4-5h5m-5 3h5m-5-1h5m-4 3h5m-3-9h5m-4 6h5m-3-6h5m-5 2h5m-4-2h5m-4 1h5m-4 7h5m-3-4h5m0-3h5m-3 4h5m9-1h5m-149 14h5m-4-3h5m0-1h5m-4 3h5m-3 0h5m-4 1h5m-1 0h5m-2-4h5m-3 5h5m-3-2h5m-4 1h5m-5-8h5m-2 4h5m-5-2h5m-4 6h5m-5-6h5m-4-1h5m-3 6h5m-4 0h5m-5 2h5m-5-8h5m-5 4h5m-4 4h5m-4-6h5m-5 2h5m-4 4h5m-3-7h5m-5 1h5m-4 1h5m-5 4h5m-4 1h5m-4-3h5m-4-2h5m-5 4h5m-4-1h5m-5 2h5m-4-1h5m-4-7h5m-5 8h5m-4-2h5m-5 1h5m-5-8h5m-5 5h5m-5-1h5m-3-4h5m-5 9h5m-5-5h5m-4 2h5m-4 0h5m-5 2h5m-4 0h5m-4-7h5m-4 2h5m-5 1h5m-4-4h5m-5 4h5m-5 3h5m-5 2h5m-4-9h5m-4 3h5m-5 2h5m-5 2h5m-4-3h5m-5 3h5m-5 2h5m-4-4h5m-5 4h5m-5-7h5m-4-1h5m-5 8h5m-4-5h5m-5 3h5m-5-4h5m-5-1h5m-4 2h5m-5-1h5m-4 6h5m-5-7h5m-4 2h5m-5 2h5m-5 2h5m-4-1h5m-5 2h5m-5-1h5m-5-7h5m-5 2h5m-4 0h5m-5 4h5m-5 1h5m-3-8h5m-5 9h5m-5-8h5m-5 6h5m-5-1h5m-4-4h5m-5-1h5m-5 8h5m-4-1h5m-5-8h5m-5 2h5m-5-1h5m-5 2h5m-5 4h5m-4-7h5m-5 6h5m-5 2h5m-4-8h5m-5 4h5m-5 5h5m-4-5h5m-5 5h5m-4-7h5m-5 5h5m-5-7h5m-4 0h5m-5 3h5m-4 1h5m-5-1h5m-5 6h5m-5-7h5m-4 1h5m-5 2h5m-5 3h5m-5-8h5m-4 7h5m-4-2h5m-5 2h5m-5-1h5m-5 3h5m-5-6h5m-4 1h5m-5 3h5m-5-2h5m-4 0h5m-4 0h5m-5 1h5m-5 2h5m-5-8h5m-3 0h5m-5 2h5m-5 4h5m-4-4h5m-5 5h5m-4-5h5m-4 0h5m-5 2h5m-5 4h5m-5-8h5m-4 8h5m-5-8h5m-5 2h5m-5 1h5m-5 3h5m-4 3h5m-5-1h5m-5-6h5m-4 0h5m-4 3h5m-5 4h5m-4-6h5m-5 5h5m-5-7h5m-4 2h5m-5 6h5m-4-1h5m-5-7h5m-4 6h5m-5-7h5m-4 2h5m-5 3h5m-4 1h5m-5 3h5m-5-5h5m-5-1h5m-5 2h5m-4-5h5m-5 2h5m-4 1h5m-5 3h5m-3 1h5m-4-3h5m-3 1h5m-5 1h5m-4 2h5m-5-3h5m-5 2h5m-4-1h5m-5-6h5m-5 2h5m-3 1h5m-5 3h5m-4-2h5m-4-1h5m-5 2h5m-5 4h5m-3-2h5m-5-1h5m-4-3h5m-4 0h5m-3-3h5m-4 2h5m-5 4h5m-4-2h5m-4 3h5m4-4h5m-3-2h5m1 1h5m-4 0h5m-5-2h5m-4 4h5m4 4h5m-2-6h5m-3 0h5m-168 13h5m-2 1h5m-1 0h5m9-1h5m-4 1h5m-2 2h5m-5-7h5m-1 5h5m-2-3h5m-5 2h5m-5 2h5m-4-2h5m-4 1h5m-5-4h5m-4 0h5m-5-1h5m-4 3h5m-4-4h5m-4 1h5m-5 3h5m-5-4h5m-3 8h5m-3 0h5m-5-6h5m-4 0h5m-4 1h5m-5 5h5m-4-3h5m-4-3h5m-5 1h5m-4 3h5m-5 3h5m-5-1h5m-4-8h5m-5 2h5m-5 2h5m-4-2h5m-5 1h5m-1 3h5m-5-2h5m-4 1h5m-5-4h5m-4 5h5m-5 3h5m-5-1h5m-5-6h5m-4 2h5m-5-1h5m-5 2h5m-4-1h5m-5-3h5m-4 7h5m-5-6h5m-5 2h5m-5-1h5m-4 5h5m-5-8h5m-5 2h5m-4 3h5m-5 2h5m-4-6h5m-4 8h5m-5-3h5m-4-3h5m-4-3h5m-5 2h5m-5 1h5m-5 2h5m-4-4h5m-5 4h5m-5-3h5m-4 0h5m-5 2h5m-5-1h5m-5 4h5m-4-1h5m-5-1h5m-5 4h5m-4-8h5m-5 3h5m-5 2h5m-5-4h5m-4 0h5m-5 3h5m-5 2h5m-5 1h5m-5-8h5m-4 7h5m-5-6h5m-4 0h5m-5 7h5m-5-8h5m-4 6h5m-5-5h5m-5 2h5m-5 2h5m-4 2h5m-5-1h5m-4 2h5m-5-7h5m-4 6h5m-4-7h5m-5 2h5m-5-1h5m-4 1h5m-5-1h5m-5 2h5m-5 4h5m-5-1h5m-5 2h5m-4-8h5m-4 1h5m-5 2h5m-4-2h5m-5 4h5m-5 1h5m-5 2h5m-4-2h5m-5 1h5m-4-7h5m-5 5h5m-4-5h5m-5 2h5m-5 1h5m-5 3h5m-4 0h5m-5 3h5m-5-1h5m-4-7h5m-5 3h5m-5 1h5m-5 1h5m-5 3h5m-5-9h5m-4 6h5m-5-3h5m-4 0h5m-5 2h5m-5 2h5m-5-7h5m-5 2h5m-4 2h5m-5-1h5m-5 6h5m-5-9h5m-4 4h5m-4 2h5m-5-6h5m-5 2h5m-5-1h5m-4 7h5m-5-8h5m-5 2h5m-5-1h5m-4 1h5m-5-1h5m-5 3h5m-5 2h5m-4-1h5m-5 4h5m-5-6h5m-4 5h5m-5-7h5m-4 4h5m-5-4h5m-5 2h5m-4-1h5m-5 1h5m-5 3h5m-4-4h5m-5 1h5m-5 3h5m-5-1h5m-5 4h5m-4-9h5m-4 3h5m-4-3h5m-5 5h5m-5 4h5m-4-8h5m-5 5h5m-5 1h5m-4-1h5m-4 0h5m-5 3h5m-4-5h5m-5-1h5m-5-1h5m-4 5h5m-5-7h5m-5 1h5m-4 5h5m-3 1h5m-5 2h5m-5-7h5m-4 3h5m-4-2h5m-4-3h5m-3 8h5m-5-3h5m-4-5h5m-4 5h5m-5 2h5m-4-4h5m-4 3h5m-4-4h5m-5-2h5m-3 4h5m-5-3h5m-2 2h5m-4 0h5m-4 3h5m-2 2h5m-4 0h5m-4-8h5m-5 6h5m-3-6h5m-4 1h5m4 8h5m-2-9h5m-172 17h5m17-2h5m-1 3h5m0 1h5m-2-9h5m-3 6h5m-4 0h5m-1-6h5m-4 1h5m-3 2h5m-4-1h5m-2 2h5m-5 2h5m-4-6h5m-5 7h5m-4-7h5m-5 7h5m-4 2h5m-5-1h5m-3-7h5m-5 5h5m-5-1h5m-4 3h5m-4-8h5m-5 9h5m-4-9h5m-4 3h5m-2 2h5m-5-5h5m-4 6h5m-5 1h5m-4 0h5m-5-6h5m-4 5h5m-5-1h5m-3 4h5m-5-1h5m-5-8h5m-5 2h5m-4 0h5m-5 3h5m-4-3h5m-5 6h5m-4-5h5m-5 2h5m-5 2h5m-5-7h5m-4 0h5m-5 1h5m-5 6h5m-3-7h5m-5 2h5m-5-1h5m-3 2h5m-5 3h5m-5-2h5m-4 1h5m-5 2h5m-4-1h5m-5 3h5m-4-6h5m-5 3h5m-4-3h5m-5 3h5m-5 3h5m-4-9h5m-5 6h5m-5-1h5m-4 3h5m-4-7h5m-5 3h5m-5 2h5m-5 1h5m-4 0h5m-4-7h5m-5 1h5m-5 7h5m-4-5h5m-4-2h5m-5 2h5m-4-3h5m-5 6h5m-5-1h5m-4-5h5m-5 2h5m-5 2h5m-5-1h5m-5 4h5m-4-4h5m-5-3h5m-5 2h5m-4-2h5m-5 2h5m-5 4h5m-5 2h5m-4-4h5m-4 0h5m-5 3h5m-5-7h5m-4 9h5m-4-3h5m-5-1h5m-5 4h5m-4-2h5m-4-3h5m-5 2h5m-4 3h5m-5-7h5m-3-1h5m-5 3h5m-4 1h5m-5 3h5m-5-1h5m-5 2h5m-5-9h5m-4 1h5m-5 3h5m-5 2h5m-5-1h5m-5 2h5m-4-6h5m-5-1h5m-5 5h5m-4-1h5m-5 1h5m-5 2h5m-4-6h5m-5 5h5m-5 2h5m-4-8h5m-4 0h5m-5 3h5m-5-1h5m-5 6h5m-5-7h5m-4-1h5m-5 4h5m-4 3h5m-4-2h5m-5 3h5m-5-1h5m-5-6h5m-4 8h5m-5-7h5m-4 2h5m-5-3h5m-5 2h5m-5-1h5m-4 3h5m-5-5h5m-4 3h5m-5 3h5m-4-4h5m-4-1h5m-5-1h5m-5 3h5m-5 5h5m-5-1h5m-4 0h5m-5-3h5m-4 0h5m-4 0h5m-4 4h5m-5-8h5m-4 0h5m-5 3h5m-5 3h5m-5 2h5m-5 1h5m-4-2h5m-4-4h5m-4 1h5m-4-1h5m-5 5h5m-3-4h5m-5-3h5m-4 5h5m-5 3h5m-4-8h5m-5-1h5m-5 2h5m-4 5h5m-5-1h5m-4-3h5m-4 6h5m-3-8h5m-3 4h5m-3-5h5m-5 5h5m-5 4h5m-1-7h5m-3 3h5m-5-4h5m-4 5h5m-3-6h5m8 5h5m-1-5h5m-139 10h5m2 3h5m-4 3h5m-4 0h5m-4-4h5m-4 0h5m-4-1h5m0 5h5m-5-1h5m-3 1h5m-5 2h5m-5-1h5m-5-6h5m-4 3h5m-5 1h5m-4 1h5m-4-5h5m-5 6h5m-5-7h5m-4 1h5m-5 7h5m-4-7h5m-5 4h5m-4 2h5m-4-6h5m-5 5h5m-3 2h5m-5-1h5m-3-1h5m-5-1h5m-5-4h5m-5-1h5m-5 4h5m-3-3h5m-5 2h5m-4 2h5m-4-1h5m-5 3h5m-4-6h5m-5-1h5m-4 7h5m-4-2h5m-4-5h5m-5 3h5m-5 1h5m-4 5h5m-4-5h5m-5 4h5m-4-5h5m-5 4h5m-4-1h5m-5-1h5m-4-5h5m-5 2h5m-5 2h5m-5 1h5m-4 0h5m-4-5h5m-5 6h5m-5 3h5m-4-4h5m-5-4h5m-5 2h5m-4 2h5m-5 3h5m-5 1h5m-4-3h5m-5-6h5m-5 2h5m-5 2h5m-4 4h5m-5-8h5m-5 2h5m-4 2h5m-5 4h5m-4 1h5m-5-8h5m-5 1h5m-4 4h5m-5-6h5m-5 2h5m-4 3h5m-5 2h5m-4-7h5m-5 3h5m-5-1h5m-5 2h5m-5 1h5m-4 0h5m-4-4h5m-5 3h5m-5 3h5m-4 0h5m-5-7h5m-4 4h5m-5 4h5m-4-5h5m-5 1h5m-4 2h5m-5-1h5m-5-5h5m-4 3h5m-4-2h5m-4 5h5m-5 3h5m-5-7h5m-4 5h5m-5-7h5m-5 3h5m-4 6h5m-4-1h5m-5-7h5m-5 1h5m-4 7h5m-5-5h5m-5 2h5m-5 2h5m-4-3h5m-5 3h5m-4-5h5m-4-3h5m-5 3h5m-4 3h5m-4-1h5m-4-2h5m-5 5h5m-4-6h5m-5 3h5m-5 3h5m-5 1h5m-4-3h5m-5 1h5m-4 2h5m-3-4h5m-4 1h5m-5-4h5m-4 5h5m-4-7h5m-5 4h5m-3-1h5m-3 4h5m-4-5h5m-4 7h5m-5-9h5m-5 4h5m-5 4h5m-4-5h5m-3-1h5m-4 5h5m-4-7h5m-5 4h5m-4 3h5m-4-1h5m-2-2h5m-4 2h5m-4 2h5m-3-7h5m-5 3h5m-3-3h5m-5 7h5m-2-2h5m-5 1h5m-3-6h5m7 2h5m4 0h5m-154 15h5m-2 0h5m6-2h5m-1-3h5m-1 6h5m-3-5h5m-5 1h5m-4-4h5m-1 4h5m-5-4h5m-2 3h5m-5 4h5m-4-2h5m-5 2h5m-5-1h5m-4 1h5m-3-6h5m-4 2h5m-5 2h5m-5 2h5m-5-6h5m-4 7h5m-4-5h5m-4 1h5m-3 3h5m-5 1h5m-4-8h5m-4 8h5m-5-1h5m-4-5h5m-4-1h5m-5 2h5m-4 2h5m-4-3h5m-5 4h5m-3-6h5m-5 2h5m-4-1h5m-4 5h5m-5-4h5m-4 4h5m-5-3h5m-2-1h5m-5 1h5m-4 5h5m-5-2h5m-4 0h5m-5-1h5m-4 1h5m-4 2h5m-5-7h5m-5 2h5m-4 2h5m-5 1h5m-4-1h5m-4-3h5m-5 3h5m-5 3h5m-4-6h5m-5 3h5m-5-6h5m-5 9h5m-4-6h5m-5 5h5m-2 0h5m-5-8h5m-5 2h5m-4-2h5m-5 3h5m-5 1h5m-4 4h5m-3-1h5m-5 1h5m-4-7h5m-5 2h5m-5-3h5m-4 3h5m-4 3h5m-4-4h5m-5-1h5m-5 5h5m-3-3h5m-3 4h5m-5 2h5m-5-8h5m-5 4h5m-3 2h5m-5 1h5m-5-6h5m-4 6h5m-5-8h5m-4 5h5m-5 1h5m-5-5h5m-4 7h5m-5-8h5m-5 1h5m-5 3h5m-3-1h5m-5-1h5m-4 4h5m-4 2h5m-5-8h5m-3 4h5m-3 1h5m-5 4h5m-4-7h5m-5-2h5m-4 7h5m-5-7h5m-4 5h5m-4 2h5m-4-1h5m0-2h5m-4 3h5m0-3h5m-3-4h5m-1 1h5m-5 8h5m-4-2h5m-1-4h5m-3-2h5m17 8h5m-168 5h5m11 1h5m1 4h5m-3-7h5m-5 3h5m-3 3h5m1-1h5m1-5h5m-3 3h5m-2-4h5m-4 5h5m-1-3h5m-4 4h5m-4-3h5m-4-1h5m-5 2h5m-5-4h5m-4 2h5m-5 1h5m-1 0h5m-5-1h5m-4-1h5m-3 1h5m-5 3h5m-4-4h5m-5 1h5m-3-1h5m-5-2h5m-4 5h5m-5 1h5m-4-2h5m-4-1h5m-5 3h5m-4-2h5m-5-1h5m-4-3h5m-4 0h5m-5 9h5m-5-7h5m-4-2h5m-3 2h5m-5-1h5m-5 2h5m-5 3h5m-4-6h5m-5 2h5m-5 1h5m-4-1h5m-5 2h5m-5-4h5m-4 0h5m-5 7h5m-4-5h5m-5-1h5m-5 4h5m-2-3h5m-5-2h5m-4 3h5m-5 4h5m-4-2h5m-3-5h5m-4 7h5m-5 2h5m-5-7h5m-5-1h5m-4 2h5m-3-2h5m-5 2h5m-4-3h5m-5 4h5m-4 0h5m-5 1h5m-5 2h5m-4 2h5m-5-8h5m-1 8h5m-4-5h5m-5-4h5m-5 1h5m-2 2h5m-5-2h5m-3 2h5m-4 0h5m-5 3h5m-5 3h5m-3-4h5m-3-5h5m-4 9h5m-1-7h5m-4 0h5m-5 7h5m-3-7h5m-4-2h5m-5 3h5m-2 1h5m-2-2h5m-5 1h5m-2-3h5m-1 3h5m0-1h5m1 4h5m-123 8h5m4 3h5m-5 1h5m-4-8h5m-1 1h5m-1 4h5m-4-5h5m-4 6h5m-5-3h5m-1 5h5m-5-8h5m-3 4h5m-4-4h5m-4 6h5m-4 0h5m-4 1h5m-2-5h5m-4 4h5m-4 3h5m-3-8h5m-4 2h5m-5 4h5m-1-7h5m-2 7h5m-3-6h5m-4 5h5m-4 0h5m-4 0h5m-4 0h5m-5-4h5m-3 2h5m-4 1h5m-4 2h5m-5 1h5m-4-4h5m-4 0h5m-4 3h5m-4-5h5m-3 4h5m-4 2h5m-5-8h5m-5 1h5m-3-1h5m-2 7h5m-5 2h5m-5-7h5m-4 5h5m-4-6h5m-3 0h5m-5 3h5m-1-2h5m-2-2h5m-4 4h5m-5-4h5m-2 8h5m-3 1h5m-1-6h5m-4 0h5m-1 1h5m-4 3h5m-3-7h5m-110 12h5m-5 7h5m12-7h5m7-2h5m-1 2h5m-5 7h5m-4-9h5m-5 2h5m-1 2h5m-5-1h5m-4-2h5m-4 6h5m-4-7h5m4 8h5m-4 0h5m-5-4h5m-4-2h5m-5 1h5m-4-3h5m-5 6h5m-2 1h5m-4 1h5m-5-6h5m-4 7h5m2-6h5m-4 6h5m-5-8h5m-4 4h5m-4-5h5m-4 2h5m-5 5h5m-4-2h5m-5-5h5m-3 8h5m2-7h5m-3 5h5m-2-2h5m16 3h5m-105 7h5m-2 5h5m0-7h5m3 7h5m-1-4h5m-4 4h5m-4-5h5m-2-2h5m0-2h5m-3 0h5m-4 1h5m-3 5h5m8-6h5m3 8h5m-4-5h5m-4 4h5m-3-3h5m-2-3h5m2-1h5m2 2h5m2 1h5m-93 7h5m-2 4h5m6 3h5m-5 2h5m3-7h5m-2 7h5m0-6h5m13-3h5m-3 2h5m-3 2h5m-2 5h5m-5-2h5m1-7h5m-3 0h5m0 3h5m-1-3h5m-57 10h5m-1 1h5m-1 3h5m1 2h5m14 0h5m-53 4h5m6 7h5m5 10h5" stroke="#000" stroke-width="5" stroke-opacity="0.9" fill="none"/>
<path transform="scale(.1)" d="M3731 2139h5m-3-4h5m-4 2h5m44-3h5m-4-2h5m27 3h5m0 3h5m-2-5h5m8-1h5m-171 17h5m4-2h5m12-1h5m-2-4h5m-4 7h5m11-5h5m-4 1h5m-2 0h5m-3-5h5m23 5h5m-2-3h5m-4 1h5m-2 0h5m25-3h5m-4 1h5m-1 7h5m4-8h5m11 6h5m5-4h5m42-1h5m-209 12h5m-4 6h5m5-2h5m11-1h5m11 2h5m-3-7h5m4 7h5m-4-3h5m-2-4h5m4 5h5m-3 0h5m-4-2h5m7 1h5m-4 2h5m-5-6h5m-4 8h5m-4-3h5m-5-1h5m-4 0h5m-4 2h5m6 0h5m-5-1h5m0-4h5m-1-1h5m-2 3h5m-4-2h5m-3 7h5m-3 0h5m2 0h5m-4-8h5m-5 6h5m13-6h5m-4 7h5m2-1h5m9-1h5m3-4h5m3 5h5m9-2h5m6 3h5m-261 11h5m17-3h5m24-3h5m3 5h5m5-8h5m6 6h5m-4-6h5m-1 1h5m1 8h5m-3-1h5m-5-3h5m-4 0h5m-5 2h5m-4-5h5m-5 7h5m-3-2h5m-4-2h5m-3-2h5m-4-3h5m-4 2h5m-4 1h5m-3-2h5m-5 2h5m1-3h5m-3 8h5m-3-7h5m-3 7h5m-4-7h5m-3 8h5m-4-9h5m-4 9h5m-5-1h5m-4-4h5m-4 1h5m-4-2h5m-4 6h5m0-8h5m-5 8h5m-3-5h5m-5 5h5m-4-1h5m-4 0h5m-2-6h5m-3 6h5m-5-7h5m-4 6h5m-4-7h5m-5 2h5m-5 3h5m-5 2h5m-3 1h5m-3 0h5m-5-8h5m-4 2h5m-5 1h5m-2 1h5m-4-4h5m1 7h5m-2 1h5m-2-7h5m-3 8h5m-5-8h5m-4 7h5m-4-1h5m-4-4h5m-4 3h5m-4 3h5m0-7h5m-5 5h5m-4-7h5m-4 6h5m-1-2h5m-3-4h5m-4 9h5m-4-3h5m-3 3h5m-5-9h5m-5 3h5m-5 3h5m-3 0h5m-4-6h5m-3 2h5m-2 1h5m-4-1h5m-2 4h5m-3-6h5m-1 5h5m-3-5h5m-2 6h5m0-3h5m-5-1h5m-2 7h5m-4-9h5m-3 9h5m9-7h5m3 0h5m13-1h5m4 1h5m30-2h5m-327 14h5m39-2h5m8 5h5m-3-4h5m10 5h5m-4-5h5m5 2h5m-3 0h5m-4-2h5m-2-3h5m-3 0h5m-3 2h5m-5 6h5m-3-8h5m-5 1h5m-2 2h5m-5 4h5m-4 1h5m-4-6h5m-4 1h5m-5 4h5m-3-5h5m-3 4h5m-5 2h5m-3-3h5m-3-3h5m-3-1h5m-5 6h5m-3 0h5m-5-7h5m-4 8h5m-1-2h5m-4 1h5m-5 2h5m-5-9h5m-5 5h5m-3-1h5m-3-2h5m-5 3h5m-1 2h5m-4-2h5m-5 4h5m-5-7h5m-3-2h5m-3 7h5m-4-1h5m-4 3h5m-4 0h5m-5-8h5m-4 3h5m-4 1h5m-5 1h5m-3-1h5m-5-3h5m-3 0h5m-4 1h5m-4 2h5m-4-3h5m-5 2h5m-5 2h5m-5 1h5m-4-1h5m-5-1h5m-5-3h5m0-1h5m-5 2h5m-4 3h5m-4 0h5m-3 1h5m-4-2h5m-5 2h5m-4 0h5m-4-6h5m-2 4h5m-2 1h5m-4-6h5m-4 4h5m-4 4h5m-5-4h5m-4 1h5m-5 4h5m-5-7h5m-4 6h5m-3 1h5m-1-7h5m-4-2h5m-5 7h5m-3 2h5m-4-7h5m-4 6h5m-5 1h5m-2-2h5m-4-7h5m-4 7h5m-5-5h5m-4 5h5m-4 2h5m-3-1h5m-4-2h5m-5 2h5m-5-3h5m-4 3h5m-2-6h5m-2 1h5m-5 2h5m-5-4h5m-4 4h5m-5-2h5m-3 2h5m-5 2h5m-4-1h5m-5-5h5m-4 6h5m-2 2h5m-3-7h5m-3 7h5m-4-5h5m-4-4h5m-4 8h5m-4-5h5m-3-2h5m-4 2h5m-5 2h5m0 0h5m-4-2h5m-5 2h5m-1 1h5m-2 1h5m-3 1h5m-5 1h5m-1-5h5m-5 1h5m1-3h5m2 3h5m-3-4h5m-5 1h5m-5 2h5m-4 1h5m-4-3h5m3 5h5m-1 2h5m-3-9h5m-2 7h5m-1 0h5m8-6h5m-250 15h5m6-5h5m3 5h5m0 1h5m-5 2h5m3-6h5m-5 3h5m-5-1h5m-1-5h5m-4 3h5m-5 2h5m-3 2h5m-3-4h5m-3-1h5m1 7h5m-3-6h5m-3 5h5m-5 1h5m-4-5h5m-5 4h5m-5-1h5m-3 1h5m-5-1h5m-4 2h5m-4-5h5m-2-1h5m-3-3h5m-5 8h5m-4-1h5m-5-5h5m-3 6h5m-4-4h5m-4-3h5m-4 7h5m-4-8h5m-5 7h5m-4-5h5m-5 4h5m-4-2h5m-4 1h5m-5-5h5m-3 8h5m-5-7h5m-3-1h5m-5 2h5m-4 0h5m-5 3h5m-4-5h5m-4 0h5m-3 6h5m-5 2h5m-4-5h5m-5 3h5m-5-1h5m-5-4h5m-4-1h5m-5 3h5m-4-1h5m-5 6h5m-5 1h5m-4-7h5m-5 6h5m-4-8h5m-4 6h5m-5 3h5m-5-9h5m-4 2h5m-3 4h5m-5 2h5m-5-1h5m-5 2h5m-4-6h5m-2 4h5m-5 1h5m-4 1h5m-4-8h5m-5 1h5m-3 0h5m-4 6h5m-5-1h5m-4-3h5m-5 3h5m-5 2h5m-4-5h5m-4-1h5m-5-1h5m-5 7h5m-2-8h5m-4 7h5m-5-1h5m-5 2h5m-5-4h5m-3-5h5m-4 7h5m-5-5h5m-4 2h5m-5 3h5m-5-4h5m-4 0h5m-4 4h5m-5-5h5m-5 2h5m-4 1h5m-5 2h5m-3-4h5m-3 1h5m-4-1h5m-4 0h5m-4 5h5m-5 1h5m-2-3h5m-4 2h5m-5-7h5m-5 2h5m-4 4h5m-4-1h5m-4-4h5m-4 1h5m-5 2h5m-3-2h5m-5 3h5m-5 2h5m-3 1h5m-4-2h5m-4-4h5m-5-1h5m-5 6h5m-4 1h5m-4-4h5m-4-2h5m-4 3h5m-4 3h5m-5-7h5m-4 3h5m-5-2h5m-4 1h5m-4-4h5m-5 3h5m-5 2h5m-3 1h5m-4 3h5m-4-1h5m-4-6h5m-3-1h5m-5 5h5m-1-5h5m-3 6h5m-1-7h5m-5 4h5m-3 5h5m-5-7h5m-2 7h5m-5-6h5m-5 1h5m-5 3h5m-2-1h5m-3-5h5m-5 3h5m-5 1h5m-5 4h5m-4-4h5m-4-1h5m-5 2h5m-4-5h5m-3 8h5m-3-5h5m-4-1h5m-5 6h5m-4-5h5m-3 5h5m-5-9h5m-2 1h5m-5 3h5m-5 3h5m-3-3h5m-4 2h5m-3-3h5m-2 4h5m-2 1h5m-3-3h5m0 1h5m-5-6h5m-1 9h5m-3-8h5m-1-1h5m4 4h5m-256 12h5m1-1h5m-3 1h5m4-3h5m1 1h5m-4 3h5m-4-1h5m2-3h5m2 1h5m-4-1h5m-3 2h5m-4-1h5m-2-1h5m-2 1h5m-4 3h5m-2-1h5m-3-6h5m-4 4h5m0-1h5m-4-1h5m-5 2h5m-3-3h5m-3 8h5m-2-3h5m-4-1h5m-4 0h5m-4-2h5m-4 0h5m-5 1h5m-4-3h5m0 0h5m-5 4h5m-5 1h5m-2-6h5m-5 8h5m-4 1h5m-2-2h5m-5-7h5m-2 4h5m-5 4h5m-5-7h5m-4 0h5m-3 1h5m-4-2h5m-5 4h5m-2-3h5m-4 4h5m-4 0h5m-5-1h5m-5 4h5m-5 1h5m-4-3h5m-5 2h5m-4-4h5m-5 4h5m-4-4h5m-5 5h5m-4-9h5m-4 5h5m-5-1h5m-4 2h5m-5-5h5m-4 7h5m-4 1h5m-5-6h5m-5 4h5m-4 0h5m-5-7h5m-5 2h5m-5 4h5m-4-4h5m-4 5h5m-3 2h5m-3-2h5m-5-6h5m-4 2h5m-5-1h5m-5 5h5m-4 1h5m-5-8h5m-4 4h5m-5 5h5m-3-1h5m-4-6h5m-5 3h5m-4 1h5m-4 1h5m-5-1h5m-4 1h5m-5-5h5m-4 1h5m-5 3h5m-5 2h5m-4-6h5m-5 3h5m-5-1h5m-5 2h5m-4-5h5m-4-1h5m-5 5h5m-3 1h5m-4-4h5m-3 0h5m-4 5h5m-5 2h5m-5-8h5m-5 2h5m-5-1h5m-5 3h5m-4-1h5m-5 3h5m-4 1h5m-4-3h5m-3 2h5m-4-1h5m-3-6h5m-4 7h5m-5-1h5m-5-6h5m-4 3h5m-5 1h5m-4-3h5m-4 0h5m-5 1h5m-5 7h5m-4-8h5m-4 3h5m-5-1h5m-4 2h5m-5 2h5m-5-5h5m-4 0h5m-5 1h5m-5 3h5m-4 1h5m-5 2h5m-4-6h5m-5 4h5m-5-1h5m-4-2h5m-4 4h5m-4-3h5m-5-1h5m-4 0h5m-5-2h5m-4 3h5m-5-2h5m-4 6h5m-5-4h5m-4-3h5m-5 1h5m-4 2h5m-4 3h5m-5-8h5m-5 3h5m-5 3h5m-4-1h5m-4-2h5m-4 0h5m-5 2h5m-4-4h5m-3 3h5m-5-1h5m-5 6h5m-4-5h5m-5-1h5m-5 5h5m-4-4h5m-5-1h5m-4 4h5m-5-6h5m-2 5h5m-5-3h5m-3 2h5m-3 1h5m-5 2h5m-2-3h5m-5 2h5m-5 2h5m-3-6h5m-5 3h5m-4-4h5m-5-2h5m-4 4h5m-4-2h5m-5 4h5m-5 3h5m-1-2h5m-5-5h5m-5 2h5m-5 1h5m-4-3h5m-5 2h5m-4-4h5m-4 9h5m-5-1h5m-5-8h5m-4 1h5m-3-1h5m-2 8h5m-4-4h5m-4 1h5m-5 4h5m-3-3h5m-5-1h5m-4 2h5m-5-1h5m-5-6h5m-5 2h5m-3 3h5m-4-1h5m-4-4h5m-3 6h5m-1 3h5m-4-8h5m-4 0h5m-3 6h5m-5-4h5m-4-2h5m-4 5h5m-2 0h5m-1-6h5m-4 2h5m-5 3h5m-2-2h5m11-3h5m46 5h5m-312 7h5m3-1h5m-3-1h5m6 6h5m1 1h5m8 2h5m-2-4h5m-4 4h5m-1-3h5m3-3h5m-2-1h5m-3-1h5m-5 5h5m-4 1h5m-5-7h5m-4 5h5m-4 2h5m-5-4h5m-4-3h5m-4 8h5m-3 1h5m-1 0h5m-3-7h5m-4 3h5m-5 3h5m-4-8h5m-4 0h5m-4 3h5m-4-3h5m-4 8h5m-5-2h5m-1-1h5m-4-5h5m-4 1h5m-5 2h5m-4 4h5m-3-7h5m-5 3h5m-4 0h5m-5 5h5m-5-1h5m-3 1h5m-3-4h5m-5 2h5m-2 3h5m-4-3h5m-4-5h5m-5 2h5m-3 1h5m-5-1h5m-3 1h5m1 1h5m-5 1h5m-3-4h5m-4 6h5m-5-8h5m-5 2h5m-4 1h5m-4-3h5m-4 7h5m-5-5h5m-4-2h5m-4 6h5m-5 3h5m-4-5h5m-5 2h5m-4-1h5m-4-5h5m-4 1h5m-4 6h5m-4-5h5m-5-1h5m-4 1h5m-4 5h5m-4 1h5m-4 1h5m-5-7h5m-4 5h5m-5-6h5m-4 1h5m-3 1h5m-3 3h5m-4-6h5m-5 2h5m-5-1h5m-5 3h5m-4-4h5m-5 7h5m-4-7h5m-5 2h5m-5 5h5m-4-5h5m-5 4h5m-4-2h5m-4-2h5m-5-1h5m-5 8h5m-4-6h5m-5 6h5m-4-9h5m-5 3h5m-5 4h5m-3 0h5m-5 1h5m-3-3h5m-4-1h5m-5 1h5m-4 1h5m-5-2h5m-4 0h5m-4 1h5m-4-1h5m-4 1h5m-5-5h5m-4 9h5m-4-1h5m-5-8h5m-5 2h5m-4 7h5m-4-7h5m-5 7h5m-4-6h5m-5 3h5m-5-5h5m-4 7h5m-4-8h5m-5 7h5m-5 2h5m-3-5h5m-5 2h5m-4-6h5m-4 8h5m-4-8h5m-5 5h5m-4 3h5m-4-8h5m-4 2h5m-5-1h5m-5 3h5m-5 2h5m-3-1h5m-3-3h5m-4-2h5m-5 3h5m-3 2h5m-4-5h5m-5 2h5m-5 6h5m-4-1h5m-4-4h5m-5 4h5m-3-1h5m-4 0h5m-5 1h5m-5-7h5m-4 8h5m-5-8h5m-5 4h5m-3 0h5m-3 0h5m-3 5h5m-5-4h5m-3 2h5m-4 1h5m-5-8h5m0 2h5m-4-1h5m-4 2h5m-4-3h5m-5 2h5m-5-1h5m-4-1h5m-4 9h5m-2-7h5m-3 3h5m-4 1h5m-2 3h5m-4 0h5m-4-1h5m-4-6h5m-4 4h5m-4 0h5m-3-3h5m-3 1h5m2-1h5m-5 3h5m-4-1h5m-2-4h5m-4 8h5m-4-4h5m-1 3h5m-3-6h5m-4 2h5m-1 2h5m-2 1h5m0-3h5m-4 0h5m0 1h5m8-1h5m-2 5h5m8-6h5m-283 12h5m2 0h5m1 1h5m0-3h5m2 0h5m2 6h5m-3-8h5m0 5h5m4 1h5m5-5h5m-5 2h5m0-4h5m-1 9h5m-3-7h5m-5 4h5m-1 3h5m-4-6h5m-2 3h5m-3 2h5m-4-6h5m-5 5h5m-4-4h5m-3-3h5m-3 1h5m-3 8h5m-2 0h5m-4-7h5m-4 7h5m-2-5h5m-4-3h5m-4 6h5m-4 1h5m0-8h5m-4 4h5m-4 5h5m-3-8h5m-4 1h5m-5 2h5m-4-2h5m-3 6h5m-5-6h5m-3 2h5m-2-1h5m-5 3h5m-5 3h5m-4-2h5m-5 1h5m-4-1h5m-5-6h5m-4 4h5m-5-5h5m-5 2h5m-4 2h5m-5 2h5m-5-1h5m-4 2h5m-4-6h5m-3 4h5m-4-2h5m-3 1h5m-4-1h5m-5 2h5m-4-3h5m-4 0h5m-5-1h5m-5 2h5m-5 6h5m-3-9h5m-5 4h5m-5-3h5m-4 2h5m-4-3h5m-3 2h5m-3-1h5m-3 5h5m-5-4h5m-4 7h5m-4-7h5m-3 4h5m-2 3h5m-3-8h5m-5 4h5m-5 2h5m-3-6h5m-5 8h5m-5-7h5m-3 1h5m-2-3h5m-2 8h5m-4-8h5m-5 4h5m-4 2h5m-4 1h5m-4-3h5m-5 1h5m-4-1h5m-5-3h5m-3 7h5m-4-7h5m-4 5h5m-4 0h5m-5-6h5m-4 9h5m-3 0h5m-5-9h5m-5 3h5m-4 0h5m-5-1h5m-4 4h5m-5-1h5m-4-5h5m-4 2h5m-3 7h5m-5-6h5m-3-2h5m-4 5h5m-4-2h5m-5 1h5m-4 3h5m-5-6h5m-4 2h5m-4 1h5m-5 3h5m-4-2h5m-5-1h5m-5-3h5m-4 3h5m-5-4h5m-1 7h5m-5-1h5m-5-7h5m1 0h5m-3 9h5m-5-2h5m3-2h5m-4-5h5m-3 1h5m0-1h5m-3 0h5m4 4h5m3 5h5m9-3h5m20-3h5m-272 7h5m-4 7h5m4-4h5m-4 1h5m-2-2h5m4 7h5m0-2h5m-2-1h5m-3-6h5m1 0h5m-2 3h5m-5-3h5m0 9h5m-1-6h5m-3-2h5m-2 7h5m-2-3h5m-1 2h5m-3-1h5m-2 3h5m-3-8h5m-2 6h5m-5-7h5m-3 2h5m-4 6h5m-4-2h5m-4 0h5m-5-5h5m-4 2h5m-2 4h5m-4 2h5m-5-8h5m-5 3h5m-4 5h5m-1-9h5m-5 7h5m-4-1h5m-4-2h5m-5 3h5m-4 1h5m-4 1h5m-4-4h5m-5 3h5m-5-1h5m-4-7h5m-5 2h5m-5 4h5m-4 0h5m-3 1h5m-5-3h5m-4 0h5m-4 0h5m-3 2h5m-5 2h5m-5-1h5m-4-5h5m-3 4h5m-3 0h5m-4-6h5m-2 1h5m-4-1h5m-4 1h5m0 3h5m-4-2h5m-3-1h5m-5 5h5m-2-6h5m-3 1h5m-4 6h5m-4-7h5m-4 0h5m-4 4h5m-4 0h5m-4 1h5m-5 3h5m-3 1h5m-5-6h5m3-3h5m-3 5h5m-5 3h5m-5-1h5m-5 2h5m-4-6h5m0 6h5m-3-3h5m-4-1h5m-4-4h5m-5 2h5m-3 0h5m0 0h5m-5 6h5m0-2h5m-4-1h5m-5-6h5m-3 3h5m-4-3h5m-4 3h5m-5 3h5m12 1h5m-3-3h5m-1-2h5m-4 4h5m9-5h5m-4 8h5m1-8h5m-5 2h5m1 3h5m-1-1h5m-218 11h5m14-3h5m6-3h5m3 2h5m-4 2h5m-2-2h5m-3 0h5m11-1h5m-4 6h5m-4-4h5m-3-1h5m-4-1h5m3 5h5m-5-1h5m2-5h5m-3 8h5m-3-6h5m1-2h5m-4 2h5m0 0h5m-5 6h5m-4-4h5m-1 5h5m-5-8h5m-3 5h5m-2-1h5m1 0h5m-2 1h5m0-5h5m0 6h5m-4-6h5m-5 5h5m-4-4h5m-4 1h5m8 2h5m-1-3h5m-3 6h5m7-5h5m-4-3h5m-5 1h5m0 0h5m1 1h5m1-1h5m-2 1h5m-4 7h5m-4-9h5m37 5h5m-174 6h5m-4 4h5m5 2h5m-4-7h5m9 5h5m0-1h5m4-3h5m21 1h5m-3-1h5m3 5h5m-4-6h5m-3 1h5m10 5h5m-5-6h5m21 0h5m4 5h5m-136 10h5m53-3h5m22 1h5m21-3h5m-2 9h5" stroke="#000" stroke-width="5" stroke-opacity="0.85" fill="none"/>
<path transform="scale(.1)" d="M3661 2109h5m27-3h5m82 13h5m55-5h5m-243 15h5m53-1h5m4-5h5m3 1h5m91-1h5m-111 18h5m38 2h5m12 2h5m18 4h5m-2-1h5m29-1h5m-178 11h5m23-5h5m10 4h5m1-3h5m35 2h5m4 1h5m31-6h5m1 4h5m79-2h5m-287 14h5m5-6h5m1 6h5m37-2h5m11-5h5m-4 3h5m-3 5h5m27-2h5m32-2h5m-5 4h5m3-3h5m-5 2h5m0-4h5m-1 5h5m1-3h5m7-2h5m24 0h5m-209 10h5m36 4h5m-1-1h5m26 1h5m-4 0h5m-5-2h5m24-1h5m10-4h5m3 9h5m-1 0h5m-4-1h5m5-3h5m-1-1h5m7 0h5m3-2h5m-2 4h5m-1 0h5m1-2h5m-5 2h5m-1-4h5m21-2h5m31 6h5m50-2h5m1 3h5m-335 9h5m38 2h5m3-4h5m12 1h5m-5 3h5m-4 0h5m3-6h5m4 7h5m-3-7h5m11-1h5m6 3h5m3 3h5m2-6h5m10 3h5m25-3h5m19 0h5m-2-1h5m5 0h5m-1 8h5m16 0h5m49-2h5m-287 11h5m70 0h5m0 2h5m-4-4h5m2-3h5m-2 4h5m16-2h5m-1 2h5m-3 3h5m2-6h5m-4-1h5m0 6h5m0-8h5m2 7h5m-4-7h5m-2 0h5m18 6h5m61 1h5m50 1h5m-347 2h5m-2 8h5m7-5h5m24 3h5m-4 2h5m18 0h5m15-3h5m-3-4h5m6 1h5m-3 5h5m-2-4h5m-3-2h5m7 7h5m2 1h5m5-6h5m2 4h5m2-6h5m-3 3h5m16 1h5m-3 3h5m0-1h5m-1-1h5m11-5h5m-5 6h5m-4-5h5m-3 6h5m0-2h5m1-4h5m1 1h5m3 4h5m-1-7h5m3 1h5m-2 1h5m80 1h5m-370 15h5m12 0h5m23-7h5m7-1h5m22 8h5m2-6h5m25 7h5m17-9h5m-1 0h5m-2 8h5m1-4h5m5-1h5m-2 5h5m1-3h5m7-5h5m-1 7h5m-1 1h5m-2-7h5m22 0h5m10 4h5m1 3h5m9-2h5m13-5h5m0 1h5m1 2h5m-4 3h5m-4-3h5m4 2h5m48-6h5m-338 19h5m29-8h5m14 6h5m11-7h5m8 0h5m2 4h5m1-1h5m5 0h5m2-2h5m2 3h5m-3-4h5m-1 2h5m1 0h5m2-1h5m-1 3h5m11 3h5m-2-4h5m1 2h5m3 4h5m-3-2h5m-2-4h5m-4 1h5m-3 4h5m-3-8h5m-4 4h5m0 4h5m-4-8h5m-5 9h5m3-9h5m0 5h5m-4 0h5m-3 2h5m-1-2h5m-4-3h5m-5-2h5m2 3h5m-3-1h5m3 6h5m-4-1h5m-2 2h5m15-7h5m6 1h5m2-3h5m6 9h5m96-8h5m-326 13h5m-2-4h5m-1 1h5m-3 4h5m-5-5h5m3 1h5m-1 0h5m1 5h5m5-5h5m0 8h5m-4-5h5m2 0h5m-4 5h5m-5-6h5m-4 3h5m11-2h5m0 5h5m-1-3h5m8 1h5m2-6h5m-4 3h5m6-2h5m-5 2h5m0 5h5m8 0h5m7-2h5m-2-2h5m0-5h5m-1 6h5m19-5h5m0 7h5m-4-8h5m-3 1h5m17 0h5m18 6h5m-2-4h5m-324 15h5m-2-2h5m10-2h5m28 5h5m-3-2h5m11-7h5m-5 9h5m14-4h5m-4 1h5m-4 2h5m0-6h5m-1 3h5m-5-1h5m-3-1h5m1 3h5m5 2h5m-3-6h5m-5 3h5m-4 1h5m1-3h5m4-1h5m-3 3h5m-5 3h5m-4 0h5m-1 0h5m-3-5h5m-5 4h5m3 0h5m13-1h5m-3-6h5m-4 9h5m5-6h5m16-2h5m1 5h5m1-2h5m-5 4h5m-4-3h5m-3-1h5m-2 3h5m8 1h5m0-7h5m14 1h5m10-2h5m-1 1h5m5 1h5m-264 16h5m22-4h5m0-2h5m3 1h5m1-1h5m-1 3h5m1 4h5m17-7h5m-3 3h5m-5-3h5m0-2h5m0 3h5m-2-1h5m-4-1h5m4 4h5m3-4h5m6-1h5m-5 8h5m-2-1h5m-2-2h5m-4 3h5m3 1h5m-5-1h5m-5-1h5m-3-5h5m2 6h5m-3-5h5m-5 3h5m0 1h5m6 0h5m-2 0h5m-1 2h5m-3 0h5m3-4h5m1-4h5m29 2h5m30 6h5m32-1h5m34-6h5m-368 15h5m38-6h5m15 8h5m12 0h5m-5-6h5m0-1h5m12 1h5m2 4h5m31-6h5m-1 4h5m-5 4h5m5-6h5m6 3h5m-5-2h5m4-2h5m2 2h5m3 3h5m-2-1h5m-1-6h5m17 4h5m6 1h5m-3-2h5m-5 4h5m1 1h5m-2-1h5m-5 2h5m22-9h5m28 5h5m-278 9h5m19-4h5m21 5h5m-3 2h5m-3-4h5m13-2h5m-4 6h5m2-6h5m0-1h5m7 4h5m-5 4h5m-1-2h5m4-4h5m25 0h5m2 1h5m11 4h5m1-3h5m3-3h5m-1 1h5m10-2h5m-211 10h5m0 5h5m14 3h5m-2-3h5m8-4h5m3 7h5m11-3h5m0-2h5m4 1h5m-5 3h5m18-5h5m4 1h5m6 2h5m9-2h5m11 2h5m5 0h5m24-1h5m4-2h5m7 0h5m-228 17h5m6-4h5m4-2h5m21 3h5m0-4h5m18 0h5m5-1h5m14 5h5m16 0h5m32-5h5m1-1h5m-3 0h5m-5 3h5m16 1h5m-150 6h5m34 7h5m-2 0h5m39-4h5m13-1h5m-5 4h5m-2-4h5m21 7h5m21-7h5m-197 15h5m53-5h5m42 3h5m26-4h5m27 4h5m-113 9h5m-49 10h5m40 3h5m8-1h5m40 0h5m22-4h5m-101 8h5" stroke="#000" stroke-width="5" stroke-opacity="0.42" fill="none"/>
<path transform="scale(.1)" d="M3701 1750h5m45 6h5m79 30h5m-204 4h5m74 3h5m-32 10h5m64 4h5m-1-4h5m46 6h5m-114 9h5m-4-4h5m81 4h5m-53 9h5m-20 8h5m13 0h5m-4-3h5m64 2h5m33 4h5m-130 2h5m-2 1h5m20 0h5m75 3h5m-111 15h5m-59 5h5m6-2h5m43 0h5m73-2h5m20 9h5m-150 8h5m27-4h5m0-3h5m-105 14h5m71-2h5m14 0h5m12-1h5m29 4h5m-143 6h5m65 2h5m10-2h5m31 6h5m-4-7h5m30 2h5m14 7h5m-4-4h5m-194 7h5m-3 4h5m64-6h5m4 5h5m-2-2h5m39 5h5m-3-4h5m15-2h5m29 6h5m-187 3h5m3 0h5m28 8h5m29 0h5m25-6h5m-2 5h5m-1 0h5m0-6h5m13 1h5m13 4h5m-4 0h5m9-3h5m-5 1h5m-1 4h5m20-1h5m14-7h5m-157 12h5m4-2h5m-3 2h5m24-1h5m5 6h5m3-2h5m-5-6h5m-4 5h5m1-1h5m7 4h5m6-3h5m11-5h5m-2 4h5m11 0h5m-190 8h5m-1 7h5m3-9h5m23 9h5m-3 0h5m3-4h5m29 1h5m20-2h5m4 1h5m-3 3h5m7-3h5m-4 4h5m1-3h5m-4-5h5m-5 5h5m-4 1h5m-2 2h5m-2-2h5m11-6h5m0 3h5m-133 6h5m3 5h5m10-1h5m4-4h5m-5 9h5m0-8h5m17 4h5m-3 1h5m2-2h5m-3 3h5m10 0h5m5-2h5m2 4h5m2-4h5m0 4h5m-2 0h5m4-9h5m-1 9h5m4-6h5m12 6h5m1-8h5m38 5h5m-305 7h5m41 0h5m18 6h5m16-1h5m-2 1h5m14-4h5m-4-3h5m-1 7h5m2-1h5m19 0h5m11-8h5m11 8h5m26-1h5m-5 2h5m4-7h5m18 3h5m11 0h5m-4-2h5m6 3h5m46-6h5m-264 15h5m-3-3h5m0 1h5m2 1h5m24 3h5m-2-7h5m1 1h5m-4 6h5m-1-3h5m-4 1h5m6 0h5m-4 4h5m-4 0h5m4-2h5m2-6h5m-1 3h5m-2 5h5m-3-1h5m3-5h5m1-2h5m10 4h5m1 2h5m18-4h5m-221 16h5m52-6h5m76 0h5m1 0h5m-1-2h5m-4 2h5m-3-3h5m3 6h5m-4 1h5m46-4h5m17 2h5m8-4h5m-3 5h5m60-6h5m-237 17h5m2-5h5m-4 0h5m2-1h5m1 5h5m21-5h5m-4 3h5m-4 5h5m7-8h5m-2 8h5m-4-8h5m-4 4h5m-2-3h5m9 1h5m13 4h5m1 2h5m-5-7h5m-3 2h5m-1-4h5m30 4h5m-1 5h5m4-5h5m7-1h5m21-1h5m-279 12h5m16 4h5m9-7h5m52-1h5m-4 5h5m8-2h5m-4 6h5m-3-9h5m11 6h5m3 0h5m-1 3h5m-3-8h5m2-1h5m12 8h5m1 0h5m20-4h5m6 0h5m-4-3h5m45 4h5m19-4h5m30 8h5m-249 8h5m0-2h5m8-5h5m11 8h5m1 0h5m-4-5h5m9 2h5m-3-5h5m6 6h5m1-2h5m10 1h5m4 1h5m-2 2h5m0-4h5m4-3h5m-2 8h5m14 0h5m28-4h5m10 1h5m-216 6h5m6 5h5m-4 0h5m12-2h5m-3-1h5m25 4h5m-3-4h5m-2 4h5m8-1h5m2-1h5m16-4h5m-3 5h5m-5-5h5m-2 6h5m-2-1h5m11-6h5m4 0h5m-3 2h5m12-2h5m1 6h5m-2 0h5m-3-1h5m1-5h5m30 2h5m-178 16h5m3-2h5m4 0h5m14-4h5m0 2h5m-3 3h5m0-3h5m10 4h5m9-3h5m-2-1h5m0 3h5m-2 1h5m46-1h5m1 0h5m4-3h5m11-2h5m-203 7h5m3 4h5m12-4h5m3 4h5m7-3h5m17 4h5m5-4h5m4 4h5m-1-2h5m3 1h5m1 3h5m2-3h5m11 5h5m14-1h5m-1-5h5m16 2h5m6 2h5m24-1h5m-227 6h5m-2 1h5m15 3h5m11-2h5m9-4h5m7 5h5m5-5h5m0 3h5m-2 1h5m11-3h5m7-1h5m-1 9h5m2-6h5m-3-1h5m-2-1h5m8 5h5m-3-3h5m-5-1h5m1 1h5m-2-3h5m8 5h5m11-2h5m50 0h5m-216 10h5m-4 6h5m6-6h5m5-3h5m13 4h5m-4-3h5m3 8h5m9-8h5m-2 0h5m-3 0h5m9 7h5m-2-4h5m-1-3h5m-132 12h5m5 3h5m16-3h5m18 3h5m-3 3h5m7-8h5m24 3h5m10-2h5m-1 3h5m4 4h5m7-6h5m15-1h5m-3 2h5m-4-1h5m0 1h5m4 0h5m29-4h5m14 1h5m-210 13h5m-2-1h5m42 5h5m-1-7h5m7 6h5m3-3h5m-4 5h5m7-5h5m3 2h5m-1-5h5m-3 4h5m-1-1h5m-3 5h5m-1-7h5m-5 3h5m2 2h5m8-6h5m3 6h5m-3 2h5m10-7h5m10 5h5m40-3h5m-186 6h5m9 0h5m1 2h5m-4-1h5m10 7h5m-4-3h5m25-4h5m8 5h5m31 1h5m-3 0h5m26 2h5m-248 10h5m80-3h5m31-6h5m27 4h5m3 0h5m-3-2h5m9-1h5m16-1h5m4 0h5m-192 18h5m47-2h5m-5-6h5m13 3h5m11 6h5m-1-9h5m1 3h5m7-3h5m10 2h5m1 2h5m43 2h5m0-6h5m-119 16h5m51 1h5m-5 2h5m30-1h5m4-5h5m14-2h5m9 1h5m-3 4h5m-108 8h5m22-4h5m21 7h5m14-3h5m16-1h5m18 6h5m-1-4h5m0-5h5m26 7h5m-200 6h5m67 2h5m21-2h5m4-3h5m-124 11h5m23 4h5m34-2h5m112-1h5m4-1h5m-206 12h5m37 4h5m94-6h5m26-1h5m-189 13h5m53 4h5m30-3h5m54 1h5m-99 5h5m0 4h5m4-1h5m153 3h5m-129 4h5m51 1h5m-78 11h5m77 5h5m-82 3h5m54 7h5m-115 15h5m96-2h5m-30 23h5" stroke="#000" stroke-width="5" stroke-opacity="0.5" fill="none"/>
<line x1="365.4" y1="173" x2="365.4" y2="238.2" stroke="#000" stroke-width="0.8"/>
<line x1="344.6" y1="214" x2="405.2" y2="214" stroke="#000" stroke-width="0.8"/>
<line x1="344.60" y1="238.2" x2="344.60" y2="239.79999999999998" stroke="#000" stroke-width="0.5"/>
<line x1="343.0" y1="238.20" x2="344.6" y2="238.20" stroke="#000" stroke-width="0.5"/>
<text class="s" x="343.8" y="243.5" font-size="2.8" fill-opacity="0.75">10<tspan dy="-1.2" font-size="2.2">0</tspan></text>
<text class="s" x="338.3" y="239.4" font-size="2.8" fill-opacity="0.75">10<tspan dy="-1.2" font-size="2.2">0</tspan></text>
<line x1="349.16" y1="238.2" x2="349.16" y2="239.1" stroke="#000" stroke-width="0.35"/>
<line x1="343.70000000000005" y1="233.29" x2="344.6" y2="233.29" stroke="#000" stroke-width="0.35"/>
<line x1="351.83" y1="238.2" x2="351.83" y2="239.1" stroke="#000" stroke-width="0.35"/>
<line x1="343.70000000000005" y1="230.42" x2="344.6" y2="230.42" stroke="#000" stroke-width="0.35"/>
<line x1="353.72" y1="238.2" x2="353.72" y2="239.1" stroke="#000" stroke-width="0.35"/>
<line x1="343.70000000000005" y1="228.39" x2="344.6" y2="228.39" stroke="#000" stroke-width="0.35"/>
<line x1="355.19" y1="238.2" x2="355.19" y2="239.1" stroke="#000" stroke-width="0.35"/>
<line x1="343.70000000000005" y1="226.81" x2="344.6" y2="226.81" stroke="#000" stroke-width="0.35"/>
<line x1="356.39" y1="238.2" x2="356.39" y2="239.1" stroke="#000" stroke-width="0.35"/>
<line x1="343.70000000000005" y1="225.52" x2="344.6" y2="225.52" stroke="#000" stroke-width="0.35"/>
<line x1="357.40" y1="238.2" x2="357.40" y2="239.1" stroke="#000" stroke-width="0.35"/>
<line x1="343.70000000000005" y1="224.42" x2="344.6" y2="224.42" stroke="#000" stroke-width="0.35"/>
<line x1="358.28" y1="238.2" x2="358.28" y2="239.1" stroke="#000" stroke-width="0.35"/>
<line x1="343.70000000000005" y1="223.48" x2="344.6" y2="223.48" stroke="#000" stroke-width="0.35"/>
<line x1="359.06" y1="238.2" x2="359.06" y2="239.1" stroke="#000" stroke-width="0.35"/>
<line x1="343.70000000000005" y1="222.65" x2="344.6" y2="222.65" stroke="#000" stroke-width="0.35"/>
<line x1="359.75" y1="238.2" x2="359.75" y2="239.79999999999998" stroke="#000" stroke-width="0.5"/>
<line x1="343.0" y1="221.90" x2="344.6" y2="221.90" stroke="#000" stroke-width="0.5"/>
<text class="s" x="358.9" y="243.5" font-size="2.8" fill-opacity="0.75">10<tspan dy="-1.2" font-size="2.2">1</tspan></text>
<text class="s" x="338.3" y="223.1" font-size="2.8" fill-opacity="0.75">10<tspan dy="-1.2" font-size="2.2">1</tspan></text>
<line x1="364.31" y1="238.2" x2="364.31" y2="239.1" stroke="#000" stroke-width="0.35"/>
<line x1="343.70000000000005" y1="216.99" x2="344.6" y2="216.99" stroke="#000" stroke-width="0.35"/>
<line x1="366.98" y1="238.2" x2="366.98" y2="239.1" stroke="#000" stroke-width="0.35"/>
<line x1="343.70000000000005" y1="214.12" x2="344.6" y2="214.12" stroke="#000" stroke-width="0.35"/>
<line x1="368.87" y1="238.2" x2="368.87" y2="239.1" stroke="#000" stroke-width="0.35"/>
<line x1="343.70000000000005" y1="212.09" x2="344.6" y2="212.09" stroke="#000" stroke-width="0.35"/>
<line x1="370.34" y1="238.2" x2="370.34" y2="239.1" stroke="#000" stroke-width="0.35"/>
<line x1="343.70000000000005" y1="210.51" x2="344.6" y2="210.51" stroke="#000" stroke-width="0.35"/>
<line x1="371.54" y1="238.2" x2="371.54" y2="239.1" stroke="#000" stroke-width="0.35"/>
<line x1="343.70000000000005" y1="209.22" x2="344.6" y2="209.22" stroke="#000" stroke-width="0.35"/>
<line x1="372.55" y1="238.2" x2="372.55" y2="239.1" stroke="#000" stroke-width="0.35"/>
<line x1="343.70000000000005" y1="208.12" x2="344.6" y2="208.12" stroke="#000" stroke-width="0.35"/>
<line x1="373.43" y1="238.2" x2="373.43" y2="239.1" stroke="#000" stroke-width="0.35"/>
<line x1="343.70000000000005" y1="207.18" x2="344.6" y2="207.18" stroke="#000" stroke-width="0.35"/>
<line x1="374.21" y1="238.2" x2="374.21" y2="239.1" stroke="#000" stroke-width="0.35"/>
<line x1="343.70000000000005" y1="206.35" x2="344.6" y2="206.35" stroke="#000" stroke-width="0.35"/>
<line x1="374.90" y1="238.2" x2="374.90" y2="239.79999999999998" stroke="#000" stroke-width="0.5"/>
<line x1="343.0" y1="205.60" x2="344.6" y2="205.60" stroke="#000" stroke-width="0.5"/>
<text class="s" x="374.1" y="243.5" font-size="2.8" fill-opacity="0.75">10<tspan dy="-1.2" font-size="2.2">2</tspan></text>
<text class="s" x="338.3" y="206.8" font-size="2.8" fill-opacity="0.75">10<tspan dy="-1.2" font-size="2.2">2</tspan></text>
<line x1="379.46" y1="238.2" x2="379.46" y2="239.1" stroke="#000" stroke-width="0.35"/>
<line x1="343.70000000000005" y1="200.69" x2="344.6" y2="200.69" stroke="#000" stroke-width="0.35"/>
<line x1="382.13" y1="238.2" x2="382.13" y2="239.1" stroke="#000" stroke-width="0.35"/>
<line x1="343.70000000000005" y1="197.82" x2="344.6" y2="197.82" stroke="#000" stroke-width="0.35"/>
<line x1="384.02" y1="238.2" x2="384.02" y2="239.1" stroke="#000" stroke-width="0.35"/>
<line x1="343.70000000000005" y1="195.79" x2="344.6" y2="195.79" stroke="#000" stroke-width="0.35"/>
<line x1="385.49" y1="238.2" x2="385.49" y2="239.1" stroke="#000" stroke-width="0.35"/>
<line x1="343.70000000000005" y1="194.21" x2="344.6" y2="194.21" stroke="#000" stroke-width="0.35"/>
<line x1="386.69" y1="238.2" x2="386.69" y2="239.1" stroke="#000" stroke-width="0.35"/>
<line x1="343.70000000000005" y1="192.92" x2="344.6" y2="192.92" stroke="#000" stroke-width="0.35"/>
<line x1="387.70" y1="238.2" x2="387.70" y2="239.1" stroke="#000" stroke-width="0.35"/>
<line x1="343.70000000000005" y1="191.82" x2="344.6" y2="191.82" stroke="#000" stroke-width="0.35"/>
<line x1="388.58" y1="238.2" x2="388.58" y2="239.1" stroke="#000" stroke-width="0.35"/>
<line x1="343.70000000000005" y1="190.88" x2="344.6" y2="190.88" stroke="#000" stroke-width="0.35"/>
<line x1="389.36" y1="238.2" x2="389.36" y2="239.1" stroke="#000" stroke-width="0.35"/>
<line x1="343.70000000000005" y1="190.05" x2="344.6" y2="190.05" stroke="#000" stroke-width="0.35"/>
<line x1="390.05" y1="238.2" x2="390.05" y2="239.79999999999998" stroke="#000" stroke-width="0.5"/>
<line x1="343.0" y1="189.30" x2="344.6" y2="189.30" stroke="#000" stroke-width="0.5"/>
<text class="s" x="389.2" y="243.5" font-size="2.8" fill-opacity="0.75">10<tspan dy="-1.2" font-size="2.2">3</tspan></text>
<text class="s" x="338.3" y="190.5" font-size="2.8" fill-opacity="0.75">10<tspan dy="-1.2" font-size="2.2">3</tspan></text>
<line x1="394.61" y1="238.2" x2="394.61" y2="239.1" stroke="#000" stroke-width="0.35"/>
<line x1="343.70000000000005" y1="184.39" x2="344.6" y2="184.39" stroke="#000" stroke-width="0.35"/>
<line x1="397.28" y1="238.2" x2="397.28" y2="239.1" stroke="#000" stroke-width="0.35"/>
<line x1="343.70000000000005" y1="181.52" x2="344.6" y2="181.52" stroke="#000" stroke-width="0.35"/>
<line x1="399.17" y1="238.2" x2="399.17" y2="239.1" stroke="#000" stroke-width="0.35"/>
<line x1="343.70000000000005" y1="179.49" x2="344.6" y2="179.49" stroke="#000" stroke-width="0.35"/>
<line x1="400.64" y1="238.2" x2="400.64" y2="239.1" stroke="#000" stroke-width="0.35"/>
<line x1="343.70000000000005" y1="177.91" x2="344.6" y2="177.91" stroke="#000" stroke-width="0.35"/>
<line x1="401.84" y1="238.2" x2="401.84" y2="239.1" stroke="#000" stroke-width="0.35"/>
<line x1="343.70000000000005" y1="176.62" x2="344.6" y2="176.62" stroke="#000" stroke-width="0.35"/>
<line x1="402.85" y1="238.2" x2="402.85" y2="239.1" stroke="#000" stroke-width="0.35"/>
<line x1="343.70000000000005" y1="175.52" x2="344.6" y2="175.52" stroke="#000" stroke-width="0.35"/>
<line x1="403.73" y1="238.2" x2="403.73" y2="239.1" stroke="#000" stroke-width="0.35"/>
<line x1="343.70000000000005" y1="174.58" x2="344.6" y2="174.58" stroke="#000" stroke-width="0.35"/>
<line x1="404.51" y1="238.2" x2="404.51" y2="239.1" stroke="#000" stroke-width="0.35"/>
<line x1="343.70000000000005" y1="173.75" x2="344.6" y2="173.75" stroke="#000" stroke-width="0.35"/>
<line x1="405.20" y1="238.2" x2="405.20" y2="239.79999999999998" stroke="#000" stroke-width="0.5"/>
<line x1="343.0" y1="173.00" x2="344.6" y2="173.00" stroke="#000" stroke-width="0.5"/>
<text class="s" x="404.4" y="243.5" font-size="2.8" fill-opacity="0.75">10<tspan dy="-1.2" font-size="2.2">4</tspan></text>
<text class="s" x="338.3" y="174.2" font-size="2.8" fill-opacity="0.75">10<tspan dy="-1.2" font-size="2.2">4</tspan></text>
<text class="s" x="345.9" y="179.8" font-size="5.9" text-anchor="start">0.7</text>
<text class="s" x="404" y="179.8" font-size="5.9" text-anchor="end">3.6</text>
<text class="s" x="403.1" y="235.4" font-size="5.9" text-anchor="end">26.2</text>
<rect x="423.5" y="173" width="60.20" height="65.20" fill="#fff" stroke="#111" stroke-width="0.75"/>
<path transform="scale(.1)" d="M4423 2089h5m-22 46h5m12-5h5m-3 3h5m-3 5h5m0-6h5m-2 3h5m-2 4h5m-1-3h5m25-6h5m-70 17h5m7 2h5m-5-6h5m15-1h5m-1 5h5m-82 12h5m-3-2h5m20 0h5m-1 2h5m-4-3h5m0 1h5m-3-2h5m13-2h5m-1 6h5m2-7h5m-3 5h5m1-4h5m-90 16h5m8-7h5m0 7h5m-3-1h5m-3 1h5m-3-2h5m-1 1h5m-5-4h5m-3 5h5m-4-9h5m-5 4h5m1 1h5m-4 0h5m-4-5h5m-3 3h5m-4 4h5m-4 0h5m-2 1h5m-4-4h5m-1 4h5m-4-1h5m-3 0h5m2 0h5m-3-2h5m-2 4h5m-3-2h5m4 0h5m10-3h5m-133 12h5m29-2h5m0 1h5m-3 3h5m1 0h5m-3-5h5m-2 2h5m-2 1h5m-4-1h5m-1-3h5m-5 2h5m-4 0h5m-5-3h5m-2 5h5m-3-5h5m-4-1h5m-4 8h5m-3 0h5m-4 0h5m-2 1h5m-5-6h5m-5 2h5m-4-1h5m-4 3h5m-4-3h5m-4 0h5m-2-4h5m-3 3h5m-4 4h5m-3-3h5m-4-4h5m-4 3h5m-4 5h5m-3 0h5m-4-3h5m-3-5h5m-4 3h5m-3 2h5m-4 2h5m0-5h5m-3 1h5m-4 2h5m-4-3h5m-5 2h5m-1 4h5m-2 0h5m-2-7h5m-4 6h5m-3-7h5m-4 0h5m-4 6h5m47 2h5m-175 9h5m-5 2h5m7-3h5m7-2h5m0 2h5m2 1h5m-4-2h5m-4 1h5m0-2h5m-4 3h5m0-1h5m-5 3h5m-4-6h5m-2-1h5m-5 3h5m-5 1h5m-4-5h5m-4 8h5m-4-6h5m-4 0h5m-4 1h5m-4 4h5m-4-8h5m-5 1h5m-4 7h5m-4-8h5m-5 6h5m-3-3h5m-5 2h5m-5 3h5m-3-1h5m-3-5h5m-4-1h5m-5 5h5m-4 2h5m-4 0h5m-3-6h5m-5 5h5m-3 2h5m-5-5h5m-4 4h5m-5-8h5m-4 9h5m-5-1h5m-4 1h5m1-8h5m-1 3h5m-5 5h5m-1-9h5m-3 2h5m-5 3h5m-4 4h5m-4-2h5m-5-1h5m-5 3h5m-2-3h5m-3 1h5m-2 2h5m-4-3h5m-4 2h5m-5-6h5m-4 5h5m-3-6h5m-2 2h5m7 2h5m9-1h5m-4 1h5m-146 10h5m13-1h5m-5 5h5m-4-5h5m-5 4h5m-4-5h5m-3 0h5m-2 6h5m-5-8h5m-3 7h5m-4 0h5m-4 1h5m-4-7h5m-4-2h5m-3 1h5m-4 7h5m-5-3h5m-5 2h5m-4 0h5m-3 0h5m-5 2h5m-5-7h5m-4 1h5m-3 6h5m-5-1h5m-5-8h5m-5 2h5m-4 6h5m-5-5h5m-3 5h5m-4-1h5m-5 2h5m-5-1h5m-4-6h5m-5 5h5m-3-7h5m-4 8h5m-4-3h5m-5 4h5m-5-9h5m-5 2h5m-4 2h5m-5 3h5m-4 0h5m-5-1h5m-5 3h5m-5-1h5m-5-7h5m-4 3h5m-5 5h5m-5-9h5m-3 5h5m-5 3h5m-4-3h5m-4-5h5m-4 8h5m-4 0h5m-5-8h5m-5 1h5m-5 2h5m-4 4h5m-4-3h5m-4-4h5m-4 9h5m-4-8h5m-4-1h5m-5 6h5m-5 1h5m-4 1h5m-4-7h5m-5 4h5m-5 2h5m-5-1h5m-4 2h5m-5-7h5m-4 2h5m-5 5h5m-5-8h5m-3 4h5m-5 4h5m-5-5h5m-4-2h5m-5 6h5m-5 2h5m-3-8h5m-4 1h5m-5-1h5m-5 3h5m-4-2h5m-5 7h5m-2 0h5m-5-9h5m-5 4h5m-4 5h5m-4-3h5m-4-6h5m-5 7h5m-4 2h5m-4-9h5m-4 9h5m-2-9h5m-5 3h5m-4 1h5m-5-1h5m-5 4h5m0-1h5m-5 2h5m-5 1h5m-3-6h5m-4-3h5m-5 3h5m-4 5h5m-5-5h5m-3 5h5m6-1h5m-2-4h5m-4 1h5m-2 3h5m0-4h5m-3 1h5m7-3h5m5 5h5m-173 10h5m9 1h5m-3 1h5m0-4h5m0 4h5m-4-4h5m-4-2h5m5 5h5m-5 2h5m-4-8h5m-5-1h5m-5 8h5m-4-5h5m-4 2h5m-4 1h5m-4 1h5m-4-2h5m-3-2h5m-4 6h5m-5-5h5m-4-3h5m-5 3h5m-4 0h5m-3-4h5m-5 4h5m-5 3h5m-4 0h5m-4-4h5m-3-2h5m-5 5h5m-4-6h5m-5 4h5m-5-1h5m-5 6h5m-4-4h5m-5 3h5m-4-7h5m-5 4h5m-5-5h5m-4 8h5m-4 0h5m-3-5h5m-4-3h5m-5 4h5m-4 0h5m-5 2h5m-3-4h5m-5 3h5m-5 2h5m-4-5h5m-5 7h5m-4-3h5m-4-3h5m-4-1h5m-4 3h5m-5 2h5m-3-4h5m-5 4h5m-5 1h5m-5-4h5m-4-1h5m-5 5h5m-5-6h5m-4 2h5m-4 3h5m-5-7h5m-5 4h5m-4-3h5m-5 1h5m-4 1h5m-4-2h5m-4 7h5m-4-5h5m-4 0h5m-3-1h5m-5 1h5m-4-1h5m-5 4h5m-5 2h5m-5 1h5m-4-8h5m-5 3h5m-5 2h5m-5-1h5m-2-4h5m-5-1h5m-3 5h5m-5 3h5m-4-6h5m-5-1h5m-5 2h5m-4-1h5m-4 0h5m-4 2h5m-3 2h5m-5-1h5m-4 0h5m-5 3h5m-4-7h5m-5-1h5m-5 2h5m-4 2h5m-5-1h5m-5 5h5m-5-1h5m-4-6h5m-5-1h5m-4 2h5m-4 7h5m-5-6h5m-4-3h5m-4 7h5m-4 2h5m-4-4h5m-4 2h5m-4-5h5m-4 1h5m-4 0h5m-3-2h5m-4-1h5m-4 1h5m-5-1h5m-5 2h5m-5 2h5m-4-3h5m-5 5h5m-2 3h5m-4-1h5m-5-1h5m-2 2h5m4-6h5m-2-1h5m0-1h5m1 0h5m11 0h5m-177 18h5m5-6h5m4-3h5m-4 2h5m1 5h5m-1-7h5m-5 9h5m-2-2h5m-4-6h5m-1 2h5m-5 3h5m-4 0h5m-4 3h5m-4-3h5m-5-1h5m-1 3h5m-3-1h5m-1 1h5m-4-4h5m-3 3h5m-4 1h5m-4 1h5m-4-8h5m-5 2h5m-4 4h5m-5-7h5m-5 6h5m-4 0h5m-5 3h5m-4-2h5m-5 2h5m-4-4h5m-5 3h5m-4-4h5m-4-4h5m-5 6h5m-5 2h5m-5-1h5m-4-1h5m-3-4h5m-4 2h5m-5 2h5m-5 3h5m-5-8h5m-4 4h5m-5 2h5m-5 2h5m-5-8h5m-5 2h5m-4 6h5m-5-7h5m-5 4h5m-4-4h5m-5 3h5m-4 3h5m-4 1h5m-5-9h5m-5 3h5m-4 4h5m-5-4h5m-5-1h5m-3 7h5m-5-9h5m-5 5h5m-4 0h5m-5 2h5m-4-4h5m-5-1h5m-5 4h5m-5-1h5m-4 1h5m-5-1h5m-5 3h5m-4-1h5m-4-6h5m-5 7h5m-5 1h5m-3-9h5m-5 3h5m-5 4h5m-5 2h5m-4 0h5m-5-5h5m-4 1h5m-5 2h5m-4-5h5m-5 4h5m-4-1h5m-5 2h5m-5-6h5m-5 1h5m-5 4h5m-4-2h5m-5 4h5m-4-1h5m-5-6h5m-4 7h5m-5 1h5m-4-8h5m-5 7h5m-4 1h5m-5-1h5m-4-5h5m-5-1h5m-5 3h5m-4-3h5m-4 1h5m-5 5h5m-5-1h5m-4-4h5m-4 2h5m-4 3h5m-5-7h5m-4 8h5m-5-8h5m-5-1h5m-5 2h5m-4 3h5m-5 2h5m-4-1h5m-5 3h5m-5-9h5m-2 8h5m-5-1h5m-5-7h5m-4 7h5m-4 2h5m-4-1h5m-5-1h5m-5-6h5m-5 2h5m-5 2h5m-4-3h5m-5 6h5m-4-1h5m-1-5h5m-5 2h5m-4 3h5m-4-1h5m-5 2h5m-5-1h5m-4 1h5m-5-1h5m-4-6h5m-4 6h5m-5 2h5m-2-5h5m-4 3h5m-4-5h5m-4-1h5m-5 1h5m-5 7h5m-4 0h5m-5-2h5m-4 2h5m-5-3h5m-4-5h5m-3 5h5m-4-2h5m-4 0h5m-5 5h5m-4-9h5m-2 9h5m-5-6h5m-1 5h5m-5-5h5m0-3h5m-1 6h5m4-4h5m-166 9h5m-1-1h5m-2 1h5m7 8h5m-4-4h5m1 2h5m-2 0h5m0-5h5m-5 5h5m-4-5h5m-4 3h5m-2-4h5m-5 3h5m-2 5h5m-2-7h5m-5 7h5m-4-7h5m-5 4h5m-4 3h5m-5-9h5m-5 3h5m-4-1h5m-3 5h5m-4-7h5m-5 5h5m-4-5h5m-5 5h5m-5 3h5m-3-6h5m-5 6h5m-4-1h5m-4 1h5m-5-8h5m-3 8h5m-5-5h5m-4 3h5m-5-3h5m-4-1h5m-4 2h5m-4 5h5m-5-2h5m-4-5h5m-5 3h5m-5-1h5m-4-1h5m-5-1h5m-4-2h5m-5 6h5m-5 3h5m-4-3h5m-4-2h5m-5 3h5m-4-5h5m-5 3h5m-5 1h5m-4 0h5m-5-2h5m-4 3h5m-5 2h5m-4-5h5m-5 3h5m-5 1h5m-4-1h5m-5 2h5m-3-6h5m-5-1h5m-5 4h5m-5 2h5m-4-4h5m-5 4h5m-5-6h5m-5 3h5m-4-2h5m-5 2h5m-4 2h5m-5 2h5m-5-8h5m-5-1h5m-4 8h5m-5-1h5m-5-7h5m-5 9h5m-5-5h5m-5 2h5m-4-6h5m-5 9h5m-5-2h5m-4-7h5m-5 7h5m-4 2h5m-4-9h5m-5 3h5m-5-1h5m-4 6h5m-5-8h5m-4 8h5m-5-8h5m-4 2h5m-5 5h5m-5 1h5m-4-6h5m-4 1h5m-5-3h5m-5 2h5m-4 5h5m-5-4h5m-5 2h5m-5-1h5m-4-1h5m-5 2h5m-4 4h5m-5-4h5m-4 3h5m-5-5h5m-5 1h5m-4 3h5m-5-5h5m-4 1h5m-5 3h5m-4-1h5m-5 1h5m-4-2h5m-4 5h5m-5-2h5m-4-4h5m-4 2h5m-5 2h5m-5 2h5m-3-7h5m-5 2h5m-5 3h5m-4-6h5m-5 4h5m-5-1h5m-5 3h5m-5-1h5m-5 2h5m-5-8h5m-4 6h5m-5 1h5m-4-3h5m-5 2h5m-5 1h5m-4-4h5m-5 3h5m-4-4h5m-4 4h5m-5-6h5m-5 2h5m-4 7h5m-5-8h5m-5-1h5m-5 3h5m-5 2h5m-4 2h5m-5-1h5m-5-4h5m-3-1h5m-5 2h5m-5 1h5m-4 4h5m-5-4h5m-4-3h5m-5 5h5m-4 2h5m-5-8h5m-5 4h5m-5 5h5m-3-2h5m-4-3h5m-5 2h5m-4-6h5m-4 9h5m-4-8h5m-4 1h5m-5 4h5m-5-3h5m-4-2h5m-4 8h5m-4-1h5m-4-7h5m-3 6h5m-4 2h5m-3-7h5m-5 1h5m-3 2h5m-2 2h5m-3-5h5m0 7h5m-4-9h5m-4 0h5m-1 2h5m13-2h5m-2 2h5m-167 16h5m0 0h5m-4-4h5m-3 5h5m-2-8h5m-3 2h5m-3-3h5m-4 6h5m-2-3h5m-1 3h5m-5 2h5m-3-8h5m-4 5h5m-3-1h5m-5 4h5m-5 1h5m-2-4h5m-4-3h5m-5 3h5m-3-5h5m-5 2h5m-3 6h5m-5-8h5m-5 2h5m-5 1h5m-5 4h5m-4-6h5m-5 3h5m-4-2h5m-4 5h5m-3-3h5m-3 0h5m-5 2h5m-4-4h5m-5-1h5m-4-1h5m-5 1h5m-4 3h5m-5 3h5m-5-1h5m-5-6h5m-4 0h5m-5 3h5m-4 0h5m-5 1h5m-4 3h5m-4-3h5m-5 4h5m-4 1h5m-5-8h5m-5 1h5m-5 6h5m-4-2h5m-5-6h5m-5 2h5m-5 3h5m-4-1h5m-5-2h5m-5 1h5m-4 3h5m-5 2h5m-4-7h5m-4 1h5m-5 3h5m-5 1h5m-4-5h5m-5 7h5m-4-5h5m-5 5h5m-5 1h5m-4-6h5m-5-1h5m-5 2h5m-5 2h5m-5 2h5m-4-7h5m-5 4h5m-5 2h5m-5 2h5m-4-5h5m-5 3h5m-5-1h5m-5 3h5m-4-5h5m-5 3h5m-4-4h5m-5 4h5m-4-2h5m-4 2h5m-5 1h5m-5-8h5m-4 8h5m-5 1h5m-5-8h5m-4 3h5m-5-3h5m-5 2h5m-4 4h5m-4-7h5m-5 2h5m-5 1h5m-4 0h5m-5-1h5m-5 5h5m-5-1h5m-5 2h5m-4 1h5m-5-7h5m-4-2h5m-5 2h5m-4-2h5m-5 2h5m-5 1h5m-5 1h5m-5 4h5m-4-8h5m-5 5h5m-5 3h5m-4-6h5m-5 2h5m-5 5h5m-4-8h5m-5 3h5m-5 3h5m-4 0h5m-5-4h5m-4 5h5m-5-8h5m-5 1h5m-4 0h5m-5 5h5m-5-6h5m-4 4h5m-5-4h5m-4 5h5m-4 1h5m-5-4h5m-5-1h5m-4 4h5m-4-5h5m-5 5h5m-5 3h5m-4-8h5m-5 9h5m-5-7h5m-5 3h5m-5 1h5m-4 3h5m-5-1h5m-4-6h5m-5 1h5m-4 5h5m-5-4h5m-4-1h5m-5 3h5m-4-4h5m-4-2h5m-5 5h5m-4-4h5m-5 4h5m-5 4h5m-4-8h5m-5 4h5m-5-1h5m-5 2h5m-4-3h5m-5 4h5m-5 1h5m-4-3h5m-5 1h5m-5 2h5m-4-8h5m-4 6h5m-4 0h5m-5 2h5m-4-3h5m-4-3h5m-5-1h5m-4-1h5m-5 9h5m-4-6h5m-4 6h5m1-6h5m-4 4h5m-5 2h5m-4-9h5m-5 2h5m-4 4h5m-4-4h5m-5 3h5m-4-1h5m5 0h5m2 1h5m-1-1h5m-2-1h5m7-2h5m-186 9h5m8 5h5m-4 4h5m4-8h5m4 8h5m3-4h5m-2 2h5m-5 1h5m-2-5h5m-4 5h5m-4 1h5m-4-3h5m-3-2h5m-3 2h5m-4-1h5m-5 3h5m-4 0h5m-4-2h5m-5-3h5m-3 6h5m-5-1h5m-4 1h5m-5-8h5m-4 6h5m-5-3h5m-4-1h5m-4 6h5m-5-9h5m-4 4h5m-5 5h5m-4-3h5m-5-5h5m-4 7h5m-5-3h5m-4-2h5m-5 2h5m-5 1h5m-5 2h5m-4-4h5m-4 2h5m-5 3h5m-5-9h5m-4 3h5m-4-1h5m-5 4h5m-5 3h5m-3-9h5m-5 6h5m-4 1h5m-4-4h5m-5-1h5m-4-2h5m-5 2h5m-4 5h5m-5 2h5m-5-1h5m-5-4h5m-4 4h5m-5-6h5m-4-1h5m-4 8h5m-4 0h5m-5-8h5m-4 8h5m-4-6h5m-5 1h5m-4 4h5m-4-1h5m-5 2h5m-5-5h5m-5 2h5m-4-2h5m-5-1h5m-5 6h5m-4-5h5m-5 1h5m-5 2h5m-5-1h5m-4-4h5m-4 5h5m-4-2h5m-5 3h5m-5-6h5m-4 3h5m-5 1h5m-5 3h5m-5-8h5m-4 4h5m-5 3h5m-5-8h5m-4 9h5m-4-6h5m-5 4h5m-4 1h5m-5-4h5m-4 3h5m-5-7h5m-4 5h5m-5 2h5m-5 1h5m-4-1h5m-4-6h5m-4-1h5m-5 8h5m-4 0h5m-5-8h5m-5 2h5m-5 1h5m-4-2h5m-5 6h5m-5-1h5m-5-6h5m-4 6h5m-4 2h5m-5-1h5m-4-4h5m-4-3h5m-5 2h5m-5 2h5m-5 3h5m-4-4h5m-5 2h5m-5 1h5m-5 2h5m-5-6h5m-5-1h5m-5 3h5m-4 0h5m-5 1h5m-5 2h5m-4 2h5m-5-9h5m-4 3h5m-5 3h5m-5-1h5m-5 3h5m-4-2h5m-5 1h5m-5-5h5m-4-1h5m-5 3h5m-5-1h5m-4 5h5m-4-6h5m-4-2h5m-5 1h5m-4-1h5m-5 1h5m-5 2h5m-5 2h5m-4-4h5m-4 4h5m-4-3h5m-5 3h5m-4-3h5m-4 0h5m-5-1h5m-3 0h5m-4 4h5m-5 1h5m-5-6h5m-4 1h5m-4 7h5m-2-8h5m-4 4h5m-5 2h5m-5-6h5m-4 2h5m-4 0h5m-4 0h5m-5-1h5m-5 3h5m-5 4h5m-3-8h5m-5 1h5m-5 2h5m-2 0h5m-3 0h5m-2 2h5m-4-3h5m-4-1h5m-4-1h5m-4 7h5m-2-7h5m-5 2h5m6 4h5m8-5h5m-162 10h5m0 4h5m2-5h5m1 1h5m-3 4h5m-1 0h5m-5 2h5m-4-1h5m-5-1h5m0-5h5m-1 2h5m-5 2h5m-5-1h5m-4 4h5m-4-1h5m-5 3h5m-3-1h5m-4-5h5m-4 5h5m-3-6h5m-4 2h5m-3 1h5m-5 2h5m-4-1h5m-5-2h5m-5-1h5m-4 5h5m-5-8h5m-5 2h5m-5 3h5m-4-1h5m-3-1h5m-5 4h5m-5-1h5m-5 3h5m-4-5h5m-5 2h5m-4-4h5m-4-1h5m-5 3h5m-5-1h5m-5 5h5m-4-8h5m-4 3h5m-5 6h5m-4-4h5m-5 4h5m-4-4h5m-5 1h5m-4 0h5m-5-5h5m-4 7h5m-5-2h5m-4 1h5m-5-6h5m-4 7h5m-5-6h5m-4 0h5m-4 1h5m-4 1h5m-4 3h5m-5 2h5m-5-5h5m-4-3h5m-5 3h5m-5-4h5m-4 4h5m-4-3h5m-5 2h5m-5 2h5m-3-5h5m-5 2h5m-5 4h5m-5 1h5m-4 2h5m-4-1h5m-5-7h5m-4 6h5m-5-6h5m-3 3h5m-5 4h5m-4-3h5m-5-2h5m-4 0h5m-5 5h5m-3-4h5m-4 4h5m-5-1h5m-5-5h5m-3 2h5m-4-2h5m-4 3h5m-4-5h5m-4 0h5m-5 3h5m-5 2h5m-5 4h5m-4-8h5m-5 4h5m-4 3h5m-5 1h5m-5-8h5m-4 2h5m-5 6h5m-4-1h5m-5-4h5m-4-3h5m-4-1h5m-5 2h5m-4 1h5m-5 5h5m-5-4h5m-4 4h5m-5-6h5m-4 5h5m-5 2h5m-5-9h5m-5 6h5m-4 3h5m-5-5h5m-4 5h5m-5-4h5m-2-3h5m-5 4h5m-5-1h5m-4 2h5m-5 1h5m-4-5h5m-3 0h5m-5-2h5m-3 2h5m-5 1h5m-3 0h5m-5 2h5m-1 1h5m-5-1h5m-5 2h5m-4-4h5m-5 2h5m-5-5h5m-5-1h5m-4 2h5m-4 1h5m-2-2h5m1-1h5m-4 4h5m-3-1h5m-2-2h5m-4 1h5m-4 2h5m-1-2h5m-134 16h5m4-6h5m-3 1h5m-3-1h5m-1 6h5m-5-6h5m-3-1h5m-5 1h5m-3-1h5m-4 1h5m-5 4h5m-3-5h5m-5 7h5m-4 1h5m-5-5h5m-3-1h5m-5 3h5m-4 0h5m-4-2h5m-5-3h5m-4 3h5m-3-3h5m-4 8h5m-5-8h5m-5 1h5m-4 1h5m-5 3h5m-5-4h5m-4 2h5m-5 2h5m-5-5h5m-5-1h5m-4 1h5m-4 8h5m-5-5h5m-4 4h5m-4-6h5m-5 4h5m-4-5h5m-4 4h5m-4 0h5m-4-1h5m-5 4h5m-4-1h5m-4-5h5m-5-2h5m-4 2h5m-4 5h5m-5-3h5m-5-1h5m-4 1h5m-5 3h5m-5-7h5m-5 3h5m-4 4h5m-4 1h5m-5 1h5m-5-9h5m-4 3h5m-4 4h5m-5-3h5m-4 1h5m-5-4h5m-3 1h5m-5 4h5m-5 1h5m-4 1h5m-4 1h5m-5-8h5m-5 1h5m-5 2h5m-4 5h5m-4-3h5m-5-6h5m-4 0h5m-3 2h5m-5 2h5m-5 3h5m-5 2h5m-4-3h5m-5 2h5m-5-7h5m-3 7h5m-5-7h5m-5-1h5m-4 4h5m-4 4h5m-5-1h5m-5-6h5m-5-1h5m-5 3h5m-5-1h5m-5 2h5m-4 0h5m-5 2h5m-5 1h5m-5-7h5m-4 8h5m-5-4h5m-4 5h5m-4-8h5m-5 2h5m-5 3h5m-5-1h5m-4 2h5m-5-3h5m-3-3h5m-5 3h5m-4 3h5m-5 1h5m-4-8h5m-3 8h5m-5-8h5m-4 0h5m-4 1h5m-5 2h5m-5 1h5m-4 0h5m-5 5h5m-5-8h5m-3 7h5m-4-4h5m-5-4h5m-2 9h5m-4-9h5m-5 5h5m-5 3h5m-5-1h5m-4-6h5m-4 3h5m-5 2h5m-3-3h5m-5-2h5m-4 1h5m-5 7h5m-5-8h5m-3 3h5m-4 0h5m-2-3h5m-1 3h5m-5-2h5m-2 4h5m-3 0h5m5-2h5m5-4h5m3 5h5m-156 6h5m17 6h5m-1-1h5m-5 1h5m-4 0h5m-2-6h5m-1 6h5m-4-7h5m-5 3h5m-2-3h5m-4 7h5m-2-4h5m-5-1h5m-5 7h5m-3-7h5m-5 1h5m-1-3h5m-4 3h5m-5-1h5m-2 4h5m-4-6h5m-5 3h5m-2-2h5m-4 6h5m-4-7h5m-3 5h5m-5-5h5m-3 4h5m-4-3h5m-4 0h5m-4 6h5m-5-7h5m-4 1h5m-4 2h5m-5 2h5m-4-2h5m-2 2h5m-4-3h5m-4-1h5m-5 1h5m-3-1h5m-5 1h5m-5 4h5m-5-6h5m-1 7h5m-4-1h5m-4 2h5m-4-2h5m-5-2h5m-4 2h5m-5 2h5m-5-8h5m-5 3h5m-5-1h5m-4 2h5m-4 5h5m-5-4h5m-5-1h5m1-1h5m-4-3h5m-5 2h5m-5 3h5m-4-1h5m-3 5h5m-4-2h5m-3-6h5m-2 3h5m-4 4h5m-2-3h5m-4-4h5m-1 3h5m5 0h5m-2 1h5m-2-3h5m-126 16h5m-2-5h5m0 1h5m4-2h5m-5 2h5m-2-1h5m-3 3h5m-2-6h5m-2 4h5m-3 1h5m-5 1h5m-2-4h5m-5 3h5m-3-2h5m-4-2h5m-4 7h5m-3-8h5m-2 5h5m-5 1h5m-4 0h5m-4-4h5m-2 4h5m-4-6h5m-5 9h5m-3-8h5m-3 4h5m-4-3h5m-5-2h5m-3 5h5m-3 2h5m-5-4h5m-5 3h5m-2-5h5m-2 7h5m-4 0h5m-2-6h5m-5 1h5m-1 0h5m-5 3h5m-3-5h5m-3 6h5m-4 1h5m-4-6h5m-4 0h5m-5 1h5m-4-2h5m-4 7h5m0-4h5m-2-3h5m-4 5h5m0 1h5m-4-3h5m1-2h5m4-1h5m3 1h5m7 5h5m-138 12h5m11 0h5m5-4h5m2 3h5m2-7h5m-4 2h5m-4 3h5m4 1h5m-5 2h5m-1-8h5m-5 4h5m-4-3h5m-1 5h5m-2-5h5m-3 6h5m-4-1h5m-2-4h5m-4 0h5m-2 3h5m-3 0h5m-1-6h5m0 9h5m-1-1h5m-3-3h5m-4 0h5m10-4h5m-114 14h5m12-1h5m6 0h5m-4 3h5m4-4h5m-5 4h5m-1-7h5m-2 8h5m-4-1h5m-5-5h5m-2 1h5m5 0h5m-3 6h5m4-4h5m-4-5h5m-4 1h5m-2 1h5m1 6h5m1-1h5m-4-7h5m-1 0h5m-4 6h5m-110 4h5m3 1h5m8-1h5m4 5h5m3-4h5m20-1h5m1 4h5m-5-3h5m3 1h5m1 7h5m-13 1h5m13 5h5m-6 5h5m-67 22h5" stroke="#000" stroke-width="5" stroke-opacity="0.9" fill="none"/>
<path transform="scale(.1)" d="M4525 2105h5m69 4h5m13-6h5m-162 12h5m106 4h5m0-5h5m-230 6h5m42 8h5m13-5h5m52 3h5m50-4h5m13 7h5m11-1h5m13 0h5m-190 3h5m23 2h5m3 5h5m60-8h5m51 3h5m-3-3h5m2 7h5m21-4h5m-1 6h5m-4-8h5m-150 15h5m5 0h5m10-2h5m1 4h5m10-5h5m3 4h5m0-4h5m-2-2h5m6-1h5m9 2h5m2 7h5m14-1h5m28-5h5m1-3h5m2 6h5m-275 8h5m34-2h5m15 6h5m9-5h5m4 5h5m-3-1h5m9 2h5m-4-2h5m12-5h5m4 1h5m-5 3h5m45-3h5m5 5h5m-4-5h5m6 3h5m-1 0h5m-5 3h5m-1-7h5m3 0h5m3-1h5m12 0h5m3 7h5m-2-6h5m-5 5h5m-239 12h5m3-1h5m18-3h5m-3 0h5m-3 4h5m-4-1h5m2-5h5m-5 5h5m1-3h5m12-2h5m23 4h5m-3-7h5m9 6h5m5-5h5m-1 0h5m-2-1h5m5 7h5m-4 0h5m10 2h5m-5-3h5m0-1h5m-3-5h5m8 1h5m-3 5h5m-2-2h5m-5-2h5m0-1h5m30 5h5m-4-4h5m0-2h5m2 6h5m3-4h5m-5 6h5m12-2h5m17-6h5m2 2h5m-304 10h5m-5 3h5m8-4h5m-4 6h5m0-2h5m10-3h5m-2 6h5m-5 1h5m-1-4h5m0 0h5m-1 1h5m-4 3h5m3-9h5m-2 5h5m-1-4h5m0 1h5m-3-2h5m0 9h5m-3 0h5m-1 0h5m0-2h5m-1-5h5m-2 0h5m10 6h5m1 1h5m2-2h5m3 0h5m-2 1h5m4-4h5m1 0h5m2-2h5m-4 6h5m1-7h5m-3 5h5m2-5h5m-2 5h5m3-6h5m-1 6h5m2-5h5m-4 0h5m5 2h5m-5 4h5m7 0h5m-1 1h5m-1 1h5m-4-2h5m-5-3h5m-4-2h5m-2 1h5m8 3h5m16-6h5m3 1h5m5-1h5m69 0h5m-390 17h5m19 0h5m0-6h5m-5 5h5m11 3h5m3-7h5m-1 7h5m-5-1h5m-4-4h5m0 4h5m0-4h5m-5-1h5m3 0h5m-4 1h5m2-2h5m-4 7h5m0-4h5m-4 1h5m4 2h5m-3-1h5m-2-1h5m3-1h5m4 4h5m-3-2h5m-2-6h5m15 0h5m-4 6h5m2 2h5m5-1h5m-1-6h5m0 4h5m-4-1h5m6-4h5m-5 3h5m-1 0h5m7 1h5m-4-5h5m-2 5h5m-3-1h5m-2 4h5m-1-5h5m-3-2h5m-1 1h5m-4 5h5m-3-2h5m0-4h5m-3 2h5m-2-3h5m-5 2h5m-3 3h5m8 4h5m-4-8h5m-3 0h5m-5 1h5m-4 7h5m-4-5h5m1-4h5m-4 2h5m-4-2h5m-4 5h5m-4 1h5m-3-5h5m0 8h5m5-9h5m12 3h5m-2 5h5m-4 0h5m19-2h5m-354 13h5m-1-8h5m-2 0h5m30 2h5m-2-3h5m1 4h5m1-4h5m-1 3h5m-4 3h5m-4-1h5m1-4h5m-3 7h5m-4-8h5m-2 8h5m-4-6h5m10-2h5m-1 8h5m-3-6h5m-1-2h5m-4 7h5m-2-1h5m-3 0h5m0-1h5m-2-1h5m-2-3h5m-4 1h5m-4 5h5m-3-3h5m-4-3h5m-4 4h5m-1-2h5m-2 1h5m-4-1h5m-3 6h5m-3-8h5m-3 0h5m1 4h5m-1-4h5m-1 6h5m-1-4h5m-2 5h5m-4-7h5m-5-1h5m-1 1h5m1 7h5m-3-7h5m-1 1h5m-2 2h5m-2-4h5m1 2h5m-4 5h5m-4-2h5m-3-4h5m14 2h5m-1 0h5m-5 2h5m-4-3h5m-4 0h5m-5 3h5m-1 1h5m-3-5h5m-3 7h5m-5-8h5m2 4h5m2 5h5m-4-4h5m-2-5h5m-3 0h5m-1 4h5m-4 2h5m0 1h5m-3-7h5m-5 3h5m-4-1h5m-5 4h5m0 2h5m-1-5h5m-5 5h5m-2-6h5m-4 5h5m1 0h5m4-4h5m-4 1h5m-5-3h5m-1 8h5m4-6h5m31-2h5m-4 7h5m5-1h5m7-1h5m-407 9h5m53 0h5m0-5h5m5 7h5m2-5h5m-4-2h5m-2 0h5m0 3h5m-4-1h5m-3 4h5m-3-4h5m-5 6h5m-4 1h5m3-9h5m-2 2h5m-5 4h5m-3-4h5m-3 7h5m-2-9h5m-4 4h5m1 0h5m-4 0h5m-1 3h5m-2-2h5m-4 4h5m-1-9h5m-5 4h5m-2-4h5m-5 6h5m0-5h5m5 1h5m-3 3h5m-5-4h5m-3 7h5m-4-3h5m-4-2h5m-3 1h5m-4 3h5m0-2h5m-4-3h5m-5 3h5m-5 4h5m0-7h5m-5 3h5m4 4h5m-2-7h5m2 3h5m6 1h5m-4-4h5m-4 5h5m-4-4h5m8 4h5m5-6h5m-3 5h5m-1-5h5m-3 2h5m0 0h5m-2 5h5m-4 1h5m-4-7h5m-5-2h5m-4 7h5m-4-7h5m1 2h5m-4 1h5m-5-1h5m-1-1h5m-3 1h5m11 7h5m-4-3h5m-1-5h5m-3 5h5m-5-5h5m-4 4h5m-4-2h5m-4 6h5m-3-6h5m-4-1h5m-2 2h5m-4 1h5m-4 1h5m-2-6h5m-2 7h5m-5-5h5m-3 1h5m-2-2h5m-3-1h5m-4 5h5m-2 1h5m-2 2h5m-2-6h5m-4 6h5m-5-1h5m-4-5h5m5 0h5m2 3h5m-4-5h5m-2 5h5m-4-1h5m-3 0h5m5-1h5m-3-1h5m9 1h5m-1-3h5m0 2h5m-343 15h5m-3-3h5m10 4h5m0-5h5m-3 5h5m-4-7h5m11 5h5m-4 2h5m-1-7h5m-3 1h5m-5 1h5m-1-2h5m-4 5h5m-4 0h5m-4-1h5m-4-4h5m-3-1h5m-2 9h5m-2-7h5m-3 6h5m-4-6h5m1 5h5m0-6h5m-5 2h5m-2-3h5m-4 6h5m-5-1h5m-3-1h5m-3-3h5m-3 1h5m-4 3h5m-4-2h5m-3 4h5m2-6h5m-4-1h5m-4 4h5m-5 1h5m-3 2h5m-4-7h5m-2 9h5m0 0h5m-4 0h5m-4-2h5m-1-5h5m0 2h5m-5 2h5m-3-1h5m-2 4h5m11-8h5m-3 7h5m-2-7h5m-4 8h5m-3-3h5m-4 0h5m-4-3h5m3 1h5m-3-3h5m-3 5h5m-5 3h5m-5-1h5m5-5h5m-4 5h5m-3 0h5m-4-5h5m-4 1h5m-3 3h5m-5-7h5m-4 5h5m-3-1h5m2 1h5m-4 3h5m-5-3h5m-4 0h5m-2 0h5m2-3h5m3 4h5m-1-3h5m-5 2h5m-3-3h5m-5 3h5m-5 2h5m-1-6h5m-5-1h5m-2 2h5m-4 5h5m-5 1h5m3-7h5m-4 2h5m-5-1h5m1 3h5m-3 2h5m-5-2h5m-4 4h5m0-3h5m0-6h5m-4 7h5m-2-3h5m-2 5h5m-5-5h5m-2 1h5m3 0h5m-4 3h5m-4 1h5m-4-7h5m6-2h5m-3 1h5m-4 5h5m-3-5h5m-2 8h5m1-7h5m-4 6h5m13 1h5m-1-7h5m30-1h5m-396 11h5m46-1h5m-4 6h5m3-3h5m-3-2h5m-2 2h5m2-1h5m0 5h5m-5-6h5m-2 5h5m0-2h5m-2 3h5m-4-4h5m-5 3h5m-5 2h5m-4-8h5m-5-1h5m0 5h5m-1 3h5m-3-4h5m-3 3h5m-5 2h5m-4-4h5m-1 0h5m-4-4h5m-4 3h5m-2 5h5m-5-8h5m-4 5h5m-2-1h5m-1 2h5m-4-4h5m-5 2h5m-4 3h5m-4-7h5m-4 4h5m-1 1h5m-3 1h5m-1-7h5m-5 1h5m-4 6h5m-4-2h5m-4 3h5m-4-5h5m-5 2h5m-4-1h5m-4 2h5m-4-1h5m-4 3h5m-2 1h5m-1-6h5m-5 4h5m-3-6h5m-3-1h5m-4 9h5m7-1h5m-5-8h5m7 4h5m8-3h5m-3 4h5m-4 0h5m-4 4h5m-3-2h5m-4 0h5m-5 1h5m-3 0h5m-4-3h5m-4 1h5m-3-3h5m-5 5h5m-2 0h5m2-4h5m-5-2h5m7 7h5m-4-2h5m1-7h5m-3 2h5m-5 7h5m4 0h5m-4-4h5m-3 2h5m-3 2h5m-1-1h5m-3-3h5m-5-2h5m1 4h5m-3-4h5m-5 3h5m-4-1h5m-4-3h5m-3 2h5m-3-4h5m-3 0h5m-2 4h5m-3 0h5m1 5h5m-3-5h5m-3-3h5m-1 8h5m-5-8h5m-2 4h5m-4-1h5m-3-2h5m4 5h5m0 0h5m0-1h5m-1 0h5m3 1h5m-2 2h5m-5-6h5m-2 6h5m6-8h5m1 6h5m15-3h5m1 3h5m4-2h5m-364 12h5m11-5h5m-1 4h5m16-3h5m-3 6h5m-1 0h5m-1-8h5m-2 3h5m-4 5h5m-2-1h5m-2-6h5m-2 5h5m-1 0h5m-3 0h5m-5 2h5m-4-2h5m-4 1h5m-4-1h5m-5-1h5m-3-2h5m-4-1h5m-4 2h5m-3-5h5m2 1h5m-4 4h5m-3-5h5m-3 5h5m-4 2h5m1-5h5m-1 6h5m-5-6h5m-4 0h5m-4 0h5m-5 5h5m-1 1h5m-2-8h5m-4 1h5m-4 5h5m-5-4h5m-1-1h5m-4 4h5m-5 3h5m-3-1h5m3-6h5m-4 3h5m-4-3h5m-3-1h5m-4 9h5m1-4h5m0 2h5m-5-4h5m-4 6h5m-4-5h5m0-4h5m-2 4h5m2 4h5m-4 0h5m-2-2h5m-1-5h5m-5 6h5m-3 0h5m0 0h5m4-7h5m-5 6h5m2-2h5m-4 1h5m-2 3h5m-5-8h5m-4 6h5m-4-2h5m-3 0h5m-4-2h5m-2 2h5m0-4h5m-5 7h5m-3-3h5m2-2h5m1 3h5m-5-1h5m-4-2h5m-4 1h5m-4 5h5m-3 1h5m-2-8h5m-3 4h5m-3 4h5m-5-1h5m11-3h5m0 3h5m-4-3h5m-4 1h5m1-6h5m5 0h5m-2 9h5m-3 0h5m-2 0h5m-3-8h5m-4 8h5m-4-4h5m-3-3h5m-5 2h5m-3 1h5m-1-1h5m-4 4h5m-5-3h5m0 0h5m-1 1h5m-4-2h5m23-3h5m6 0h5m-3 1h5m0 2h5m-371 15h5m8-2h5m13 2h5m8-9h5m-5 6h5m-4 2h5m-2-2h5m-4-6h5m-4 0h5m-2 7h5m-3 0h5m-1 0h5m-5-6h5m-2 5h5m-4-2h5m-4 2h5m-5-2h5m6 3h5m-3-1h5m-5-3h5m-2 1h5m-4 5h5m2-5h5m-4 0h5m-3-4h5m-5 1h5m-5 4h5m0-5h5m-4 1h5m-5 5h5m0 2h5m-1-8h5m-4 2h5m-2 6h5m-4 1h5m-3-3h5m-4-2h5m-4 2h5m3 0h5m-5-4h5m-3-1h5m-3 6h5m-4-4h5m-4 3h5m-3 1h5m-4-3h5m-1-2h5m-3 3h5m1 3h5m-4-2h5m-4-4h5m-4-1h5m-4 7h5m-4 0h5m-3-3h5m-3-4h5m-2 4h5m-3 0h5m-4 0h5m-5 4h5m-1 0h5m-2-9h5m-3 3h5m7 2h5m2-3h5m10 0h5m1-2h5m-1 5h5m-3 1h5m-4 2h5m-3-2h5m5 2h5m-5 1h5m-5-9h5m-4 1h5m-1 1h5m-3 3h5m-3 4h5m-1-4h5m-5-2h5m-4 4h5m-5 2h5m-4-7h5m-3 4h5m-3-3h5m-2 1h5m4 3h5m-5-3h5m-4-4h5m-3 8h5m-4-2h5m-1-2h5m-3 4h5m-4-5h5m2 6h5m-1-7h5m-1 7h5m1-7h5m0 0h5m-5 2h5m-5 3h5m-1 2h5m-4 0h5m3-1h5m2 0h5m0-5h5m-3-1h5m4 2h5m0 2h5m-3 2h5m1-7h5m-344 16h5m9 1h5m1-6h5m-3 6h5m0-8h5m10 3h5m-2 2h5m-1-2h5m-2-2h5m-1-1h5m-4 4h5m-4 5h5m-4-5h5m-2 5h5m-4-9h5m-4 1h5m-4 6h5m-4-2h5m-4 0h5m-5-4h5m-5 2h5m-2 6h5m-3-8h5m-2 7h5m-4-1h5m-1-1h5m-4 0h5m-2 3h5m0-2h5m-3-6h5m-1-1h5m-5 4h5m-5-1h5m-4 2h5m-5-5h5m-2 0h5m-4 1h5m-4 2h5m-5 2h5m-3 4h5m-5-8h5m-4 7h5m-4-1h5m-4 2h5m0-6h5m-4-3h5m-2 5h5m-3-4h5m-4 2h5m0 5h5m1-4h5m-5 5h5m-4 0h5m1-9h5m-4 1h5m0 4h5m-2-1h5m-4 1h5m-5 3h5m0-4h5m-5-3h5m-4 8h5m-4-2h5m-5-7h5m-3 3h5m-4 5h5m-4-6h5m-4-1h5m-2 2h5m-2-1h5m2 0h5m3-1h5m5 2h5m-5 3h5m2-5h5m0 2h5m10 0h5m-4-3h5m-2 6h5m-5 3h5m-1-3h5m-4-3h5m2-1h5m1 1h5m-4-1h5m-2 6h5m-4-8h5m-2 0h5m0 5h5m-5-5h5m12 2h5m-2 1h5m3 3h5m-5-4h5m-4 5h5m5-6h5m10 1h5m12 3h5m2 3h5m-337 2h5m15 2h5m-4-2h5m1 9h5m-2-4h5m-4 1h5m1 0h5m-3-1h5m-2 1h5m-4-3h5m1 3h5m-2 0h5m-5-1h5m-3 3h5m-4-8h5m-5 3h5m0 2h5m-2 1h5m-2 2h5m10-1h5m-4-2h5m-4-5h5m-1 7h5m-3 2h5m-1-9h5m-1 9h5m-2-6h5m-5 5h5m-3 1h5m-3-2h5m-3 1h5m-5-1h5m2 0h5m-3-5h5m-3 5h5m-4-2h5m-4-5h5m-3 0h5m-5 9h5m-5-7h5m-3 0h5m-4-2h5m-5 2h5m-2-2h5m-5 1h5m-1 7h5m0-6h5m2 2h5m-1-1h5m8 2h5m-1-4h5m18 6h5m-1-6h5m0 1h5m-2 4h5m-4 0h5m-3-4h5m-4 5h5m-2-3h5m-5 3h5m1 1h5m13-3h5m4 1h5m-3-6h5m-3 5h5m-3 4h5m-5-7h5m-4 2h5m5 0h5m-1 2h5m-1-6h5m-5 3h5m2-1h5m-2 1h5m15 3h5m-5 3h5m-5-1h5m3 0h5m24-5h5m10 0h5m2 6h5m-367 1h5m6 0h5m-5 2h5m-1 0h5m-1 3h5m10 1h5m-4-2h5m1-4h5m-5 2h5m-4 5h5m-2-3h5m-4-2h5m-3 3h5m-4 3h5m5-3h5m-2 0h5m6 0h5m-1-4h5m-3 7h5m-5-3h5m0-5h5m-1 9h5m1-3h5m2-3h5m-4-3h5m-4 2h5m-3 7h5m0-6h5m-4-2h5m-4 2h5m-2 5h5m-3-8h5m-4 1h5m-2 3h5m-4-1h5m3 4h5m-2-7h5m-4 1h5m6 4h5m-1 3h5m-4-5h5m22-3h5m18 6h5m4 1h5m-5-6h5m12 5h5m-1-2h5m-3-4h5m-4 4h5m-1 5h5m-1 0h5m-3-8h5m2 4h5m-3-1h5m-1 2h5m7 3h5m-1-7h5m-3 6h5m-3 0h5m2-7h5m3 1h5m-2 7h5m-4-7h5m4 4h5m0 2h5m-285 4h5m1 4h5m-3-4h5m13 4h5m-1-2h5m4-1h5m-3-1h5m-4 1h5m3-3h5m-5 5h5m0 2h5m-3-4h5m-4 2h5m-3 4h5m10-9h5m-4 3h5m-4-2h5m-4 8h5m1-4h5m3-3h5m6 3h5m-4-2h5m2 1h5m-2 2h5m-1-4h5m13 5h5m-4-1h5m3-6h5m-2 0h5m1 1h5m-3 8h5m23-2h5m1-6h5m12 7h5m-2-3h5m2-2h5m12 3h5m5-1h5m-3 3h5m9-6h5m24 1h5m19 6h5m-321 9h5m9 0h5m2-3h5m-3 4h5m18-9h5m-3 0h5m-1 0h5m-4 6h5m-1-6h5m-1 2h5m5 2h5m-5-1h5m2 0h5m-3 2h5m-1-4h5m-2 1h5m-2 0h5m-4 0h5m11-2h5m6 6h5m10-1h5m-4-4h5m16 8h5m10-9h5m27 7h5m-1-1h5m13-5h5m4 1h5m9 7h5m31-5h5m6 0h5m27 1h5m-367 14h5m23-7h5m2 6h5m17 1h5m16-3h5m-4-1h5m-1 4h5m-2-7h5m-3 5h5m14-3h5m-5 3h5m-1-7h5m-4 0h5m8 2h5m5 5h5m51-5h5m-3-2h5m53 8h5m2-2h5m5-6h5m6 4h5m66 1h5m5-3h5m-334 13h5m10 2h5m26-2h5m14-3h5m15 6h5m1-6h5m13 2h5m113 2h5m13 1h5m10-7h5m-215 12h5m-1-2h5m36 8h5m8-8h5m115 1h5m-213 13h5m-2-1h5m-3 4h5m12-3h5m-23 20h5" stroke="#000" stroke-width="5" stroke-opacity="0.5" fill="none"/>
<path transform="scale(.1)" d="M4516 1832h5m24 5h5m-52 7h5m-118 11h5m92 4h5m4-3h5m-45 22h5m140 1h5m-192 4h5m23 9h5m73-2h5m-123 13h5m31-3h5m23 3h5m9 2h5m37 1h5m-168 13h5m41 0h5m132-1h5m-82 5h5m-47 15h5m25-1h5m10 1h5m33-6h5m2 2h5m7-4h5m46 1h5m-172 9h5m3 9h5m40-4h5m-106 14h5m-58 2h5m83 4h5m18 2h5m68 2h5m-4-9h5m44 3h5m17 5h5m-124 5h5m5 4h5m34 0h5m20-3h5m52 3h5m-187 3h5m43 0h5m45 7h5m2-3h5m-1 5h5m-25 1h5m3 9h5m8-9h5m-179 11h5m12-1h5m115 1h5m22 7h5m13-6h5m38 6h5m-128 4h5m14 7h5m-146 7h5m43-3h5m40-2h5m22 3h5m0 4h5m-4-2h5m23-3h5m48-2h5m-104 12h5m-4 3h5m24-4h5m49 7h5m9-4h5m45 0h5m3-3h5m-174 8h5m7 9h5m16-9h5m53 8h5m-134 2h5m27 1h5m19 8h5m56-9h5m27 24h5m25 5h5m-30 8h5m-200 6h5m66 1h5m168 4h5m-223 10h5m182-3h5m4 3h5m-108 10h5m2 15h5m52 4h5m-17 3h5m-22 26h5m-35 9h5m59 0h5m3-3h5m-58 11h5" stroke="#000" stroke-width="5" stroke-opacity="0.3" fill="none"/>
<line x1="443.85" y1="173" x2="443.85" y2="238.2" stroke="#000" stroke-width="0.8"/>
<line x1="423.5" y1="214" x2="483.7" y2="214" stroke="#000" stroke-width="0.8"/>
<line x1="423.50" y1="238.2" x2="423.50" y2="239.79999999999998" stroke="#000" stroke-width="0.5"/>
<line x1="421.9" y1="238.20" x2="423.5" y2="238.20" stroke="#000" stroke-width="0.5"/>
<text class="s" x="422.7" y="243.5" font-size="2.8" fill-opacity="0.75">10<tspan dy="-1.2" font-size="2.2">0</tspan></text>
<text class="s" x="417.2" y="239.4" font-size="2.8" fill-opacity="0.75">10<tspan dy="-1.2" font-size="2.2">0</tspan></text>
<line x1="428.03" y1="238.2" x2="428.03" y2="239.1" stroke="#000" stroke-width="0.35"/>
<line x1="422.6" y1="233.29" x2="423.5" y2="233.29" stroke="#000" stroke-width="0.35"/>
<line x1="430.68" y1="238.2" x2="430.68" y2="239.1" stroke="#000" stroke-width="0.35"/>
<line x1="422.6" y1="230.42" x2="423.5" y2="230.42" stroke="#000" stroke-width="0.35"/>
<line x1="432.56" y1="238.2" x2="432.56" y2="239.1" stroke="#000" stroke-width="0.35"/>
<line x1="422.6" y1="228.39" x2="423.5" y2="228.39" stroke="#000" stroke-width="0.35"/>
<line x1="434.02" y1="238.2" x2="434.02" y2="239.1" stroke="#000" stroke-width="0.35"/>
<line x1="422.6" y1="226.81" x2="423.5" y2="226.81" stroke="#000" stroke-width="0.35"/>
<line x1="435.21" y1="238.2" x2="435.21" y2="239.1" stroke="#000" stroke-width="0.35"/>
<line x1="422.6" y1="225.52" x2="423.5" y2="225.52" stroke="#000" stroke-width="0.35"/>
<line x1="436.22" y1="238.2" x2="436.22" y2="239.1" stroke="#000" stroke-width="0.35"/>
<line x1="422.6" y1="224.42" x2="423.5" y2="224.42" stroke="#000" stroke-width="0.35"/>
<line x1="437.09" y1="238.2" x2="437.09" y2="239.1" stroke="#000" stroke-width="0.35"/>
<line x1="422.6" y1="223.48" x2="423.5" y2="223.48" stroke="#000" stroke-width="0.35"/>
<line x1="437.86" y1="238.2" x2="437.86" y2="239.1" stroke="#000" stroke-width="0.35"/>
<line x1="422.6" y1="222.65" x2="423.5" y2="222.65" stroke="#000" stroke-width="0.35"/>
<line x1="438.55" y1="238.2" x2="438.55" y2="239.79999999999998" stroke="#000" stroke-width="0.5"/>
<line x1="421.9" y1="221.90" x2="423.5" y2="221.90" stroke="#000" stroke-width="0.5"/>
<text class="s" x="437.8" y="243.5" font-size="2.8" fill-opacity="0.75">10<tspan dy="-1.2" font-size="2.2">1</tspan></text>
<text class="s" x="417.2" y="223.1" font-size="2.8" fill-opacity="0.75">10<tspan dy="-1.2" font-size="2.2">1</tspan></text>
<line x1="443.08" y1="238.2" x2="443.08" y2="239.1" stroke="#000" stroke-width="0.35"/>
<line x1="422.6" y1="216.99" x2="423.5" y2="216.99" stroke="#000" stroke-width="0.35"/>
<line x1="445.73" y1="238.2" x2="445.73" y2="239.1" stroke="#000" stroke-width="0.35"/>
<line x1="422.6" y1="214.12" x2="423.5" y2="214.12" stroke="#000" stroke-width="0.35"/>
<line x1="447.61" y1="238.2" x2="447.61" y2="239.1" stroke="#000" stroke-width="0.35"/>
<line x1="422.6" y1="212.09" x2="423.5" y2="212.09" stroke="#000" stroke-width="0.35"/>
<line x1="449.07" y1="238.2" x2="449.07" y2="239.1" stroke="#000" stroke-width="0.35"/>
<line x1="422.6" y1="210.51" x2="423.5" y2="210.51" stroke="#000" stroke-width="0.35"/>
<line x1="450.26" y1="238.2" x2="450.26" y2="239.1" stroke="#000" stroke-width="0.35"/>
<line x1="422.6" y1="209.22" x2="423.5" y2="209.22" stroke="#000" stroke-width="0.35"/>
<line x1="451.27" y1="238.2" x2="451.27" y2="239.1" stroke="#000" stroke-width="0.35"/>
<line x1="422.6" y1="208.12" x2="423.5" y2="208.12" stroke="#000" stroke-width="0.35"/>
<line x1="452.14" y1="238.2" x2="452.14" y2="239.1" stroke="#000" stroke-width="0.35"/>
<line x1="422.6" y1="207.18" x2="423.5" y2="207.18" stroke="#000" stroke-width="0.35"/>
<line x1="452.91" y1="238.2" x2="452.91" y2="239.1" stroke="#000" stroke-width="0.35"/>
<line x1="422.6" y1="206.35" x2="423.5" y2="206.35" stroke="#000" stroke-width="0.35"/>
<line x1="453.60" y1="238.2" x2="453.60" y2="239.79999999999998" stroke="#000" stroke-width="0.5"/>
<line x1="421.9" y1="205.60" x2="423.5" y2="205.60" stroke="#000" stroke-width="0.5"/>
<text class="s" x="452.8" y="243.5" font-size="2.8" fill-opacity="0.75">10<tspan dy="-1.2" font-size="2.2">2</tspan></text>
<text class="s" x="417.2" y="206.8" font-size="2.8" fill-opacity="0.75">10<tspan dy="-1.2" font-size="2.2">2</tspan></text>
<line x1="458.13" y1="238.2" x2="458.13" y2="239.1" stroke="#000" stroke-width="0.35"/>
<line x1="422.6" y1="200.69" x2="423.5" y2="200.69" stroke="#000" stroke-width="0.35"/>
<line x1="460.78" y1="238.2" x2="460.78" y2="239.1" stroke="#000" stroke-width="0.35"/>
<line x1="422.6" y1="197.82" x2="423.5" y2="197.82" stroke="#000" stroke-width="0.35"/>
<line x1="462.66" y1="238.2" x2="462.66" y2="239.1" stroke="#000" stroke-width="0.35"/>
<line x1="422.6" y1="195.79" x2="423.5" y2="195.79" stroke="#000" stroke-width="0.35"/>
<line x1="464.12" y1="238.2" x2="464.12" y2="239.1" stroke="#000" stroke-width="0.35"/>
<line x1="422.6" y1="194.21" x2="423.5" y2="194.21" stroke="#000" stroke-width="0.35"/>
<line x1="465.31" y1="238.2" x2="465.31" y2="239.1" stroke="#000" stroke-width="0.35"/>
<line x1="422.6" y1="192.92" x2="423.5" y2="192.92" stroke="#000" stroke-width="0.35"/>
<line x1="466.32" y1="238.2" x2="466.32" y2="239.1" stroke="#000" stroke-width="0.35"/>
<line x1="422.6" y1="191.82" x2="423.5" y2="191.82" stroke="#000" stroke-width="0.35"/>
<line x1="467.19" y1="238.2" x2="467.19" y2="239.1" stroke="#000" stroke-width="0.35"/>
<line x1="422.6" y1="190.88" x2="423.5" y2="190.88" stroke="#000" stroke-width="0.35"/>
<line x1="467.96" y1="238.2" x2="467.96" y2="239.1" stroke="#000" stroke-width="0.35"/>
<line x1="422.6" y1="190.05" x2="423.5" y2="190.05" stroke="#000" stroke-width="0.35"/>
<line x1="468.65" y1="238.2" x2="468.65" y2="239.79999999999998" stroke="#000" stroke-width="0.5"/>
<line x1="421.9" y1="189.30" x2="423.5" y2="189.30" stroke="#000" stroke-width="0.5"/>
<text class="s" x="467.8" y="243.5" font-size="2.8" fill-opacity="0.75">10<tspan dy="-1.2" font-size="2.2">3</tspan></text>
<text class="s" x="417.2" y="190.5" font-size="2.8" fill-opacity="0.75">10<tspan dy="-1.2" font-size="2.2">3</tspan></text>
<line x1="473.18" y1="238.2" x2="473.18" y2="239.1" stroke="#000" stroke-width="0.35"/>
<line x1="422.6" y1="184.39" x2="423.5" y2="184.39" stroke="#000" stroke-width="0.35"/>
<line x1="475.83" y1="238.2" x2="475.83" y2="239.1" stroke="#000" stroke-width="0.35"/>
<line x1="422.6" y1="181.52" x2="423.5" y2="181.52" stroke="#000" stroke-width="0.35"/>
<line x1="477.71" y1="238.2" x2="477.71" y2="239.1" stroke="#000" stroke-width="0.35"/>
<line x1="422.6" y1="179.49" x2="423.5" y2="179.49" stroke="#000" stroke-width="0.35"/>
<line x1="479.17" y1="238.2" x2="479.17" y2="239.1" stroke="#000" stroke-width="0.35"/>
<line x1="422.6" y1="177.91" x2="423.5" y2="177.91" stroke="#000" stroke-width="0.35"/>
<line x1="480.36" y1="238.2" x2="480.36" y2="239.1" stroke="#000" stroke-width="0.35"/>
<line x1="422.6" y1="176.62" x2="423.5" y2="176.62" stroke="#000" stroke-width="0.35"/>
<line x1="481.37" y1="238.2" x2="481.37" y2="239.1" stroke="#000" stroke-width="0.35"/>
<line x1="422.6" y1="175.52" x2="423.5" y2="175.52" stroke="#000" stroke-width="0.35"/>
<line x1="482.24" y1="238.2" x2="482.24" y2="239.1" stroke="#000" stroke-width="0.35"/>
<line x1="422.6" y1="174.58" x2="423.5" y2="174.58" stroke="#000" stroke-width="0.35"/>
<line x1="483.01" y1="238.2" x2="483.01" y2="239.1" stroke="#000" stroke-width="0.35"/>
<line x1="422.6" y1="173.75" x2="423.5" y2="173.75" stroke="#000" stroke-width="0.35"/>
<line x1="483.70" y1="238.2" x2="483.70" y2="239.79999999999998" stroke="#000" stroke-width="0.5"/>
<line x1="421.9" y1="173.00" x2="423.5" y2="173.00" stroke="#000" stroke-width="0.5"/>
<text class="s" x="482.9" y="243.5" font-size="2.8" fill-opacity="0.75">10<tspan dy="-1.2" font-size="2.2">4</tspan></text>
<text class="s" x="417.2" y="174.2" font-size="2.8" fill-opacity="0.75">10<tspan dy="-1.2" font-size="2.2">4</tspan></text>
<text class="s" x="424.7" y="179.5" font-size="5.9" text-anchor="start">0.5</text>
<text class="s" x="482.3" y="179.8" font-size="5.9" text-anchor="end">0.6</text>
<text class="s" x="482.1" y="235" font-size="5.9" text-anchor="end">17.2</text>
</g>
</svg>
</body></html>
